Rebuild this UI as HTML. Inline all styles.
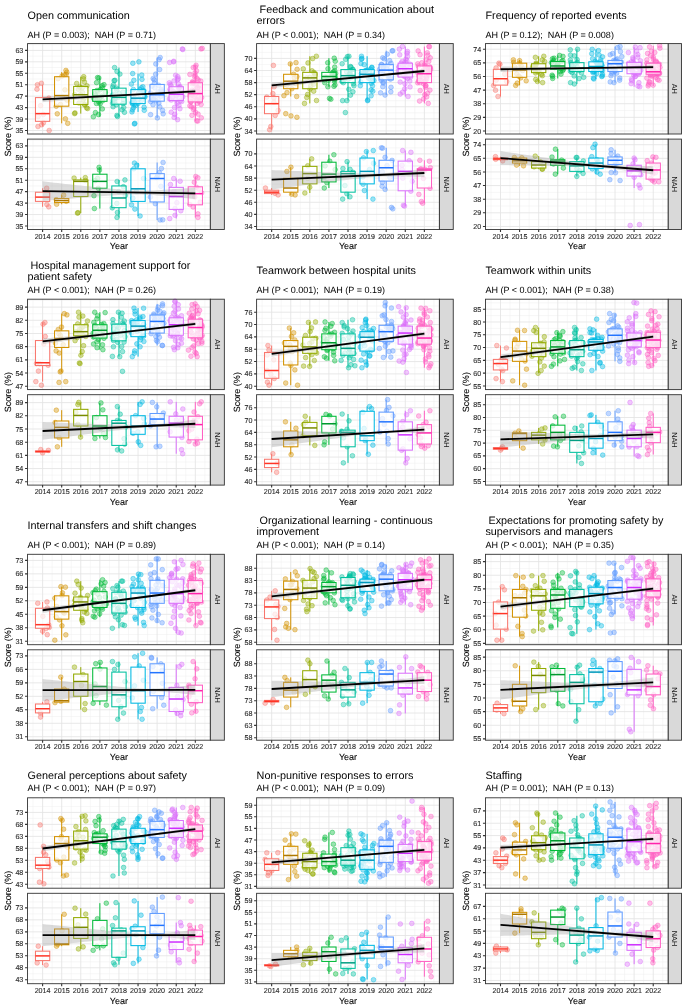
<!DOCTYPE html><html><head><meta charset="utf-8"><style>html,body{margin:0;padding:0;background:#fff;width:685px;height:1006px;overflow:hidden}svg{display:block;font-family:"Liberation Sans",sans-serif;filter:blur(0.3px)}</style></head><body><svg width="685" height="1006" viewBox="0 0 685 1006" font-family="Liberation Sans, sans-serif" text-rendering="geometricPrecision"><text x="27.55" y="18.6" font-size="10.82" fill="#000" xml:space="preserve">Open communication</text><text x="27.55" y="37.5" font-size="9.02" fill="#000" xml:space="preserve">AH (P = 0.003);  NAH (P = 0.71)</text><rect x="27.55" y="43.6" width="182.8" height="90.4" fill="#fff"/><path d="M27.55 44.68H210.35M27.55 56.12H210.35M27.55 67.56H210.35M27.55 79.01H210.35M27.55 90.45H210.35M27.55 101.89H210.35M27.55 113.34H210.35M27.55 124.78H210.35M33.05 43.6V134M52.15 43.6V134M71.23 43.6V134M90.33 43.6V134M109.42 43.6V134M128.5 43.6V134M147.59 43.6V134M166.68 43.6V134M185.77 43.6V134M204.86 43.6V134" stroke="#EEEEEE" stroke-width="0.5" fill="none"/><path d="M27.55 50.4H210.35M27.55 61.84H210.35M27.55 73.29H210.35M27.55 84.73H210.35M27.55 96.17H210.35M27.55 107.61H210.35M27.55 119.06H210.35M27.55 130.5H210.35M42.6 43.6V134M61.69 43.6V134M80.78 43.6V134M99.87 43.6V134M118.96 43.6V134M138.05 43.6V134M157.14 43.6V134M176.23 43.6V134M195.32 43.6V134" stroke="#E4E4E4" stroke-width="0.85" fill="none"/><g fill="#F8766D" fill-opacity="0.4" stroke="#F8766D" stroke-opacity="0.7" stroke-width="0.6"><circle cx="37.95" cy="126.5" r="2.35"/><circle cx="37.44" cy="84.73" r="2.35"/><circle cx="41.68" cy="124.77" r="2.35"/><circle cx="43.45" cy="122.76" r="2.35"/><circle cx="38.12" cy="116.6" r="2.35"/><circle cx="43.33" cy="114.51" r="2.35"/><circle cx="40.61" cy="105.67" r="2.35"/><circle cx="48.9" cy="98.12" r="2.35"/><circle cx="36.98" cy="89.21" r="2.35"/><circle cx="49.18" cy="130.5" r="2.35"/><circle cx="41.39" cy="83.3" r="2.35"/></g><g fill="#D39200" fill-opacity="0.4" stroke="#D39200" stroke-opacity="0.7" stroke-width="0.6"><circle cx="67.74" cy="123.35" r="2.35"/><circle cx="66.79" cy="72.14" r="2.35"/><circle cx="65.41" cy="118.85" r="2.35"/><circle cx="57.28" cy="113.81" r="2.35"/><circle cx="56.19" cy="106.2" r="2.35"/><circle cx="60.52" cy="104.49" r="2.35"/><circle cx="66.99" cy="100.06" r="2.35"/><circle cx="62.76" cy="97.43" r="2.35"/><circle cx="64.94" cy="89.84" r="2.35"/><circle cx="58.01" cy="78.66" r="2.35"/><circle cx="62.01" cy="76.09" r="2.35"/><circle cx="64.57" cy="74.88" r="2.35"/><circle cx="66.15" cy="74.39" r="2.35"/><circle cx="65.91" cy="70.42" r="2.35"/></g><g fill="#93AA00" fill-opacity="0.4" stroke="#93AA00" stroke-opacity="0.7" stroke-width="0.6"><circle cx="74.59" cy="113.62" r="2.35"/><circle cx="83.69" cy="76.72" r="2.35"/><circle cx="74.99" cy="112.92" r="2.35"/><circle cx="87.58" cy="108.55" r="2.35"/><circle cx="86.56" cy="107.78" r="2.35"/><circle cx="84.75" cy="105.03" r="2.35"/><circle cx="84.52" cy="104.35" r="2.35"/><circle cx="78.96" cy="102.99" r="2.35"/><circle cx="83.24" cy="99.95" r="2.35"/><circle cx="84.37" cy="97.94" r="2.35"/><circle cx="80.52" cy="94.83" r="2.35"/><circle cx="74.75" cy="94.66" r="2.35"/><circle cx="82.51" cy="92.59" r="2.35"/><circle cx="78.39" cy="89.24" r="2.35"/><circle cx="82.29" cy="87.68" r="2.35"/><circle cx="79.69" cy="87.09" r="2.35"/><circle cx="87" cy="85.81" r="2.35"/><circle cx="76.68" cy="83.48" r="2.35"/><circle cx="84.48" cy="82.03" r="2.35"/><circle cx="83.51" cy="78.83" r="2.35"/></g><g fill="#00BA38" fill-opacity="0.4" stroke="#00BA38" stroke-opacity="0.7" stroke-width="0.6"><circle cx="93.37" cy="116.77" r="2.35"/><circle cx="97.54" cy="77.58" r="2.35"/><circle cx="98.42" cy="114.58" r="2.35"/><circle cx="95.44" cy="112.63" r="2.35"/><circle cx="102.34" cy="108.93" r="2.35"/><circle cx="100.12" cy="103.99" r="2.35"/><circle cx="96.42" cy="103.42" r="2.35"/><circle cx="98.68" cy="101.82" r="2.35"/><circle cx="102.51" cy="100.84" r="2.35"/><circle cx="97.46" cy="99.72" r="2.35"/><circle cx="93.93" cy="98.84" r="2.35"/><circle cx="99.33" cy="98.41" r="2.35"/><circle cx="95.68" cy="97.51" r="2.35"/><circle cx="101.54" cy="96.17" r="2.35"/><circle cx="95.77" cy="95.39" r="2.35"/><circle cx="94.85" cy="93.76" r="2.35"/><circle cx="105.28" cy="92.4" r="2.35"/><circle cx="97.54" cy="92.06" r="2.35"/><circle cx="97.02" cy="90.44" r="2.35"/><circle cx="100.4" cy="89.54" r="2.35"/><circle cx="102.53" cy="87.93" r="2.35"/><circle cx="102.22" cy="85.72" r="2.35"/><circle cx="103.97" cy="84.68" r="2.35"/><circle cx="96.57" cy="82.64" r="2.35"/><circle cx="98.86" cy="77.96" r="2.35"/></g><g fill="#00C19F" fill-opacity="0.4" stroke="#00C19F" stroke-opacity="0.7" stroke-width="0.6"><circle cx="117.54" cy="116.48" r="2.35"/><circle cx="114.59" cy="67.56" r="2.35"/><circle cx="116.89" cy="115.42" r="2.35"/><circle cx="124.48" cy="112.29" r="2.35"/><circle cx="122.06" cy="109.73" r="2.35"/><circle cx="123.72" cy="107.52" r="2.35"/><circle cx="113.13" cy="106.72" r="2.35"/><circle cx="116.22" cy="104.83" r="2.35"/><circle cx="122.87" cy="103.68" r="2.35"/><circle cx="112.64" cy="103.32" r="2.35"/><circle cx="114.7" cy="101.44" r="2.35"/><circle cx="113.21" cy="100.41" r="2.35"/><circle cx="123.32" cy="99.62" r="2.35"/><circle cx="115.28" cy="98.47" r="2.35"/><circle cx="117.92" cy="97.57" r="2.35"/><circle cx="112.28" cy="95.5" r="2.35"/><circle cx="113.65" cy="94.42" r="2.35"/><circle cx="119.15" cy="93.27" r="2.35"/><circle cx="122.96" cy="92.15" r="2.35"/><circle cx="116.77" cy="90.22" r="2.35"/><circle cx="116.48" cy="88.07" r="2.35"/><circle cx="112.65" cy="86.99" r="2.35"/><circle cx="113.46" cy="84.78" r="2.35"/><circle cx="114.13" cy="80.67" r="2.35"/><circle cx="114.92" cy="80.33" r="2.35"/><circle cx="119.92" cy="74.07" r="2.35"/><circle cx="117.02" cy="71.45" r="2.35"/></g><g fill="#00B9E3" fill-opacity="0.4" stroke="#00B9E3" stroke-opacity="0.7" stroke-width="0.6"><circle cx="131.96" cy="111.91" r="2.35"/><circle cx="132.69" cy="73.57" r="2.35"/><circle cx="144.26" cy="110.29" r="2.35"/><circle cx="132.5" cy="109.8" r="2.35"/><circle cx="133.57" cy="107.52" r="2.35"/><circle cx="144.1" cy="107.21" r="2.35"/><circle cx="135.42" cy="105.52" r="2.35"/><circle cx="134.15" cy="104.55" r="2.35"/><circle cx="132.5" cy="103.8" r="2.35"/><circle cx="138.04" cy="103.49" r="2.35"/><circle cx="131.99" cy="102.65" r="2.35"/><circle cx="134.2" cy="101.71" r="2.35"/><circle cx="134.23" cy="101.43" r="2.35"/><circle cx="141.42" cy="100.4" r="2.35"/><circle cx="133.41" cy="99.61" r="2.35"/><circle cx="139.26" cy="98.71" r="2.35"/><circle cx="134.5" cy="98.43" r="2.35"/><circle cx="144.84" cy="97.09" r="2.35"/><circle cx="144.79" cy="96.37" r="2.35"/><circle cx="143.88" cy="94.43" r="2.35"/><circle cx="143.55" cy="93" r="2.35"/><circle cx="138.79" cy="92.43" r="2.35"/><circle cx="143.97" cy="90.7" r="2.35"/><circle cx="139.97" cy="89.7" r="2.35"/><circle cx="133.37" cy="89.48" r="2.35"/><circle cx="141.24" cy="87.74" r="2.35"/><circle cx="142.85" cy="86.74" r="2.35"/><circle cx="131.38" cy="84.07" r="2.35"/><circle cx="133.86" cy="80.28" r="2.35"/><circle cx="141.96" cy="79.36" r="2.35"/><circle cx="141.73" cy="74.99" r="2.35"/><circle cx="138.88" cy="61.84" r="2.35"/><circle cx="132.86" cy="63.27" r="2.35"/><circle cx="134.82" cy="123.35" r="2.35"/><circle cx="134.42" cy="123.92" r="2.35"/></g><g fill="#619CFF" fill-opacity="0.4" stroke="#619CFF" stroke-opacity="0.7" stroke-width="0.6"><circle cx="157.37" cy="117.91" r="2.35"/><circle cx="160.17" cy="57.55" r="2.35"/><circle cx="150.59" cy="114.64" r="2.35"/><circle cx="163.18" cy="113.85" r="2.35"/><circle cx="162.62" cy="110.42" r="2.35"/><circle cx="159.8" cy="106.94" r="2.35"/><circle cx="153.04" cy="104.74" r="2.35"/><circle cx="158.87" cy="103.06" r="2.35"/><circle cx="150.65" cy="101.58" r="2.35"/><circle cx="155.73" cy="100.63" r="2.35"/><circle cx="153.23" cy="99.7" r="2.35"/><circle cx="157.98" cy="99.53" r="2.35"/><circle cx="153.71" cy="98.71" r="2.35"/><circle cx="151.54" cy="97.04" r="2.35"/><circle cx="161.18" cy="96.15" r="2.35"/><circle cx="153.72" cy="95.75" r="2.35"/><circle cx="157.96" cy="94.83" r="2.35"/><circle cx="150.5" cy="93.06" r="2.35"/><circle cx="158.01" cy="92.01" r="2.35"/><circle cx="161.12" cy="91.03" r="2.35"/><circle cx="161.06" cy="89.42" r="2.35"/><circle cx="154.78" cy="87.92" r="2.35"/><circle cx="152.03" cy="86.12" r="2.35"/><circle cx="158.64" cy="85.26" r="2.35"/><circle cx="154.48" cy="83.11" r="2.35"/><circle cx="154.2" cy="79.89" r="2.35"/><circle cx="153.16" cy="78.55" r="2.35"/><circle cx="155.67" cy="74.16" r="2.35"/><circle cx="159.64" cy="69.56" r="2.35"/><circle cx="155.79" cy="63.95" r="2.35"/><circle cx="159.15" cy="59.59" r="2.35"/></g><g fill="#DB72FB" fill-opacity="0.4" stroke="#DB72FB" stroke-opacity="0.7" stroke-width="0.6"><circle cx="177.61" cy="119.63" r="2.35"/><circle cx="175.65" cy="75.29" r="2.35"/><circle cx="174.13" cy="117.41" r="2.35"/><circle cx="174.75" cy="114.29" r="2.35"/><circle cx="171.24" cy="112.22" r="2.35"/><circle cx="179.91" cy="108.68" r="2.35"/><circle cx="174.5" cy="107.51" r="2.35"/><circle cx="178.84" cy="105.34" r="2.35"/><circle cx="177.16" cy="103.31" r="2.35"/><circle cx="181.73" cy="101.45" r="2.35"/><circle cx="180.3" cy="100.74" r="2.35"/><circle cx="171.18" cy="100.01" r="2.35"/><circle cx="175.56" cy="99.84" r="2.35"/><circle cx="169.51" cy="98.98" r="2.35"/><circle cx="179.74" cy="98.11" r="2.35"/><circle cx="172.53" cy="97.41" r="2.35"/><circle cx="182.78" cy="96.67" r="2.35"/><circle cx="172.46" cy="96.37" r="2.35"/><circle cx="176.34" cy="95.66" r="2.35"/><circle cx="176.11" cy="94.91" r="2.35"/><circle cx="180.73" cy="94.24" r="2.35"/><circle cx="177.54" cy="93.69" r="2.35"/><circle cx="181.47" cy="92.65" r="2.35"/><circle cx="173.75" cy="91.64" r="2.35"/><circle cx="170.7" cy="90.76" r="2.35"/><circle cx="171.91" cy="90.37" r="2.35"/><circle cx="169.99" cy="89.25" r="2.35"/><circle cx="179.08" cy="88.34" r="2.35"/><circle cx="178.79" cy="88.01" r="2.35"/><circle cx="179.73" cy="87.32" r="2.35"/><circle cx="180.09" cy="86.62" r="2.35"/><circle cx="171.08" cy="85.64" r="2.35"/><circle cx="170.24" cy="84.44" r="2.35"/><circle cx="178.42" cy="83.91" r="2.35"/><circle cx="169.37" cy="82.77" r="2.35"/><circle cx="173.99" cy="80.94" r="2.35"/><circle cx="177.43" cy="79.89" r="2.35"/><circle cx="178.33" cy="78.73" r="2.35"/><circle cx="177.82" cy="76.66" r="2.35"/><circle cx="182.41" cy="48.97" r="2.35"/><circle cx="182.75" cy="49.54" r="2.35"/><circle cx="173.63" cy="61.84" r="2.35"/><circle cx="173.69" cy="61.27" r="2.35"/><circle cx="169.65" cy="62.42" r="2.35"/></g><g fill="#FF61C3" fill-opacity="0.4" stroke="#FF61C3" stroke-opacity="0.7" stroke-width="0.6"><circle cx="197.84" cy="121.06" r="2.35"/><circle cx="196.08" cy="65.28" r="2.35"/><circle cx="196.7" cy="120.78" r="2.35"/><circle cx="201.33" cy="117.85" r="2.35"/><circle cx="191.96" cy="115.32" r="2.35"/><circle cx="198.1" cy="114.12" r="2.35"/><circle cx="195.56" cy="112.45" r="2.35"/><circle cx="193.51" cy="109.61" r="2.35"/><circle cx="193.96" cy="107.99" r="2.35"/><circle cx="191.23" cy="106.74" r="2.35"/><circle cx="189.83" cy="105.84" r="2.35"/><circle cx="201.11" cy="104.5" r="2.35"/><circle cx="197.25" cy="103.34" r="2.35"/><circle cx="190.78" cy="102.12" r="2.35"/><circle cx="199.49" cy="101.61" r="2.35"/><circle cx="190.99" cy="101.53" r="2.35"/><circle cx="197.55" cy="100.28" r="2.35"/><circle cx="196.51" cy="99.63" r="2.35"/><circle cx="199.4" cy="99.04" r="2.35"/><circle cx="194.11" cy="98.75" r="2.35"/><circle cx="201.58" cy="97.6" r="2.35"/><circle cx="198.33" cy="97.04" r="2.35"/><circle cx="194.62" cy="96.82" r="2.35"/><circle cx="190.11" cy="96.23" r="2.35"/><circle cx="192" cy="95.34" r="2.35"/><circle cx="190.27" cy="94.54" r="2.35"/><circle cx="195.61" cy="94.24" r="2.35"/><circle cx="199.52" cy="92.77" r="2.35"/><circle cx="198.65" cy="92.14" r="2.35"/><circle cx="197.2" cy="91.41" r="2.35"/><circle cx="194.31" cy="90.56" r="2.35"/><circle cx="192.28" cy="90.03" r="2.35"/><circle cx="199.5" cy="88.6" r="2.35"/><circle cx="197.67" cy="87.73" r="2.35"/><circle cx="197.57" cy="87.49" r="2.35"/><circle cx="196.12" cy="85.94" r="2.35"/><circle cx="199.31" cy="85.46" r="2.35"/><circle cx="196.54" cy="84.09" r="2.35"/><circle cx="192.07" cy="83.73" r="2.35"/><circle cx="193.58" cy="82.98" r="2.35"/><circle cx="192.7" cy="82.5" r="2.35"/><circle cx="192.46" cy="81.75" r="2.35"/><circle cx="200.8" cy="81.1" r="2.35"/><circle cx="198.23" cy="79.96" r="2.35"/><circle cx="196.88" cy="78.35" r="2.35"/><circle cx="194.65" cy="76.85" r="2.35"/><circle cx="195.12" cy="75.32" r="2.35"/><circle cx="189.89" cy="74.4" r="2.35"/><circle cx="194.97" cy="72.9" r="2.35"/><circle cx="196.53" cy="70.9" r="2.35"/><circle cx="193.26" cy="67.53" r="2.35"/><circle cx="195.42" cy="67.05" r="2.35"/><circle cx="202.18" cy="48.4" r="2.35"/><circle cx="201" cy="48.97" r="2.35"/></g><path d="M42.6 84.73V97.6M42.6 121.35V126.5" stroke="#F8766D" stroke-width="1.0" fill="none"/><rect x="35.45" y="97.6" width="14.3" height="23.74" fill="#fff" fill-opacity="0.72" stroke="#F8766D" stroke-width="1.05"/><path d="M35.45 113.62H49.75" stroke="#FF3426" stroke-width="1.5"/><path d="M61.69 72.14V76.72M61.69 106.18V123.35" stroke="#D39200" stroke-width="1.0" fill="none"/><rect x="54.54" y="76.72" width="14.3" height="29.47" fill="#fff" fill-opacity="0.72" stroke="#D39200" stroke-width="1.05"/><path d="M54.54 95.6H68.84" stroke="#AD7800" stroke-width="1.5"/><path d="M80.78 76.72V86.45M80.78 104.47V113.62" stroke="#93AA00" stroke-width="1.0" fill="none"/><rect x="73.63" y="86.45" width="14.3" height="18.02" fill="#fff" fill-opacity="0.72" stroke="#93AA00" stroke-width="1.05"/><path d="M73.63 94.74H87.93" stroke="#798B00" stroke-width="1.5"/><path d="M99.87 77.58V89.59M99.87 101.32V116.77" stroke="#00BA38" stroke-width="1.0" fill="none"/><rect x="92.72" y="89.59" width="14.3" height="11.73" fill="#fff" fill-opacity="0.72" stroke="#00BA38" stroke-width="1.05"/><path d="M92.72 96.17H107.02" stroke="#00992E" stroke-width="1.5"/><path d="M118.96 67.56V88.16M118.96 104.18V116.48" stroke="#00C19F" stroke-width="1.0" fill="none"/><rect x="111.81" y="88.16" width="14.3" height="16.02" fill="#fff" fill-opacity="0.72" stroke="#00C19F" stroke-width="1.05"/><path d="M111.81 97.32H126.11" stroke="#009E82" stroke-width="1.5"/><path d="M138.05 73.57V89.59M138.05 103.61V111.91" stroke="#00B9E3" stroke-width="1.0" fill="none"/><rect x="130.9" y="89.59" width="14.3" height="14.02" fill="#fff" fill-opacity="0.72" stroke="#00B9E3" stroke-width="1.05"/><path d="M130.9 98.17H145.2" stroke="#0098BA" stroke-width="1.5"/><path d="M157.14 57.55V84.44M157.14 101.18V117.91" stroke="#619CFF" stroke-width="1.0" fill="none"/><rect x="149.99" y="84.44" width="14.3" height="16.74" fill="#fff" fill-opacity="0.72" stroke="#619CFF" stroke-width="1.05"/><path d="M149.99 94.74H164.29" stroke="#2274FF" stroke-width="1.5"/><path d="M176.23 75.29V86.73M176.23 100.46V119.63" stroke="#DB72FB" stroke-width="1.0" fill="none"/><rect x="169.08" y="86.73" width="14.3" height="13.73" fill="#fff" fill-opacity="0.72" stroke="#DB72FB" stroke-width="1.05"/><path d="M169.08 94.17H183.38" stroke="#CE2CFF" stroke-width="1.5"/><path d="M195.32 65.28V82.73M195.32 101.89V121.06" stroke="#FF61C3" stroke-width="1.0" fill="none"/><rect x="188.17" y="82.73" width="14.3" height="19.17" fill="#fff" fill-opacity="0.72" stroke="#FF61C3" stroke-width="1.05"/><path d="M188.17 93.6H202.47" stroke="#FF22AB" stroke-width="1.5"/><path d="M42.6 96.46L46.42 96.36L50.24 96.27L54.05 96.18L57.87 96.08L61.69 95.99L65.51 95.89L69.33 95.79L73.14 95.69L76.96 95.59L80.78 95.49L84.6 95.39L88.42 95.29L92.23 95.18L96.05 95.07L99.87 94.96L103.69 94.84L107.51 94.72L111.32 94.59L115.14 94.46L118.96 94.31L122.78 94.16L126.6 93.99L130.41 93.82L134.23 93.62L138.05 93.42L141.87 93.2L145.69 92.96L149.5 92.72L153.32 92.46L157.14 92.2L160.96 91.93L164.78 91.65L168.59 91.37L172.41 91.08L176.23 90.79L180.05 90.5L183.87 90.2L187.68 89.91L191.5 89.61L195.32 89.31L195.32 93.31L191.5 93.41L187.68 93.51L183.87 93.61L180.05 93.72L176.23 93.83L172.41 93.94L168.59 94.05L164.78 94.17L160.96 94.29L157.14 94.42L153.32 94.56L149.5 94.7L145.69 94.86L141.87 95.03L138.05 95.21L134.23 95.4L130.41 95.61L126.6 95.83L122.78 96.07L118.96 96.31L115.14 96.57L111.32 96.84L107.51 97.11L103.69 97.39L99.87 97.67L96.05 97.96L92.23 98.25L88.42 98.54L84.6 98.84L80.78 99.14L76.96 99.44L73.14 99.74L69.33 100.04L65.51 100.34L61.69 100.65L57.87 100.95L54.05 101.26L50.24 101.56L46.42 101.87L42.6 102.18Z" fill="#999999" fill-opacity="0.34"/><path d="M42.6 99.32L195.32 91.31" stroke="#000" stroke-width="1.85"/><rect x="27.55" y="43.6" width="182.8" height="90.4" fill="none" stroke="#333" stroke-width="0.9"/><rect x="210.35" y="43.6" width="14" height="90.4" fill="#D9D9D9" stroke="#333" stroke-width="0.9"/><text x="217.35" y="88.8" transform="rotate(90 217.35 88.8)" font-size="7.35" fill="#1A1A1A" text-anchor="middle" dy="0.36em">AH</text><text x="23.35" y="50.4" dy="0.36em" text-anchor="end" font-size="7.15" fill="#2E2E2E" stroke="#2E2E2E" stroke-width="0.12">63</text><text x="23.35" y="61.84" dy="0.36em" text-anchor="end" font-size="7.15" fill="#2E2E2E" stroke="#2E2E2E" stroke-width="0.12">59</text><text x="23.35" y="73.29" dy="0.36em" text-anchor="end" font-size="7.15" fill="#2E2E2E" stroke="#2E2E2E" stroke-width="0.12">55</text><text x="23.35" y="84.73" dy="0.36em" text-anchor="end" font-size="7.15" fill="#2E2E2E" stroke="#2E2E2E" stroke-width="0.12">51</text><text x="23.35" y="96.17" dy="0.36em" text-anchor="end" font-size="7.15" fill="#2E2E2E" stroke="#2E2E2E" stroke-width="0.12">47</text><text x="23.35" y="107.61" dy="0.36em" text-anchor="end" font-size="7.15" fill="#2E2E2E" stroke="#2E2E2E" stroke-width="0.12">43</text><text x="23.35" y="119.06" dy="0.36em" text-anchor="end" font-size="7.15" fill="#2E2E2E" stroke="#2E2E2E" stroke-width="0.12">39</text><text x="23.35" y="130.5" dy="0.36em" text-anchor="end" font-size="7.15" fill="#2E2E2E" stroke="#2E2E2E" stroke-width="0.12">35</text><path d="M25.05 50.4H27.55M25.05 61.84H27.55M25.05 73.29H27.55M25.05 84.73H27.55M25.05 96.17H27.55M25.05 107.61H27.55M25.05 119.06H27.55M25.05 130.5H27.55" stroke="#333" stroke-width="1.1"/><rect x="27.55" y="139.1" width="182.8" height="90.4" fill="#fff"/><path d="M27.55 140.18H210.35M27.55 151.62H210.35M27.55 163.06H210.35M27.55 174.51H210.35M27.55 185.95H210.35M27.55 197.39H210.35M27.55 208.84H210.35M27.55 220.28H210.35M33.05 139.1V229.5M52.15 139.1V229.5M71.23 139.1V229.5M90.33 139.1V229.5M109.42 139.1V229.5M128.5 139.1V229.5M147.59 139.1V229.5M166.68 139.1V229.5M185.77 139.1V229.5M204.86 139.1V229.5" stroke="#EEEEEE" stroke-width="0.5" fill="none"/><path d="M27.55 145.9H210.35M27.55 157.34H210.35M27.55 168.79H210.35M27.55 180.23H210.35M27.55 191.67H210.35M27.55 203.11H210.35M27.55 214.56H210.35M27.55 226H210.35M42.6 139.1V229.5M61.69 139.1V229.5M80.78 139.1V229.5M99.87 139.1V229.5M118.96 139.1V229.5M138.05 139.1V229.5M157.14 139.1V229.5M176.23 139.1V229.5M195.32 139.1V229.5" stroke="#E4E4E4" stroke-width="0.85" fill="none"/><g fill="#F8766D" fill-opacity="0.4" stroke="#F8766D" stroke-opacity="0.7" stroke-width="0.6"><circle cx="48.73" cy="206.83" r="2.35"/><circle cx="46.65" cy="188.24" r="2.35"/><circle cx="46.89" cy="204.53" r="2.35"/></g><g fill="#D39200" fill-opacity="0.4" stroke="#D39200" stroke-opacity="0.7" stroke-width="0.6"><circle cx="56.63" cy="204.26" r="2.35"/><circle cx="63.64" cy="195.1" r="2.35"/><circle cx="66.2" cy="201.32" r="2.35"/><circle cx="56.22" cy="199.7" r="2.35"/></g><g fill="#93AA00" fill-opacity="0.4" stroke="#93AA00" stroke-opacity="0.7" stroke-width="0.6"><circle cx="77.5" cy="213.13" r="2.35"/><circle cx="85.3" cy="177.65" r="2.35"/><circle cx="78.01" cy="212.65" r="2.35"/><circle cx="85.47" cy="180.52" r="2.35"/><circle cx="74.09" cy="178.05" r="2.35"/></g><g fill="#00BA38" fill-opacity="0.4" stroke="#00BA38" stroke-opacity="0.7" stroke-width="0.6"><circle cx="94.37" cy="208.55" r="2.35"/><circle cx="99.1" cy="167.36" r="2.35"/><circle cx="93.96" cy="195.71" r="2.35"/><circle cx="98.27" cy="188.3" r="2.35"/><circle cx="95.14" cy="180.6" r="2.35"/><circle cx="97.51" cy="178.37" r="2.35"/><circle cx="99.45" cy="170.05" r="2.35"/></g><g fill="#00C19F" fill-opacity="0.4" stroke="#00C19F" stroke-opacity="0.7" stroke-width="0.6"><circle cx="117" cy="217.42" r="2.35"/><circle cx="124.94" cy="179.94" r="2.35"/><circle cx="117.45" cy="212.48" r="2.35"/><circle cx="112.28" cy="207.86" r="2.35"/><circle cx="116.81" cy="203.39" r="2.35"/><circle cx="125.28" cy="195.54" r="2.35"/><circle cx="118.66" cy="191.71" r="2.35"/><circle cx="123.4" cy="186.68" r="2.35"/><circle cx="117.15" cy="181.49" r="2.35"/></g><g fill="#00B9E3" fill-opacity="0.4" stroke="#00B9E3" stroke-opacity="0.7" stroke-width="0.6"><circle cx="140.09" cy="215.99" r="2.35"/><circle cx="134.48" cy="163.06" r="2.35"/><circle cx="134.86" cy="209.08" r="2.35"/><circle cx="131.52" cy="204.89" r="2.35"/><circle cx="132.85" cy="198.14" r="2.35"/><circle cx="136.42" cy="191.66" r="2.35"/><circle cx="143.54" cy="178.48" r="2.35"/><circle cx="133.77" cy="168.74" r="2.35"/><circle cx="136.78" cy="165.09" r="2.35"/></g><g fill="#619CFF" fill-opacity="0.4" stroke="#619CFF" stroke-opacity="0.7" stroke-width="0.6"><circle cx="160.06" cy="219.99" r="2.35"/><circle cx="163.09" cy="162.49" r="2.35"/><circle cx="162.73" cy="219.82" r="2.35"/><circle cx="155.3" cy="203.65" r="2.35"/><circle cx="150.43" cy="197.03" r="2.35"/><circle cx="160.84" cy="186.36" r="2.35"/><circle cx="156.61" cy="177.56" r="2.35"/><circle cx="157.76" cy="175.42" r="2.35"/><circle cx="159.28" cy="172.62" r="2.35"/><circle cx="161.42" cy="168.56" r="2.35"/></g><g fill="#DB72FB" fill-opacity="0.4" stroke="#DB72FB" stroke-opacity="0.7" stroke-width="0.6"><circle cx="169.73" cy="218.56" r="2.35"/><circle cx="173.73" cy="178.51" r="2.35"/><circle cx="175.02" cy="215.25" r="2.35"/><circle cx="180.83" cy="210.78" r="2.35"/><circle cx="175.04" cy="208.56" r="2.35"/><circle cx="176.87" cy="202.7" r="2.35"/><circle cx="172.99" cy="195.78" r="2.35"/><circle cx="173.8" cy="191.25" r="2.35"/><circle cx="170.45" cy="184.52" r="2.35"/><circle cx="180.12" cy="181.23" r="2.35"/></g><g fill="#FF61C3" fill-opacity="0.4" stroke="#FF61C3" stroke-opacity="0.7" stroke-width="0.6"><circle cx="197.94" cy="217.42" r="2.35"/><circle cx="195.75" cy="176.51" r="2.35"/><circle cx="197.96" cy="213.91" r="2.35"/><circle cx="193.1" cy="206.98" r="2.35"/><circle cx="189.85" cy="204.51" r="2.35"/><circle cx="200.24" cy="202.2" r="2.35"/><circle cx="194.76" cy="196.94" r="2.35"/><circle cx="201.62" cy="192.79" r="2.35"/><circle cx="198.51" cy="188.78" r="2.35"/><circle cx="196.34" cy="187.23" r="2.35"/><circle cx="194.32" cy="182.19" r="2.35"/><circle cx="197.88" cy="177.74" r="2.35"/></g><path d="M42.6 188.24V192.24M42.6 201.4V206.83" stroke="#F8766D" stroke-width="1.0" fill="none"/><rect x="35.45" y="192.24" width="14.3" height="9.15" fill="#fff" fill-opacity="0.72" stroke="#F8766D" stroke-width="1.05"/><path d="M35.45 197.11H49.75" stroke="#FF3426" stroke-width="1.5"/><path d="M61.69 195.1V198.54M61.69 202.54V204.26" stroke="#D39200" stroke-width="1.0" fill="none"/><rect x="54.54" y="198.54" width="14.3" height="4" fill="#fff" fill-opacity="0.72" stroke="#D39200" stroke-width="1.05"/><path d="M54.54 200.54H68.84" stroke="#AD7800" stroke-width="1.5"/><path d="M80.78 177.65V179.94M80.78 196.53V213.13" stroke="#93AA00" stroke-width="1.0" fill="none"/><rect x="73.63" y="179.94" width="14.3" height="16.59" fill="#fff" fill-opacity="0.72" stroke="#93AA00" stroke-width="1.05"/><path d="M73.63 181.37H87.93" stroke="#798B00" stroke-width="1.5"/><path d="M99.87 167.36V174.22M99.87 188.24V208.55" stroke="#00BA38" stroke-width="1.0" fill="none"/><rect x="92.72" y="174.22" width="14.3" height="14.02" fill="#fff" fill-opacity="0.72" stroke="#00BA38" stroke-width="1.05"/><path d="M92.72 181.37H107.02" stroke="#00992E" stroke-width="1.5"/><path d="M118.96 179.94V185.95M118.96 207.69V217.42" stroke="#00C19F" stroke-width="1.0" fill="none"/><rect x="111.81" y="185.95" width="14.3" height="21.74" fill="#fff" fill-opacity="0.72" stroke="#00C19F" stroke-width="1.05"/><path d="M111.81 197.97H126.11" stroke="#009E82" stroke-width="1.5"/><path d="M138.05 163.06V168.79M138.05 201.4V215.99" stroke="#00B9E3" stroke-width="1.0" fill="none"/><rect x="130.9" y="168.79" width="14.3" height="32.61" fill="#fff" fill-opacity="0.72" stroke="#00B9E3" stroke-width="1.05"/><path d="M130.9 188.81H145.2" stroke="#0098BA" stroke-width="1.5"/><path d="M157.14 162.49V173.65M157.14 201.97V219.99" stroke="#619CFF" stroke-width="1.0" fill="none"/><rect x="149.99" y="173.65" width="14.3" height="28.32" fill="#fff" fill-opacity="0.72" stroke="#619CFF" stroke-width="1.05"/><path d="M149.99 178.51H164.29" stroke="#2274FF" stroke-width="1.5"/><path d="M176.23 178.51V187.38M176.23 209.41V218.56" stroke="#DB72FB" stroke-width="1.0" fill="none"/><rect x="169.08" y="187.38" width="14.3" height="22.03" fill="#fff" fill-opacity="0.72" stroke="#DB72FB" stroke-width="1.05"/><path d="M169.08 196.53H183.38" stroke="#CE2CFF" stroke-width="1.5"/><path d="M195.32 176.51V186.81M195.32 204.83V217.42" stroke="#FF61C3" stroke-width="1.0" fill="none"/><rect x="188.17" y="186.81" width="14.3" height="18.02" fill="#fff" fill-opacity="0.72" stroke="#FF61C3" stroke-width="1.05"/><path d="M188.17 193.67H202.47" stroke="#FF22AB" stroke-width="1.5"/><path d="M42.6 181.37L46.42 181.79L50.24 182.22L54.05 182.64L57.87 183.06L61.69 183.47L65.51 183.89L69.33 184.31L73.14 184.72L76.96 185.13L80.78 185.55L84.6 185.95L88.42 186.36L92.23 186.76L96.05 187.16L99.87 187.55L103.69 187.94L107.51 188.32L111.32 188.69L115.14 189.04L118.96 189.38L122.78 189.7L126.6 189.98L130.41 190.23L134.23 190.42L138.05 190.55L141.87 190.61L145.69 190.61L149.5 190.54L153.32 190.41L157.14 190.25L160.96 190.05L164.78 189.83L168.59 189.59L172.41 189.34L176.23 189.08L180.05 188.81L183.87 188.53L187.68 188.24L191.5 187.96L195.32 187.67L195.32 199.11L191.5 198.7L187.68 198.3L183.87 197.9L180.05 197.51L176.23 197.13L172.41 196.75L168.59 196.38L164.78 196.03L160.96 195.69L157.14 195.38L153.32 195.1L149.5 194.87L145.69 194.68L141.87 194.56L138.05 194.51L134.23 194.53L130.41 194.6L126.6 194.73L122.78 194.9L118.96 195.1L115.14 195.33L111.32 195.57L107.51 195.82L103.69 196.09L99.87 196.36L96.05 196.64L92.23 196.92L88.42 197.21L84.6 197.5L80.78 197.8L76.96 198.09L73.14 198.39L69.33 198.69L65.51 198.99L61.69 199.3L57.87 199.6L54.05 199.91L50.24 200.21L46.42 200.52L42.6 200.83Z" fill="#999999" fill-opacity="0.34"/><path d="M42.6 191.1L195.32 193.39" stroke="#000" stroke-width="1.85"/><rect x="27.55" y="139.1" width="182.8" height="90.4" fill="none" stroke="#333" stroke-width="0.9"/><rect x="210.35" y="139.1" width="14" height="90.4" fill="#D9D9D9" stroke="#333" stroke-width="0.9"/><text x="217.35" y="184.3" transform="rotate(90 217.35 184.3)" font-size="7.35" fill="#1A1A1A" text-anchor="middle" dy="0.36em">NAH</text><text x="23.35" y="145.9" dy="0.36em" text-anchor="end" font-size="7.15" fill="#2E2E2E" stroke="#2E2E2E" stroke-width="0.12">63</text><text x="23.35" y="157.34" dy="0.36em" text-anchor="end" font-size="7.15" fill="#2E2E2E" stroke="#2E2E2E" stroke-width="0.12">59</text><text x="23.35" y="168.79" dy="0.36em" text-anchor="end" font-size="7.15" fill="#2E2E2E" stroke="#2E2E2E" stroke-width="0.12">55</text><text x="23.35" y="180.23" dy="0.36em" text-anchor="end" font-size="7.15" fill="#2E2E2E" stroke="#2E2E2E" stroke-width="0.12">51</text><text x="23.35" y="191.67" dy="0.36em" text-anchor="end" font-size="7.15" fill="#2E2E2E" stroke="#2E2E2E" stroke-width="0.12">47</text><text x="23.35" y="203.11" dy="0.36em" text-anchor="end" font-size="7.15" fill="#2E2E2E" stroke="#2E2E2E" stroke-width="0.12">43</text><text x="23.35" y="214.56" dy="0.36em" text-anchor="end" font-size="7.15" fill="#2E2E2E" stroke="#2E2E2E" stroke-width="0.12">39</text><text x="23.35" y="226" dy="0.36em" text-anchor="end" font-size="7.15" fill="#2E2E2E" stroke="#2E2E2E" stroke-width="0.12">35</text><path d="M25.05 145.9H27.55M25.05 157.34H27.55M25.05 168.79H27.55M25.05 180.23H27.55M25.05 191.67H27.55M25.05 203.11H27.55M25.05 214.56H27.55M25.05 226H27.55" stroke="#333" stroke-width="1.1"/><text x="42.6" y="238.7" text-anchor="middle" font-size="7.15" fill="#2E2E2E" stroke="#2E2E2E" stroke-width="0.12">2014</text><text x="61.69" y="238.7" text-anchor="middle" font-size="7.15" fill="#2E2E2E" stroke="#2E2E2E" stroke-width="0.12">2015</text><text x="80.78" y="238.7" text-anchor="middle" font-size="7.15" fill="#2E2E2E" stroke="#2E2E2E" stroke-width="0.12">2016</text><text x="99.87" y="238.7" text-anchor="middle" font-size="7.15" fill="#2E2E2E" stroke="#2E2E2E" stroke-width="0.12">2017</text><text x="118.96" y="238.7" text-anchor="middle" font-size="7.15" fill="#2E2E2E" stroke="#2E2E2E" stroke-width="0.12">2018</text><text x="138.05" y="238.7" text-anchor="middle" font-size="7.15" fill="#2E2E2E" stroke="#2E2E2E" stroke-width="0.12">2019</text><text x="157.14" y="238.7" text-anchor="middle" font-size="7.15" fill="#2E2E2E" stroke="#2E2E2E" stroke-width="0.12">2020</text><text x="176.23" y="238.7" text-anchor="middle" font-size="7.15" fill="#2E2E2E" stroke="#2E2E2E" stroke-width="0.12">2021</text><text x="195.32" y="238.7" text-anchor="middle" font-size="7.15" fill="#2E2E2E" stroke="#2E2E2E" stroke-width="0.12">2022</text><path d="M42.6 229.5V232M61.69 229.5V232M80.78 229.5V232M99.87 229.5V232M118.96 229.5V232M138.05 229.5V232M157.14 229.5V232M176.23 229.5V232M195.32 229.5V232" stroke="#333" stroke-width="1.1"/><text x="118.95" y="249.4" text-anchor="middle" font-size="9.02" fill="#000" stroke="#000" stroke-width="0.1">Year</text><text x="11.25" y="136.55" transform="rotate(-90 11.25 136.55)" text-anchor="middle" font-size="9.02" fill="#000" stroke="#000" stroke-width="0.1">Score (%)</text><text x="256.6" y="12.9" font-size="10.82" fill="#000" xml:space="preserve"> Feedback and communication about</text><text x="256.6" y="24.35" font-size="10.82" fill="#000" xml:space="preserve">errors</text><text x="256.6" y="37.5" font-size="9.02" fill="#000" xml:space="preserve">AH (P &lt; 0.001);  NAH (P = 0.34)</text><rect x="256.6" y="43.6" width="182.8" height="90.4" fill="#fff"/><path d="M256.6 52.35H439.4M256.6 64.45H439.4M256.6 76.54H439.4M256.6 88.63H439.4M256.6 100.72H439.4M256.6 112.81H439.4M256.6 124.9H439.4M262.11 43.6V134M281.2 43.6V134M300.29 43.6V134M319.38 43.6V134M338.47 43.6V134M357.56 43.6V134M376.65 43.6V134M395.74 43.6V134M414.83 43.6V134M433.92 43.6V134" stroke="#EEEEEE" stroke-width="0.5" fill="none"/><path d="M256.6 58.4H439.4M256.6 70.49H439.4M256.6 82.58H439.4M256.6 94.67H439.4M256.6 106.77H439.4M256.6 118.86H439.4M256.6 130.95H439.4M271.65 43.6V134M290.74 43.6V134M309.83 43.6V134M328.92 43.6V134M348.01 43.6V134M367.1 43.6V134M386.19 43.6V134M405.28 43.6V134M424.37 43.6V134" stroke="#E4E4E4" stroke-width="0.85" fill="none"/><g fill="#F8766D" fill-opacity="0.4" stroke="#F8766D" stroke-opacity="0.7" stroke-width="0.6"><circle cx="269.63" cy="129.77" r="2.35"/><circle cx="274.16" cy="86.77" r="2.35"/><circle cx="270.79" cy="126.54" r="2.35"/><circle cx="275.22" cy="115.41" r="2.35"/><circle cx="278.08" cy="110.43" r="2.35"/><circle cx="273.94" cy="102.38" r="2.35"/><circle cx="273.93" cy="97.72" r="2.35"/><circle cx="266.75" cy="97.11" r="2.35"/><circle cx="272.82" cy="93.62" r="2.35"/><circle cx="273.4" cy="65.41" r="2.35"/></g><g fill="#D39200" fill-opacity="0.4" stroke="#D39200" stroke-opacity="0.7" stroke-width="0.6"><circle cx="296.67" cy="96.48" r="2.35"/><circle cx="296.03" cy="62.64" r="2.35"/><circle cx="283.9" cy="95.67" r="2.35"/><circle cx="287.01" cy="92.57" r="2.35"/><circle cx="291.88" cy="88.74" r="2.35"/><circle cx="287.05" cy="85.33" r="2.35"/><circle cx="295.57" cy="83.55" r="2.35"/><circle cx="293.99" cy="82.04" r="2.35"/><circle cx="294.26" cy="77.77" r="2.35"/><circle cx="296.84" cy="76.64" r="2.35"/><circle cx="293.59" cy="74.22" r="2.35"/><circle cx="297.11" cy="69.29" r="2.35"/><circle cx="290.28" cy="63.92" r="2.35"/><circle cx="285.73" cy="113.68" r="2.35"/><circle cx="290.97" cy="115.9" r="2.35"/><circle cx="296.91" cy="117.28" r="2.35"/></g><g fill="#93AA00" fill-opacity="0.4" stroke="#93AA00" stroke-opacity="0.7" stroke-width="0.6"><circle cx="304.49" cy="103.41" r="2.35"/><circle cx="316.35" cy="56.26" r="2.35"/><circle cx="316.52" cy="100.51" r="2.35"/><circle cx="306.74" cy="97.44" r="2.35"/><circle cx="307.64" cy="94.44" r="2.35"/><circle cx="313.69" cy="91.17" r="2.35"/><circle cx="309.92" cy="89.07" r="2.35"/><circle cx="310.74" cy="85.8" r="2.35"/><circle cx="313.46" cy="84.32" r="2.35"/><circle cx="313.29" cy="81.66" r="2.35"/><circle cx="306.61" cy="77.95" r="2.35"/><circle cx="309.65" cy="77.48" r="2.35"/><circle cx="314.1" cy="75.85" r="2.35"/><circle cx="315.09" cy="75" r="2.35"/><circle cx="314.86" cy="73.72" r="2.35"/><circle cx="313.95" cy="72.44" r="2.35"/><circle cx="312" cy="70.8" r="2.35"/><circle cx="303.32" cy="68.88" r="2.35"/><circle cx="307.98" cy="62.96" r="2.35"/><circle cx="312.7" cy="58.58" r="2.35"/></g><g fill="#00BA38" fill-opacity="0.4" stroke="#00BA38" stroke-opacity="0.7" stroke-width="0.6"><circle cx="327.83" cy="86.77" r="2.35"/><circle cx="334.23" cy="58.2" r="2.35"/><circle cx="333.98" cy="86.33" r="2.35"/><circle cx="335.03" cy="84.94" r="2.35"/><circle cx="324.71" cy="82.65" r="2.35"/><circle cx="334.48" cy="81.24" r="2.35"/><circle cx="328.49" cy="80.16" r="2.35"/><circle cx="324.31" cy="79.84" r="2.35"/><circle cx="334.37" cy="79.43" r="2.35"/><circle cx="335.11" cy="79.09" r="2.35"/><circle cx="335.42" cy="78.14" r="2.35"/><circle cx="326.97" cy="77.44" r="2.35"/><circle cx="325.14" cy="77.07" r="2.35"/><circle cx="334.76" cy="76.46" r="2.35"/><circle cx="331.84" cy="76.08" r="2.35"/><circle cx="334.77" cy="75.19" r="2.35"/><circle cx="332.07" cy="74.27" r="2.35"/><circle cx="335.58" cy="73.39" r="2.35"/><circle cx="332.08" cy="73.02" r="2.35"/><circle cx="333.32" cy="71.89" r="2.35"/><circle cx="334.73" cy="70.76" r="2.35"/><circle cx="327.95" cy="68.75" r="2.35"/><circle cx="334.69" cy="67.14" r="2.35"/><circle cx="327.73" cy="62.73" r="2.35"/><circle cx="335.26" cy="61.26" r="2.35"/><circle cx="329.5" cy="98.42" r="2.35"/><circle cx="330.86" cy="99.25" r="2.35"/></g><g fill="#00C19F" fill-opacity="0.4" stroke="#00C19F" stroke-opacity="0.7" stroke-width="0.6"><circle cx="342.65" cy="100.64" r="2.35"/><circle cx="348.93" cy="56.26" r="2.35"/><circle cx="346.92" cy="100.6" r="2.35"/><circle cx="350.42" cy="95.17" r="2.35"/><circle cx="352.94" cy="91.75" r="2.35"/><circle cx="348.8" cy="89.33" r="2.35"/><circle cx="353.95" cy="85.72" r="2.35"/><circle cx="353.46" cy="83.75" r="2.35"/><circle cx="343.38" cy="82.67" r="2.35"/><circle cx="341.92" cy="81.49" r="2.35"/><circle cx="343.86" cy="79.71" r="2.35"/><circle cx="348.12" cy="79.32" r="2.35"/><circle cx="350.69" cy="77.67" r="2.35"/><circle cx="352.88" cy="76.24" r="2.35"/><circle cx="351.19" cy="76.22" r="2.35"/><circle cx="350.13" cy="74.49" r="2.35"/><circle cx="349.4" cy="74.08" r="2.35"/><circle cx="350.13" cy="73.05" r="2.35"/><circle cx="346.64" cy="71.96" r="2.35"/><circle cx="350.25" cy="70.38" r="2.35"/><circle cx="352.63" cy="69.53" r="2.35"/><circle cx="352.91" cy="69.4" r="2.35"/><circle cx="351.01" cy="67.09" r="2.35"/><circle cx="350.42" cy="66.53" r="2.35"/><circle cx="342.13" cy="63.73" r="2.35"/><circle cx="345.65" cy="59.32" r="2.35"/><circle cx="347.4" cy="56.64" r="2.35"/><circle cx="345.36" cy="112.57" r="2.35"/></g><g fill="#00B9E3" fill-opacity="0.4" stroke="#00B9E3" stroke-opacity="0.7" stroke-width="0.6"><circle cx="367.56" cy="100.64" r="2.35"/><circle cx="361.48" cy="56.26" r="2.35"/><circle cx="367.75" cy="99.9" r="2.35"/><circle cx="371.12" cy="95.76" r="2.35"/><circle cx="372.8" cy="91.18" r="2.35"/><circle cx="371.08" cy="89.95" r="2.35"/><circle cx="372.51" cy="85.86" r="2.35"/><circle cx="360.33" cy="85.71" r="2.35"/><circle cx="371.3" cy="83.3" r="2.35"/><circle cx="360.9" cy="82.07" r="2.35"/><circle cx="372.19" cy="80.88" r="2.35"/><circle cx="373.92" cy="80.59" r="2.35"/><circle cx="370.09" cy="79.32" r="2.35"/><circle cx="368.56" cy="78.22" r="2.35"/><circle cx="370.31" cy="76.51" r="2.35"/><circle cx="361.42" cy="75.9" r="2.35"/><circle cx="372.1" cy="74.41" r="2.35"/><circle cx="361.43" cy="73.78" r="2.35"/><circle cx="363.51" cy="73.24" r="2.35"/><circle cx="363.94" cy="72.42" r="2.35"/><circle cx="369.68" cy="71.73" r="2.35"/><circle cx="365.64" cy="70.98" r="2.35"/><circle cx="365.53" cy="70.49" r="2.35"/><circle cx="367.13" cy="70.01" r="2.35"/><circle cx="370.58" cy="69.27" r="2.35"/><circle cx="371.77" cy="67.72" r="2.35"/><circle cx="371.84" cy="67.26" r="2.35"/><circle cx="364.12" cy="64.58" r="2.35"/><circle cx="360.95" cy="63.55" r="2.35"/><circle cx="361.52" cy="59.26" r="2.35"/><circle cx="361.81" cy="58.41" r="2.35"/></g><g fill="#619CFF" fill-opacity="0.4" stroke="#619CFF" stroke-opacity="0.7" stroke-width="0.6"><circle cx="385.06" cy="95.09" r="2.35"/><circle cx="392.8" cy="50.71" r="2.35"/><circle cx="380.57" cy="92.8" r="2.35"/><circle cx="390.83" cy="91.8" r="2.35"/><circle cx="391.01" cy="87.28" r="2.35"/><circle cx="382.78" cy="86.68" r="2.35"/><circle cx="383.12" cy="83.04" r="2.35"/><circle cx="383.06" cy="82.05" r="2.35"/><circle cx="381.2" cy="80.2" r="2.35"/><circle cx="390.47" cy="79.15" r="2.35"/><circle cx="388.92" cy="77.95" r="2.35"/><circle cx="390.15" cy="77.39" r="2.35"/><circle cx="388.14" cy="76.12" r="2.35"/><circle cx="382.91" cy="74.3" r="2.35"/><circle cx="380.52" cy="72.26" r="2.35"/><circle cx="382.87" cy="71.51" r="2.35"/><circle cx="390.15" cy="70.44" r="2.35"/><circle cx="379.59" cy="69.38" r="2.35"/><circle cx="386.65" cy="68.35" r="2.35"/><circle cx="383.74" cy="68.05" r="2.35"/><circle cx="383.28" cy="67.35" r="2.35"/><circle cx="383.92" cy="65.98" r="2.35"/><circle cx="387.45" cy="65.59" r="2.35"/><circle cx="381.64" cy="64.81" r="2.35"/><circle cx="381.5" cy="64.28" r="2.35"/><circle cx="390.99" cy="63.28" r="2.35"/><circle cx="389.69" cy="60.68" r="2.35"/><circle cx="384.26" cy="58.78" r="2.35"/><circle cx="382.74" cy="57.79" r="2.35"/><circle cx="387.35" cy="54.2" r="2.35"/><circle cx="392.13" cy="50.94" r="2.35"/></g><g fill="#DB72FB" fill-opacity="0.4" stroke="#DB72FB" stroke-opacity="0.7" stroke-width="0.6"><circle cx="408.06" cy="96.48" r="2.35"/><circle cx="402.47" cy="46.55" r="2.35"/><circle cx="400.22" cy="94.05" r="2.35"/><circle cx="402.63" cy="92.12" r="2.35"/><circle cx="404.76" cy="88.81" r="2.35"/><circle cx="410.05" cy="86.93" r="2.35"/><circle cx="404.92" cy="83.74" r="2.35"/><circle cx="400.18" cy="82.04" r="2.35"/><circle cx="409.79" cy="81.05" r="2.35"/><circle cx="407.68" cy="78.43" r="2.35"/><circle cx="405.91" cy="77.22" r="2.35"/><circle cx="410.76" cy="76.85" r="2.35"/><circle cx="403.98" cy="76.24" r="2.35"/><circle cx="403.73" cy="75.21" r="2.35"/><circle cx="399.16" cy="74.41" r="2.35"/><circle cx="407.97" cy="72.93" r="2.35"/><circle cx="406.95" cy="72.13" r="2.35"/><circle cx="411.43" cy="71.62" r="2.35"/><circle cx="398.52" cy="70.72" r="2.35"/><circle cx="404.08" cy="69.98" r="2.35"/><circle cx="404.42" cy="68.79" r="2.35"/><circle cx="404.12" cy="67.85" r="2.35"/><circle cx="399" cy="67.39" r="2.35"/><circle cx="409.6" cy="66.68" r="2.35"/><circle cx="399" cy="66.6" r="2.35"/><circle cx="407.21" cy="65.49" r="2.35"/><circle cx="402.7" cy="64.89" r="2.35"/><circle cx="404.24" cy="64.35" r="2.35"/><circle cx="409.92" cy="64.16" r="2.35"/><circle cx="401.21" cy="63.17" r="2.35"/><circle cx="405.44" cy="62.39" r="2.35"/><circle cx="402.07" cy="61.53" r="2.35"/><circle cx="406.79" cy="60.47" r="2.35"/><circle cx="405.89" cy="59.16" r="2.35"/><circle cx="407.58" cy="56.32" r="2.35"/><circle cx="399.72" cy="54.82" r="2.35"/><circle cx="407.1" cy="53.22" r="2.35"/><circle cx="407.51" cy="51.45" r="2.35"/><circle cx="399.34" cy="49.13" r="2.35"/></g><g fill="#FF61C3" fill-opacity="0.4" stroke="#FF61C3" stroke-opacity="0.7" stroke-width="0.6"><circle cx="428.26" cy="103.41" r="2.35"/><circle cx="428.91" cy="46.55" r="2.35"/><circle cx="419.55" cy="101.04" r="2.35"/><circle cx="423.56" cy="98.97" r="2.35"/><circle cx="426.73" cy="96.85" r="2.35"/><circle cx="424.8" cy="94.72" r="2.35"/><circle cx="427.56" cy="93.26" r="2.35"/><circle cx="420.17" cy="90.56" r="2.35"/><circle cx="429.9" cy="90.13" r="2.35"/><circle cx="425.63" cy="87.49" r="2.35"/><circle cx="425.91" cy="85.72" r="2.35"/><circle cx="425.55" cy="85.61" r="2.35"/><circle cx="423.59" cy="83.79" r="2.35"/><circle cx="417.67" cy="82.79" r="2.35"/><circle cx="419.75" cy="82.71" r="2.35"/><circle cx="424.11" cy="81.86" r="2.35"/><circle cx="418.62" cy="80.91" r="2.35"/><circle cx="425.68" cy="80.65" r="2.35"/><circle cx="420.11" cy="79.97" r="2.35"/><circle cx="426.91" cy="78.9" r="2.35"/><circle cx="423.06" cy="78.14" r="2.35"/><circle cx="426.54" cy="77.32" r="2.35"/><circle cx="421.1" cy="76.82" r="2.35"/><circle cx="419.21" cy="76.53" r="2.35"/><circle cx="426.63" cy="75.28" r="2.35"/><circle cx="428.84" cy="74.95" r="2.35"/><circle cx="420.4" cy="74.04" r="2.35"/><circle cx="418" cy="73.28" r="2.35"/><circle cx="429.44" cy="72.5" r="2.35"/><circle cx="427.85" cy="72.15" r="2.35"/><circle cx="428.04" cy="71.78" r="2.35"/><circle cx="428.37" cy="70.93" r="2.35"/><circle cx="423.23" cy="70.28" r="2.35"/><circle cx="430.57" cy="69.54" r="2.35"/><circle cx="428.6" cy="69.26" r="2.35"/><circle cx="427.89" cy="68.42" r="2.35"/><circle cx="430.43" cy="68.11" r="2.35"/><circle cx="429.98" cy="66.91" r="2.35"/><circle cx="425.26" cy="66.88" r="2.35"/><circle cx="418.27" cy="65.96" r="2.35"/><circle cx="425.61" cy="65.72" r="2.35"/><circle cx="424.31" cy="64.93" r="2.35"/><circle cx="417.73" cy="63.79" r="2.35"/><circle cx="421.82" cy="62.77" r="2.35"/><circle cx="428.77" cy="61.4" r="2.35"/><circle cx="426.09" cy="59.81" r="2.35"/><circle cx="430.28" cy="57.83" r="2.35"/><circle cx="427.89" cy="55.16" r="2.35"/><circle cx="420.05" cy="54.67" r="2.35"/><circle cx="427.3" cy="52.75" r="2.35"/><circle cx="418.14" cy="50.92" r="2.35"/><circle cx="429.45" cy="46.74" r="2.35"/></g><path d="M271.65 86.77V96.48M271.65 113.68V129.77" stroke="#F8766D" stroke-width="1.0" fill="none"/><rect x="264.5" y="96.48" width="14.3" height="17.2" fill="#fff" fill-opacity="0.72" stroke="#F8766D" stroke-width="1.05"/><path d="M264.5 103.69H278.8" stroke="#FF3426" stroke-width="1.5"/><path d="M290.74 62.64V74.29M290.74 88.71V96.48" stroke="#D39200" stroke-width="1.0" fill="none"/><rect x="283.59" y="74.29" width="14.3" height="14.42" fill="#fff" fill-opacity="0.72" stroke="#D39200" stroke-width="1.05"/><path d="M283.59 81.22H297.89" stroke="#AD7800" stroke-width="1.5"/><path d="M309.83 56.26V72.35M309.83 88.71V103.41" stroke="#93AA00" stroke-width="1.0" fill="none"/><rect x="302.68" y="72.35" width="14.3" height="16.37" fill="#fff" fill-opacity="0.72" stroke="#93AA00" stroke-width="1.05"/><path d="M302.68 77.89H316.98" stroke="#798B00" stroke-width="1.5"/><path d="M328.92 58.2V72.35M328.92 79.83V86.77" stroke="#00BA38" stroke-width="1.0" fill="none"/><rect x="321.77" y="72.35" width="14.3" height="7.49" fill="#fff" fill-opacity="0.72" stroke="#00BA38" stroke-width="1.05"/><path d="M321.77 76.51H336.07" stroke="#00992E" stroke-width="1.5"/><path d="M348.01 56.26V69.57M348.01 82.61V100.64" stroke="#00C19F" stroke-width="1.0" fill="none"/><rect x="340.86" y="69.57" width="14.3" height="13.04" fill="#fff" fill-opacity="0.72" stroke="#00C19F" stroke-width="1.05"/><path d="M340.86 75.67H355.16" stroke="#009E82" stroke-width="1.5"/><path d="M367.1 56.26V69.57M367.1 82.61V100.64" stroke="#00B9E3" stroke-width="1.0" fill="none"/><rect x="359.95" y="69.57" width="14.3" height="13.04" fill="#fff" fill-opacity="0.72" stroke="#00B9E3" stroke-width="1.05"/><path d="M359.95 74.29H374.25" stroke="#0098BA" stroke-width="1.5"/><path d="M386.19 50.71V64.58M386.19 79.83V95.09" stroke="#619CFF" stroke-width="1.0" fill="none"/><rect x="379.04" y="64.58" width="14.3" height="15.26" fill="#fff" fill-opacity="0.72" stroke="#619CFF" stroke-width="1.05"/><path d="M379.04 70.13H393.34" stroke="#2274FF" stroke-width="1.5"/><path d="M405.28 46.55V63.19M405.28 77.06V96.48" stroke="#DB72FB" stroke-width="1.0" fill="none"/><rect x="398.13" y="63.19" width="14.3" height="13.87" fill="#fff" fill-opacity="0.72" stroke="#DB72FB" stroke-width="1.05"/><path d="M398.13 68.74H412.43" stroke="#CE2CFF" stroke-width="1.5"/><path d="M424.37 46.55V65.97M424.37 82.61V103.41" stroke="#FF61C3" stroke-width="1.0" fill="none"/><rect x="417.22" y="65.97" width="14.3" height="16.64" fill="#fff" fill-opacity="0.72" stroke="#FF61C3" stroke-width="1.05"/><path d="M417.22 73.73H431.52" stroke="#FF22AB" stroke-width="1.5"/><path d="M271.65 82.61L275.47 82.35L279.29 82.09L283.1 81.84L286.92 81.58L290.74 81.32L294.56 81.06L298.38 80.8L302.19 80.54L306.01 80.27L309.83 80.01L313.65 79.74L317.47 79.48L321.28 79.21L325.1 78.93L328.92 78.66L332.74 78.38L336.56 78.09L340.37 77.8L344.19 77.51L348.01 77.2L351.83 76.88L355.65 76.56L359.46 76.22L363.28 75.87L367.1 75.5L370.92 75.12L374.74 74.73L378.55 74.32L382.37 73.91L386.19 73.49L390.01 73.06L393.83 72.62L397.64 72.18L401.46 71.74L405.28 71.29L409.1 70.84L412.92 70.39L416.73 69.93L420.55 69.47L424.37 69.02L424.37 72.9L420.55 73.16L416.73 73.43L412.92 73.69L409.1 73.96L405.28 74.23L401.46 74.51L397.64 74.78L393.83 75.06L390.01 75.35L386.19 75.64L382.37 75.94L378.55 76.25L374.74 76.56L370.92 76.89L367.1 77.23L363.28 77.59L359.46 77.96L355.65 78.34L351.83 78.74L348.01 79.14L344.19 79.56L340.37 79.98L336.56 80.41L332.74 80.85L328.92 81.29L325.1 81.74L321.28 82.18L317.47 82.63L313.65 83.09L309.83 83.54L306.01 84L302.19 84.46L298.38 84.92L294.56 85.38L290.74 85.84L286.92 86.3L283.1 86.76L279.29 87.23L275.47 87.69L271.65 88.16Z" fill="#999999" fill-opacity="0.34"/><path d="M271.65 85.38L424.37 70.96" stroke="#000" stroke-width="1.85"/><rect x="256.6" y="43.6" width="182.8" height="90.4" fill="none" stroke="#333" stroke-width="0.9"/><rect x="439.4" y="43.6" width="13.85" height="90.4" fill="#D9D9D9" stroke="#333" stroke-width="0.9"/><text x="446.33" y="88.8" transform="rotate(90 446.33 88.8)" font-size="7.35" fill="#1A1A1A" text-anchor="middle" dy="0.36em">AH</text><text x="252.4" y="58.4" dy="0.36em" text-anchor="end" font-size="7.15" fill="#2E2E2E" stroke="#2E2E2E" stroke-width="0.12">70</text><text x="252.4" y="70.49" dy="0.36em" text-anchor="end" font-size="7.15" fill="#2E2E2E" stroke="#2E2E2E" stroke-width="0.12">64</text><text x="252.4" y="82.58" dy="0.36em" text-anchor="end" font-size="7.15" fill="#2E2E2E" stroke="#2E2E2E" stroke-width="0.12">58</text><text x="252.4" y="94.67" dy="0.36em" text-anchor="end" font-size="7.15" fill="#2E2E2E" stroke="#2E2E2E" stroke-width="0.12">52</text><text x="252.4" y="106.77" dy="0.36em" text-anchor="end" font-size="7.15" fill="#2E2E2E" stroke="#2E2E2E" stroke-width="0.12">46</text><text x="252.4" y="118.86" dy="0.36em" text-anchor="end" font-size="7.15" fill="#2E2E2E" stroke="#2E2E2E" stroke-width="0.12">40</text><text x="252.4" y="130.95" dy="0.36em" text-anchor="end" font-size="7.15" fill="#2E2E2E" stroke="#2E2E2E" stroke-width="0.12">34</text><path d="M254.1 58.4H256.6M254.1 70.49H256.6M254.1 82.58H256.6M254.1 94.67H256.6M254.1 106.77H256.6M254.1 118.86H256.6M254.1 130.95H256.6" stroke="#333" stroke-width="1.1"/><rect x="256.6" y="139.1" width="182.8" height="90.4" fill="#fff"/><path d="M256.6 147.85H439.4M256.6 159.95H439.4M256.6 172.04H439.4M256.6 184.13H439.4M256.6 196.22H439.4M256.6 208.31H439.4M256.6 220.4H439.4M262.11 139.1V229.5M281.2 139.1V229.5M300.29 139.1V229.5M319.38 139.1V229.5M338.47 139.1V229.5M357.56 139.1V229.5M376.65 139.1V229.5M395.74 139.1V229.5M414.83 139.1V229.5M433.92 139.1V229.5" stroke="#EEEEEE" stroke-width="0.5" fill="none"/><path d="M256.6 153.9H439.4M256.6 165.99H439.4M256.6 178.08H439.4M256.6 190.18H439.4M256.6 202.27H439.4M256.6 214.36H439.4M256.6 226.45H439.4M271.65 139.1V229.5M290.74 139.1V229.5M309.83 139.1V229.5M328.92 139.1V229.5M348.01 139.1V229.5M367.1 139.1V229.5M386.19 139.1V229.5M405.28 139.1V229.5M424.37 139.1V229.5" stroke="#E4E4E4" stroke-width="0.85" fill="none"/><g fill="#F8766D" fill-opacity="0.4" stroke="#F8766D" stroke-opacity="0.7" stroke-width="0.6"><circle cx="278.12" cy="194.95" r="2.35"/><circle cx="265.43" cy="188.02" r="2.35"/><circle cx="274.98" cy="193.32" r="2.35"/></g><g fill="#D39200" fill-opacity="0.4" stroke="#D39200" stroke-opacity="0.7" stroke-width="0.6"><circle cx="295.1" cy="194.95" r="2.35"/><circle cx="290.91" cy="167.21" r="2.35"/><circle cx="291.61" cy="194.15" r="2.35"/><circle cx="286.89" cy="171.44" r="2.35"/></g><g fill="#93AA00" fill-opacity="0.4" stroke="#93AA00" stroke-opacity="0.7" stroke-width="0.6"><circle cx="304.85" cy="193.01" r="2.35"/><circle cx="311.67" cy="158.89" r="2.35"/><circle cx="309.73" cy="187.23" r="2.35"/><circle cx="307.84" cy="178.41" r="2.35"/><circle cx="307.72" cy="165.75" r="2.35"/></g><g fill="#00BA38" fill-opacity="0.4" stroke="#00BA38" stroke-opacity="0.7" stroke-width="0.6"><circle cx="324.28" cy="188.02" r="2.35"/><circle cx="333.87" cy="154.73" r="2.35"/><circle cx="326.87" cy="182.63" r="2.35"/><circle cx="324.07" cy="177.58" r="2.35"/><circle cx="335.18" cy="169.58" r="2.35"/><circle cx="325.11" cy="165.92" r="2.35"/><circle cx="329.75" cy="161.2" r="2.35"/></g><g fill="#00C19F" fill-opacity="0.4" stroke="#00C19F" stroke-opacity="0.7" stroke-width="0.6"><circle cx="342.62" cy="199.11" r="2.35"/><circle cx="347.08" cy="161.67" r="2.35"/><circle cx="349.96" cy="196.81" r="2.35"/><circle cx="346.79" cy="193.61" r="2.35"/><circle cx="344.93" cy="185.57" r="2.35"/><circle cx="352.33" cy="173.23" r="2.35"/><circle cx="352.86" cy="172.27" r="2.35"/><circle cx="350.06" cy="169.39" r="2.35"/><circle cx="342.96" cy="168.56" r="2.35"/></g><g fill="#00B9E3" fill-opacity="0.4" stroke="#00B9E3" stroke-opacity="0.7" stroke-width="0.6"><circle cx="372.95" cy="199.11" r="2.35"/><circle cx="373.3" cy="150.57" r="2.35"/><circle cx="364.4" cy="190.54" r="2.35"/><circle cx="363.13" cy="184.21" r="2.35"/><circle cx="362.87" cy="176.83" r="2.35"/><circle cx="369.59" cy="169.58" r="2.35"/><circle cx="373.48" cy="163.28" r="2.35"/><circle cx="363.51" cy="157.9" r="2.35"/><circle cx="366.4" cy="151.59" r="2.35"/></g><g fill="#619CFF" fill-opacity="0.4" stroke="#619CFF" stroke-opacity="0.7" stroke-width="0.6"><circle cx="385.11" cy="189.4" r="2.35"/><circle cx="381.37" cy="147.8" r="2.35"/><circle cx="382.1" cy="186.25" r="2.35"/><circle cx="382.5" cy="182.39" r="2.35"/><circle cx="389.9" cy="177.43" r="2.35"/><circle cx="382.38" cy="171.96" r="2.35"/><circle cx="387.03" cy="165.57" r="2.35"/><circle cx="392.06" cy="160.36" r="2.35"/><circle cx="385.11" cy="157.33" r="2.35"/><circle cx="382.58" cy="148.14" r="2.35"/><circle cx="391.52" cy="207.44" r="2.35"/><circle cx="392.77" cy="208.82" r="2.35"/></g><g fill="#DB72FB" fill-opacity="0.4" stroke="#DB72FB" stroke-opacity="0.7" stroke-width="0.6"><circle cx="404.48" cy="206.05" r="2.35"/><circle cx="402.66" cy="150.57" r="2.35"/><circle cx="403.42" cy="205.28" r="2.35"/><circle cx="410.88" cy="191.19" r="2.35"/><circle cx="412.11" cy="181.33" r="2.35"/><circle cx="402.8" cy="178.21" r="2.35"/><circle cx="402.08" cy="169.54" r="2.35"/><circle cx="402.11" cy="165.26" r="2.35"/><circle cx="409.18" cy="160.73" r="2.35"/><circle cx="410.9" cy="152.34" r="2.35"/></g><g fill="#FF61C3" fill-opacity="0.4" stroke="#FF61C3" stroke-opacity="0.7" stroke-width="0.6"><circle cx="422.65" cy="203.27" r="2.35"/><circle cx="419.84" cy="160.28" r="2.35"/><circle cx="421.37" cy="201.54" r="2.35"/><circle cx="418.87" cy="194.38" r="2.35"/><circle cx="430.09" cy="188.28" r="2.35"/><circle cx="423.41" cy="178.42" r="2.35"/><circle cx="424.44" cy="171.09" r="2.35"/><circle cx="420.25" cy="169.46" r="2.35"/><circle cx="424.68" cy="169.2" r="2.35"/><circle cx="420.98" cy="168.85" r="2.35"/><circle cx="430.4" cy="167.75" r="2.35"/><circle cx="429.39" cy="161.23" r="2.35"/></g><path d="M271.65 188.02V190.24M271.65 193.57V194.95" stroke="#F8766D" stroke-width="1.0" fill="none"/><rect x="264.5" y="190.24" width="14.3" height="3.33" fill="#fff" fill-opacity="0.72" stroke="#F8766D" stroke-width="1.05"/><path d="M264.5 192.18H278.8" stroke="#FF3426" stroke-width="1.5"/><path d="M290.74 167.21V178.31M290.74 192.18V194.95" stroke="#D39200" stroke-width="1.0" fill="none"/><rect x="283.59" y="178.31" width="14.3" height="13.87" fill="#fff" fill-opacity="0.72" stroke="#D39200" stroke-width="1.05"/><path d="M283.59 188.02H297.89" stroke="#AD7800" stroke-width="1.5"/><path d="M309.83 158.89V166.38M309.83 183.86V193.01" stroke="#93AA00" stroke-width="1.0" fill="none"/><rect x="302.68" y="166.38" width="14.3" height="17.48" fill="#fff" fill-opacity="0.72" stroke="#93AA00" stroke-width="1.05"/><path d="M302.68 173.59H316.98" stroke="#798B00" stroke-width="1.5"/><path d="M328.92 154.73V162.22M328.92 181.92V188.02" stroke="#00BA38" stroke-width="1.0" fill="none"/><rect x="321.77" y="162.22" width="14.3" height="19.69" fill="#fff" fill-opacity="0.72" stroke="#00BA38" stroke-width="1.05"/><path d="M321.77 174.15H336.07" stroke="#00992E" stroke-width="1.5"/><path d="M348.01 161.67V171.37M348.01 192.18V199.11" stroke="#00C19F" stroke-width="1.0" fill="none"/><rect x="340.86" y="171.37" width="14.3" height="20.8" fill="#fff" fill-opacity="0.72" stroke="#00C19F" stroke-width="1.05"/><path d="M340.86 173.59H355.16" stroke="#009E82" stroke-width="1.5"/><path d="M367.1 150.57V158.06M367.1 183.86V199.11" stroke="#00B9E3" stroke-width="1.0" fill="none"/><rect x="359.95" y="158.06" width="14.3" height="25.8" fill="#fff" fill-opacity="0.72" stroke="#00B9E3" stroke-width="1.05"/><path d="M359.95 171.37H374.25" stroke="#0098BA" stroke-width="1.5"/><path d="M386.19 147.8V160.28M386.19 181.08V189.4" stroke="#619CFF" stroke-width="1.0" fill="none"/><rect x="379.04" y="160.28" width="14.3" height="20.8" fill="#fff" fill-opacity="0.72" stroke="#619CFF" stroke-width="1.05"/><path d="M379.04 167.77H393.34" stroke="#2274FF" stroke-width="1.5"/><path d="M405.28 150.57V161.11M405.28 190.79V206.05" stroke="#DB72FB" stroke-width="1.0" fill="none"/><rect x="398.13" y="161.11" width="14.3" height="29.68" fill="#fff" fill-opacity="0.72" stroke="#DB72FB" stroke-width="1.05"/><path d="M398.13 171.37H412.43" stroke="#CE2CFF" stroke-width="1.5"/><path d="M424.37 160.28V168.6M424.37 188.02V203.27" stroke="#FF61C3" stroke-width="1.0" fill="none"/><rect x="417.22" y="168.6" width="14.3" height="19.42" fill="#fff" fill-opacity="0.72" stroke="#FF61C3" stroke-width="1.05"/><path d="M417.22 169.99H431.52" stroke="#FF22AB" stroke-width="1.5"/><path d="M271.65 169.99L275.47 170.15L279.29 170.31L283.1 170.47L286.92 170.64L290.74 170.8L294.56 170.96L298.38 171.12L302.19 171.28L306.01 171.43L309.83 171.59L313.65 171.75L317.47 171.9L321.28 172.05L325.1 172.2L328.92 172.35L332.74 172.5L336.56 172.64L340.37 172.78L344.19 172.91L348.01 173.04L351.83 173.16L355.65 173.26L359.46 173.36L363.28 173.43L367.1 173.47L370.92 173.48L374.74 173.44L378.55 173.35L382.37 173.19L386.19 172.97L390.01 172.68L393.83 172.35L397.64 171.98L401.46 171.58L405.28 171.16L409.1 170.72L412.92 170.27L416.73 169.81L420.55 169.35L424.37 168.88L424.37 177.2L420.55 177.06L416.73 176.93L412.92 176.81L409.1 176.69L405.28 176.59L401.46 176.5L397.64 176.43L393.83 176.39L390.01 176.39L386.19 176.44L382.37 176.55L378.55 176.72L374.74 176.96L370.92 177.26L367.1 177.6L363.28 177.98L359.46 178.38L355.65 178.81L351.83 179.25L348.01 179.7L344.19 180.16L340.37 180.62L336.56 181.09L332.74 181.57L328.92 182.05L325.1 182.53L321.28 183.01L317.47 183.5L313.65 183.98L309.83 184.47L306.01 184.96L302.19 185.45L298.38 185.95L294.56 186.44L290.74 186.93L286.92 187.43L283.1 187.92L279.29 188.41L275.47 188.91L271.65 189.4Z" fill="#999999" fill-opacity="0.34"/><path d="M271.65 179.7L424.37 173.04" stroke="#000" stroke-width="1.85"/><rect x="256.6" y="139.1" width="182.8" height="90.4" fill="none" stroke="#333" stroke-width="0.9"/><rect x="439.4" y="139.1" width="13.85" height="90.4" fill="#D9D9D9" stroke="#333" stroke-width="0.9"/><text x="446.33" y="184.3" transform="rotate(90 446.33 184.3)" font-size="7.35" fill="#1A1A1A" text-anchor="middle" dy="0.36em">NAH</text><text x="252.4" y="153.9" dy="0.36em" text-anchor="end" font-size="7.15" fill="#2E2E2E" stroke="#2E2E2E" stroke-width="0.12">70</text><text x="252.4" y="165.99" dy="0.36em" text-anchor="end" font-size="7.15" fill="#2E2E2E" stroke="#2E2E2E" stroke-width="0.12">64</text><text x="252.4" y="178.08" dy="0.36em" text-anchor="end" font-size="7.15" fill="#2E2E2E" stroke="#2E2E2E" stroke-width="0.12">58</text><text x="252.4" y="190.18" dy="0.36em" text-anchor="end" font-size="7.15" fill="#2E2E2E" stroke="#2E2E2E" stroke-width="0.12">52</text><text x="252.4" y="202.27" dy="0.36em" text-anchor="end" font-size="7.15" fill="#2E2E2E" stroke="#2E2E2E" stroke-width="0.12">46</text><text x="252.4" y="214.36" dy="0.36em" text-anchor="end" font-size="7.15" fill="#2E2E2E" stroke="#2E2E2E" stroke-width="0.12">40</text><text x="252.4" y="226.45" dy="0.36em" text-anchor="end" font-size="7.15" fill="#2E2E2E" stroke="#2E2E2E" stroke-width="0.12">34</text><path d="M254.1 153.9H256.6M254.1 165.99H256.6M254.1 178.08H256.6M254.1 190.18H256.6M254.1 202.27H256.6M254.1 214.36H256.6M254.1 226.45H256.6" stroke="#333" stroke-width="1.1"/><text x="271.65" y="238.7" text-anchor="middle" font-size="7.15" fill="#2E2E2E" stroke="#2E2E2E" stroke-width="0.12">2014</text><text x="290.74" y="238.7" text-anchor="middle" font-size="7.15" fill="#2E2E2E" stroke="#2E2E2E" stroke-width="0.12">2015</text><text x="309.83" y="238.7" text-anchor="middle" font-size="7.15" fill="#2E2E2E" stroke="#2E2E2E" stroke-width="0.12">2016</text><text x="328.92" y="238.7" text-anchor="middle" font-size="7.15" fill="#2E2E2E" stroke="#2E2E2E" stroke-width="0.12">2017</text><text x="348.01" y="238.7" text-anchor="middle" font-size="7.15" fill="#2E2E2E" stroke="#2E2E2E" stroke-width="0.12">2018</text><text x="367.1" y="238.7" text-anchor="middle" font-size="7.15" fill="#2E2E2E" stroke="#2E2E2E" stroke-width="0.12">2019</text><text x="386.19" y="238.7" text-anchor="middle" font-size="7.15" fill="#2E2E2E" stroke="#2E2E2E" stroke-width="0.12">2020</text><text x="405.28" y="238.7" text-anchor="middle" font-size="7.15" fill="#2E2E2E" stroke="#2E2E2E" stroke-width="0.12">2021</text><text x="424.37" y="238.7" text-anchor="middle" font-size="7.15" fill="#2E2E2E" stroke="#2E2E2E" stroke-width="0.12">2022</text><path d="M271.65 229.5V232M290.74 229.5V232M309.83 229.5V232M328.92 229.5V232M348.01 229.5V232M367.1 229.5V232M386.19 229.5V232M405.28 229.5V232M424.37 229.5V232" stroke="#333" stroke-width="1.1"/><text x="348" y="249.4" text-anchor="middle" font-size="9.02" fill="#000" stroke="#000" stroke-width="0.1">Year</text><text x="240.3" y="136.55" transform="rotate(-90 240.3 136.55)" text-anchor="middle" font-size="9.02" fill="#000" stroke="#000" stroke-width="0.1">Score (%)</text><text x="485.45" y="18.6" font-size="10.82" fill="#000" xml:space="preserve">Frequency of reported events</text><text x="485.45" y="37.5" font-size="9.02" fill="#000" xml:space="preserve">AH (P = 0.12);  NAH (P = 0.008)</text><rect x="485.45" y="43.6" width="182.8" height="90.4" fill="#fff"/><path d="M485.45 56.01H668.25M485.45 69.64H668.25M485.45 83.26H668.25M485.45 96.89H668.25M485.45 110.51H668.25M485.45 124.14H668.25M490.96 43.6V134M510.05 43.6V134M529.13 43.6V134M548.22 43.6V134M567.31 43.6V134M586.4 43.6V134M605.5 43.6V134M624.58 43.6V134M643.67 43.6V134M662.76 43.6V134" stroke="#EEEEEE" stroke-width="0.5" fill="none"/><path d="M485.45 49.2H668.25M485.45 62.83H668.25M485.45 76.45H668.25M485.45 90.08H668.25M485.45 103.7H668.25M485.45 117.33H668.25M485.45 130.95H668.25M500.5 43.6V134M519.59 43.6V134M538.68 43.6V134M557.77 43.6V134M576.86 43.6V134M595.95 43.6V134M615.04 43.6V134M634.13 43.6V134M653.22 43.6V134" stroke="#E4E4E4" stroke-width="0.85" fill="none"/><g fill="#F8766D" fill-opacity="0.4" stroke="#F8766D" stroke-opacity="0.7" stroke-width="0.6"><circle cx="497.97" cy="96.48" r="2.35"/><circle cx="498.91" cy="63.19" r="2.35"/><circle cx="495.54" cy="90.25" r="2.35"/><circle cx="493.64" cy="85.5" r="2.35"/><circle cx="506.69" cy="81.53" r="2.35"/><circle cx="496.16" cy="80.24" r="2.35"/><circle cx="504.64" cy="74.08" r="2.35"/><circle cx="496.08" cy="67.97" r="2.35"/><circle cx="499.88" cy="64.25" r="2.35"/></g><g fill="#D39200" fill-opacity="0.4" stroke="#D39200" stroke-opacity="0.7" stroke-width="0.6"><circle cx="515.66" cy="85.38" r="2.35"/><circle cx="513.37" cy="59.86" r="2.35"/><circle cx="517.26" cy="83.12" r="2.35"/><circle cx="526.18" cy="80.79" r="2.35"/><circle cx="520.69" cy="77.9" r="2.35"/><circle cx="518.93" cy="76.32" r="2.35"/><circle cx="516.76" cy="74.05" r="2.35"/><circle cx="522.57" cy="70.47" r="2.35"/><circle cx="514.75" cy="66.75" r="2.35"/><circle cx="521.15" cy="65.79" r="2.35"/><circle cx="519.58" cy="63.13" r="2.35"/><circle cx="513.66" cy="62.3" r="2.35"/><circle cx="519.6" cy="60.7" r="2.35"/></g><g fill="#93AA00" fill-opacity="0.4" stroke="#93AA00" stroke-opacity="0.7" stroke-width="0.6"><circle cx="542.63" cy="82.61" r="2.35"/><circle cx="543.79" cy="56.26" r="2.35"/><circle cx="537.48" cy="81.5" r="2.35"/><circle cx="535.7" cy="79.44" r="2.35"/><circle cx="542.36" cy="75.69" r="2.35"/><circle cx="541.48" cy="74.17" r="2.35"/><circle cx="535.58" cy="72.88" r="2.35"/><circle cx="537.9" cy="71.6" r="2.35"/><circle cx="535.21" cy="70.85" r="2.35"/><circle cx="539" cy="70.13" r="2.35"/><circle cx="534.67" cy="68.99" r="2.35"/><circle cx="532.78" cy="67.77" r="2.35"/><circle cx="535.45" cy="67.22" r="2.35"/><circle cx="533" cy="65.94" r="2.35"/><circle cx="535.93" cy="64.42" r="2.35"/><circle cx="536.32" cy="64.01" r="2.35"/><circle cx="536.08" cy="63.02" r="2.35"/><circle cx="544.59" cy="61.55" r="2.35"/><circle cx="542.31" cy="59.95" r="2.35"/><circle cx="535.4" cy="57.33" r="2.35"/></g><g fill="#00BA38" fill-opacity="0.4" stroke="#00BA38" stroke-opacity="0.7" stroke-width="0.6"><circle cx="552.65" cy="78.45" r="2.35"/><circle cx="559.59" cy="55.42" r="2.35"/><circle cx="552.6" cy="76.37" r="2.35"/><circle cx="552.11" cy="75.15" r="2.35"/><circle cx="561.01" cy="74.09" r="2.35"/><circle cx="560.22" cy="71.58" r="2.35"/><circle cx="562.53" cy="70.72" r="2.35"/><circle cx="563.39" cy="69.51" r="2.35"/><circle cx="560.7" cy="68.59" r="2.35"/><circle cx="562.29" cy="68.26" r="2.35"/><circle cx="554.86" cy="67.42" r="2.35"/><circle cx="557.19" cy="67.16" r="2.35"/><circle cx="558.39" cy="66.64" r="2.35"/><circle cx="556.36" cy="66.12" r="2.35"/><circle cx="557.25" cy="65.39" r="2.35"/><circle cx="557.52" cy="64.21" r="2.35"/><circle cx="558.01" cy="63.58" r="2.35"/><circle cx="551.43" cy="62.6" r="2.35"/><circle cx="552.94" cy="62.12" r="2.35"/><circle cx="561.51" cy="61.31" r="2.35"/><circle cx="562.79" cy="60.59" r="2.35"/><circle cx="553.75" cy="60.44" r="2.35"/><circle cx="552.44" cy="58.73" r="2.35"/><circle cx="554.11" cy="58.22" r="2.35"/><circle cx="562.98" cy="56.42" r="2.35"/></g><g fill="#00C19F" fill-opacity="0.4" stroke="#00C19F" stroke-opacity="0.7" stroke-width="0.6"><circle cx="574.32" cy="84" r="2.35"/><circle cx="577.57" cy="49.32" r="2.35"/><circle cx="570.59" cy="82.69" r="2.35"/><circle cx="579.15" cy="78.56" r="2.35"/><circle cx="583.7" cy="77.32" r="2.35"/><circle cx="574.14" cy="75.95" r="2.35"/><circle cx="581.51" cy="72.96" r="2.35"/><circle cx="572.07" cy="72.47" r="2.35"/><circle cx="570.49" cy="71.28" r="2.35"/><circle cx="579.16" cy="70.58" r="2.35"/><circle cx="573.71" cy="70.18" r="2.35"/><circle cx="579.81" cy="69.62" r="2.35"/><circle cx="570.88" cy="69.29" r="2.35"/><circle cx="571.82" cy="68.95" r="2.35"/><circle cx="574.33" cy="68.33" r="2.35"/><circle cx="577.12" cy="66.98" r="2.35"/><circle cx="573.29" cy="66.15" r="2.35"/><circle cx="571.73" cy="65.46" r="2.35"/><circle cx="571.52" cy="64.9" r="2.35"/><circle cx="575.03" cy="63.77" r="2.35"/><circle cx="570.84" cy="62.62" r="2.35"/><circle cx="577.43" cy="62.45" r="2.35"/><circle cx="570.39" cy="59.94" r="2.35"/><circle cx="577.14" cy="59.61" r="2.35"/><circle cx="574.34" cy="55.89" r="2.35"/><circle cx="570.53" cy="55.12" r="2.35"/><circle cx="570.29" cy="49.78" r="2.35"/></g><g fill="#00B9E3" fill-opacity="0.4" stroke="#00B9E3" stroke-opacity="0.7" stroke-width="0.6"><circle cx="593.81" cy="79" r="2.35"/><circle cx="592.22" cy="49.32" r="2.35"/><circle cx="593.42" cy="78.12" r="2.35"/><circle cx="601.72" cy="76.51" r="2.35"/><circle cx="602.31" cy="75.89" r="2.35"/><circle cx="602.38" cy="74.22" r="2.35"/><circle cx="596.56" cy="73.67" r="2.35"/><circle cx="592.86" cy="72.43" r="2.35"/><circle cx="594.1" cy="71.62" r="2.35"/><circle cx="593.16" cy="71.52" r="2.35"/><circle cx="602.3" cy="70.68" r="2.35"/><circle cx="600.95" cy="69.69" r="2.35"/><circle cx="599.9" cy="69.43" r="2.35"/><circle cx="596.23" cy="68.39" r="2.35"/><circle cx="595.75" cy="68.19" r="2.35"/><circle cx="599.19" cy="67.36" r="2.35"/><circle cx="601.31" cy="66.34" r="2.35"/><circle cx="598.93" cy="65.63" r="2.35"/><circle cx="602.1" cy="65.36" r="2.35"/><circle cx="597.37" cy="64.63" r="2.35"/><circle cx="600.61" cy="64.03" r="2.35"/><circle cx="597.42" cy="63.47" r="2.35"/><circle cx="596.63" cy="62.73" r="2.35"/><circle cx="600.37" cy="61.79" r="2.35"/><circle cx="595.22" cy="61.33" r="2.35"/><circle cx="600.68" cy="59.87" r="2.35"/><circle cx="592.62" cy="58.78" r="2.35"/><circle cx="602.48" cy="56.83" r="2.35"/><circle cx="599.13" cy="55.07" r="2.35"/><circle cx="591.76" cy="53.64" r="2.35"/><circle cx="598.48" cy="50.61" r="2.35"/></g><g fill="#619CFF" fill-opacity="0.4" stroke="#619CFF" stroke-opacity="0.7" stroke-width="0.6"><circle cx="614" cy="82.61" r="2.35"/><circle cx="620.09" cy="46.55" r="2.35"/><circle cx="610.23" cy="81.95" r="2.35"/><circle cx="619.59" cy="80.19" r="2.35"/><circle cx="619.77" cy="78.09" r="2.35"/><circle cx="610.99" cy="75.75" r="2.35"/><circle cx="611.68" cy="73.5" r="2.35"/><circle cx="616.61" cy="73.14" r="2.35"/><circle cx="612.08" cy="71.85" r="2.35"/><circle cx="614.86" cy="71.31" r="2.35"/><circle cx="615.49" cy="70.53" r="2.35"/><circle cx="613.57" cy="68.89" r="2.35"/><circle cx="609.87" cy="68.24" r="2.35"/><circle cx="612.07" cy="67.45" r="2.35"/><circle cx="619.32" cy="65.51" r="2.35"/><circle cx="619.15" cy="64.54" r="2.35"/><circle cx="609.56" cy="64.23" r="2.35"/><circle cx="617.7" cy="63.31" r="2.35"/><circle cx="620.26" cy="62.91" r="2.35"/><circle cx="616.56" cy="62.3" r="2.35"/><circle cx="621.37" cy="62" r="2.35"/><circle cx="616.27" cy="61.36" r="2.35"/><circle cx="614.61" cy="61.2" r="2.35"/><circle cx="613.68" cy="60.37" r="2.35"/><circle cx="616.19" cy="59.81" r="2.35"/><circle cx="617.25" cy="58.91" r="2.35"/><circle cx="621.81" cy="56.6" r="2.35"/><circle cx="610.22" cy="54.75" r="2.35"/><circle cx="612.64" cy="53.49" r="2.35"/><circle cx="620.45" cy="51.65" r="2.35"/><circle cx="617.6" cy="47.57" r="2.35"/></g><g fill="#DB72FB" fill-opacity="0.4" stroke="#DB72FB" stroke-opacity="0.7" stroke-width="0.6"><circle cx="639.76" cy="86.77" r="2.35"/><circle cx="635.38" cy="47.1" r="2.35"/><circle cx="638" cy="86.12" r="2.35"/><circle cx="631.12" cy="83.61" r="2.35"/><circle cx="638.87" cy="82.66" r="2.35"/><circle cx="631.81" cy="80.71" r="2.35"/><circle cx="631.44" cy="79.25" r="2.35"/><circle cx="635.01" cy="76.64" r="2.35"/><circle cx="635.66" cy="76.28" r="2.35"/><circle cx="633.66" cy="74.92" r="2.35"/><circle cx="638.69" cy="74.14" r="2.35"/><circle cx="637.63" cy="73.42" r="2.35"/><circle cx="634.48" cy="73.16" r="2.35"/><circle cx="639.4" cy="72.52" r="2.35"/><circle cx="632.77" cy="71.72" r="2.35"/><circle cx="632.61" cy="70.75" r="2.35"/><circle cx="640.73" cy="70.21" r="2.35"/><circle cx="631.58" cy="69.71" r="2.35"/><circle cx="629.09" cy="68.88" r="2.35"/><circle cx="639.01" cy="68.2" r="2.35"/><circle cx="636.73" cy="67.23" r="2.35"/><circle cx="631.67" cy="66.7" r="2.35"/><circle cx="638.35" cy="66.53" r="2.35"/><circle cx="636.58" cy="65.55" r="2.35"/><circle cx="633.48" cy="65.41" r="2.35"/><circle cx="634.54" cy="64.71" r="2.35"/><circle cx="640.31" cy="64.15" r="2.35"/><circle cx="634.68" cy="63.83" r="2.35"/><circle cx="628.69" cy="63.25" r="2.35"/><circle cx="633.29" cy="62.36" r="2.35"/><circle cx="631.43" cy="61.87" r="2.35"/><circle cx="640.44" cy="60.78" r="2.35"/><circle cx="633.27" cy="59.23" r="2.35"/><circle cx="632.76" cy="57.79" r="2.35"/><circle cx="637.78" cy="57.09" r="2.35"/><circle cx="637.78" cy="54.57" r="2.35"/><circle cx="628.35" cy="52.51" r="2.35"/><circle cx="636.6" cy="51.27" r="2.35"/><circle cx="640.09" cy="47.69" r="2.35"/></g><g fill="#FF61C3" fill-opacity="0.4" stroke="#FF61C3" stroke-opacity="0.7" stroke-width="0.6"><circle cx="648.15" cy="85.94" r="2.35"/><circle cx="659.57" cy="45.72" r="2.35"/><circle cx="653.15" cy="85.14" r="2.35"/><circle cx="648.66" cy="84.2" r="2.35"/><circle cx="649.12" cy="82.09" r="2.35"/><circle cx="649.84" cy="81.93" r="2.35"/><circle cx="659.09" cy="80.26" r="2.35"/><circle cx="657.52" cy="79.49" r="2.35"/><circle cx="646.83" cy="78.11" r="2.35"/><circle cx="655.98" cy="77.32" r="2.35"/><circle cx="650.86" cy="76.1" r="2.35"/><circle cx="652.36" cy="75.96" r="2.35"/><circle cx="656.56" cy="75.05" r="2.35"/><circle cx="650.37" cy="74.64" r="2.35"/><circle cx="650.36" cy="74.35" r="2.35"/><circle cx="659.14" cy="74.02" r="2.35"/><circle cx="657.18" cy="73.86" r="2.35"/><circle cx="657.77" cy="73.72" r="2.35"/><circle cx="656.56" cy="73.48" r="2.35"/><circle cx="659.54" cy="73.3" r="2.35"/><circle cx="656.72" cy="73.18" r="2.35"/><circle cx="656.6" cy="72.92" r="2.35"/><circle cx="650.35" cy="72.78" r="2.35"/><circle cx="656.03" cy="72.57" r="2.35"/><circle cx="659.23" cy="72.22" r="2.35"/><circle cx="654.19" cy="72.03" r="2.35"/><circle cx="656.22" cy="71.93" r="2.35"/><circle cx="648.76" cy="71.78" r="2.35"/><circle cx="652.74" cy="70.5" r="2.35"/><circle cx="653.62" cy="70.37" r="2.35"/><circle cx="656.38" cy="69.56" r="2.35"/><circle cx="653.48" cy="68.46" r="2.35"/><circle cx="649.6" cy="67.96" r="2.35"/><circle cx="659.9" cy="67.36" r="2.35"/><circle cx="652.99" cy="66.44" r="2.35"/><circle cx="647.97" cy="65.66" r="2.35"/><circle cx="657.91" cy="65.2" r="2.35"/><circle cx="651.37" cy="64.28" r="2.35"/><circle cx="659.42" cy="64.18" r="2.35"/><circle cx="646.77" cy="63.19" r="2.35"/><circle cx="656.82" cy="62.68" r="2.35"/><circle cx="655.69" cy="61.77" r="2.35"/><circle cx="656.18" cy="61.16" r="2.35"/><circle cx="646.85" cy="59.87" r="2.35"/><circle cx="653.28" cy="59.05" r="2.35"/><circle cx="653.28" cy="57.04" r="2.35"/><circle cx="650.46" cy="55.74" r="2.35"/><circle cx="647.57" cy="53.41" r="2.35"/><circle cx="654.78" cy="52.46" r="2.35"/><circle cx="651.38" cy="51.26" r="2.35"/><circle cx="659.89" cy="48.18" r="2.35"/><circle cx="649.57" cy="46.85" r="2.35"/></g><path d="M500.5 63.19V69.29M500.5 85.11V96.48" stroke="#F8766D" stroke-width="1.0" fill="none"/><rect x="493.35" y="69.29" width="14.3" height="15.81" fill="#fff" fill-opacity="0.72" stroke="#F8766D" stroke-width="1.05"/><path d="M493.35 78.73H507.65" stroke="#FF3426" stroke-width="1.5"/><path d="M519.59 59.86V63.19M519.59 77.34V85.38" stroke="#D39200" stroke-width="1.0" fill="none"/><rect x="512.44" y="63.19" width="14.3" height="14.15" fill="#fff" fill-opacity="0.72" stroke="#D39200" stroke-width="1.05"/><path d="M512.44 70.13H526.74" stroke="#AD7800" stroke-width="1.5"/><path d="M538.68 56.26V63.75M538.68 72.62V82.61" stroke="#93AA00" stroke-width="1.0" fill="none"/><rect x="531.53" y="63.75" width="14.3" height="8.88" fill="#fff" fill-opacity="0.72" stroke="#93AA00" stroke-width="1.05"/><path d="M531.53 68.74H545.83" stroke="#798B00" stroke-width="1.5"/><path d="M557.77 55.42V61.53M557.77 69.29V78.45" stroke="#00BA38" stroke-width="1.0" fill="none"/><rect x="550.62" y="61.53" width="14.3" height="7.77" fill="#fff" fill-opacity="0.72" stroke="#00BA38" stroke-width="1.05"/><path d="M550.62 65.97H564.92" stroke="#00992E" stroke-width="1.5"/><path d="M576.86 49.32V62.64M576.86 71.51V84" stroke="#00C19F" stroke-width="1.0" fill="none"/><rect x="569.71" y="62.64" width="14.3" height="8.88" fill="#fff" fill-opacity="0.72" stroke="#00C19F" stroke-width="1.05"/><path d="M569.71 68.18H584.01" stroke="#009E82" stroke-width="1.5"/><path d="M595.95 49.32V61.8M595.95 71.51V79" stroke="#00B9E3" stroke-width="1.0" fill="none"/><rect x="588.8" y="61.8" width="14.3" height="9.71" fill="#fff" fill-opacity="0.72" stroke="#00B9E3" stroke-width="1.05"/><path d="M588.8 66.52H603.1" stroke="#0098BA" stroke-width="1.5"/><path d="M615.04 46.55V60.42M615.04 71.51V82.61" stroke="#619CFF" stroke-width="1.0" fill="none"/><rect x="607.89" y="60.42" width="14.3" height="11.1" fill="#fff" fill-opacity="0.72" stroke="#619CFF" stroke-width="1.05"/><path d="M607.89 63.75H622.19" stroke="#2274FF" stroke-width="1.5"/><path d="M634.13 47.1V62.36M634.13 73.73V86.77" stroke="#DB72FB" stroke-width="1.0" fill="none"/><rect x="626.98" y="62.36" width="14.3" height="11.37" fill="#fff" fill-opacity="0.72" stroke="#DB72FB" stroke-width="1.05"/><path d="M626.98 67.35H641.28" stroke="#CE2CFF" stroke-width="1.5"/><path d="M653.22 45.72V63.19M653.22 74.29V85.94" stroke="#FF61C3" stroke-width="1.0" fill="none"/><rect x="646.07" y="63.19" width="14.3" height="11.1" fill="#fff" fill-opacity="0.72" stroke="#FF61C3" stroke-width="1.05"/><path d="M646.07 71.79H660.37" stroke="#FF22AB" stroke-width="1.5"/><path d="M500.5 66.52L504.32 66.57L508.14 66.62L511.95 66.66L515.77 66.71L519.59 66.76L523.41 66.8L527.23 66.85L531.04 66.89L534.86 66.93L538.68 66.97L542.5 67.01L546.32 67.05L550.13 67.08L553.95 67.12L557.77 67.15L561.59 67.17L565.41 67.19L569.22 67.21L573.04 67.21L576.86 67.21L580.68 67.2L584.5 67.18L588.31 67.15L592.13 67.1L595.95 67.04L599.77 66.97L603.59 66.88L607.4 66.78L611.22 66.67L615.04 66.55L618.86 66.43L622.68 66.3L626.49 66.16L630.31 66.02L634.13 65.88L637.95 65.74L641.77 65.59L645.58 65.44L649.4 65.29L653.22 65.13L653.22 69.02L649.4 68.97L645.58 68.93L641.77 68.9L637.95 68.86L634.13 68.82L630.31 68.79L626.49 68.76L622.68 68.74L618.86 68.72L615.04 68.71L611.22 68.7L607.4 68.7L603.59 68.71L599.77 68.74L595.95 68.77L592.13 68.82L588.31 68.89L584.5 68.96L580.68 69.05L576.86 69.16L573.04 69.27L569.22 69.38L565.41 69.51L561.59 69.64L557.77 69.78L553.95 69.92L550.13 70.06L546.32 70.21L542.5 70.36L538.68 70.51L534.86 70.66L531.04 70.81L527.23 70.97L523.41 71.12L519.59 71.28L515.77 71.43L511.95 71.59L508.14 71.75L504.32 71.91L500.5 72.07Z" fill="#999999" fill-opacity="0.34"/><path d="M500.5 69.29L653.22 67.07" stroke="#000" stroke-width="1.85"/><rect x="485.45" y="43.6" width="182.8" height="90.4" fill="none" stroke="#333" stroke-width="0.9"/><rect x="668.25" y="43.6" width="13.3" height="90.4" fill="#D9D9D9" stroke="#333" stroke-width="0.9"/><text x="674.9" y="88.8" transform="rotate(90 674.9 88.8)" font-size="7.35" fill="#1A1A1A" text-anchor="middle" dy="0.36em">AH</text><text x="481.25" y="49.2" dy="0.36em" text-anchor="end" font-size="7.15" fill="#2E2E2E" stroke="#2E2E2E" stroke-width="0.12">74</text><text x="481.25" y="62.83" dy="0.36em" text-anchor="end" font-size="7.15" fill="#2E2E2E" stroke="#2E2E2E" stroke-width="0.12">65</text><text x="481.25" y="76.45" dy="0.36em" text-anchor="end" font-size="7.15" fill="#2E2E2E" stroke="#2E2E2E" stroke-width="0.12">56</text><text x="481.25" y="90.08" dy="0.36em" text-anchor="end" font-size="7.15" fill="#2E2E2E" stroke="#2E2E2E" stroke-width="0.12">47</text><text x="481.25" y="103.7" dy="0.36em" text-anchor="end" font-size="7.15" fill="#2E2E2E" stroke="#2E2E2E" stroke-width="0.12">38</text><text x="481.25" y="117.33" dy="0.36em" text-anchor="end" font-size="7.15" fill="#2E2E2E" stroke="#2E2E2E" stroke-width="0.12">29</text><text x="481.25" y="130.95" dy="0.36em" text-anchor="end" font-size="7.15" fill="#2E2E2E" stroke="#2E2E2E" stroke-width="0.12">20</text><path d="M482.95 49.2H485.45M482.95 62.83H485.45M482.95 76.45H485.45M482.95 90.08H485.45M482.95 103.7H485.45M482.95 117.33H485.45M482.95 130.95H485.45" stroke="#333" stroke-width="1.1"/><rect x="485.45" y="139.1" width="182.8" height="90.4" fill="#fff"/><path d="M485.45 151.51H668.25M485.45 165.14H668.25M485.45 178.76H668.25M485.45 192.39H668.25M485.45 206.01H668.25M485.45 219.64H668.25M490.96 139.1V229.5M510.05 139.1V229.5M529.13 139.1V229.5M548.22 139.1V229.5M567.31 139.1V229.5M586.4 139.1V229.5M605.5 139.1V229.5M624.58 139.1V229.5M643.67 139.1V229.5M662.76 139.1V229.5" stroke="#EEEEEE" stroke-width="0.5" fill="none"/><path d="M485.45 144.7H668.25M485.45 158.32H668.25M485.45 171.95H668.25M485.45 185.57H668.25M485.45 199.2H668.25M485.45 212.82H668.25M485.45 226.45H668.25M500.5 139.1V229.5M519.59 139.1V229.5M538.68 139.1V229.5M557.77 139.1V229.5M576.86 139.1V229.5M595.95 139.1V229.5M615.04 139.1V229.5M634.13 139.1V229.5M653.22 139.1V229.5" stroke="#E4E4E4" stroke-width="0.85" fill="none"/><g fill="#F8766D" fill-opacity="0.4" stroke="#F8766D" stroke-opacity="0.7" stroke-width="0.6"><circle cx="502.68" cy="160.83" r="2.35"/><circle cx="495.47" cy="156.67" r="2.35"/><circle cx="495.69" cy="159.26" r="2.35"/></g><g fill="#D39200" fill-opacity="0.4" stroke="#D39200" stroke-opacity="0.7" stroke-width="0.6"><circle cx="523.52" cy="165.83" r="2.35"/><circle cx="514.35" cy="157.5" r="2.35"/><circle cx="516.58" cy="165.12" r="2.35"/><circle cx="521.83" cy="157.74" r="2.35"/></g><g fill="#93AA00" fill-opacity="0.4" stroke="#93AA00" stroke-opacity="0.7" stroke-width="0.6"><circle cx="542.48" cy="169.16" r="2.35"/><circle cx="535.22" cy="156.12" r="2.35"/><circle cx="542.08" cy="169.03" r="2.35"/><circle cx="534.05" cy="166.78" r="2.35"/><circle cx="540.52" cy="161.94" r="2.35"/></g><g fill="#00BA38" fill-opacity="0.4" stroke="#00BA38" stroke-opacity="0.7" stroke-width="0.6"><circle cx="555.34" cy="174.15" r="2.35"/><circle cx="555.46" cy="149.18" r="2.35"/><circle cx="563.4" cy="168.05" r="2.35"/><circle cx="553.46" cy="163.98" r="2.35"/><circle cx="556.33" cy="162.2" r="2.35"/><circle cx="561.64" cy="160.04" r="2.35"/><circle cx="551.99" cy="157.04" r="2.35"/></g><g fill="#00C19F" fill-opacity="0.4" stroke="#00C19F" stroke-opacity="0.7" stroke-width="0.6"><circle cx="576.79" cy="176.37" r="2.35"/><circle cx="576.22" cy="157.5" r="2.35"/><circle cx="583.08" cy="173.44" r="2.35"/><circle cx="579.55" cy="170.88" r="2.35"/><circle cx="576.92" cy="168.62" r="2.35"/><circle cx="575.43" cy="164.82" r="2.35"/><circle cx="579.84" cy="163.56" r="2.35"/><circle cx="583.35" cy="160.97" r="2.35"/><circle cx="576.91" cy="157.52" r="2.35"/></g><g fill="#00B9E3" fill-opacity="0.4" stroke="#00B9E3" stroke-opacity="0.7" stroke-width="0.6"><circle cx="600.19" cy="174.15" r="2.35"/><circle cx="595.04" cy="144.19" r="2.35"/><circle cx="596.94" cy="172.1" r="2.35"/><circle cx="592.39" cy="168.89" r="2.35"/><circle cx="596.73" cy="167.68" r="2.35"/><circle cx="598.02" cy="162.13" r="2.35"/><circle cx="596.81" cy="159.56" r="2.35"/><circle cx="591.76" cy="156.67" r="2.35"/><circle cx="592.9" cy="147.63" r="2.35"/></g><g fill="#619CFF" fill-opacity="0.4" stroke="#619CFF" stroke-opacity="0.7" stroke-width="0.6"><circle cx="615.49" cy="172.76" r="2.35"/><circle cx="611.15" cy="149.74" r="2.35"/><circle cx="611.2" cy="172.51" r="2.35"/><circle cx="614.06" cy="165.74" r="2.35"/><circle cx="616.92" cy="163.24" r="2.35"/><circle cx="615.24" cy="161.62" r="2.35"/><circle cx="611.3" cy="159.16" r="2.35"/><circle cx="616.01" cy="157.98" r="2.35"/><circle cx="617.82" cy="156.13" r="2.35"/><circle cx="611.09" cy="153.59" r="2.35"/><circle cx="609.83" cy="179.7" r="2.35"/><circle cx="620.09" cy="180.53" r="2.35"/></g><g fill="#DB72FB" fill-opacity="0.4" stroke="#DB72FB" stroke-opacity="0.7" stroke-width="0.6"><circle cx="640.13" cy="188.02" r="2.35"/><circle cx="634.1" cy="158.06" r="2.35"/><circle cx="638.95" cy="185.09" r="2.35"/><circle cx="634.17" cy="177.32" r="2.35"/><circle cx="640.83" cy="174.8" r="2.35"/><circle cx="629.55" cy="172.11" r="2.35"/><circle cx="631.38" cy="169.95" r="2.35"/><circle cx="637.84" cy="167.63" r="2.35"/><circle cx="633.06" cy="163.78" r="2.35"/><circle cx="635" cy="159.72" r="2.35"/><circle cx="639.44" cy="224.63" r="2.35"/><circle cx="630.19" cy="225.47" r="2.35"/></g><g fill="#FF61C3" fill-opacity="0.4" stroke="#FF61C3" stroke-opacity="0.7" stroke-width="0.6"><circle cx="654.38" cy="181.92" r="2.35"/><circle cx="652.85" cy="156.95" r="2.35"/><circle cx="658.82" cy="181.81" r="2.35"/><circle cx="652.44" cy="180.41" r="2.35"/><circle cx="650.52" cy="178.71" r="2.35"/><circle cx="652.92" cy="173.85" r="2.35"/><circle cx="655.44" cy="172.77" r="2.35"/><circle cx="649.57" cy="168.59" r="2.35"/><circle cx="656.59" cy="166.03" r="2.35"/><circle cx="651.48" cy="163.07" r="2.35"/><circle cx="647.17" cy="160.7" r="2.35"/><circle cx="655.94" cy="157.36" r="2.35"/></g><path d="M500.5 156.67V158.06M500.5 159.72V160.83" stroke="#F8766D" stroke-width="1.0" fill="none"/><rect x="493.35" y="158.06" width="14.3" height="1.66" fill="#fff" fill-opacity="0.72" stroke="#F8766D" stroke-width="1.05"/><path d="M493.35 158.89H507.65" stroke="#FF3426" stroke-width="1.5"/><path d="M519.59 157.5V158.06M519.59 163.05V165.83" stroke="#D39200" stroke-width="1.0" fill="none"/><rect x="512.44" y="158.06" width="14.3" height="4.99" fill="#fff" fill-opacity="0.72" stroke="#D39200" stroke-width="1.05"/><path d="M512.44 160.83H526.74" stroke="#AD7800" stroke-width="1.5"/><path d="M538.68 156.12V161.67M538.68 168.05V169.16" stroke="#93AA00" stroke-width="1.0" fill="none"/><rect x="531.53" y="161.67" width="14.3" height="6.38" fill="#fff" fill-opacity="0.72" stroke="#93AA00" stroke-width="1.05"/><path d="M531.53 164.99H545.83" stroke="#798B00" stroke-width="1.5"/><path d="M557.77 149.18V159.72M557.77 165.27V174.15" stroke="#00BA38" stroke-width="1.0" fill="none"/><rect x="550.62" y="159.72" width="14.3" height="5.55" fill="#fff" fill-opacity="0.72" stroke="#00BA38" stroke-width="1.05"/><path d="M550.62 161.11H564.92" stroke="#00992E" stroke-width="1.5"/><path d="M576.86 157.5V161.67M576.86 171.37V176.37" stroke="#00C19F" stroke-width="1.0" fill="none"/><rect x="569.71" y="161.67" width="14.3" height="9.71" fill="#fff" fill-opacity="0.72" stroke="#00C19F" stroke-width="1.05"/><path d="M569.71 165.83H584.01" stroke="#009E82" stroke-width="1.5"/><path d="M595.95 144.19V158.06M595.95 168.6V174.15" stroke="#00B9E3" stroke-width="1.0" fill="none"/><rect x="588.8" y="158.06" width="14.3" height="10.54" fill="#fff" fill-opacity="0.72" stroke="#00B9E3" stroke-width="1.05"/><path d="M588.8 163.05H603.1" stroke="#0098BA" stroke-width="1.5"/><path d="M615.04 149.74V156.95M615.04 164.44V172.76" stroke="#619CFF" stroke-width="1.0" fill="none"/><rect x="607.89" y="156.95" width="14.3" height="7.49" fill="#fff" fill-opacity="0.72" stroke="#619CFF" stroke-width="1.05"/><path d="M607.89 160.28H622.19" stroke="#2274FF" stroke-width="1.5"/><path d="M634.13 158.06V165.27M634.13 176.09V188.02" stroke="#DB72FB" stroke-width="1.0" fill="none"/><rect x="626.98" y="165.27" width="14.3" height="10.82" fill="#fff" fill-opacity="0.72" stroke="#DB72FB" stroke-width="1.05"/><path d="M626.98 170.82H641.28" stroke="#CE2CFF" stroke-width="1.5"/><path d="M653.22 156.95V163.05M653.22 179.14V181.92" stroke="#FF61C3" stroke-width="1.0" fill="none"/><rect x="646.07" y="163.05" width="14.3" height="16.09" fill="#fff" fill-opacity="0.72" stroke="#FF61C3" stroke-width="1.05"/><path d="M646.07 169.99H660.37" stroke="#FF22AB" stroke-width="1.5"/><path d="M500.5 151.12L504.32 151.69L508.14 152.25L511.95 152.8L515.77 153.36L519.59 153.92L523.41 154.48L527.23 155.03L531.04 155.59L534.86 156.14L538.68 156.69L542.5 157.24L546.32 157.78L550.13 158.32L553.95 158.86L557.77 159.4L561.59 159.92L565.41 160.44L569.22 160.96L573.04 161.46L576.86 161.94L580.68 162.41L584.5 162.86L588.31 163.28L592.13 163.66L595.95 164.01L599.77 164.32L603.59 164.58L607.4 164.81L611.22 165L615.04 165.17L618.86 165.31L622.68 165.44L626.49 165.55L630.31 165.65L634.13 165.74L637.95 165.82L641.77 165.9L645.58 165.97L649.4 166.04L653.22 166.1L653.22 174.43L649.4 173.88L645.58 173.34L641.77 172.8L637.95 172.27L634.13 171.74L630.31 171.22L626.49 170.71L622.68 170.21L618.86 169.72L615.04 169.26L611.22 168.81L607.4 168.4L603.59 168.01L599.77 167.67L595.95 167.37L592.13 167.1L588.31 166.88L584.5 166.69L580.68 166.52L576.86 166.38L573.04 166.26L569.22 166.15L565.41 166.05L561.59 165.96L557.77 165.88L553.95 165.8L550.13 165.73L546.32 165.66L542.5 165.6L538.68 165.53L534.86 165.47L531.04 165.42L527.23 165.36L523.41 165.3L519.59 165.25L515.77 165.2L511.95 165.15L508.14 165.09L504.32 165.04L500.5 164.99Z" fill="#999999" fill-opacity="0.34"/><path d="M500.5 158.06L653.22 170.26" stroke="#000" stroke-width="1.85"/><rect x="485.45" y="139.1" width="182.8" height="90.4" fill="none" stroke="#333" stroke-width="0.9"/><rect x="668.25" y="139.1" width="13.3" height="90.4" fill="#D9D9D9" stroke="#333" stroke-width="0.9"/><text x="674.9" y="184.3" transform="rotate(90 674.9 184.3)" font-size="7.35" fill="#1A1A1A" text-anchor="middle" dy="0.36em">NAH</text><text x="481.25" y="144.7" dy="0.36em" text-anchor="end" font-size="7.15" fill="#2E2E2E" stroke="#2E2E2E" stroke-width="0.12">74</text><text x="481.25" y="158.32" dy="0.36em" text-anchor="end" font-size="7.15" fill="#2E2E2E" stroke="#2E2E2E" stroke-width="0.12">65</text><text x="481.25" y="171.95" dy="0.36em" text-anchor="end" font-size="7.15" fill="#2E2E2E" stroke="#2E2E2E" stroke-width="0.12">56</text><text x="481.25" y="185.57" dy="0.36em" text-anchor="end" font-size="7.15" fill="#2E2E2E" stroke="#2E2E2E" stroke-width="0.12">47</text><text x="481.25" y="199.2" dy="0.36em" text-anchor="end" font-size="7.15" fill="#2E2E2E" stroke="#2E2E2E" stroke-width="0.12">38</text><text x="481.25" y="212.82" dy="0.36em" text-anchor="end" font-size="7.15" fill="#2E2E2E" stroke="#2E2E2E" stroke-width="0.12">29</text><text x="481.25" y="226.45" dy="0.36em" text-anchor="end" font-size="7.15" fill="#2E2E2E" stroke="#2E2E2E" stroke-width="0.12">20</text><path d="M482.95 144.7H485.45M482.95 158.32H485.45M482.95 171.95H485.45M482.95 185.57H485.45M482.95 199.2H485.45M482.95 212.82H485.45M482.95 226.45H485.45" stroke="#333" stroke-width="1.1"/><text x="500.5" y="238.7" text-anchor="middle" font-size="7.15" fill="#2E2E2E" stroke="#2E2E2E" stroke-width="0.12">2014</text><text x="519.59" y="238.7" text-anchor="middle" font-size="7.15" fill="#2E2E2E" stroke="#2E2E2E" stroke-width="0.12">2015</text><text x="538.68" y="238.7" text-anchor="middle" font-size="7.15" fill="#2E2E2E" stroke="#2E2E2E" stroke-width="0.12">2016</text><text x="557.77" y="238.7" text-anchor="middle" font-size="7.15" fill="#2E2E2E" stroke="#2E2E2E" stroke-width="0.12">2017</text><text x="576.86" y="238.7" text-anchor="middle" font-size="7.15" fill="#2E2E2E" stroke="#2E2E2E" stroke-width="0.12">2018</text><text x="595.95" y="238.7" text-anchor="middle" font-size="7.15" fill="#2E2E2E" stroke="#2E2E2E" stroke-width="0.12">2019</text><text x="615.04" y="238.7" text-anchor="middle" font-size="7.15" fill="#2E2E2E" stroke="#2E2E2E" stroke-width="0.12">2020</text><text x="634.13" y="238.7" text-anchor="middle" font-size="7.15" fill="#2E2E2E" stroke="#2E2E2E" stroke-width="0.12">2021</text><text x="653.22" y="238.7" text-anchor="middle" font-size="7.15" fill="#2E2E2E" stroke="#2E2E2E" stroke-width="0.12">2022</text><path d="M500.5 229.5V232M519.59 229.5V232M538.68 229.5V232M557.77 229.5V232M576.86 229.5V232M595.95 229.5V232M615.04 229.5V232M634.13 229.5V232M653.22 229.5V232" stroke="#333" stroke-width="1.1"/><text x="576.85" y="249.4" text-anchor="middle" font-size="9.02" fill="#000" stroke="#000" stroke-width="0.1">Year</text><text x="469.15" y="136.55" transform="rotate(-90 469.15 136.55)" text-anchor="middle" font-size="9.02" fill="#000" stroke="#000" stroke-width="0.1">Score (%)</text><text x="27.55" y="268.5" font-size="10.82" fill="#000" xml:space="preserve"> Hospital management support for</text><text x="27.55" y="279.95" font-size="10.82" fill="#000" xml:space="preserve">patient safety</text><text x="27.55" y="293.1" font-size="9.02" fill="#000" xml:space="preserve">AH (P &lt; 0.001);  NAH (P = 0.26)</text><rect x="27.55" y="299.2" width="182.8" height="90.4" fill="#fff"/><path d="M27.55 300.5H210.35M27.55 313.7H210.35M27.55 326.89H210.35M27.55 340.08H210.35M27.55 353.27H210.35M27.55 366.46H210.35M27.55 379.65H210.35M33.05 299.2V389.6M52.15 299.2V389.6M71.23 299.2V389.6M90.33 299.2V389.6M109.42 299.2V389.6M128.5 299.2V389.6M147.59 299.2V389.6M166.68 299.2V389.6M185.77 299.2V389.6M204.86 299.2V389.6" stroke="#EEEEEE" stroke-width="0.5" fill="none"/><path d="M27.55 307.1H210.35M27.55 320.29H210.35M27.55 333.48H210.35M27.55 346.67H210.35M27.55 359.87H210.35M27.55 373.06H210.35M27.55 386.25H210.35M42.6 299.2V389.6M61.69 299.2V389.6M80.78 299.2V389.6M99.87 299.2V389.6M118.96 299.2V389.6M138.05 299.2V389.6M157.14 299.2V389.6M176.23 299.2V389.6M195.32 299.2V389.6" stroke="#E4E4E4" stroke-width="0.85" fill="none"/><g fill="#F8766D" fill-opacity="0.4" stroke="#F8766D" stroke-opacity="0.7" stroke-width="0.6"><circle cx="35.84" cy="381.6" r="2.35"/><circle cx="44.95" cy="322.52" r="2.35"/><circle cx="38.44" cy="371.11" r="2.35"/><circle cx="48.11" cy="365.26" r="2.35"/><circle cx="39.51" cy="363.56" r="2.35"/><circle cx="36.51" cy="363.46" r="2.35"/><circle cx="43.8" cy="344.05" r="2.35"/><circle cx="45.25" cy="336.46" r="2.35"/><circle cx="43.06" cy="324.18" r="2.35"/><circle cx="41.39" cy="385.21" r="2.35"/></g><g fill="#D39200" fill-opacity="0.4" stroke="#D39200" stroke-opacity="0.7" stroke-width="0.6"><circle cx="60.22" cy="371.9" r="2.35"/><circle cx="64.26" cy="313.64" r="2.35"/><circle cx="61.02" cy="371" r="2.35"/><circle cx="59.21" cy="353.05" r="2.35"/><circle cx="56.09" cy="350.9" r="2.35"/><circle cx="63.22" cy="344.81" r="2.35"/><circle cx="55.53" cy="343.14" r="2.35"/><circle cx="61.26" cy="338.75" r="2.35"/><circle cx="60.4" cy="335.55" r="2.35"/><circle cx="58.83" cy="333.68" r="2.35"/><circle cx="58.27" cy="329.49" r="2.35"/><circle cx="61.51" cy="327.04" r="2.35"/><circle cx="66.93" cy="314.88" r="2.35"/><circle cx="65.73" cy="381.6" r="2.35"/><circle cx="59.04" cy="382.44" r="2.35"/></g><g fill="#93AA00" fill-opacity="0.4" stroke="#93AA00" stroke-opacity="0.7" stroke-width="0.6"><circle cx="80.88" cy="355.25" r="2.35"/><circle cx="78.51" cy="312.26" r="2.35"/><circle cx="82.25" cy="351.53" r="2.35"/><circle cx="83.55" cy="345.72" r="2.35"/><circle cx="75.06" cy="340.66" r="2.35"/><circle cx="77.31" cy="337.5" r="2.35"/><circle cx="85.85" cy="336.42" r="2.35"/><circle cx="83.03" cy="335.24" r="2.35"/><circle cx="76.2" cy="333.72" r="2.35"/><circle cx="81.3" cy="333.28" r="2.35"/><circle cx="78.91" cy="332.07" r="2.35"/><circle cx="76.03" cy="331.59" r="2.35"/><circle cx="79.49" cy="329.24" r="2.35"/><circle cx="81.2" cy="328.15" r="2.35"/><circle cx="82.94" cy="326.99" r="2.35"/><circle cx="86.04" cy="325.49" r="2.35"/><circle cx="77.67" cy="323.91" r="2.35"/><circle cx="87.49" cy="321" r="2.35"/><circle cx="78.96" cy="317.07" r="2.35"/><circle cx="82.81" cy="316.06" r="2.35"/><circle cx="79.34" cy="363.02" r="2.35"/><circle cx="80.08" cy="363.57" r="2.35"/></g><g fill="#00BA38" fill-opacity="0.4" stroke="#00BA38" stroke-opacity="0.7" stroke-width="0.6"><circle cx="102.92" cy="349.7" r="2.35"/><circle cx="94.72" cy="312.26" r="2.35"/><circle cx="97.03" cy="347.68" r="2.35"/><circle cx="102.49" cy="344.83" r="2.35"/><circle cx="93.55" cy="344.02" r="2.35"/><circle cx="96.89" cy="341.86" r="2.35"/><circle cx="98.31" cy="339.46" r="2.35"/><circle cx="103.94" cy="338.29" r="2.35"/><circle cx="93.37" cy="337.11" r="2.35"/><circle cx="96.76" cy="335.09" r="2.35"/><circle cx="101.75" cy="334.61" r="2.35"/><circle cx="93.06" cy="333.36" r="2.35"/><circle cx="97.24" cy="331.73" r="2.35"/><circle cx="103.11" cy="330.51" r="2.35"/><circle cx="99.39" cy="329.41" r="2.35"/><circle cx="103.2" cy="328.33" r="2.35"/><circle cx="96.37" cy="327.77" r="2.35"/><circle cx="102.8" cy="326.18" r="2.35"/><circle cx="95.15" cy="325.33" r="2.35"/><circle cx="101.65" cy="324.42" r="2.35"/><circle cx="103.85" cy="323.56" r="2.35"/><circle cx="93.86" cy="322.32" r="2.35"/><circle cx="96.86" cy="318.83" r="2.35"/><circle cx="97.55" cy="315.74" r="2.35"/><circle cx="105.15" cy="312.61" r="2.35"/></g><g fill="#00C19F" fill-opacity="0.4" stroke="#00C19F" stroke-opacity="0.7" stroke-width="0.6"><circle cx="119.75" cy="356.64" r="2.35"/><circle cx="118.44" cy="312.26" r="2.35"/><circle cx="112.44" cy="356.38" r="2.35"/><circle cx="122.51" cy="351.6" r="2.35"/><circle cx="113.44" cy="346.77" r="2.35"/><circle cx="121.69" cy="346.51" r="2.35"/><circle cx="117.68" cy="342.32" r="2.35"/><circle cx="124.08" cy="342.12" r="2.35"/><circle cx="113.43" cy="340.44" r="2.35"/><circle cx="116.92" cy="339.23" r="2.35"/><circle cx="112.66" cy="337.59" r="2.35"/><circle cx="124.97" cy="336.79" r="2.35"/><circle cx="120.55" cy="335.21" r="2.35"/><circle cx="116.74" cy="333.35" r="2.35"/><circle cx="114.3" cy="332.96" r="2.35"/><circle cx="124.33" cy="330.65" r="2.35"/><circle cx="116.97" cy="330.38" r="2.35"/><circle cx="113.82" cy="328.95" r="2.35"/><circle cx="118.53" cy="327.55" r="2.35"/><circle cx="117.08" cy="325.8" r="2.35"/><circle cx="123.34" cy="324.77" r="2.35"/><circle cx="112.92" cy="323.72" r="2.35"/><circle cx="122.62" cy="323.04" r="2.35"/><circle cx="124.31" cy="321.07" r="2.35"/><circle cx="112.92" cy="319.7" r="2.35"/><circle cx="121.43" cy="317.21" r="2.35"/><circle cx="122.07" cy="313.22" r="2.35"/><circle cx="122.5" cy="371.34" r="2.35"/></g><g fill="#00B9E3" fill-opacity="0.4" stroke="#00B9E3" stroke-opacity="0.7" stroke-width="0.6"><circle cx="132.32" cy="356.64" r="2.35"/><circle cx="133.99" cy="308.1" r="2.35"/><circle cx="134.46" cy="353.16" r="2.35"/><circle cx="134.67" cy="350.89" r="2.35"/><circle cx="140.08" cy="346.77" r="2.35"/><circle cx="136.82" cy="343.84" r="2.35"/><circle cx="143.87" cy="341.48" r="2.35"/><circle cx="140.46" cy="339.82" r="2.35"/><circle cx="140.74" cy="337.28" r="2.35"/><circle cx="143.63" cy="336.26" r="2.35"/><circle cx="143.01" cy="335.07" r="2.35"/><circle cx="131.57" cy="333.06" r="2.35"/><circle cx="137" cy="331.38" r="2.35"/><circle cx="140.11" cy="330.47" r="2.35"/><circle cx="141.12" cy="329.21" r="2.35"/><circle cx="143.6" cy="327.57" r="2.35"/><circle cx="133.99" cy="325.94" r="2.35"/><circle cx="137.99" cy="325.51" r="2.35"/><circle cx="143.54" cy="324.35" r="2.35"/><circle cx="133.73" cy="323.71" r="2.35"/><circle cx="131.77" cy="322.91" r="2.35"/><circle cx="137.01" cy="322.23" r="2.35"/><circle cx="133.58" cy="321.87" r="2.35"/><circle cx="131.64" cy="320.66" r="2.35"/><circle cx="136.59" cy="319.82" r="2.35"/><circle cx="139.91" cy="318.88" r="2.35"/><circle cx="140.03" cy="317.1" r="2.35"/><circle cx="142.95" cy="316.58" r="2.35"/><circle cx="135.05" cy="314.05" r="2.35"/><circle cx="134.98" cy="311.26" r="2.35"/><circle cx="143.59" cy="308.23" r="2.35"/></g><g fill="#619CFF" fill-opacity="0.4" stroke="#619CFF" stroke-opacity="0.7" stroke-width="0.6"><circle cx="162.44" cy="345.54" r="2.35"/><circle cx="162.52" cy="303.93" r="2.35"/><circle cx="162.24" cy="345.4" r="2.35"/><circle cx="157.59" cy="341.66" r="2.35"/><circle cx="156.43" cy="340.45" r="2.35"/><circle cx="159.43" cy="337.23" r="2.35"/><circle cx="155.84" cy="336.61" r="2.35"/><circle cx="158.02" cy="334.14" r="2.35"/><circle cx="151.13" cy="333.66" r="2.35"/><circle cx="157.82" cy="331.97" r="2.35"/><circle cx="157.97" cy="330.84" r="2.35"/><circle cx="153.25" cy="329.01" r="2.35"/><circle cx="152.74" cy="328.32" r="2.35"/><circle cx="156.28" cy="325.96" r="2.35"/><circle cx="162.64" cy="324.37" r="2.35"/><circle cx="163.92" cy="323.18" r="2.35"/><circle cx="160.01" cy="321.36" r="2.35"/><circle cx="154.78" cy="320.5" r="2.35"/><circle cx="154.79" cy="319.35" r="2.35"/><circle cx="162.99" cy="318.33" r="2.35"/><circle cx="153.93" cy="317.61" r="2.35"/><circle cx="158.49" cy="317.01" r="2.35"/><circle cx="160.19" cy="316.48" r="2.35"/><circle cx="154.14" cy="315.13" r="2.35"/><circle cx="163.01" cy="314.26" r="2.35"/><circle cx="153.71" cy="314.02" r="2.35"/><circle cx="163.9" cy="312.94" r="2.35"/><circle cx="159.97" cy="311.4" r="2.35"/><circle cx="157.52" cy="309.89" r="2.35"/><circle cx="158.2" cy="307.17" r="2.35"/><circle cx="162.53" cy="305.72" r="2.35"/></g><g fill="#DB72FB" fill-opacity="0.4" stroke="#DB72FB" stroke-opacity="0.7" stroke-width="0.6"><circle cx="174.39" cy="349.7" r="2.35"/><circle cx="174.94" cy="301.16" r="2.35"/><circle cx="177.84" cy="347.75" r="2.35"/><circle cx="173.59" cy="347.33" r="2.35"/><circle cx="178.35" cy="344.64" r="2.35"/><circle cx="181.49" cy="343.27" r="2.35"/><circle cx="175.51" cy="340.72" r="2.35"/><circle cx="181.59" cy="338.7" r="2.35"/><circle cx="179.85" cy="337.76" r="2.35"/><circle cx="172.94" cy="336.4" r="2.35"/><circle cx="170.29" cy="335.86" r="2.35"/><circle cx="173.7" cy="335.28" r="2.35"/><circle cx="177.55" cy="334.05" r="2.35"/><circle cx="177.35" cy="333" r="2.35"/><circle cx="171.59" cy="331.33" r="2.35"/><circle cx="178.78" cy="330.12" r="2.35"/><circle cx="173.74" cy="329.52" r="2.35"/><circle cx="174.63" cy="327.77" r="2.35"/><circle cx="170.91" cy="327.19" r="2.35"/><circle cx="179.12" cy="325.5" r="2.35"/><circle cx="172.78" cy="324.59" r="2.35"/><circle cx="172.15" cy="323.99" r="2.35"/><circle cx="181.67" cy="323.04" r="2.35"/><circle cx="173.94" cy="322.27" r="2.35"/><circle cx="180.46" cy="321.95" r="2.35"/><circle cx="170.16" cy="320.69" r="2.35"/><circle cx="176.29" cy="320.36" r="2.35"/><circle cx="178.23" cy="319.82" r="2.35"/><circle cx="179.04" cy="318.37" r="2.35"/><circle cx="175.74" cy="317.73" r="2.35"/><circle cx="171.73" cy="317.29" r="2.35"/><circle cx="176.83" cy="316.93" r="2.35"/><circle cx="181.5" cy="315.79" r="2.35"/><circle cx="173.41" cy="313.02" r="2.35"/><circle cx="174.95" cy="311.31" r="2.35"/><circle cx="178.48" cy="308.91" r="2.35"/><circle cx="174.19" cy="306.35" r="2.35"/><circle cx="178.28" cy="304.72" r="2.35"/><circle cx="175.1" cy="301.66" r="2.35"/></g><g fill="#FF61C3" fill-opacity="0.4" stroke="#FF61C3" stroke-opacity="0.7" stroke-width="0.6"><circle cx="197.16" cy="356.64" r="2.35"/><circle cx="195.13" cy="303.93" r="2.35"/><circle cx="190.95" cy="356.27" r="2.35"/><circle cx="196.24" cy="353.39" r="2.35"/><circle cx="194.96" cy="352.17" r="2.35"/><circle cx="188.46" cy="350.12" r="2.35"/><circle cx="192.06" cy="347.56" r="2.35"/><circle cx="193.73" cy="345.95" r="2.35"/><circle cx="198.51" cy="343.58" r="2.35"/><circle cx="201.82" cy="343.2" r="2.35"/><circle cx="201.89" cy="341.39" r="2.35"/><circle cx="196.25" cy="339.88" r="2.35"/><circle cx="193.3" cy="338.92" r="2.35"/><circle cx="200.23" cy="338.13" r="2.35"/><circle cx="199.44" cy="337.71" r="2.35"/><circle cx="201.65" cy="336.57" r="2.35"/><circle cx="191.95" cy="336.36" r="2.35"/><circle cx="202.16" cy="335.31" r="2.35"/><circle cx="196.59" cy="334.84" r="2.35"/><circle cx="197.31" cy="333.45" r="2.35"/><circle cx="191.67" cy="332.81" r="2.35"/><circle cx="201.12" cy="331.65" r="2.35"/><circle cx="190.44" cy="331.52" r="2.35"/><circle cx="197.93" cy="330.36" r="2.35"/><circle cx="201.18" cy="329.76" r="2.35"/><circle cx="199.48" cy="328.81" r="2.35"/><circle cx="191.38" cy="327.57" r="2.35"/><circle cx="201.92" cy="327.36" r="2.35"/><circle cx="200.01" cy="326.76" r="2.35"/><circle cx="202.13" cy="325.91" r="2.35"/><circle cx="199.45" cy="325.34" r="2.35"/><circle cx="201.49" cy="324.34" r="2.35"/><circle cx="191.45" cy="323.71" r="2.35"/><circle cx="191.37" cy="323.34" r="2.35"/><circle cx="191.73" cy="322.29" r="2.35"/><circle cx="194.98" cy="322.03" r="2.35"/><circle cx="190.92" cy="321.48" r="2.35"/><circle cx="200.87" cy="320.74" r="2.35"/><circle cx="199.91" cy="319.81" r="2.35"/><circle cx="193.15" cy="319.14" r="2.35"/><circle cx="191.97" cy="318.73" r="2.35"/><circle cx="190.31" cy="318.45" r="2.35"/><circle cx="191.29" cy="317.49" r="2.35"/><circle cx="192.2" cy="316.09" r="2.35"/><circle cx="192.76" cy="315.18" r="2.35"/><circle cx="198.12" cy="313.77" r="2.35"/><circle cx="189.27" cy="313.27" r="2.35"/><circle cx="196.13" cy="310.93" r="2.35"/><circle cx="199.57" cy="310.38" r="2.35"/><circle cx="191.76" cy="309.03" r="2.35"/><circle cx="197.14" cy="306.63" r="2.35"/><circle cx="192.07" cy="304.58" r="2.35"/></g><path d="M42.6 322.52V340.55M42.6 365.52V381.6" stroke="#F8766D" stroke-width="1.0" fill="none"/><rect x="35.45" y="340.55" width="14.3" height="24.97" fill="#fff" fill-opacity="0.72" stroke="#F8766D" stroke-width="1.05"/><path d="M35.45 362.74H49.75" stroke="#FF3426" stroke-width="1.5"/><path d="M61.69 313.64V330.84M61.69 347.49V371.9" stroke="#D39200" stroke-width="1.0" fill="none"/><rect x="54.54" y="330.84" width="14.3" height="16.64" fill="#fff" fill-opacity="0.72" stroke="#D39200" stroke-width="1.05"/><path d="M54.54 338.61H68.84" stroke="#AD7800" stroke-width="1.5"/><path d="M80.78 312.26V324.74M80.78 335.83V355.25" stroke="#93AA00" stroke-width="1.0" fill="none"/><rect x="73.63" y="324.74" width="14.3" height="11.1" fill="#fff" fill-opacity="0.72" stroke="#93AA00" stroke-width="1.05"/><path d="M73.63 331.67H87.93" stroke="#798B00" stroke-width="1.5"/><path d="M99.87 312.26V324.74M99.87 338.05V349.7" stroke="#00BA38" stroke-width="1.0" fill="none"/><rect x="92.72" y="324.74" width="14.3" height="13.31" fill="#fff" fill-opacity="0.72" stroke="#00BA38" stroke-width="1.05"/><path d="M92.72 330.29H107.02" stroke="#00992E" stroke-width="1.5"/><path d="M118.96 312.26V324.18M118.96 340.83V356.64" stroke="#00C19F" stroke-width="1.0" fill="none"/><rect x="111.81" y="324.18" width="14.3" height="16.64" fill="#fff" fill-opacity="0.72" stroke="#00C19F" stroke-width="1.05"/><path d="M111.81 332.51H126.11" stroke="#009E82" stroke-width="1.5"/><path d="M138.05 308.1V320.58M138.05 336.67V356.64" stroke="#00B9E3" stroke-width="1.0" fill="none"/><rect x="130.9" y="320.58" width="14.3" height="16.09" fill="#fff" fill-opacity="0.72" stroke="#00B9E3" stroke-width="1.05"/><path d="M130.9 326.13H145.2" stroke="#0098BA" stroke-width="1.5"/><path d="M157.14 303.93V315.03M157.14 333.06V345.54" stroke="#619CFF" stroke-width="1.0" fill="none"/><rect x="149.99" y="315.03" width="14.3" height="18.03" fill="#fff" fill-opacity="0.72" stroke="#619CFF" stroke-width="1.05"/><path d="M149.99 321.41H164.29" stroke="#2274FF" stroke-width="1.5"/><path d="M176.23 301.16V317.8M176.23 335.28V349.7" stroke="#DB72FB" stroke-width="1.0" fill="none"/><rect x="169.08" y="317.8" width="14.3" height="17.48" fill="#fff" fill-opacity="0.72" stroke="#DB72FB" stroke-width="1.05"/><path d="M169.08 324.74H183.38" stroke="#CE2CFF" stroke-width="1.5"/><path d="M195.32 303.93V319.19M195.32 337.78V356.64" stroke="#FF61C3" stroke-width="1.0" fill="none"/><rect x="188.17" y="319.19" width="14.3" height="18.59" fill="#fff" fill-opacity="0.72" stroke="#FF61C3" stroke-width="1.05"/><path d="M188.17 327.51H202.47" stroke="#FF22AB" stroke-width="1.5"/><path d="M42.6 338.61L46.42 338.28L50.24 337.94L54.05 337.61L57.87 337.27L61.69 336.94L65.51 336.6L69.33 336.27L73.14 335.93L76.96 335.59L80.78 335.25L84.6 334.9L88.42 334.56L92.23 334.21L96.05 333.87L99.87 333.51L103.69 333.16L107.51 332.8L111.32 332.43L115.14 332.06L118.96 331.67L122.78 331.28L126.6 330.88L130.41 330.46L134.23 330.04L138.05 329.59L141.87 329.14L145.69 328.67L149.5 328.19L153.32 327.7L157.14 327.2L160.96 326.69L164.78 326.18L168.59 325.66L172.41 325.14L176.23 324.62L180.05 324.09L183.87 323.56L187.68 323.03L191.5 322.5L195.32 321.97L195.32 325.85L191.5 326.19L187.68 326.53L183.87 326.87L180.05 327.22L176.23 327.56L172.41 327.91L168.59 328.27L164.78 328.62L160.96 328.98L157.14 329.35L153.32 329.73L149.5 330.11L145.69 330.5L141.87 330.91L138.05 331.33L134.23 331.76L130.41 332.2L126.6 332.66L122.78 333.13L118.96 333.62L115.14 334.11L111.32 334.61L107.51 335.12L103.69 335.63L99.87 336.15L96.05 336.67L92.23 337.19L88.42 337.72L84.6 338.25L80.78 338.78L76.96 339.31L73.14 339.85L69.33 340.38L65.51 340.92L61.69 341.46L57.87 342L54.05 342.54L50.24 343.08L46.42 343.62L42.6 344.16Z" fill="#999999" fill-opacity="0.34"/><path d="M42.6 341.38L195.32 323.91" stroke="#000" stroke-width="1.85"/><rect x="27.55" y="299.2" width="182.8" height="90.4" fill="none" stroke="#333" stroke-width="0.9"/><rect x="210.35" y="299.2" width="14" height="90.4" fill="#D9D9D9" stroke="#333" stroke-width="0.9"/><text x="217.35" y="344.4" transform="rotate(90 217.35 344.4)" font-size="7.35" fill="#1A1A1A" text-anchor="middle" dy="0.36em">AH</text><text x="23.35" y="307.1" dy="0.36em" text-anchor="end" font-size="7.15" fill="#2E2E2E" stroke="#2E2E2E" stroke-width="0.12">89</text><text x="23.35" y="320.29" dy="0.36em" text-anchor="end" font-size="7.15" fill="#2E2E2E" stroke="#2E2E2E" stroke-width="0.12">82</text><text x="23.35" y="333.48" dy="0.36em" text-anchor="end" font-size="7.15" fill="#2E2E2E" stroke="#2E2E2E" stroke-width="0.12">75</text><text x="23.35" y="346.67" dy="0.36em" text-anchor="end" font-size="7.15" fill="#2E2E2E" stroke="#2E2E2E" stroke-width="0.12">68</text><text x="23.35" y="359.87" dy="0.36em" text-anchor="end" font-size="7.15" fill="#2E2E2E" stroke="#2E2E2E" stroke-width="0.12">61</text><text x="23.35" y="373.06" dy="0.36em" text-anchor="end" font-size="7.15" fill="#2E2E2E" stroke="#2E2E2E" stroke-width="0.12">54</text><text x="23.35" y="386.25" dy="0.36em" text-anchor="end" font-size="7.15" fill="#2E2E2E" stroke="#2E2E2E" stroke-width="0.12">47</text><path d="M25.05 307.1H27.55M25.05 320.29H27.55M25.05 333.48H27.55M25.05 346.67H27.55M25.05 359.87H27.55M25.05 373.06H27.55M25.05 386.25H27.55" stroke="#333" stroke-width="1.1"/><rect x="27.55" y="394.7" width="182.8" height="90.4" fill="#fff"/><path d="M27.55 396H210.35M27.55 409.2H210.35M27.55 422.39H210.35M27.55 435.58H210.35M27.55 448.77H210.35M27.55 461.96H210.35M27.55 475.15H210.35M33.05 394.7V485.1M52.15 394.7V485.1M71.23 394.7V485.1M90.33 394.7V485.1M109.42 394.7V485.1M128.5 394.7V485.1M147.59 394.7V485.1M166.68 394.7V485.1M185.77 394.7V485.1M204.86 394.7V485.1" stroke="#EEEEEE" stroke-width="0.5" fill="none"/><path d="M27.55 402.6H210.35M27.55 415.79H210.35M27.55 428.98H210.35M27.55 442.18H210.35M27.55 455.37H210.35M27.55 468.56H210.35M27.55 481.75H210.35M42.6 394.7V485.1M61.69 394.7V485.1M80.78 394.7V485.1M99.87 394.7V485.1M118.96 394.7V485.1M138.05 394.7V485.1M157.14 394.7V485.1M176.23 394.7V485.1M195.32 394.7V485.1" stroke="#E4E4E4" stroke-width="0.85" fill="none"/><g fill="#F8766D" fill-opacity="0.4" stroke="#F8766D" stroke-opacity="0.7" stroke-width="0.6"><circle cx="42.61" cy="452.89" r="2.35"/><circle cx="40.77" cy="449.57" r="2.35"/><circle cx="48.41" cy="450.34" r="2.35"/></g><g fill="#D39200" fill-opacity="0.4" stroke="#D39200" stroke-opacity="0.7" stroke-width="0.6"><circle cx="57.39" cy="446.79" r="2.35"/><circle cx="56.32" cy="410.18" r="2.35"/><circle cx="59.12" cy="437.63" r="2.35"/><circle cx="55.15" cy="422.49" r="2.35"/></g><g fill="#93AA00" fill-opacity="0.4" stroke="#93AA00" stroke-opacity="0.7" stroke-width="0.6"><circle cx="80.54" cy="437.08" r="2.35"/><circle cx="78.76" cy="402.41" r="2.35"/><circle cx="77.86" cy="424.35" r="2.35"/><circle cx="75.79" cy="412.21" r="2.35"/><circle cx="77.86" cy="404.5" r="2.35"/></g><g fill="#00BA38" fill-opacity="0.4" stroke="#00BA38" stroke-opacity="0.7" stroke-width="0.6"><circle cx="94.93" cy="438.47" r="2.35"/><circle cx="100.95" cy="402.96" r="2.35"/><circle cx="105.45" cy="437.51" r="2.35"/><circle cx="103.37" cy="433.73" r="2.35"/><circle cx="100.44" cy="428.39" r="2.35"/><circle cx="96.39" cy="417.58" r="2.35"/><circle cx="102.84" cy="409.82" r="2.35"/></g><g fill="#00C19F" fill-opacity="0.4" stroke="#00C19F" stroke-opacity="0.7" stroke-width="0.6"><circle cx="121.67" cy="450.95" r="2.35"/><circle cx="117.35" cy="406.57" r="2.35"/><circle cx="117.51" cy="449.86" r="2.35"/><circle cx="124.66" cy="444.16" r="2.35"/><circle cx="124.01" cy="438.72" r="2.35"/><circle cx="125.72" cy="427.1" r="2.35"/><circle cx="119.77" cy="421.19" r="2.35"/><circle cx="117.28" cy="420.5" r="2.35"/><circle cx="120.19" cy="414.18" r="2.35"/></g><g fill="#00B9E3" fill-opacity="0.4" stroke="#00B9E3" stroke-opacity="0.7" stroke-width="0.6"><circle cx="140.7" cy="445.4" r="2.35"/><circle cx="142.13" cy="401.85" r="2.35"/><circle cx="138.28" cy="441.75" r="2.35"/><circle cx="133.14" cy="433.28" r="2.35"/><circle cx="137.81" cy="431.87" r="2.35"/><circle cx="144.3" cy="424.07" r="2.35"/><circle cx="143.65" cy="418.44" r="2.35"/><circle cx="135.57" cy="415.69" r="2.35"/><circle cx="140.09" cy="404.38" r="2.35"/></g><g fill="#619CFF" fill-opacity="0.4" stroke="#619CFF" stroke-opacity="0.7" stroke-width="0.6"><circle cx="156.1" cy="446.79" r="2.35"/><circle cx="152.39" cy="402.41" r="2.35"/><circle cx="159.82" cy="446.31" r="2.35"/><circle cx="150.41" cy="425.76" r="2.35"/><circle cx="152.72" cy="422.98" r="2.35"/><circle cx="154.17" cy="420.75" r="2.35"/><circle cx="152.69" cy="418.3" r="2.35"/><circle cx="161.44" cy="416.05" r="2.35"/><circle cx="163.35" cy="413.05" r="2.35"/><circle cx="156.73" cy="406.81" r="2.35"/></g><g fill="#DB72FB" fill-opacity="0.4" stroke="#DB72FB" stroke-opacity="0.7" stroke-width="0.6"><circle cx="182.65" cy="453.73" r="2.35"/><circle cx="170.25" cy="401.85" r="2.35"/><circle cx="181.52" cy="449.72" r="2.35"/><circle cx="181.95" cy="437.45" r="2.35"/><circle cx="170.15" cy="431.83" r="2.35"/><circle cx="181.52" cy="425.64" r="2.35"/><circle cx="176.31" cy="420.01" r="2.35"/><circle cx="181.72" cy="419.49" r="2.35"/><circle cx="175.79" cy="413.96" r="2.35"/><circle cx="182.82" cy="409" r="2.35"/></g><g fill="#FF61C3" fill-opacity="0.4" stroke="#FF61C3" stroke-opacity="0.7" stroke-width="0.6"><circle cx="195.25" cy="444.02" r="2.35"/><circle cx="201.24" cy="401.85" r="2.35"/><circle cx="197.44" cy="443.26" r="2.35"/><circle cx="188.93" cy="441.43" r="2.35"/><circle cx="196.9" cy="439.05" r="2.35"/><circle cx="188.93" cy="430.85" r="2.35"/><circle cx="191.76" cy="429.14" r="2.35"/><circle cx="195.8" cy="422.32" r="2.35"/><circle cx="194.07" cy="420.39" r="2.35"/><circle cx="197.88" cy="416.7" r="2.35"/><circle cx="194.05" cy="411.99" r="2.35"/><circle cx="199.58" cy="403.8" r="2.35"/></g><path d="M42.6 449.57V450.95M42.6 452.06V452.89" stroke="#F8766D" stroke-width="1.0" fill="none"/><rect x="35.45" y="450.95" width="14.3" height="1.11" fill="#fff" fill-opacity="0.72" stroke="#F8766D" stroke-width="1.05"/><path d="M35.45 451.51H49.75" stroke="#FF3426" stroke-width="1.5"/><path d="M61.69 410.18V420.99M61.69 437.92V446.79" stroke="#D39200" stroke-width="1.0" fill="none"/><rect x="54.54" y="420.99" width="14.3" height="16.92" fill="#fff" fill-opacity="0.72" stroke="#D39200" stroke-width="1.05"/><path d="M54.54 427.37H68.84" stroke="#AD7800" stroke-width="1.5"/><path d="M80.78 402.41V409.34M80.78 425.99V437.08" stroke="#93AA00" stroke-width="1.0" fill="none"/><rect x="73.63" y="409.34" width="14.3" height="16.64" fill="#fff" fill-opacity="0.72" stroke="#93AA00" stroke-width="1.05"/><path d="M73.63 415.45H87.93" stroke="#798B00" stroke-width="1.5"/><path d="M99.87 402.96V415.72M99.87 435.7V438.47" stroke="#00BA38" stroke-width="1.0" fill="none"/><rect x="92.72" y="415.72" width="14.3" height="19.97" fill="#fff" fill-opacity="0.72" stroke="#00BA38" stroke-width="1.05"/><path d="M92.72 425.99H107.02" stroke="#00992E" stroke-width="1.5"/><path d="M118.96 406.57V420.44M118.96 445.4V450.95" stroke="#00C19F" stroke-width="1.0" fill="none"/><rect x="111.81" y="420.44" width="14.3" height="24.97" fill="#fff" fill-opacity="0.72" stroke="#00C19F" stroke-width="1.05"/><path d="M111.81 423.21H126.11" stroke="#009E82" stroke-width="1.5"/><path d="M138.05 401.85V415.72M138.05 434.31V445.4" stroke="#00B9E3" stroke-width="1.0" fill="none"/><rect x="130.9" y="415.72" width="14.3" height="18.59" fill="#fff" fill-opacity="0.72" stroke="#00B9E3" stroke-width="1.05"/><path d="M130.9 425.99H145.2" stroke="#0098BA" stroke-width="1.5"/><path d="M157.14 402.41V413.5M157.14 424.6V446.79" stroke="#619CFF" stroke-width="1.0" fill="none"/><rect x="149.99" y="413.5" width="14.3" height="11.1" fill="#fff" fill-opacity="0.72" stroke="#619CFF" stroke-width="1.05"/><path d="M149.99 419.05H164.29" stroke="#2274FF" stroke-width="1.5"/><path d="M176.23 401.85V416.28M176.23 437.08V453.73" stroke="#DB72FB" stroke-width="1.0" fill="none"/><rect x="169.08" y="416.28" width="14.3" height="20.8" fill="#fff" fill-opacity="0.72" stroke="#DB72FB" stroke-width="1.05"/><path d="M169.08 423.21H183.38" stroke="#CE2CFF" stroke-width="1.5"/><path d="M195.32 401.85V416.28M195.32 439.86V444.02" stroke="#FF61C3" stroke-width="1.0" fill="none"/><rect x="188.17" y="416.28" width="14.3" height="23.58" fill="#fff" fill-opacity="0.72" stroke="#FF61C3" stroke-width="1.05"/><path d="M188.17 424.6H202.47" stroke="#FF22AB" stroke-width="1.5"/><path d="M42.6 422.1L46.42 422.24L50.24 422.37L54.05 422.5L57.87 422.64L61.69 422.77L65.51 422.9L69.33 423.03L73.14 423.16L76.96 423.29L80.78 423.42L84.6 423.55L88.42 423.67L92.23 423.8L96.05 423.92L99.87 424.04L103.69 424.16L107.51 424.28L111.32 424.39L115.14 424.5L118.96 424.6L122.78 424.69L126.6 424.77L130.41 424.84L134.23 424.88L138.05 424.88L141.87 424.84L145.69 424.74L149.5 424.57L153.32 424.33L157.14 424.02L160.96 423.66L164.78 423.27L168.59 422.85L172.41 422.41L176.23 421.96L180.05 421.5L183.87 421.03L187.68 420.56L191.5 420.09L195.32 419.61L195.32 427.93L191.5 427.81L187.68 427.7L183.87 427.58L180.05 427.48L176.23 427.38L172.41 427.29L168.59 427.21L164.78 427.15L160.96 427.12L157.14 427.13L153.32 427.18L149.5 427.29L145.69 427.48L141.87 427.74L138.05 428.06L134.23 428.43L130.41 428.83L126.6 429.26L122.78 429.7L118.96 430.15L115.14 430.61L111.32 431.08L107.51 431.55L103.69 432.03L99.87 432.51L96.05 432.99L92.23 433.47L88.42 433.96L84.6 434.45L80.78 434.94L76.96 435.42L73.14 435.92L69.33 436.41L65.51 436.9L61.69 437.39L57.87 437.88L54.05 438.38L50.24 438.87L46.42 439.36L42.6 439.86Z" fill="#999999" fill-opacity="0.34"/><path d="M42.6 430.98L195.32 423.77" stroke="#000" stroke-width="1.85"/><rect x="27.55" y="394.7" width="182.8" height="90.4" fill="none" stroke="#333" stroke-width="0.9"/><rect x="210.35" y="394.7" width="14" height="90.4" fill="#D9D9D9" stroke="#333" stroke-width="0.9"/><text x="217.35" y="439.9" transform="rotate(90 217.35 439.9)" font-size="7.35" fill="#1A1A1A" text-anchor="middle" dy="0.36em">NAH</text><text x="23.35" y="402.6" dy="0.36em" text-anchor="end" font-size="7.15" fill="#2E2E2E" stroke="#2E2E2E" stroke-width="0.12">89</text><text x="23.35" y="415.79" dy="0.36em" text-anchor="end" font-size="7.15" fill="#2E2E2E" stroke="#2E2E2E" stroke-width="0.12">82</text><text x="23.35" y="428.98" dy="0.36em" text-anchor="end" font-size="7.15" fill="#2E2E2E" stroke="#2E2E2E" stroke-width="0.12">75</text><text x="23.35" y="442.18" dy="0.36em" text-anchor="end" font-size="7.15" fill="#2E2E2E" stroke="#2E2E2E" stroke-width="0.12">68</text><text x="23.35" y="455.37" dy="0.36em" text-anchor="end" font-size="7.15" fill="#2E2E2E" stroke="#2E2E2E" stroke-width="0.12">61</text><text x="23.35" y="468.56" dy="0.36em" text-anchor="end" font-size="7.15" fill="#2E2E2E" stroke="#2E2E2E" stroke-width="0.12">54</text><text x="23.35" y="481.75" dy="0.36em" text-anchor="end" font-size="7.15" fill="#2E2E2E" stroke="#2E2E2E" stroke-width="0.12">47</text><path d="M25.05 402.6H27.55M25.05 415.79H27.55M25.05 428.98H27.55M25.05 442.18H27.55M25.05 455.37H27.55M25.05 468.56H27.55M25.05 481.75H27.55" stroke="#333" stroke-width="1.1"/><text x="42.6" y="494.3" text-anchor="middle" font-size="7.15" fill="#2E2E2E" stroke="#2E2E2E" stroke-width="0.12">2014</text><text x="61.69" y="494.3" text-anchor="middle" font-size="7.15" fill="#2E2E2E" stroke="#2E2E2E" stroke-width="0.12">2015</text><text x="80.78" y="494.3" text-anchor="middle" font-size="7.15" fill="#2E2E2E" stroke="#2E2E2E" stroke-width="0.12">2016</text><text x="99.87" y="494.3" text-anchor="middle" font-size="7.15" fill="#2E2E2E" stroke="#2E2E2E" stroke-width="0.12">2017</text><text x="118.96" y="494.3" text-anchor="middle" font-size="7.15" fill="#2E2E2E" stroke="#2E2E2E" stroke-width="0.12">2018</text><text x="138.05" y="494.3" text-anchor="middle" font-size="7.15" fill="#2E2E2E" stroke="#2E2E2E" stroke-width="0.12">2019</text><text x="157.14" y="494.3" text-anchor="middle" font-size="7.15" fill="#2E2E2E" stroke="#2E2E2E" stroke-width="0.12">2020</text><text x="176.23" y="494.3" text-anchor="middle" font-size="7.15" fill="#2E2E2E" stroke="#2E2E2E" stroke-width="0.12">2021</text><text x="195.32" y="494.3" text-anchor="middle" font-size="7.15" fill="#2E2E2E" stroke="#2E2E2E" stroke-width="0.12">2022</text><path d="M42.6 485.1V487.6M61.69 485.1V487.6M80.78 485.1V487.6M99.87 485.1V487.6M118.96 485.1V487.6M138.05 485.1V487.6M157.14 485.1V487.6M176.23 485.1V487.6M195.32 485.1V487.6" stroke="#333" stroke-width="1.1"/><text x="118.95" y="505" text-anchor="middle" font-size="9.02" fill="#000" stroke="#000" stroke-width="0.1">Year</text><text x="11.25" y="392.15" transform="rotate(-90 11.25 392.15)" text-anchor="middle" font-size="9.02" fill="#000" stroke="#000" stroke-width="0.1">Score (%)</text><text x="256.6" y="274.2" font-size="10.82" fill="#000" xml:space="preserve">Teamwork between hospital units</text><text x="256.6" y="293.1" font-size="9.02" fill="#000" xml:space="preserve">AH (P &lt; 0.001);  NAH (P = 0.19)</text><rect x="256.6" y="299.2" width="182.8" height="90.4" fill="#fff"/><path d="M256.6 306.03H439.4M256.6 318.37H439.4M256.6 330.71H439.4M256.6 343.05H439.4M256.6 355.4H439.4M256.6 367.74H439.4M256.6 380.08H439.4M262.11 299.2V389.6M281.2 299.2V389.6M300.29 299.2V389.6M319.38 299.2V389.6M338.47 299.2V389.6M357.56 299.2V389.6M376.65 299.2V389.6M395.74 299.2V389.6M414.83 299.2V389.6M433.92 299.2V389.6" stroke="#EEEEEE" stroke-width="0.5" fill="none"/><path d="M256.6 312.2H439.4M256.6 324.54H439.4M256.6 336.88H439.4M256.6 349.22H439.4M256.6 361.57H439.4M256.6 373.91H439.4M256.6 386.25H439.4M271.65 299.2V389.6M290.74 299.2V389.6M309.83 299.2V389.6M328.92 299.2V389.6M348.01 299.2V389.6M367.1 299.2V389.6M386.19 299.2V389.6M405.28 299.2V389.6M424.37 299.2V389.6" stroke="#E4E4E4" stroke-width="0.85" fill="none"/><g fill="#F8766D" fill-opacity="0.4" stroke="#F8766D" stroke-opacity="0.7" stroke-width="0.6"><circle cx="269.07" cy="385.21" r="2.35"/><circle cx="267.92" cy="345.54" r="2.35"/><circle cx="267.42" cy="382.2" r="2.35"/><circle cx="274.29" cy="378.46" r="2.35"/><circle cx="270.86" cy="374.44" r="2.35"/><circle cx="267" cy="370.49" r="2.35"/><circle cx="273.78" cy="359.87" r="2.35"/><circle cx="267.2" cy="354.99" r="2.35"/><circle cx="268.9" cy="349.92" r="2.35"/></g><g fill="#D39200" fill-opacity="0.4" stroke="#D39200" stroke-opacity="0.7" stroke-width="0.6"><circle cx="297.55" cy="385.21" r="2.35"/><circle cx="289.35" cy="328.07" r="2.35"/><circle cx="285.7" cy="383.04" r="2.35"/><circle cx="294.87" cy="369.89" r="2.35"/><circle cx="290.91" cy="365.5" r="2.35"/><circle cx="290.26" cy="363.18" r="2.35"/><circle cx="292.19" cy="351.74" r="2.35"/><circle cx="290.38" cy="348.54" r="2.35"/><circle cx="289.82" cy="344.76" r="2.35"/><circle cx="284.47" cy="342.98" r="2.35"/><circle cx="294.83" cy="339.99" r="2.35"/><circle cx="291.43" cy="336.46" r="2.35"/><circle cx="293.68" cy="332.8" r="2.35"/></g><g fill="#93AA00" fill-opacity="0.4" stroke="#93AA00" stroke-opacity="0.7" stroke-width="0.6"><circle cx="309.63" cy="366.35" r="2.35"/><circle cx="315.52" cy="321.97" r="2.35"/><circle cx="303.59" cy="366.09" r="2.35"/><circle cx="314.31" cy="360.5" r="2.35"/><circle cx="305.6" cy="357.64" r="2.35"/><circle cx="311.85" cy="354.62" r="2.35"/><circle cx="316.59" cy="353.03" r="2.35"/><circle cx="309.81" cy="352.24" r="2.35"/><circle cx="314.58" cy="350.14" r="2.35"/><circle cx="312.33" cy="348.78" r="2.35"/><circle cx="314.58" cy="348.25" r="2.35"/><circle cx="303.01" cy="345.08" r="2.35"/><circle cx="309.64" cy="343.42" r="2.35"/><circle cx="311.9" cy="342.04" r="2.35"/><circle cx="312.93" cy="338.53" r="2.35"/><circle cx="315.86" cy="338.21" r="2.35"/><circle cx="305.45" cy="335.44" r="2.35"/><circle cx="310.16" cy="331.45" r="2.35"/><circle cx="311.51" cy="327.97" r="2.35"/><circle cx="308.44" cy="322.41" r="2.35"/></g><g fill="#00BA38" fill-opacity="0.4" stroke="#00BA38" stroke-opacity="0.7" stroke-width="0.6"><circle cx="334.72" cy="360.8" r="2.35"/><circle cx="325.06" cy="321.97" r="2.35"/><circle cx="326.41" cy="358.25" r="2.35"/><circle cx="324.37" cy="356.74" r="2.35"/><circle cx="333.66" cy="355.38" r="2.35"/><circle cx="333.53" cy="352.17" r="2.35"/><circle cx="326.95" cy="350.52" r="2.35"/><circle cx="327.55" cy="349.71" r="2.35"/><circle cx="332.88" cy="348.81" r="2.35"/><circle cx="330.84" cy="347.63" r="2.35"/><circle cx="327.97" cy="345.96" r="2.35"/><circle cx="335.12" cy="344.94" r="2.35"/><circle cx="329.34" cy="343.73" r="2.35"/><circle cx="323.34" cy="342.28" r="2.35"/><circle cx="327.1" cy="341.84" r="2.35"/><circle cx="326.9" cy="339.37" r="2.35"/><circle cx="324.13" cy="337.59" r="2.35"/><circle cx="330.65" cy="336.23" r="2.35"/><circle cx="329.65" cy="334.37" r="2.35"/><circle cx="331.72" cy="333.85" r="2.35"/><circle cx="334.52" cy="332.29" r="2.35"/><circle cx="324.96" cy="330.44" r="2.35"/><circle cx="325.86" cy="328.24" r="2.35"/><circle cx="330.82" cy="326.28" r="2.35"/><circle cx="332.19" cy="323.54" r="2.35"/></g><g fill="#00C19F" fill-opacity="0.4" stroke="#00C19F" stroke-opacity="0.7" stroke-width="0.6"><circle cx="348.54" cy="367.74" r="2.35"/><circle cx="352.52" cy="319.75" r="2.35"/><circle cx="354.88" cy="365.73" r="2.35"/><circle cx="351" cy="364.71" r="2.35"/><circle cx="341.15" cy="360.4" r="2.35"/><circle cx="353.6" cy="359.42" r="2.35"/><circle cx="349.27" cy="357.82" r="2.35"/><circle cx="342.89" cy="355.37" r="2.35"/><circle cx="350.78" cy="355.29" r="2.35"/><circle cx="354.03" cy="353.37" r="2.35"/><circle cx="344.9" cy="353.07" r="2.35"/><circle cx="349.03" cy="351.97" r="2.35"/><circle cx="349.78" cy="350.08" r="2.35"/><circle cx="349.45" cy="349.17" r="2.35"/><circle cx="345.77" cy="347.26" r="2.35"/><circle cx="348.69" cy="347.07" r="2.35"/><circle cx="353.8" cy="343.28" r="2.35"/><circle cx="348.72" cy="341.55" r="2.35"/><circle cx="343.45" cy="339.6" r="2.35"/><circle cx="348.99" cy="336.95" r="2.35"/><circle cx="351.38" cy="333.88" r="2.35"/><circle cx="342.2" cy="333.34" r="2.35"/><circle cx="352.99" cy="330.98" r="2.35"/><circle cx="347.67" cy="328.74" r="2.35"/><circle cx="344.09" cy="327.04" r="2.35"/><circle cx="344.2" cy="325.62" r="2.35"/><circle cx="342.24" cy="322.59" r="2.35"/></g><g fill="#00B9E3" fill-opacity="0.4" stroke="#00B9E3" stroke-opacity="0.7" stroke-width="0.6"><circle cx="361.9" cy="367.74" r="2.35"/><circle cx="365.87" cy="319.19" r="2.35"/><circle cx="366.46" cy="364.9" r="2.35"/><circle cx="365.81" cy="361.88" r="2.35"/><circle cx="361.17" cy="360.16" r="2.35"/><circle cx="369.66" cy="356.12" r="2.35"/><circle cx="369.82" cy="355.58" r="2.35"/><circle cx="363.62" cy="353.96" r="2.35"/><circle cx="367.6" cy="351.32" r="2.35"/><circle cx="371.6" cy="350.11" r="2.35"/><circle cx="370.42" cy="349.31" r="2.35"/><circle cx="360.36" cy="347.13" r="2.35"/><circle cx="364.6" cy="345.68" r="2.35"/><circle cx="363.27" cy="342.85" r="2.35"/><circle cx="372.17" cy="340.99" r="2.35"/><circle cx="369.84" cy="338.88" r="2.35"/><circle cx="370.53" cy="336.96" r="2.35"/><circle cx="360.41" cy="336.19" r="2.35"/><circle cx="370.47" cy="335.81" r="2.35"/><circle cx="362.18" cy="334.99" r="2.35"/><circle cx="362.76" cy="334.43" r="2.35"/><circle cx="366.61" cy="333.33" r="2.35"/><circle cx="368.58" cy="332.72" r="2.35"/><circle cx="363.72" cy="331.72" r="2.35"/><circle cx="372.08" cy="331.41" r="2.35"/><circle cx="370.27" cy="330.37" r="2.35"/><circle cx="373.5" cy="328.52" r="2.35"/><circle cx="362.21" cy="327.66" r="2.35"/><circle cx="366.7" cy="325.6" r="2.35"/><circle cx="365.27" cy="322.72" r="2.35"/><circle cx="365.68" cy="320.05" r="2.35"/></g><g fill="#619CFF" fill-opacity="0.4" stroke="#619CFF" stroke-opacity="0.7" stroke-width="0.6"><circle cx="383.37" cy="357.47" r="2.35"/><circle cx="385.31" cy="302.55" r="2.35"/><circle cx="390.78" cy="357.14" r="2.35"/><circle cx="389.05" cy="351.57" r="2.35"/><circle cx="392.9" cy="350.95" r="2.35"/><circle cx="379.4" cy="348.47" r="2.35"/><circle cx="385.32" cy="346.17" r="2.35"/><circle cx="387.82" cy="342.83" r="2.35"/><circle cx="385.47" cy="341.58" r="2.35"/><circle cx="384.67" cy="341.28" r="2.35"/><circle cx="391.65" cy="340.12" r="2.35"/><circle cx="386.31" cy="338.66" r="2.35"/><circle cx="381.41" cy="337.12" r="2.35"/><circle cx="384.65" cy="335.54" r="2.35"/><circle cx="384.77" cy="334.67" r="2.35"/><circle cx="383.25" cy="332.69" r="2.35"/><circle cx="380.69" cy="331.47" r="2.35"/><circle cx="390.83" cy="330.42" r="2.35"/><circle cx="388.92" cy="329.53" r="2.35"/><circle cx="392.69" cy="328.82" r="2.35"/><circle cx="388.79" cy="327.77" r="2.35"/><circle cx="386.17" cy="327.03" r="2.35"/><circle cx="391.98" cy="326.49" r="2.35"/><circle cx="387.76" cy="325.93" r="2.35"/><circle cx="391.49" cy="324.92" r="2.35"/><circle cx="391.53" cy="321.51" r="2.35"/><circle cx="385.97" cy="319.51" r="2.35"/><circle cx="382.23" cy="315.73" r="2.35"/><circle cx="384.05" cy="314.88" r="2.35"/><circle cx="391.45" cy="308.02" r="2.35"/><circle cx="385.07" cy="305.85" r="2.35"/></g><g fill="#DB72FB" fill-opacity="0.4" stroke="#DB72FB" stroke-opacity="0.7" stroke-width="0.6"><circle cx="402.83" cy="362.19" r="2.35"/><circle cx="398.64" cy="306.71" r="2.35"/><circle cx="399.13" cy="361.05" r="2.35"/><circle cx="404.07" cy="358.74" r="2.35"/><circle cx="404.34" cy="354.73" r="2.35"/><circle cx="406.06" cy="354.17" r="2.35"/><circle cx="402.75" cy="350.04" r="2.35"/><circle cx="409.41" cy="349.46" r="2.35"/><circle cx="411.18" cy="347.55" r="2.35"/><circle cx="410.75" cy="345.94" r="2.35"/><circle cx="411.35" cy="344.64" r="2.35"/><circle cx="403.6" cy="343.76" r="2.35"/><circle cx="404.56" cy="342.36" r="2.35"/><circle cx="410.44" cy="341.48" r="2.35"/><circle cx="400.71" cy="340.05" r="2.35"/><circle cx="410.77" cy="339.61" r="2.35"/><circle cx="409.62" cy="337.72" r="2.35"/><circle cx="402.63" cy="336.56" r="2.35"/><circle cx="398.45" cy="335.97" r="2.35"/><circle cx="405.67" cy="333.7" r="2.35"/><circle cx="401.11" cy="332.99" r="2.35"/><circle cx="400.98" cy="332.33" r="2.35"/><circle cx="403.68" cy="331.78" r="2.35"/><circle cx="403.99" cy="330.8" r="2.35"/><circle cx="408.64" cy="329.8" r="2.35"/><circle cx="407.97" cy="329.16" r="2.35"/><circle cx="409.47" cy="328.87" r="2.35"/><circle cx="409.1" cy="327.95" r="2.35"/><circle cx="403.91" cy="326.75" r="2.35"/><circle cx="403.2" cy="326.61" r="2.35"/><circle cx="403.63" cy="325.56" r="2.35"/><circle cx="405.61" cy="324" r="2.35"/><circle cx="405.05" cy="322.66" r="2.35"/><circle cx="406.22" cy="320.84" r="2.35"/><circle cx="411" cy="320" r="2.35"/><circle cx="403.32" cy="317.14" r="2.35"/><circle cx="406.12" cy="314.72" r="2.35"/><circle cx="401.04" cy="311.92" r="2.35"/><circle cx="406.24" cy="307.76" r="2.35"/><circle cx="406.41" cy="372.45" r="2.35"/></g><g fill="#FF61C3" fill-opacity="0.4" stroke="#FF61C3" stroke-opacity="0.7" stroke-width="0.6"><circle cx="429" cy="367.74" r="2.35"/><circle cx="421" cy="308.1" r="2.35"/><circle cx="429.97" cy="365.85" r="2.35"/><circle cx="430.86" cy="363.75" r="2.35"/><circle cx="425.62" cy="361.95" r="2.35"/><circle cx="425.45" cy="358.92" r="2.35"/><circle cx="428.95" cy="356.74" r="2.35"/><circle cx="428.57" cy="354.71" r="2.35"/><circle cx="429.85" cy="351.18" r="2.35"/><circle cx="423.93" cy="349.76" r="2.35"/><circle cx="429.46" cy="347.74" r="2.35"/><circle cx="423.55" cy="346.34" r="2.35"/><circle cx="423.61" cy="345.93" r="2.35"/><circle cx="424.29" cy="344.85" r="2.35"/><circle cx="425.71" cy="344.16" r="2.35"/><circle cx="417.88" cy="343.71" r="2.35"/><circle cx="420.65" cy="343.22" r="2.35"/><circle cx="429.15" cy="342.9" r="2.35"/><circle cx="417.96" cy="342" r="2.35"/><circle cx="429.7" cy="341.54" r="2.35"/><circle cx="430.23" cy="341.19" r="2.35"/><circle cx="423.92" cy="340.8" r="2.35"/><circle cx="429.7" cy="340.2" r="2.35"/><circle cx="429.92" cy="339.74" r="2.35"/><circle cx="422.77" cy="339.33" r="2.35"/><circle cx="428.16" cy="338.67" r="2.35"/><circle cx="420.35" cy="338.42" r="2.35"/><circle cx="422.94" cy="337.71" r="2.35"/><circle cx="419.88" cy="336.31" r="2.35"/><circle cx="421.72" cy="335.46" r="2.35"/><circle cx="430.92" cy="335" r="2.35"/><circle cx="426.26" cy="333.92" r="2.35"/><circle cx="421.98" cy="332.79" r="2.35"/><circle cx="418.81" cy="332.18" r="2.35"/><circle cx="429.24" cy="330.67" r="2.35"/><circle cx="430.32" cy="329.83" r="2.35"/><circle cx="431.08" cy="329.12" r="2.35"/><circle cx="418.18" cy="328.2" r="2.35"/><circle cx="428.39" cy="327.38" r="2.35"/><circle cx="421.69" cy="326.42" r="2.35"/><circle cx="420.19" cy="325.67" r="2.35"/><circle cx="424.26" cy="324.93" r="2.35"/><circle cx="421.71" cy="323.63" r="2.35"/><circle cx="430.28" cy="322.49" r="2.35"/><circle cx="419.58" cy="321.25" r="2.35"/><circle cx="422.51" cy="320.01" r="2.35"/><circle cx="419.79" cy="318.99" r="2.35"/><circle cx="427.36" cy="317" r="2.35"/><circle cx="424.27" cy="314.38" r="2.35"/><circle cx="424.19" cy="312.67" r="2.35"/><circle cx="429.86" cy="310.74" r="2.35"/><circle cx="425.61" cy="308.35" r="2.35"/></g><path d="M271.65 345.54V352.48M271.65 378.28V385.21" stroke="#F8766D" stroke-width="1.0" fill="none"/><rect x="264.5" y="352.48" width="14.3" height="25.8" fill="#fff" fill-opacity="0.72" stroke="#F8766D" stroke-width="1.05"/><path d="M264.5 370.51H278.8" stroke="#FF3426" stroke-width="1.5"/><path d="M290.74 328.07V340.55M290.74 364.96V385.21" stroke="#D39200" stroke-width="1.0" fill="none"/><rect x="283.59" y="340.55" width="14.3" height="24.41" fill="#fff" fill-opacity="0.72" stroke="#D39200" stroke-width="1.05"/><path d="M283.59 346.38H297.89" stroke="#AD7800" stroke-width="1.5"/><path d="M309.83 321.97V337.22M309.83 353.31V366.35" stroke="#93AA00" stroke-width="1.0" fill="none"/><rect x="302.68" y="337.22" width="14.3" height="16.09" fill="#fff" fill-opacity="0.72" stroke="#93AA00" stroke-width="1.05"/><path d="M302.68 346.93H316.98" stroke="#798B00" stroke-width="1.5"/><path d="M328.92 321.97V333.89M328.92 349.7V360.8" stroke="#00BA38" stroke-width="1.0" fill="none"/><rect x="321.77" y="333.89" width="14.3" height="15.81" fill="#fff" fill-opacity="0.72" stroke="#00BA38" stroke-width="1.05"/><path d="M321.77 342.77H336.07" stroke="#00992E" stroke-width="1.5"/><path d="M348.01 319.75V333.89M348.01 355.25V367.74" stroke="#00C19F" stroke-width="1.0" fill="none"/><rect x="340.86" y="333.89" width="14.3" height="21.36" fill="#fff" fill-opacity="0.72" stroke="#00C19F" stroke-width="1.05"/><path d="M340.86 348.32H355.16" stroke="#009E82" stroke-width="1.5"/><path d="M367.1 319.19V331.67M367.1 351.09V367.74" stroke="#00B9E3" stroke-width="1.0" fill="none"/><rect x="359.95" y="331.67" width="14.3" height="19.42" fill="#fff" fill-opacity="0.72" stroke="#00B9E3" stroke-width="1.05"/><path d="M359.95 337.22H374.25" stroke="#0098BA" stroke-width="1.5"/><path d="M386.19 302.55V325.29M386.19 341.38V357.47" stroke="#619CFF" stroke-width="1.0" fill="none"/><rect x="379.04" y="325.29" width="14.3" height="16.09" fill="#fff" fill-opacity="0.72" stroke="#619CFF" stroke-width="1.05"/><path d="M379.04 331.67H393.34" stroke="#2274FF" stroke-width="1.5"/><path d="M405.28 306.71V326.13M405.28 344.16V362.19" stroke="#DB72FB" stroke-width="1.0" fill="none"/><rect x="398.13" y="326.13" width="14.3" height="18.03" fill="#fff" fill-opacity="0.72" stroke="#DB72FB" stroke-width="1.05"/><path d="M398.13 333.06H412.43" stroke="#CE2CFF" stroke-width="1.5"/><path d="M424.37 308.1V326.13M424.37 344.16V367.74" stroke="#FF61C3" stroke-width="1.0" fill="none"/><rect x="417.22" y="326.13" width="14.3" height="18.03" fill="#fff" fill-opacity="0.72" stroke="#FF61C3" stroke-width="1.05"/><path d="M417.22 338.05H431.52" stroke="#FF22AB" stroke-width="1.5"/><path d="M271.65 351.09L275.47 350.69L279.29 350.29L283.1 349.88L286.92 349.48L290.74 349.07L294.56 348.67L298.38 348.26L302.19 347.85L306.01 347.45L309.83 347.04L313.65 346.62L317.47 346.21L321.28 345.8L325.1 345.38L328.92 344.96L332.74 344.53L336.56 344.1L340.37 343.66L344.19 343.22L348.01 342.77L351.83 342.31L355.65 341.84L359.46 341.35L363.28 340.85L367.1 340.34L370.92 339.82L374.74 339.28L378.55 338.73L382.37 338.17L386.19 337.6L390.01 337.03L393.83 336.45L397.64 335.86L401.46 335.27L405.28 334.68L409.1 334.08L412.92 333.48L416.73 332.88L420.55 332.28L424.37 331.67L424.37 335.56L420.55 335.97L416.73 336.38L412.92 336.79L409.1 337.2L405.28 337.62L401.46 338.04L397.64 338.46L393.83 338.89L390.01 339.32L386.19 339.75L382.37 340.2L378.55 340.65L374.74 341.11L370.92 341.59L367.1 342.08L363.28 342.58L359.46 343.09L355.65 343.62L351.83 344.16L348.01 344.71L344.19 345.27L340.37 345.84L336.56 346.42L332.74 347L328.92 347.59L325.1 348.18L321.28 348.77L317.47 349.37L313.65 349.97L309.83 350.57L306.01 351.17L302.19 351.78L298.38 352.38L294.56 352.99L290.74 353.59L286.92 354.2L283.1 354.81L279.29 355.42L275.47 356.03L271.65 356.64Z" fill="#999999" fill-opacity="0.34"/><path d="M271.65 353.87L424.37 333.62" stroke="#000" stroke-width="1.85"/><rect x="256.6" y="299.2" width="182.8" height="90.4" fill="none" stroke="#333" stroke-width="0.9"/><rect x="439.4" y="299.2" width="13.85" height="90.4" fill="#D9D9D9" stroke="#333" stroke-width="0.9"/><text x="446.33" y="344.4" transform="rotate(90 446.33 344.4)" font-size="7.35" fill="#1A1A1A" text-anchor="middle" dy="0.36em">AH</text><text x="252.4" y="312.2" dy="0.36em" text-anchor="end" font-size="7.15" fill="#2E2E2E" stroke="#2E2E2E" stroke-width="0.12">76</text><text x="252.4" y="324.54" dy="0.36em" text-anchor="end" font-size="7.15" fill="#2E2E2E" stroke="#2E2E2E" stroke-width="0.12">70</text><text x="252.4" y="336.88" dy="0.36em" text-anchor="end" font-size="7.15" fill="#2E2E2E" stroke="#2E2E2E" stroke-width="0.12">64</text><text x="252.4" y="349.22" dy="0.36em" text-anchor="end" font-size="7.15" fill="#2E2E2E" stroke="#2E2E2E" stroke-width="0.12">58</text><text x="252.4" y="361.57" dy="0.36em" text-anchor="end" font-size="7.15" fill="#2E2E2E" stroke="#2E2E2E" stroke-width="0.12">52</text><text x="252.4" y="373.91" dy="0.36em" text-anchor="end" font-size="7.15" fill="#2E2E2E" stroke="#2E2E2E" stroke-width="0.12">46</text><text x="252.4" y="386.25" dy="0.36em" text-anchor="end" font-size="7.15" fill="#2E2E2E" stroke="#2E2E2E" stroke-width="0.12">40</text><path d="M254.1 312.2H256.6M254.1 324.54H256.6M254.1 336.88H256.6M254.1 349.22H256.6M254.1 361.57H256.6M254.1 373.91H256.6M254.1 386.25H256.6" stroke="#333" stroke-width="1.1"/><rect x="256.6" y="394.7" width="182.8" height="90.4" fill="#fff"/><path d="M256.6 401.53H439.4M256.6 413.87H439.4M256.6 426.21H439.4M256.6 438.55H439.4M256.6 450.9H439.4M256.6 463.24H439.4M256.6 475.58H439.4M262.11 394.7V485.1M281.2 394.7V485.1M300.29 394.7V485.1M319.38 394.7V485.1M338.47 394.7V485.1M357.56 394.7V485.1M376.65 394.7V485.1M395.74 394.7V485.1M414.83 394.7V485.1M433.92 394.7V485.1" stroke="#EEEEEE" stroke-width="0.5" fill="none"/><path d="M256.6 407.7H439.4M256.6 420.04H439.4M256.6 432.38H439.4M256.6 444.73H439.4M256.6 457.07H439.4M256.6 469.41H439.4M256.6 481.75H439.4M271.65 394.7V485.1M290.74 394.7V485.1M309.83 394.7V485.1M328.92 394.7V485.1M348.01 394.7V485.1M367.1 394.7V485.1M386.19 394.7V485.1M405.28 394.7V485.1M424.37 394.7V485.1" stroke="#E4E4E4" stroke-width="0.85" fill="none"/><g fill="#F8766D" fill-opacity="0.4" stroke="#F8766D" stroke-opacity="0.7" stroke-width="0.6"><circle cx="276.62" cy="472.31" r="2.35"/><circle cx="272.86" cy="453.73" r="2.35"/><circle cx="277.14" cy="463.24" r="2.35"/></g><g fill="#D39200" fill-opacity="0.4" stroke="#D39200" stroke-opacity="0.7" stroke-width="0.6"><circle cx="291.13" cy="454.56" r="2.35"/><circle cx="285.43" cy="421.83" r="2.35"/><circle cx="291.9" cy="444.78" r="2.35"/><circle cx="295.93" cy="428.22" r="2.35"/></g><g fill="#93AA00" fill-opacity="0.4" stroke="#93AA00" stroke-opacity="0.7" stroke-width="0.6"><circle cx="314.79" cy="445.4" r="2.35"/><circle cx="305.24" cy="416.28" r="2.35"/><circle cx="303.14" cy="435.66" r="2.35"/><circle cx="303.48" cy="424.55" r="2.35"/><circle cx="305.8" cy="422.38" r="2.35"/></g><g fill="#00BA38" fill-opacity="0.4" stroke="#00BA38" stroke-opacity="0.7" stroke-width="0.6"><circle cx="324.11" cy="444.85" r="2.35"/><circle cx="326" cy="414.34" r="2.35"/><circle cx="324.69" cy="441.78" r="2.35"/><circle cx="332.61" cy="429.01" r="2.35"/><circle cx="334.95" cy="423.71" r="2.35"/><circle cx="329.55" cy="416.22" r="2.35"/><circle cx="329.64" cy="415.61" r="2.35"/></g><g fill="#00C19F" fill-opacity="0.4" stroke="#00C19F" stroke-opacity="0.7" stroke-width="0.6"><circle cx="343.38" cy="462.88" r="2.35"/><circle cx="342.16" cy="414.06" r="2.35"/><circle cx="352.44" cy="455.77" r="2.35"/><circle cx="347.2" cy="446.88" r="2.35"/><circle cx="343.51" cy="437.88" r="2.35"/><circle cx="341.69" cy="431.96" r="2.35"/><circle cx="341.47" cy="431.17" r="2.35"/><circle cx="347.05" cy="429.27" r="2.35"/><circle cx="348.99" cy="420.84" r="2.35"/></g><g fill="#00B9E3" fill-opacity="0.4" stroke="#00B9E3" stroke-opacity="0.7" stroke-width="0.6"><circle cx="368.34" cy="454.28" r="2.35"/><circle cx="369.55" cy="406.57" r="2.35"/><circle cx="372.87" cy="445.15" r="2.35"/><circle cx="365.17" cy="440.66" r="2.35"/><circle cx="365.64" cy="438.83" r="2.35"/><circle cx="362.16" cy="434.5" r="2.35"/><circle cx="364.08" cy="428.44" r="2.35"/><circle cx="362.84" cy="412.52" r="2.35"/><circle cx="371.55" cy="408.64" r="2.35"/></g><g fill="#619CFF" fill-opacity="0.4" stroke="#619CFF" stroke-opacity="0.7" stroke-width="0.6"><circle cx="388.21" cy="444.02" r="2.35"/><circle cx="387.59" cy="399.64" r="2.35"/><circle cx="388.18" cy="438.67" r="2.35"/><circle cx="379.88" cy="431.97" r="2.35"/><circle cx="386.82" cy="431.22" r="2.35"/><circle cx="384.31" cy="424.37" r="2.35"/><circle cx="382.49" cy="418.66" r="2.35"/><circle cx="392.89" cy="415.9" r="2.35"/><circle cx="386.51" cy="410.4" r="2.35"/><circle cx="389.04" cy="407.43" r="2.35"/></g><g fill="#DB72FB" fill-opacity="0.4" stroke="#DB72FB" stroke-opacity="0.7" stroke-width="0.6"><circle cx="405.79" cy="462.88" r="2.35"/><circle cx="410.4" cy="410.73" r="2.35"/><circle cx="407.24" cy="458.46" r="2.35"/><circle cx="401.64" cy="450.28" r="2.35"/><circle cx="402.93" cy="448.86" r="2.35"/><circle cx="409.86" cy="438.79" r="2.35"/><circle cx="400.65" cy="430.29" r="2.35"/><circle cx="402.7" cy="427.22" r="2.35"/><circle cx="402.82" cy="421.61" r="2.35"/><circle cx="406.67" cy="414.7" r="2.35"/></g><g fill="#FF61C3" fill-opacity="0.4" stroke="#FF61C3" stroke-opacity="0.7" stroke-width="0.6"><circle cx="424.75" cy="448.18" r="2.35"/><circle cx="429.93" cy="410.73" r="2.35"/><circle cx="421.34" cy="446.53" r="2.35"/><circle cx="428.31" cy="445.66" r="2.35"/><circle cx="421.04" cy="444.04" r="2.35"/><circle cx="420.77" cy="437.98" r="2.35"/><circle cx="418.24" cy="434.44" r="2.35"/><circle cx="422.9" cy="430.06" r="2.35"/><circle cx="428.62" cy="426.76" r="2.35"/><circle cx="423.22" cy="424.59" r="2.35"/><circle cx="426.04" cy="422.21" r="2.35"/><circle cx="418.7" cy="416.01" r="2.35"/></g><path d="M271.65 453.73V459.27M271.65 467.6V472.31" stroke="#F8766D" stroke-width="1.0" fill="none"/><rect x="264.5" y="459.27" width="14.3" height="8.32" fill="#fff" fill-opacity="0.72" stroke="#F8766D" stroke-width="1.05"/><path d="M264.5 463.44H278.8" stroke="#FF3426" stroke-width="1.5"/><path d="M290.74 421.83V430.98M290.74 446.79V454.56" stroke="#D39200" stroke-width="1.0" fill="none"/><rect x="283.59" y="430.98" width="14.3" height="15.81" fill="#fff" fill-opacity="0.72" stroke="#D39200" stroke-width="1.05"/><path d="M283.59 439.86H297.89" stroke="#AD7800" stroke-width="1.5"/><path d="M309.83 416.28V422.38M309.83 435.7V445.4" stroke="#93AA00" stroke-width="1.0" fill="none"/><rect x="302.68" y="422.38" width="14.3" height="13.31" fill="#fff" fill-opacity="0.72" stroke="#93AA00" stroke-width="1.05"/><path d="M302.68 427.93H316.98" stroke="#798B00" stroke-width="1.5"/><path d="M328.92 414.34V416.28M328.92 432.92V444.85" stroke="#00BA38" stroke-width="1.0" fill="none"/><rect x="321.77" y="416.28" width="14.3" height="16.64" fill="#fff" fill-opacity="0.72" stroke="#00BA38" stroke-width="1.05"/><path d="M321.77 423.77H336.07" stroke="#00992E" stroke-width="1.5"/><path d="M348.01 414.06V430.15M348.01 446.79V462.88" stroke="#00C19F" stroke-width="1.0" fill="none"/><rect x="340.86" y="430.15" width="14.3" height="16.64" fill="#fff" fill-opacity="0.72" stroke="#00C19F" stroke-width="1.05"/><path d="M340.86 432.37H355.16" stroke="#009E82" stroke-width="1.5"/><path d="M367.1 406.57V411.29M367.1 440.69V454.28" stroke="#00B9E3" stroke-width="1.0" fill="none"/><rect x="359.95" y="411.29" width="14.3" height="29.4" fill="#fff" fill-opacity="0.72" stroke="#00B9E3" stroke-width="1.05"/><path d="M359.95 435.7H374.25" stroke="#0098BA" stroke-width="1.5"/><path d="M386.19 399.64V412.12M386.19 431.54V444.02" stroke="#619CFF" stroke-width="1.0" fill="none"/><rect x="379.04" y="412.12" width="14.3" height="19.42" fill="#fff" fill-opacity="0.72" stroke="#619CFF" stroke-width="1.05"/><path d="M379.04 421.83H393.34" stroke="#2274FF" stroke-width="1.5"/><path d="M405.28 410.73V421.83M405.28 450.12V462.88" stroke="#DB72FB" stroke-width="1.0" fill="none"/><rect x="398.13" y="421.83" width="14.3" height="28.29" fill="#fff" fill-opacity="0.72" stroke="#DB72FB" stroke-width="1.05"/><path d="M398.13 434.86H412.43" stroke="#CE2CFF" stroke-width="1.5"/><path d="M424.37 410.73V424.6M424.37 444.02V448.18" stroke="#FF61C3" stroke-width="1.0" fill="none"/><rect x="417.22" y="424.6" width="14.3" height="19.42" fill="#fff" fill-opacity="0.72" stroke="#FF61C3" stroke-width="1.05"/><path d="M417.22 432.92H431.52" stroke="#FF22AB" stroke-width="1.5"/><path d="M271.65 430.7L275.47 430.77L279.29 430.83L283.1 430.89L286.92 430.96L290.74 431.02L294.56 431.09L298.38 431.15L302.19 431.22L306.01 431.28L309.83 431.35L313.65 431.42L317.47 431.48L321.28 431.55L325.1 431.62L328.92 431.69L332.74 431.77L336.56 431.84L340.37 431.92L344.19 432L348.01 432.09L351.83 432.19L355.65 432.3L359.46 432.44L363.28 432.65L367.1 433.11L370.92 432.87L374.74 432.64L378.55 432.4L382.37 432.17L386.19 431.93L390.01 431.7L393.83 431.08L397.64 430.29L401.46 429.65L405.28 429.06L409.1 428.48L412.92 427.92L416.73 427.36L420.55 426.81L424.37 426.26L424.37 432.92L420.55 432.85L416.73 432.77L412.92 432.68L409.1 432.59L405.28 432.49L401.46 432.36L397.64 432.2L393.83 431.88L390.01 431.74L386.19 431.97L382.37 432.21L378.55 432.44L374.74 432.68L370.92 432.92L367.1 433.15L363.28 434.09L359.46 434.77L355.65 435.38L351.83 435.96L348.01 436.53L344.19 437.09L340.37 437.64L336.56 438.19L332.74 438.74L328.92 439.28L325.1 439.83L321.28 440.37L317.47 440.91L313.65 441.45L309.83 441.98L306.01 442.52L302.19 443.06L298.38 443.6L294.56 444.13L290.74 444.67L286.92 445.21L283.1 445.74L279.29 446.28L275.47 446.81L271.65 447.35Z" fill="#999999" fill-opacity="0.34"/><path d="M271.65 439.02L424.37 429.59" stroke="#000" stroke-width="1.85"/><rect x="256.6" y="394.7" width="182.8" height="90.4" fill="none" stroke="#333" stroke-width="0.9"/><rect x="439.4" y="394.7" width="13.85" height="90.4" fill="#D9D9D9" stroke="#333" stroke-width="0.9"/><text x="446.33" y="439.9" transform="rotate(90 446.33 439.9)" font-size="7.35" fill="#1A1A1A" text-anchor="middle" dy="0.36em">NAH</text><text x="252.4" y="407.7" dy="0.36em" text-anchor="end" font-size="7.15" fill="#2E2E2E" stroke="#2E2E2E" stroke-width="0.12">76</text><text x="252.4" y="420.04" dy="0.36em" text-anchor="end" font-size="7.15" fill="#2E2E2E" stroke="#2E2E2E" stroke-width="0.12">70</text><text x="252.4" y="432.38" dy="0.36em" text-anchor="end" font-size="7.15" fill="#2E2E2E" stroke="#2E2E2E" stroke-width="0.12">64</text><text x="252.4" y="444.73" dy="0.36em" text-anchor="end" font-size="7.15" fill="#2E2E2E" stroke="#2E2E2E" stroke-width="0.12">58</text><text x="252.4" y="457.07" dy="0.36em" text-anchor="end" font-size="7.15" fill="#2E2E2E" stroke="#2E2E2E" stroke-width="0.12">52</text><text x="252.4" y="469.41" dy="0.36em" text-anchor="end" font-size="7.15" fill="#2E2E2E" stroke="#2E2E2E" stroke-width="0.12">46</text><text x="252.4" y="481.75" dy="0.36em" text-anchor="end" font-size="7.15" fill="#2E2E2E" stroke="#2E2E2E" stroke-width="0.12">40</text><path d="M254.1 407.7H256.6M254.1 420.04H256.6M254.1 432.38H256.6M254.1 444.73H256.6M254.1 457.07H256.6M254.1 469.41H256.6M254.1 481.75H256.6" stroke="#333" stroke-width="1.1"/><text x="271.65" y="494.3" text-anchor="middle" font-size="7.15" fill="#2E2E2E" stroke="#2E2E2E" stroke-width="0.12">2014</text><text x="290.74" y="494.3" text-anchor="middle" font-size="7.15" fill="#2E2E2E" stroke="#2E2E2E" stroke-width="0.12">2015</text><text x="309.83" y="494.3" text-anchor="middle" font-size="7.15" fill="#2E2E2E" stroke="#2E2E2E" stroke-width="0.12">2016</text><text x="328.92" y="494.3" text-anchor="middle" font-size="7.15" fill="#2E2E2E" stroke="#2E2E2E" stroke-width="0.12">2017</text><text x="348.01" y="494.3" text-anchor="middle" font-size="7.15" fill="#2E2E2E" stroke="#2E2E2E" stroke-width="0.12">2018</text><text x="367.1" y="494.3" text-anchor="middle" font-size="7.15" fill="#2E2E2E" stroke="#2E2E2E" stroke-width="0.12">2019</text><text x="386.19" y="494.3" text-anchor="middle" font-size="7.15" fill="#2E2E2E" stroke="#2E2E2E" stroke-width="0.12">2020</text><text x="405.28" y="494.3" text-anchor="middle" font-size="7.15" fill="#2E2E2E" stroke="#2E2E2E" stroke-width="0.12">2021</text><text x="424.37" y="494.3" text-anchor="middle" font-size="7.15" fill="#2E2E2E" stroke="#2E2E2E" stroke-width="0.12">2022</text><path d="M271.65 485.1V487.6M290.74 485.1V487.6M309.83 485.1V487.6M328.92 485.1V487.6M348.01 485.1V487.6M367.1 485.1V487.6M386.19 485.1V487.6M405.28 485.1V487.6M424.37 485.1V487.6" stroke="#333" stroke-width="1.1"/><text x="348" y="505" text-anchor="middle" font-size="9.02" fill="#000" stroke="#000" stroke-width="0.1">Year</text><text x="240.3" y="392.15" transform="rotate(-90 240.3 392.15)" text-anchor="middle" font-size="9.02" fill="#000" stroke="#000" stroke-width="0.1">Score (%)</text><text x="485.45" y="274.2" font-size="10.82" fill="#000" xml:space="preserve">Teamwork within units</text><text x="485.45" y="293.1" font-size="9.02" fill="#000" xml:space="preserve">AH (P &lt; 0.001);  NAH (P = 0.38)</text><rect x="485.45" y="299.2" width="182.8" height="90.4" fill="#fff"/><path d="M485.45 302.8H668.25M485.45 315.6H668.25M485.45 328.39H668.25M485.45 341.18H668.25M485.45 353.97H668.25M485.45 366.76H668.25M485.45 379.55H668.25M490.96 299.2V389.6M510.05 299.2V389.6M529.13 299.2V389.6M548.22 299.2V389.6M567.31 299.2V389.6M586.4 299.2V389.6M605.5 299.2V389.6M624.58 299.2V389.6M643.67 299.2V389.6M662.76 299.2V389.6" stroke="#EEEEEE" stroke-width="0.5" fill="none"/><path d="M485.45 309.2H668.25M485.45 321.99H668.25M485.45 334.78H668.25M485.45 347.57H668.25M485.45 360.37H668.25M485.45 373.16H668.25M485.45 385.95H668.25M500.5 299.2V389.6M519.59 299.2V389.6M538.68 299.2V389.6M557.77 299.2V389.6M576.86 299.2V389.6M595.95 299.2V389.6M615.04 299.2V389.6M634.13 299.2V389.6M653.22 299.2V389.6" stroke="#E4E4E4" stroke-width="0.85" fill="none"/><g fill="#F8766D" fill-opacity="0.4" stroke="#F8766D" stroke-opacity="0.7" stroke-width="0.6"><circle cx="502.37" cy="381.6" r="2.35"/><circle cx="496.79" cy="345.54" r="2.35"/><circle cx="496.08" cy="378.62" r="2.35"/><circle cx="502.83" cy="370.5" r="2.35"/><circle cx="501.42" cy="368.99" r="2.35"/><circle cx="498.37" cy="364.38" r="2.35"/><circle cx="504.72" cy="360.45" r="2.35"/><circle cx="501.12" cy="359.77" r="2.35"/><circle cx="506.4" cy="348" r="2.35"/></g><g fill="#D39200" fill-opacity="0.4" stroke="#D39200" stroke-opacity="0.7" stroke-width="0.6"><circle cx="524.64" cy="385.21" r="2.35"/><circle cx="517.5" cy="330.29" r="2.35"/><circle cx="512.75" cy="380.88" r="2.35"/><circle cx="526.46" cy="369.16" r="2.35"/><circle cx="525" cy="361.05" r="2.35"/><circle cx="521.51" cy="359.27" r="2.35"/><circle cx="526.11" cy="353.84" r="2.35"/><circle cx="514.87" cy="350.1" r="2.35"/><circle cx="516.92" cy="347.01" r="2.35"/><circle cx="518.15" cy="343.67" r="2.35"/><circle cx="515" cy="340.2" r="2.35"/><circle cx="515.15" cy="339.22" r="2.35"/><circle cx="524.55" cy="330.54" r="2.35"/></g><g fill="#93AA00" fill-opacity="0.4" stroke="#93AA00" stroke-opacity="0.7" stroke-width="0.6"><circle cx="538.05" cy="373.28" r="2.35"/><circle cx="535.49" cy="327.51" r="2.35"/><circle cx="541.16" cy="370.53" r="2.35"/><circle cx="544.28" cy="366.12" r="2.35"/><circle cx="539.86" cy="361.91" r="2.35"/><circle cx="541.53" cy="357.89" r="2.35"/><circle cx="531.96" cy="356.27" r="2.35"/><circle cx="543.64" cy="354.98" r="2.35"/><circle cx="539.4" cy="353.67" r="2.35"/><circle cx="532.37" cy="351.42" r="2.35"/><circle cx="536.41" cy="349.61" r="2.35"/><circle cx="541.95" cy="348.1" r="2.35"/><circle cx="534.63" cy="346.36" r="2.35"/><circle cx="542.86" cy="344.67" r="2.35"/><circle cx="540.24" cy="343.91" r="2.35"/><circle cx="540.65" cy="343.32" r="2.35"/><circle cx="544.06" cy="341.95" r="2.35"/><circle cx="544.32" cy="336.7" r="2.35"/><circle cx="536.15" cy="332.41" r="2.35"/><circle cx="533.7" cy="330.56" r="2.35"/></g><g fill="#00BA38" fill-opacity="0.4" stroke="#00BA38" stroke-opacity="0.7" stroke-width="0.6"><circle cx="551.44" cy="366.35" r="2.35"/><circle cx="562.87" cy="331.67" r="2.35"/><circle cx="553.43" cy="364.06" r="2.35"/><circle cx="559.98" cy="360.88" r="2.35"/><circle cx="564.54" cy="359.44" r="2.35"/><circle cx="553.94" cy="356.7" r="2.35"/><circle cx="560.44" cy="354.12" r="2.35"/><circle cx="551.87" cy="353.73" r="2.35"/><circle cx="563.57" cy="352.92" r="2.35"/><circle cx="559.98" cy="350.88" r="2.35"/><circle cx="560.64" cy="350.8" r="2.35"/><circle cx="551.47" cy="349.47" r="2.35"/><circle cx="556.17" cy="348.57" r="2.35"/><circle cx="559.08" cy="346.98" r="2.35"/><circle cx="554.41" cy="345.6" r="2.35"/><circle cx="561.27" cy="345.02" r="2.35"/><circle cx="558.69" cy="344.02" r="2.35"/><circle cx="553.81" cy="342.49" r="2.35"/><circle cx="562.8" cy="341.7" r="2.35"/><circle cx="559.77" cy="340.43" r="2.35"/><circle cx="554.32" cy="339.73" r="2.35"/><circle cx="555.7" cy="338.71" r="2.35"/><circle cx="560.08" cy="336.21" r="2.35"/><circle cx="559.69" cy="335.37" r="2.35"/><circle cx="556.84" cy="332.68" r="2.35"/></g><g fill="#00C19F" fill-opacity="0.4" stroke="#00C19F" stroke-opacity="0.7" stroke-width="0.6"><circle cx="581.39" cy="370.51" r="2.35"/><circle cx="574.6" cy="327.51" r="2.35"/><circle cx="572.22" cy="368.35" r="2.35"/><circle cx="574.16" cy="367.13" r="2.35"/><circle cx="582.83" cy="363.8" r="2.35"/><circle cx="577.58" cy="361.61" r="2.35"/><circle cx="576.68" cy="358.37" r="2.35"/><circle cx="577.71" cy="356.98" r="2.35"/><circle cx="571.49" cy="356.13" r="2.35"/><circle cx="577.76" cy="355.11" r="2.35"/><circle cx="579.77" cy="354.32" r="2.35"/><circle cx="570.02" cy="353.03" r="2.35"/><circle cx="572.55" cy="352.01" r="2.35"/><circle cx="582.74" cy="351.21" r="2.35"/><circle cx="576.76" cy="349.25" r="2.35"/><circle cx="573.62" cy="348.78" r="2.35"/><circle cx="578.39" cy="347.1" r="2.35"/><circle cx="575.41" cy="344.95" r="2.35"/><circle cx="570.69" cy="343.31" r="2.35"/><circle cx="583.1" cy="342.97" r="2.35"/><circle cx="574.75" cy="340.55" r="2.35"/><circle cx="576.38" cy="340.26" r="2.35"/><circle cx="574.95" cy="337.89" r="2.35"/><circle cx="581.11" cy="337.55" r="2.35"/><circle cx="574.95" cy="333.26" r="2.35"/><circle cx="574.6" cy="332.51" r="2.35"/><circle cx="576.19" cy="329.77" r="2.35"/></g><g fill="#00B9E3" fill-opacity="0.4" stroke="#00B9E3" stroke-opacity="0.7" stroke-width="0.6"><circle cx="591.87" cy="370.51" r="2.35"/><circle cx="589.91" cy="328.9" r="2.35"/><circle cx="602.54" cy="366.57" r="2.35"/><circle cx="599.79" cy="363.09" r="2.35"/><circle cx="600.18" cy="362.55" r="2.35"/><circle cx="598.06" cy="356.53" r="2.35"/><circle cx="590.04" cy="354.74" r="2.35"/><circle cx="593.98" cy="353.43" r="2.35"/><circle cx="602.62" cy="351.18" r="2.35"/><circle cx="595.65" cy="349.77" r="2.35"/><circle cx="598.85" cy="348.33" r="2.35"/><circle cx="602.26" cy="347.35" r="2.35"/><circle cx="598.88" cy="346.71" r="2.35"/><circle cx="591.57" cy="345.4" r="2.35"/><circle cx="601.61" cy="343.92" r="2.35"/><circle cx="599.24" cy="342.98" r="2.35"/><circle cx="592.37" cy="341.93" r="2.35"/><circle cx="589.65" cy="341.75" r="2.35"/><circle cx="593.52" cy="341.36" r="2.35"/><circle cx="594.93" cy="341.03" r="2.35"/><circle cx="592.5" cy="340.66" r="2.35"/><circle cx="594.3" cy="340.15" r="2.35"/><circle cx="595.38" cy="339.85" r="2.35"/><circle cx="592.02" cy="339.53" r="2.35"/><circle cx="601.31" cy="339.05" r="2.35"/><circle cx="597.89" cy="338.53" r="2.35"/><circle cx="602.18" cy="337.41" r="2.35"/><circle cx="597.59" cy="335.34" r="2.35"/><circle cx="591.67" cy="333" r="2.35"/><circle cx="590.01" cy="332.59" r="2.35"/><circle cx="593.09" cy="329.9" r="2.35"/><circle cx="596.64" cy="319.19" r="2.35"/></g><g fill="#619CFF" fill-opacity="0.4" stroke="#619CFF" stroke-opacity="0.7" stroke-width="0.6"><circle cx="619.83" cy="361.36" r="2.35"/><circle cx="609.62" cy="313.64" r="2.35"/><circle cx="619.74" cy="357.87" r="2.35"/><circle cx="617.37" cy="354.34" r="2.35"/><circle cx="618.44" cy="350.6" r="2.35"/><circle cx="618.31" cy="348.05" r="2.35"/><circle cx="608.6" cy="346.01" r="2.35"/><circle cx="613.82" cy="344.04" r="2.35"/><circle cx="619.64" cy="342.56" r="2.35"/><circle cx="617.78" cy="341.5" r="2.35"/><circle cx="618.56" cy="340.1" r="2.35"/><circle cx="616.66" cy="339.39" r="2.35"/><circle cx="613.4" cy="338.84" r="2.35"/><circle cx="619.63" cy="338.13" r="2.35"/><circle cx="610.03" cy="337.37" r="2.35"/><circle cx="619.89" cy="336.16" r="2.35"/><circle cx="619.58" cy="335.5" r="2.35"/><circle cx="614.81" cy="334.09" r="2.35"/><circle cx="616.31" cy="333.9" r="2.35"/><circle cx="618.01" cy="332.65" r="2.35"/><circle cx="608.44" cy="331.79" r="2.35"/><circle cx="610.36" cy="330.73" r="2.35"/><circle cx="619.21" cy="330.26" r="2.35"/><circle cx="612.12" cy="329.04" r="2.35"/><circle cx="613.77" cy="328.63" r="2.35"/><circle cx="618.75" cy="327.24" r="2.35"/><circle cx="617.58" cy="325.86" r="2.35"/><circle cx="608.94" cy="322.48" r="2.35"/><circle cx="613.63" cy="320.77" r="2.35"/><circle cx="611.29" cy="319.46" r="2.35"/><circle cx="614.31" cy="315.25" r="2.35"/></g><g fill="#DB72FB" fill-opacity="0.4" stroke="#DB72FB" stroke-opacity="0.7" stroke-width="0.6"><circle cx="628.73" cy="363.57" r="2.35"/><circle cx="635.81" cy="313.64" r="2.35"/><circle cx="634.61" cy="362.53" r="2.35"/><circle cx="628.89" cy="360.03" r="2.35"/><circle cx="632.93" cy="356.67" r="2.35"/><circle cx="627.48" cy="355.14" r="2.35"/><circle cx="639.01" cy="352.8" r="2.35"/><circle cx="638.94" cy="351.74" r="2.35"/><circle cx="628.39" cy="349.92" r="2.35"/><circle cx="632.14" cy="348.34" r="2.35"/><circle cx="630.65" cy="347.24" r="2.35"/><circle cx="636.21" cy="346.81" r="2.35"/><circle cx="634.3" cy="345.88" r="2.35"/><circle cx="634.92" cy="345.47" r="2.35"/><circle cx="639.1" cy="344.87" r="2.35"/><circle cx="635.14" cy="344.14" r="2.35"/><circle cx="635.12" cy="343.33" r="2.35"/><circle cx="637.28" cy="342.38" r="2.35"/><circle cx="630.46" cy="341.76" r="2.35"/><circle cx="637.46" cy="341.43" r="2.35"/><circle cx="640.02" cy="340.18" r="2.35"/><circle cx="635.71" cy="339.43" r="2.35"/><circle cx="639.8" cy="338.82" r="2.35"/><circle cx="631.62" cy="338.11" r="2.35"/><circle cx="631.6" cy="337.01" r="2.35"/><circle cx="635.07" cy="336.36" r="2.35"/><circle cx="628.06" cy="335.6" r="2.35"/><circle cx="634.44" cy="335.25" r="2.35"/><circle cx="628.67" cy="334.05" r="2.35"/><circle cx="635.38" cy="333.04" r="2.35"/><circle cx="640.28" cy="332.68" r="2.35"/><circle cx="627.52" cy="330.82" r="2.35"/><circle cx="631.89" cy="330.13" r="2.35"/><circle cx="627.49" cy="328.2" r="2.35"/><circle cx="631.99" cy="325.23" r="2.35"/><circle cx="631.94" cy="323.71" r="2.35"/><circle cx="627.33" cy="321.76" r="2.35"/><circle cx="629.24" cy="317.82" r="2.35"/><circle cx="635.8" cy="316.43" r="2.35"/><circle cx="633.92" cy="302.55" r="2.35"/><circle cx="636.7" cy="303.1" r="2.35"/></g><g fill="#FF61C3" fill-opacity="0.4" stroke="#FF61C3" stroke-opacity="0.7" stroke-width="0.6"><circle cx="648.73" cy="366.35" r="2.35"/><circle cx="651.07" cy="310.87" r="2.35"/><circle cx="651.76" cy="365.55" r="2.35"/><circle cx="648.05" cy="362.61" r="2.35"/><circle cx="654.94" cy="360.7" r="2.35"/><circle cx="653.93" cy="358.49" r="2.35"/><circle cx="648.44" cy="357.51" r="2.35"/><circle cx="658.26" cy="355.41" r="2.35"/><circle cx="647.49" cy="354.44" r="2.35"/><circle cx="651.52" cy="352.52" r="2.35"/><circle cx="649.08" cy="350.9" r="2.35"/><circle cx="656.84" cy="349.35" r="2.35"/><circle cx="648.89" cy="348.33" r="2.35"/><circle cx="647.26" cy="347.77" r="2.35"/><circle cx="657.57" cy="347.53" r="2.35"/><circle cx="651.38" cy="346.94" r="2.35"/><circle cx="656.62" cy="346.14" r="2.35"/><circle cx="656.16" cy="345.45" r="2.35"/><circle cx="658.31" cy="344.83" r="2.35"/><circle cx="651.12" cy="344.57" r="2.35"/><circle cx="657.37" cy="343.99" r="2.35"/><circle cx="653.5" cy="343.14" r="2.35"/><circle cx="657.64" cy="342.69" r="2.35"/><circle cx="650.16" cy="341.89" r="2.35"/><circle cx="647.87" cy="341.53" r="2.35"/><circle cx="655.12" cy="341.1" r="2.35"/><circle cx="658.95" cy="340.36" r="2.35"/><circle cx="650.58" cy="339.65" r="2.35"/><circle cx="654.01" cy="338.93" r="2.35"/><circle cx="654.31" cy="338.52" r="2.35"/><circle cx="647.47" cy="337.53" r="2.35"/><circle cx="654.84" cy="337.42" r="2.35"/><circle cx="657.14" cy="336.64" r="2.35"/><circle cx="650.59" cy="336.14" r="2.35"/><circle cx="646.51" cy="335.54" r="2.35"/><circle cx="651.02" cy="334.49" r="2.35"/><circle cx="652.05" cy="333.84" r="2.35"/><circle cx="654.62" cy="333.19" r="2.35"/><circle cx="648.8" cy="332.81" r="2.35"/><circle cx="647.02" cy="332.51" r="2.35"/><circle cx="658.58" cy="332.04" r="2.35"/><circle cx="653.96" cy="331.12" r="2.35"/><circle cx="652.25" cy="329.13" r="2.35"/><circle cx="657.07" cy="328.6" r="2.35"/><circle cx="647.56" cy="326.09" r="2.35"/><circle cx="655.75" cy="325.34" r="2.35"/><circle cx="657.85" cy="324.14" r="2.35"/><circle cx="651.78" cy="320.7" r="2.35"/><circle cx="651.88" cy="318.68" r="2.35"/><circle cx="659.03" cy="316.76" r="2.35"/><circle cx="648.5" cy="314.47" r="2.35"/><circle cx="655.09" cy="311.63" r="2.35"/></g><path d="M500.5 345.54V359.41M500.5 369.95V381.6" stroke="#F8766D" stroke-width="1.0" fill="none"/><rect x="493.35" y="359.41" width="14.3" height="10.54" fill="#fff" fill-opacity="0.72" stroke="#F8766D" stroke-width="1.05"/><path d="M493.35 363.57H507.65" stroke="#FF3426" stroke-width="1.5"/><path d="M519.59 330.29V341.38M519.59 361.36V385.21" stroke="#D39200" stroke-width="1.0" fill="none"/><rect x="512.44" y="341.38" width="14.3" height="19.97" fill="#fff" fill-opacity="0.72" stroke="#D39200" stroke-width="1.05"/><path d="M512.44 351.09H526.74" stroke="#AD7800" stroke-width="1.5"/><path d="M538.68 327.51V342.77M538.68 356.64V373.28" stroke="#93AA00" stroke-width="1.0" fill="none"/><rect x="531.53" y="342.77" width="14.3" height="13.87" fill="#fff" fill-opacity="0.72" stroke="#93AA00" stroke-width="1.05"/><path d="M531.53 348.32H545.83" stroke="#798B00" stroke-width="1.5"/><path d="M557.77 331.67V340.55M557.77 353.31V366.35" stroke="#00BA38" stroke-width="1.0" fill="none"/><rect x="550.62" y="340.55" width="14.3" height="12.76" fill="#fff" fill-opacity="0.72" stroke="#00BA38" stroke-width="1.05"/><path d="M550.62 346.93H564.92" stroke="#00992E" stroke-width="1.5"/><path d="M576.86 327.51V340.55M576.86 356.64V370.51" stroke="#00C19F" stroke-width="1.0" fill="none"/><rect x="569.71" y="340.55" width="14.3" height="16.09" fill="#fff" fill-opacity="0.72" stroke="#00C19F" stroke-width="1.05"/><path d="M569.71 349.7H584.01" stroke="#009E82" stroke-width="1.5"/><path d="M595.95 328.9V339.44M595.95 350.26V370.51" stroke="#00B9E3" stroke-width="1.0" fill="none"/><rect x="588.8" y="339.44" width="14.3" height="10.82" fill="#fff" fill-opacity="0.72" stroke="#00B9E3" stroke-width="1.05"/><path d="M588.8 341.94H603.1" stroke="#0098BA" stroke-width="1.5"/><path d="M615.04 313.64V328.9M615.04 341.38V361.36" stroke="#619CFF" stroke-width="1.0" fill="none"/><rect x="607.89" y="328.9" width="14.3" height="12.48" fill="#fff" fill-opacity="0.72" stroke="#619CFF" stroke-width="1.05"/><path d="M607.89 335.28H622.19" stroke="#2274FF" stroke-width="1.5"/><path d="M634.13 313.64V333.06M634.13 346.93V363.57" stroke="#DB72FB" stroke-width="1.0" fill="none"/><rect x="626.98" y="333.06" width="14.3" height="13.87" fill="#fff" fill-opacity="0.72" stroke="#DB72FB" stroke-width="1.05"/><path d="M626.98 340.55H641.28" stroke="#CE2CFF" stroke-width="1.5"/><path d="M653.22 310.87V332.23M653.22 347.49V366.35" stroke="#FF61C3" stroke-width="1.0" fill="none"/><rect x="646.07" y="332.23" width="14.3" height="15.26" fill="#fff" fill-opacity="0.72" stroke="#FF61C3" stroke-width="1.05"/><path d="M646.07 340H660.37" stroke="#FF22AB" stroke-width="1.5"/><path d="M500.5 354.42L504.32 354.01L508.14 353.6L511.95 353.19L515.77 352.78L519.59 352.37L523.41 351.96L527.23 351.54L531.04 351.13L534.86 350.71L538.68 350.3L542.5 349.88L546.32 349.46L550.13 349.03L553.95 348.61L557.77 348.18L561.59 347.75L565.41 347.31L569.22 346.87L573.04 346.42L576.86 345.96L580.68 345.49L584.5 345.01L588.31 344.52L592.13 344.02L595.95 343.5L599.77 342.97L603.59 342.42L607.4 341.86L611.22 341.3L615.04 340.72L618.86 340.14L622.68 339.55L626.49 338.96L630.31 338.36L634.13 337.76L637.95 337.16L641.77 336.55L645.58 335.95L649.4 335.34L653.22 334.73L653.22 338.61L649.4 339.02L645.58 339.44L641.77 339.86L637.95 340.28L634.13 340.7L630.31 341.13L626.49 341.56L622.68 341.99L618.86 342.43L615.04 342.88L611.22 343.33L607.4 343.79L603.59 344.26L599.77 344.74L595.95 345.23L592.13 345.74L588.31 346.26L584.5 346.8L580.68 347.34L576.86 347.9L573.04 348.47L569.22 349.05L565.41 349.63L561.59 350.22L557.77 350.81L553.95 351.41L550.13 352.01L546.32 352.62L542.5 353.22L538.68 353.83L534.86 354.44L531.04 355.05L527.23 355.66L523.41 356.27L519.59 356.89L515.77 357.5L511.95 358.12L508.14 358.73L504.32 359.35L500.5 359.97Z" fill="#999999" fill-opacity="0.34"/><path d="M500.5 357.19L653.22 336.67" stroke="#000" stroke-width="1.85"/><rect x="485.45" y="299.2" width="182.8" height="90.4" fill="none" stroke="#333" stroke-width="0.9"/><rect x="668.25" y="299.2" width="13.3" height="90.4" fill="#D9D9D9" stroke="#333" stroke-width="0.9"/><text x="674.9" y="344.4" transform="rotate(90 674.9 344.4)" font-size="7.35" fill="#1A1A1A" text-anchor="middle" dy="0.36em">AH</text><text x="481.25" y="309.2" dy="0.36em" text-anchor="end" font-size="7.15" fill="#2E2E2E" stroke="#2E2E2E" stroke-width="0.12">85</text><text x="481.25" y="321.99" dy="0.36em" text-anchor="end" font-size="7.15" fill="#2E2E2E" stroke="#2E2E2E" stroke-width="0.12">80</text><text x="481.25" y="334.78" dy="0.36em" text-anchor="end" font-size="7.15" fill="#2E2E2E" stroke="#2E2E2E" stroke-width="0.12">75</text><text x="481.25" y="347.57" dy="0.36em" text-anchor="end" font-size="7.15" fill="#2E2E2E" stroke="#2E2E2E" stroke-width="0.12">70</text><text x="481.25" y="360.37" dy="0.36em" text-anchor="end" font-size="7.15" fill="#2E2E2E" stroke="#2E2E2E" stroke-width="0.12">65</text><text x="481.25" y="373.16" dy="0.36em" text-anchor="end" font-size="7.15" fill="#2E2E2E" stroke="#2E2E2E" stroke-width="0.12">60</text><text x="481.25" y="385.95" dy="0.36em" text-anchor="end" font-size="7.15" fill="#2E2E2E" stroke="#2E2E2E" stroke-width="0.12">55</text><path d="M482.95 309.2H485.45M482.95 321.99H485.45M482.95 334.78H485.45M482.95 347.57H485.45M482.95 360.37H485.45M482.95 373.16H485.45M482.95 385.95H485.45" stroke="#333" stroke-width="1.1"/><rect x="485.45" y="394.7" width="182.8" height="90.4" fill="#fff"/><path d="M485.45 398.3H668.25M485.45 411.1H668.25M485.45 423.89H668.25M485.45 436.68H668.25M485.45 449.47H668.25M485.45 462.26H668.25M485.45 475.05H668.25M490.96 394.7V485.1M510.05 394.7V485.1M529.13 394.7V485.1M548.22 394.7V485.1M567.31 394.7V485.1M586.4 394.7V485.1M605.5 394.7V485.1M624.58 394.7V485.1M643.67 394.7V485.1M662.76 394.7V485.1" stroke="#EEEEEE" stroke-width="0.5" fill="none"/><path d="M485.45 404.7H668.25M485.45 417.49H668.25M485.45 430.28H668.25M485.45 443.08H668.25M485.45 455.87H668.25M485.45 468.66H668.25M485.45 481.45H668.25M500.5 394.7V485.1M519.59 394.7V485.1M538.68 394.7V485.1M557.77 394.7V485.1M576.86 394.7V485.1M595.95 394.7V485.1M615.04 394.7V485.1M634.13 394.7V485.1M653.22 394.7V485.1" stroke="#E4E4E4" stroke-width="0.85" fill="none"/><g fill="#F8766D" fill-opacity="0.4" stroke="#F8766D" stroke-opacity="0.7" stroke-width="0.6"><circle cx="500.51" cy="450.12" r="2.35"/><circle cx="502.41" cy="446.79" r="2.35"/><circle cx="501.59" cy="448.47" r="2.35"/></g><g fill="#D39200" fill-opacity="0.4" stroke="#D39200" stroke-opacity="0.7" stroke-width="0.6"><circle cx="523.14" cy="448.18" r="2.35"/><circle cx="518.84" cy="430.98" r="2.35"/><circle cx="516.2" cy="438.23" r="2.35"/><circle cx="514.92" cy="433.2" r="2.35"/></g><g fill="#93AA00" fill-opacity="0.4" stroke="#93AA00" stroke-opacity="0.7" stroke-width="0.6"><circle cx="542.65" cy="444.02" r="2.35"/><circle cx="545.04" cy="427.93" r="2.35"/><circle cx="545.18" cy="439.84" r="2.35"/><circle cx="539.19" cy="433.58" r="2.35"/><circle cx="541.81" cy="429" r="2.35"/></g><g fill="#00BA38" fill-opacity="0.4" stroke="#00BA38" stroke-opacity="0.7" stroke-width="0.6"><circle cx="557.42" cy="446.79" r="2.35"/><circle cx="563.47" cy="416.28" r="2.35"/><circle cx="553.6" cy="446.13" r="2.35"/><circle cx="560.46" cy="440.37" r="2.35"/><circle cx="559.68" cy="434.7" r="2.35"/><circle cx="552.76" cy="425.87" r="2.35"/><circle cx="555.15" cy="416.81" r="2.35"/></g><g fill="#00C19F" fill-opacity="0.4" stroke="#00C19F" stroke-opacity="0.7" stroke-width="0.6"><circle cx="581.44" cy="463.44" r="2.35"/><circle cx="581.75" cy="425.99" r="2.35"/><circle cx="578.88" cy="457.37" r="2.35"/><circle cx="583.63" cy="452.84" r="2.35"/><circle cx="578.76" cy="445.84" r="2.35"/><circle cx="581.97" cy="440.4" r="2.35"/><circle cx="577.28" cy="434.32" r="2.35"/><circle cx="581.21" cy="431.82" r="2.35"/><circle cx="574.91" cy="428.17" r="2.35"/></g><g fill="#00B9E3" fill-opacity="0.4" stroke="#00B9E3" stroke-opacity="0.7" stroke-width="0.6"><circle cx="602.72" cy="455.11" r="2.35"/><circle cx="591.22" cy="414.89" r="2.35"/><circle cx="592.98" cy="452.77" r="2.35"/><circle cx="593.53" cy="448.23" r="2.35"/><circle cx="595.59" cy="441.74" r="2.35"/><circle cx="600.46" cy="435.41" r="2.35"/><circle cx="601.23" cy="426.46" r="2.35"/><circle cx="597.75" cy="422.31" r="2.35"/><circle cx="589.94" cy="415.49" r="2.35"/></g><g fill="#619CFF" fill-opacity="0.4" stroke="#619CFF" stroke-opacity="0.7" stroke-width="0.6"><circle cx="621.84" cy="446.79" r="2.35"/><circle cx="618.28" cy="410.73" r="2.35"/><circle cx="614.2" cy="445.1" r="2.35"/><circle cx="621.68" cy="441.06" r="2.35"/><circle cx="615.31" cy="437.08" r="2.35"/><circle cx="621.53" cy="435.93" r="2.35"/><circle cx="615.96" cy="427.8" r="2.35"/><circle cx="618.83" cy="422.86" r="2.35"/><circle cx="617.82" cy="419.04" r="2.35"/><circle cx="608.49" cy="413.51" r="2.35"/></g><g fill="#DB72FB" fill-opacity="0.4" stroke="#DB72FB" stroke-opacity="0.7" stroke-width="0.6"><circle cx="638.9" cy="456.5" r="2.35"/><circle cx="633.2" cy="424.6" r="2.35"/><circle cx="637.47" cy="455.63" r="2.35"/><circle cx="629.2" cy="446.92" r="2.35"/><circle cx="637.02" cy="446.57" r="2.35"/><circle cx="633.98" cy="440.82" r="2.35"/><circle cx="640.41" cy="436.2" r="2.35"/><circle cx="633.1" cy="430.73" r="2.35"/><circle cx="632.5" cy="429.95" r="2.35"/><circle cx="631.5" cy="427.12" r="2.35"/><circle cx="630.04" cy="402.41" r="2.35"/></g><g fill="#FF61C3" fill-opacity="0.4" stroke="#FF61C3" stroke-opacity="0.7" stroke-width="0.6"><circle cx="647.45" cy="454.56" r="2.35"/><circle cx="650.71" cy="413.5" r="2.35"/><circle cx="648.95" cy="450.34" r="2.35"/><circle cx="647.36" cy="447.32" r="2.35"/><circle cx="650.85" cy="442.87" r="2.35"/><circle cx="651.67" cy="438.52" r="2.35"/><circle cx="656.38" cy="432.97" r="2.35"/><circle cx="659.67" cy="431.94" r="2.35"/><circle cx="649.97" cy="430.06" r="2.35"/><circle cx="649.6" cy="426.41" r="2.35"/><circle cx="649.29" cy="422.68" r="2.35"/><circle cx="648.81" cy="418.34" r="2.35"/></g><path d="M500.5 446.79V447.62M500.5 449.29V450.12" stroke="#F8766D" stroke-width="1.0" fill="none"/><rect x="493.35" y="447.62" width="14.3" height="1.66" fill="#fff" fill-opacity="0.72" stroke="#F8766D" stroke-width="1.05"/><path d="M493.35 448.46H507.65" stroke="#FF3426" stroke-width="1.5"/><path d="M519.59 430.98V432.92M519.59 440.69V448.18" stroke="#D39200" stroke-width="1.0" fill="none"/><rect x="512.44" y="432.92" width="14.3" height="7.77" fill="#fff" fill-opacity="0.72" stroke="#D39200" stroke-width="1.05"/><path d="M512.44 433.48H526.74" stroke="#AD7800" stroke-width="1.5"/><path d="M538.68 427.93V432.37M538.68 439.86V444.02" stroke="#93AA00" stroke-width="1.0" fill="none"/><rect x="531.53" y="432.37" width="14.3" height="7.49" fill="#fff" fill-opacity="0.72" stroke="#93AA00" stroke-width="1.05"/><path d="M531.53 435.14H545.83" stroke="#798B00" stroke-width="1.5"/><path d="M557.77 416.28V425.16M557.77 439.86V446.79" stroke="#00BA38" stroke-width="1.0" fill="none"/><rect x="550.62" y="425.16" width="14.3" height="14.7" fill="#fff" fill-opacity="0.72" stroke="#00BA38" stroke-width="1.05"/><path d="M550.62 432.37H564.92" stroke="#00992E" stroke-width="1.5"/><path d="M576.86 425.99V432.37M576.86 452.34V463.44" stroke="#00C19F" stroke-width="1.0" fill="none"/><rect x="569.71" y="432.37" width="14.3" height="19.97" fill="#fff" fill-opacity="0.72" stroke="#00C19F" stroke-width="1.05"/><path d="M569.71 440.41H584.01" stroke="#009E82" stroke-width="1.5"/><path d="M595.95 414.89V423.21M595.95 448.18V455.11" stroke="#00B9E3" stroke-width="1.0" fill="none"/><rect x="588.8" y="423.21" width="14.3" height="24.97" fill="#fff" fill-opacity="0.72" stroke="#00B9E3" stroke-width="1.05"/><path d="M588.8 438.47H603.1" stroke="#0098BA" stroke-width="1.5"/><path d="M615.04 410.73V421.83M615.04 440.69V446.79" stroke="#619CFF" stroke-width="1.0" fill="none"/><rect x="607.89" y="421.83" width="14.3" height="18.86" fill="#fff" fill-opacity="0.72" stroke="#619CFF" stroke-width="1.05"/><path d="M607.89 432.37H622.19" stroke="#2274FF" stroke-width="1.5"/><path d="M634.13 424.6V430.15M634.13 446.79V456.5" stroke="#DB72FB" stroke-width="1.0" fill="none"/><rect x="626.98" y="430.15" width="14.3" height="16.64" fill="#fff" fill-opacity="0.72" stroke="#DB72FB" stroke-width="1.05"/><path d="M626.98 438.47H641.28" stroke="#CE2CFF" stroke-width="1.5"/><path d="M653.22 413.5V427.37M653.22 442.63V454.56" stroke="#FF61C3" stroke-width="1.0" fill="none"/><rect x="646.07" y="427.37" width="14.3" height="15.26" fill="#fff" fill-opacity="0.72" stroke="#FF61C3" stroke-width="1.05"/><path d="M646.07 432.37H660.37" stroke="#FF22AB" stroke-width="1.5"/><path d="M500.5 430.98L504.32 431.15L508.14 431.31L511.95 431.48L515.77 431.64L519.59 431.81L523.41 431.97L527.23 432.13L531.04 432.3L534.86 432.46L538.68 432.62L542.5 432.77L546.32 432.93L550.13 433.08L553.95 433.23L557.77 433.38L561.59 433.52L565.41 433.66L569.22 433.79L573.04 433.92L576.86 434.03L580.68 434.13L584.5 434.22L588.31 434.29L592.13 434.33L595.95 434.33L599.77 434.29L603.59 434.21L607.4 434.07L611.22 433.89L615.04 433.66L618.86 433.39L622.68 433.09L626.49 432.76L630.31 432.42L634.13 432.06L637.95 431.69L641.77 431.32L645.58 430.93L649.4 430.54L653.22 430.15L653.22 438.47L649.4 438.33L645.58 438.18L641.77 438.05L637.95 437.92L634.13 437.8L630.31 437.7L626.49 437.6L622.68 437.53L618.86 437.48L615.04 437.46L611.22 437.48L607.4 437.54L603.59 437.65L599.77 437.82L595.95 438.03L592.13 438.29L588.31 438.58L584.5 438.89L580.68 439.23L576.86 439.58L573.04 439.94L569.22 440.32L565.41 440.7L561.59 441.09L557.77 441.48L553.95 441.88L550.13 442.28L546.32 442.68L542.5 443.09L538.68 443.49L534.86 443.9L531.04 444.31L527.23 444.72L523.41 445.13L519.59 445.55L515.77 445.96L511.95 446.38L508.14 446.79L504.32 447.21L500.5 447.62Z" fill="#999999" fill-opacity="0.34"/><path d="M500.5 439.3L653.22 434.31" stroke="#000" stroke-width="1.85"/><rect x="485.45" y="394.7" width="182.8" height="90.4" fill="none" stroke="#333" stroke-width="0.9"/><rect x="668.25" y="394.7" width="13.3" height="90.4" fill="#D9D9D9" stroke="#333" stroke-width="0.9"/><text x="674.9" y="439.9" transform="rotate(90 674.9 439.9)" font-size="7.35" fill="#1A1A1A" text-anchor="middle" dy="0.36em">NAH</text><text x="481.25" y="404.7" dy="0.36em" text-anchor="end" font-size="7.15" fill="#2E2E2E" stroke="#2E2E2E" stroke-width="0.12">85</text><text x="481.25" y="417.49" dy="0.36em" text-anchor="end" font-size="7.15" fill="#2E2E2E" stroke="#2E2E2E" stroke-width="0.12">80</text><text x="481.25" y="430.28" dy="0.36em" text-anchor="end" font-size="7.15" fill="#2E2E2E" stroke="#2E2E2E" stroke-width="0.12">75</text><text x="481.25" y="443.08" dy="0.36em" text-anchor="end" font-size="7.15" fill="#2E2E2E" stroke="#2E2E2E" stroke-width="0.12">70</text><text x="481.25" y="455.87" dy="0.36em" text-anchor="end" font-size="7.15" fill="#2E2E2E" stroke="#2E2E2E" stroke-width="0.12">65</text><text x="481.25" y="468.66" dy="0.36em" text-anchor="end" font-size="7.15" fill="#2E2E2E" stroke="#2E2E2E" stroke-width="0.12">60</text><text x="481.25" y="481.45" dy="0.36em" text-anchor="end" font-size="7.15" fill="#2E2E2E" stroke="#2E2E2E" stroke-width="0.12">55</text><path d="M482.95 404.7H485.45M482.95 417.49H485.45M482.95 430.28H485.45M482.95 443.08H485.45M482.95 455.87H485.45M482.95 468.66H485.45M482.95 481.45H485.45" stroke="#333" stroke-width="1.1"/><text x="500.5" y="494.3" text-anchor="middle" font-size="7.15" fill="#2E2E2E" stroke="#2E2E2E" stroke-width="0.12">2014</text><text x="519.59" y="494.3" text-anchor="middle" font-size="7.15" fill="#2E2E2E" stroke="#2E2E2E" stroke-width="0.12">2015</text><text x="538.68" y="494.3" text-anchor="middle" font-size="7.15" fill="#2E2E2E" stroke="#2E2E2E" stroke-width="0.12">2016</text><text x="557.77" y="494.3" text-anchor="middle" font-size="7.15" fill="#2E2E2E" stroke="#2E2E2E" stroke-width="0.12">2017</text><text x="576.86" y="494.3" text-anchor="middle" font-size="7.15" fill="#2E2E2E" stroke="#2E2E2E" stroke-width="0.12">2018</text><text x="595.95" y="494.3" text-anchor="middle" font-size="7.15" fill="#2E2E2E" stroke="#2E2E2E" stroke-width="0.12">2019</text><text x="615.04" y="494.3" text-anchor="middle" font-size="7.15" fill="#2E2E2E" stroke="#2E2E2E" stroke-width="0.12">2020</text><text x="634.13" y="494.3" text-anchor="middle" font-size="7.15" fill="#2E2E2E" stroke="#2E2E2E" stroke-width="0.12">2021</text><text x="653.22" y="494.3" text-anchor="middle" font-size="7.15" fill="#2E2E2E" stroke="#2E2E2E" stroke-width="0.12">2022</text><path d="M500.5 485.1V487.6M519.59 485.1V487.6M538.68 485.1V487.6M557.77 485.1V487.6M576.86 485.1V487.6M595.95 485.1V487.6M615.04 485.1V487.6M634.13 485.1V487.6M653.22 485.1V487.6" stroke="#333" stroke-width="1.1"/><text x="576.85" y="505" text-anchor="middle" font-size="9.02" fill="#000" stroke="#000" stroke-width="0.1">Year</text><text x="469.15" y="392.15" transform="rotate(-90 469.15 392.15)" text-anchor="middle" font-size="9.02" fill="#000" stroke="#000" stroke-width="0.1">Score (%)</text><text x="27.55" y="529.3" font-size="10.82" fill="#000" xml:space="preserve">Internal transfers and shift changes</text><text x="27.55" y="548.2" font-size="9.02" fill="#000" xml:space="preserve">AH (P &lt; 0.001);  NAH (P = 0.89)</text><rect x="27.55" y="554.3" width="182.8" height="90.4" fill="#fff"/><path d="M27.55 567.14H210.35M27.55 580.61H210.35M27.55 594.09H210.35M27.55 607.56H210.35M27.55 621.04H210.35M27.55 634.51H210.35M33.05 554.3V644.7M52.15 554.3V644.7M71.23 554.3V644.7M90.33 554.3V644.7M109.42 554.3V644.7M128.5 554.3V644.7M147.59 554.3V644.7M166.68 554.3V644.7M185.77 554.3V644.7M204.86 554.3V644.7" stroke="#EEEEEE" stroke-width="0.5" fill="none"/><path d="M27.55 560.4H210.35M27.55 573.88H210.35M27.55 587.35H210.35M27.55 600.82H210.35M27.55 614.3H210.35M27.55 627.77H210.35M27.55 641.25H210.35M42.6 554.3V644.7M61.69 554.3V644.7M80.78 554.3V644.7M99.87 554.3V644.7M118.96 554.3V644.7M138.05 554.3V644.7M157.14 554.3V644.7M176.23 554.3V644.7M195.32 554.3V644.7" stroke="#E4E4E4" stroke-width="0.85" fill="none"/><g fill="#F8766D" fill-opacity="0.4" stroke="#F8766D" stroke-opacity="0.7" stroke-width="0.6"><circle cx="47.28" cy="634.66" r="2.35"/><circle cx="46.98" cy="601.93" r="2.35"/><circle cx="42.59" cy="631.17" r="2.35"/><circle cx="46.01" cy="628.5" r="2.35"/><circle cx="49.28" cy="627.42" r="2.35"/><circle cx="48.75" cy="624.83" r="2.35"/><circle cx="42.87" cy="616.34" r="2.35"/><circle cx="47.38" cy="608" r="2.35"/><circle cx="37.74" cy="603.23" r="2.35"/></g><g fill="#D39200" fill-opacity="0.4" stroke="#D39200" stroke-opacity="0.7" stroke-width="0.6"><circle cx="54.82" cy="640.21" r="2.35"/><circle cx="60.88" cy="586.67" r="2.35"/><circle cx="65.83" cy="634.81" r="2.35"/><circle cx="61.96" cy="625.77" r="2.35"/><circle cx="59.53" cy="619.85" r="2.35"/><circle cx="56.27" cy="616.88" r="2.35"/><circle cx="64.19" cy="613.18" r="2.35"/><circle cx="63.21" cy="612.09" r="2.35"/><circle cx="56.61" cy="606.43" r="2.35"/><circle cx="54.83" cy="598.24" r="2.35"/><circle cx="62.05" cy="595.55" r="2.35"/><circle cx="62.45" cy="592.87" r="2.35"/><circle cx="65.39" cy="587.15" r="2.35"/></g><g fill="#93AA00" fill-opacity="0.4" stroke="#93AA00" stroke-opacity="0.7" stroke-width="0.6"><circle cx="82.74" cy="622.74" r="2.35"/><circle cx="76.79" cy="581.13" r="2.35"/><circle cx="81.84" cy="620.32" r="2.35"/><circle cx="81.86" cy="618.69" r="2.35"/><circle cx="86.84" cy="613.41" r="2.35"/><circle cx="84.31" cy="611.91" r="2.35"/><circle cx="85.97" cy="609.87" r="2.35"/><circle cx="81.17" cy="608.1" r="2.35"/><circle cx="81.48" cy="605.99" r="2.35"/><circle cx="74.37" cy="605.11" r="2.35"/><circle cx="80.72" cy="602.97" r="2.35"/><circle cx="80.06" cy="601.46" r="2.35"/><circle cx="74.84" cy="600.31" r="2.35"/><circle cx="79.76" cy="599.33" r="2.35"/><circle cx="80.6" cy="598.53" r="2.35"/><circle cx="80.44" cy="597.26" r="2.35"/><circle cx="87.63" cy="595.48" r="2.35"/><circle cx="75.02" cy="593.16" r="2.35"/><circle cx="81.2" cy="588.04" r="2.35"/><circle cx="78.18" cy="584.41" r="2.35"/></g><g fill="#00BA38" fill-opacity="0.4" stroke="#00BA38" stroke-opacity="0.7" stroke-width="0.6"><circle cx="94.86" cy="617.19" r="2.35"/><circle cx="102.58" cy="579.74" r="2.35"/><circle cx="93.31" cy="616.35" r="2.35"/><circle cx="99.68" cy="613.79" r="2.35"/><circle cx="94.52" cy="610.87" r="2.35"/><circle cx="102.44" cy="609.29" r="2.35"/><circle cx="97.09" cy="608.88" r="2.35"/><circle cx="101.52" cy="607.69" r="2.35"/><circle cx="97.99" cy="606.66" r="2.35"/><circle cx="104.31" cy="605.6" r="2.35"/><circle cx="93.5" cy="604.73" r="2.35"/><circle cx="106.39" cy="604.09" r="2.35"/><circle cx="102.69" cy="602.72" r="2.35"/><circle cx="93.07" cy="601.95" r="2.35"/><circle cx="94.07" cy="600.21" r="2.35"/><circle cx="99.57" cy="597.62" r="2.35"/><circle cx="105.29" cy="596.99" r="2.35"/><circle cx="97.8" cy="594.16" r="2.35"/><circle cx="93.01" cy="592.67" r="2.35"/><circle cx="104.02" cy="591.42" r="2.35"/><circle cx="95.24" cy="590.67" r="2.35"/><circle cx="96.24" cy="589.11" r="2.35"/><circle cx="103.61" cy="586.15" r="2.35"/><circle cx="101.07" cy="583.91" r="2.35"/><circle cx="105.07" cy="582.51" r="2.35"/></g><g fill="#00C19F" fill-opacity="0.4" stroke="#00C19F" stroke-opacity="0.7" stroke-width="0.6"><circle cx="112.37" cy="628.28" r="2.35"/><circle cx="121.52" cy="581.13" r="2.35"/><circle cx="124.47" cy="625.39" r="2.35"/><circle cx="122.29" cy="624.7" r="2.35"/><circle cx="118.51" cy="619.76" r="2.35"/><circle cx="115.38" cy="616.81" r="2.35"/><circle cx="121.1" cy="615.15" r="2.35"/><circle cx="114.3" cy="613.34" r="2.35"/><circle cx="125.15" cy="612.33" r="2.35"/><circle cx="119.43" cy="611.04" r="2.35"/><circle cx="117.45" cy="608.96" r="2.35"/><circle cx="118.36" cy="607.69" r="2.35"/><circle cx="125.37" cy="606.81" r="2.35"/><circle cx="113.64" cy="604.76" r="2.35"/><circle cx="122.02" cy="602.62" r="2.35"/><circle cx="114.05" cy="601.28" r="2.35"/><circle cx="115.63" cy="599.09" r="2.35"/><circle cx="115.48" cy="598.71" r="2.35"/><circle cx="121.34" cy="596.7" r="2.35"/><circle cx="120.76" cy="594.71" r="2.35"/><circle cx="115.95" cy="592.5" r="2.35"/><circle cx="119.27" cy="592.01" r="2.35"/><circle cx="123.33" cy="591.12" r="2.35"/><circle cx="112.82" cy="588.59" r="2.35"/><circle cx="117.93" cy="587.13" r="2.35"/><circle cx="116.96" cy="585.59" r="2.35"/><circle cx="122.59" cy="581.2" r="2.35"/></g><g fill="#00B9E3" fill-opacity="0.4" stroke="#00B9E3" stroke-opacity="0.7" stroke-width="0.6"><circle cx="144.22" cy="625.51" r="2.35"/><circle cx="138.49" cy="574.19" r="2.35"/><circle cx="143.54" cy="622.41" r="2.35"/><circle cx="135.57" cy="619.17" r="2.35"/><circle cx="134.92" cy="617.38" r="2.35"/><circle cx="141.71" cy="613.16" r="2.35"/><circle cx="141.37" cy="611.11" r="2.35"/><circle cx="144.02" cy="609.55" r="2.35"/><circle cx="137.59" cy="607.66" r="2.35"/><circle cx="143.78" cy="607.55" r="2.35"/><circle cx="131.83" cy="605.31" r="2.35"/><circle cx="144.33" cy="602.52" r="2.35"/><circle cx="134.11" cy="600.69" r="2.35"/><circle cx="140.57" cy="598.11" r="2.35"/><circle cx="143.87" cy="596.29" r="2.35"/><circle cx="143.13" cy="594.75" r="2.35"/><circle cx="139.09" cy="593.2" r="2.35"/><circle cx="141.66" cy="592.42" r="2.35"/><circle cx="137.08" cy="591.37" r="2.35"/><circle cx="140.17" cy="591.15" r="2.35"/><circle cx="133.61" cy="590.47" r="2.35"/><circle cx="133.14" cy="589.95" r="2.35"/><circle cx="142.1" cy="589.21" r="2.35"/><circle cx="138.62" cy="588.04" r="2.35"/><circle cx="142.54" cy="587.76" r="2.35"/><circle cx="132.1" cy="586.59" r="2.35"/><circle cx="133.54" cy="584" r="2.35"/><circle cx="141.2" cy="583.42" r="2.35"/><circle cx="138.29" cy="579.81" r="2.35"/><circle cx="133.13" cy="578.65" r="2.35"/><circle cx="140.8" cy="574.62" r="2.35"/></g><g fill="#619CFF" fill-opacity="0.4" stroke="#619CFF" stroke-opacity="0.7" stroke-width="0.6"><circle cx="162.13" cy="622.74" r="2.35"/><circle cx="156.27" cy="558.93" r="2.35"/><circle cx="157.12" cy="620.59" r="2.35"/><circle cx="151.92" cy="617.94" r="2.35"/><circle cx="158.31" cy="614.44" r="2.35"/><circle cx="152.9" cy="610.16" r="2.35"/><circle cx="151.43" cy="606.7" r="2.35"/><circle cx="156.7" cy="605.92" r="2.35"/><circle cx="151.09" cy="604.35" r="2.35"/><circle cx="155.24" cy="602.76" r="2.35"/><circle cx="157.67" cy="601.28" r="2.35"/><circle cx="161.57" cy="599.89" r="2.35"/><circle cx="154.61" cy="598.82" r="2.35"/><circle cx="159.57" cy="596.85" r="2.35"/><circle cx="154.42" cy="596.19" r="2.35"/><circle cx="154.79" cy="593.99" r="2.35"/><circle cx="154.62" cy="592.31" r="2.35"/><circle cx="156.17" cy="590.47" r="2.35"/><circle cx="151.32" cy="589.48" r="2.35"/><circle cx="157.63" cy="588.26" r="2.35"/><circle cx="162.52" cy="585.71" r="2.35"/><circle cx="155.99" cy="585.08" r="2.35"/><circle cx="158.61" cy="582.06" r="2.35"/><circle cx="157.84" cy="581.1" r="2.35"/><circle cx="157.83" cy="578.99" r="2.35"/><circle cx="150.96" cy="578.69" r="2.35"/><circle cx="150.56" cy="574.07" r="2.35"/><circle cx="154.27" cy="572.57" r="2.35"/><circle cx="162.28" cy="569.62" r="2.35"/><circle cx="150.71" cy="564.88" r="2.35"/><circle cx="158.24" cy="558.97" r="2.35"/></g><g fill="#DB72FB" fill-opacity="0.4" stroke="#DB72FB" stroke-opacity="0.7" stroke-width="0.6"><circle cx="181.18" cy="633" r="2.35"/><circle cx="181.1" cy="560.32" r="2.35"/><circle cx="178.32" cy="632.31" r="2.35"/><circle cx="175.58" cy="628.3" r="2.35"/><circle cx="170.95" cy="623.29" r="2.35"/><circle cx="173.36" cy="617.19" r="2.35"/><circle cx="180.89" cy="615.9" r="2.35"/><circle cx="174.47" cy="611.1" r="2.35"/><circle cx="180.1" cy="607.5" r="2.35"/><circle cx="174.9" cy="605.45" r="2.35"/><circle cx="172.08" cy="604.14" r="2.35"/><circle cx="176.07" cy="602.63" r="2.35"/><circle cx="181.92" cy="601.95" r="2.35"/><circle cx="181.61" cy="601.25" r="2.35"/><circle cx="177.33" cy="600.23" r="2.35"/><circle cx="172.12" cy="598.51" r="2.35"/><circle cx="183.07" cy="598.1" r="2.35"/><circle cx="174.76" cy="596.92" r="2.35"/><circle cx="174.09" cy="595.45" r="2.35"/><circle cx="173.15" cy="594.58" r="2.35"/><circle cx="172.74" cy="593.73" r="2.35"/><circle cx="169.86" cy="592.53" r="2.35"/><circle cx="174.7" cy="591.21" r="2.35"/><circle cx="174.82" cy="589.05" r="2.35"/><circle cx="181.53" cy="587.16" r="2.35"/><circle cx="179.18" cy="585.38" r="2.35"/><circle cx="176.78" cy="584.88" r="2.35"/><circle cx="182.51" cy="582.86" r="2.35"/><circle cx="172.22" cy="581.68" r="2.35"/><circle cx="176.55" cy="579.16" r="2.35"/><circle cx="182.72" cy="578.83" r="2.35"/><circle cx="169.64" cy="577.62" r="2.35"/><circle cx="171.73" cy="575.7" r="2.35"/><circle cx="171.41" cy="574.1" r="2.35"/><circle cx="171.71" cy="573.3" r="2.35"/><circle cx="176.06" cy="569.27" r="2.35"/><circle cx="177.87" cy="568.58" r="2.35"/><circle cx="182.9" cy="564.49" r="2.35"/><circle cx="174.4" cy="561.73" r="2.35"/></g><g fill="#FF61C3" fill-opacity="0.4" stroke="#FF61C3" stroke-opacity="0.7" stroke-width="0.6"><circle cx="195.93" cy="625.51" r="2.35"/><circle cx="198.87" cy="563.1" r="2.35"/><circle cx="201.06" cy="622.94" r="2.35"/><circle cx="200.26" cy="622.28" r="2.35"/><circle cx="188.91" cy="619.99" r="2.35"/><circle cx="199.34" cy="616.2" r="2.35"/><circle cx="191" cy="613.54" r="2.35"/><circle cx="198.49" cy="611.88" r="2.35"/><circle cx="189.13" cy="610.47" r="2.35"/><circle cx="190.99" cy="608.29" r="2.35"/><circle cx="193.47" cy="606.03" r="2.35"/><circle cx="191.05" cy="605.44" r="2.35"/><circle cx="197.41" cy="603.52" r="2.35"/><circle cx="196.7" cy="602.92" r="2.35"/><circle cx="196.92" cy="602.56" r="2.35"/><circle cx="201.5" cy="602.01" r="2.35"/><circle cx="189.32" cy="600.99" r="2.35"/><circle cx="195.95" cy="600.26" r="2.35"/><circle cx="190.18" cy="599.59" r="2.35"/><circle cx="192.48" cy="599.11" r="2.35"/><circle cx="194.06" cy="598.28" r="2.35"/><circle cx="198.94" cy="597.37" r="2.35"/><circle cx="198.47" cy="596.84" r="2.35"/><circle cx="195.66" cy="596.4" r="2.35"/><circle cx="199.09" cy="595.27" r="2.35"/><circle cx="193.97" cy="594.89" r="2.35"/><circle cx="192.97" cy="593.68" r="2.35"/><circle cx="194.65" cy="593.23" r="2.35"/><circle cx="200.62" cy="592.01" r="2.35"/><circle cx="198.8" cy="590.73" r="2.35"/><circle cx="195.05" cy="589.88" r="2.35"/><circle cx="193.71" cy="589.29" r="2.35"/><circle cx="194.27" cy="587.85" r="2.35"/><circle cx="192.56" cy="586.33" r="2.35"/><circle cx="195.59" cy="585.82" r="2.35"/><circle cx="188.62" cy="585.18" r="2.35"/><circle cx="201.34" cy="583.29" r="2.35"/><circle cx="191.5" cy="582.51" r="2.35"/><circle cx="191.9" cy="581.8" r="2.35"/><circle cx="200.46" cy="580.46" r="2.35"/><circle cx="189.6" cy="580.33" r="2.35"/><circle cx="195.15" cy="579.28" r="2.35"/><circle cx="191.56" cy="578.72" r="2.35"/><circle cx="190.88" cy="577.74" r="2.35"/><circle cx="191.17" cy="576.52" r="2.35"/><circle cx="191.04" cy="574.65" r="2.35"/><circle cx="193.77" cy="572.85" r="2.35"/><circle cx="200.28" cy="571.9" r="2.35"/><circle cx="201.36" cy="569.13" r="2.35"/><circle cx="197.48" cy="567.97" r="2.35"/><circle cx="192.62" cy="566.19" r="2.35"/><circle cx="193.11" cy="563.88" r="2.35"/></g><path d="M42.6 601.93V608.31M42.6 628.28V634.66" stroke="#F8766D" stroke-width="1.0" fill="none"/><rect x="35.45" y="608.31" width="14.3" height="19.97" fill="#fff" fill-opacity="0.72" stroke="#F8766D" stroke-width="1.05"/><path d="M35.45 624.68H49.75" stroke="#FF3426" stroke-width="1.5"/><path d="M61.69 586.67V595.83M61.69 619.13V640.21" stroke="#D39200" stroke-width="1.0" fill="none"/><rect x="54.54" y="595.83" width="14.3" height="23.3" fill="#fff" fill-opacity="0.72" stroke="#D39200" stroke-width="1.05"/><path d="M54.54 611.64H68.84" stroke="#AD7800" stroke-width="1.5"/><path d="M80.78 581.13V596.94M80.78 610.25V622.74" stroke="#93AA00" stroke-width="1.0" fill="none"/><rect x="73.63" y="596.94" width="14.3" height="13.31" fill="#fff" fill-opacity="0.72" stroke="#93AA00" stroke-width="1.05"/><path d="M73.63 601.93H87.93" stroke="#798B00" stroke-width="1.5"/><path d="M99.87 579.74V591.67M99.87 607.48V617.19" stroke="#00BA38" stroke-width="1.0" fill="none"/><rect x="92.72" y="591.67" width="14.3" height="15.81" fill="#fff" fill-opacity="0.72" stroke="#00BA38" stroke-width="1.05"/><path d="M92.72 601.93H107.02" stroke="#00992E" stroke-width="1.5"/><path d="M118.96 581.13V592.22M118.96 613.03V628.28" stroke="#00C19F" stroke-width="1.0" fill="none"/><rect x="111.81" y="592.22" width="14.3" height="20.8" fill="#fff" fill-opacity="0.72" stroke="#00C19F" stroke-width="1.05"/><path d="M111.81 603.32H126.11" stroke="#009E82" stroke-width="1.5"/><path d="M138.05 574.19V588.06M138.05 607.48V625.51" stroke="#00B9E3" stroke-width="1.0" fill="none"/><rect x="130.9" y="588.06" width="14.3" height="19.42" fill="#fff" fill-opacity="0.72" stroke="#00B9E3" stroke-width="1.05"/><path d="M130.9 593.05H145.2" stroke="#0098BA" stroke-width="1.5"/><path d="M157.14 558.93V580.29M157.14 603.32V622.74" stroke="#619CFF" stroke-width="1.0" fill="none"/><rect x="149.99" y="580.29" width="14.3" height="23.02" fill="#fff" fill-opacity="0.72" stroke="#619CFF" stroke-width="1.05"/><path d="M149.99 593.05H164.29" stroke="#2274FF" stroke-width="1.5"/><path d="M176.23 560.32V579.18M176.23 603.32V633" stroke="#DB72FB" stroke-width="1.0" fill="none"/><rect x="169.08" y="579.18" width="14.3" height="24.13" fill="#fff" fill-opacity="0.72" stroke="#DB72FB" stroke-width="1.05"/><path d="M169.08 593.61H183.38" stroke="#CE2CFF" stroke-width="1.5"/><path d="M195.32 563.1V580.57M195.32 602.49V625.51" stroke="#FF61C3" stroke-width="1.0" fill="none"/><rect x="188.17" y="580.57" width="14.3" height="21.91" fill="#fff" fill-opacity="0.72" stroke="#FF61C3" stroke-width="1.05"/><path d="M188.17 593.61H202.47" stroke="#FF22AB" stroke-width="1.5"/><path d="M42.6 607.48L46.42 607.08L50.24 606.69L54.05 606.29L57.87 605.89L61.69 605.5L65.51 605.1L69.33 604.7L73.14 604.3L76.96 603.9L80.78 603.49L84.6 603.09L88.42 602.68L92.23 602.27L96.05 601.86L99.87 601.45L103.69 601.03L107.51 600.6L111.32 600.18L115.14 599.74L118.96 599.3L122.78 598.84L126.6 598.38L130.41 597.9L134.23 597.41L138.05 596.9L141.87 596.38L145.69 595.85L149.5 595.31L153.32 594.76L157.14 594.2L160.96 593.63L164.78 593.05L168.59 592.47L172.41 591.89L176.23 591.31L180.05 590.72L183.87 590.12L187.68 589.53L191.5 588.94L195.32 588.34L195.32 592.22L191.5 592.62L187.68 593.03L183.87 593.43L180.05 593.84L176.23 594.25L172.41 594.66L168.59 595.08L164.78 595.5L160.96 595.92L157.14 596.35L153.32 596.79L149.5 597.23L145.69 597.69L141.87 598.16L138.05 598.64L134.23 599.13L130.41 599.64L126.6 600.16L122.78 600.69L118.96 601.24L115.14 601.79L111.32 602.35L107.51 602.92L103.69 603.5L99.87 604.08L96.05 604.66L92.23 605.25L88.42 605.84L84.6 606.43L80.78 607.03L76.96 607.62L73.14 608.22L69.33 608.82L65.51 609.42L61.69 610.02L57.87 610.62L54.05 611.22L50.24 611.82L46.42 612.42L42.6 613.03Z" fill="#999999" fill-opacity="0.34"/><path d="M42.6 610.25L195.32 590.28" stroke="#000" stroke-width="1.85"/><rect x="27.55" y="554.3" width="182.8" height="90.4" fill="none" stroke="#333" stroke-width="0.9"/><rect x="210.35" y="554.3" width="14" height="90.4" fill="#D9D9D9" stroke="#333" stroke-width="0.9"/><text x="217.35" y="599.5" transform="rotate(90 217.35 599.5)" font-size="7.35" fill="#1A1A1A" text-anchor="middle" dy="0.36em">AH</text><text x="23.35" y="560.4" dy="0.36em" text-anchor="end" font-size="7.15" fill="#2E2E2E" stroke="#2E2E2E" stroke-width="0.12">73</text><text x="23.35" y="573.88" dy="0.36em" text-anchor="end" font-size="7.15" fill="#2E2E2E" stroke="#2E2E2E" stroke-width="0.12">66</text><text x="23.35" y="587.35" dy="0.36em" text-anchor="end" font-size="7.15" fill="#2E2E2E" stroke="#2E2E2E" stroke-width="0.12">59</text><text x="23.35" y="600.82" dy="0.36em" text-anchor="end" font-size="7.15" fill="#2E2E2E" stroke="#2E2E2E" stroke-width="0.12">52</text><text x="23.35" y="614.3" dy="0.36em" text-anchor="end" font-size="7.15" fill="#2E2E2E" stroke="#2E2E2E" stroke-width="0.12">45</text><text x="23.35" y="627.77" dy="0.36em" text-anchor="end" font-size="7.15" fill="#2E2E2E" stroke="#2E2E2E" stroke-width="0.12">38</text><text x="23.35" y="641.25" dy="0.36em" text-anchor="end" font-size="7.15" fill="#2E2E2E" stroke="#2E2E2E" stroke-width="0.12">31</text><path d="M25.05 560.4H27.55M25.05 573.88H27.55M25.05 587.35H27.55M25.05 600.82H27.55M25.05 614.3H27.55M25.05 627.77H27.55M25.05 641.25H27.55" stroke="#333" stroke-width="1.1"/><rect x="27.55" y="649.8" width="182.8" height="90.4" fill="#fff"/><path d="M27.55 662.64H210.35M27.55 676.11H210.35M27.55 689.59H210.35M27.55 703.06H210.35M27.55 716.54H210.35M27.55 730.01H210.35M33.05 649.8V740.2M52.15 649.8V740.2M71.23 649.8V740.2M90.33 649.8V740.2M109.42 649.8V740.2M128.5 649.8V740.2M147.59 649.8V740.2M166.68 649.8V740.2M185.77 649.8V740.2M204.86 649.8V740.2" stroke="#EEEEEE" stroke-width="0.5" fill="none"/><path d="M27.55 655.9H210.35M27.55 669.38H210.35M27.55 682.85H210.35M27.55 696.32H210.35M27.55 709.8H210.35M27.55 723.27H210.35M27.55 736.75H210.35M42.6 649.8V740.2M61.69 649.8V740.2M80.78 649.8V740.2M99.87 649.8V740.2M118.96 649.8V740.2M138.05 649.8V740.2M157.14 649.8V740.2M176.23 649.8V740.2M195.32 649.8V740.2" stroke="#E4E4E4" stroke-width="0.85" fill="none"/><g fill="#F8766D" fill-opacity="0.4" stroke="#F8766D" stroke-opacity="0.7" stroke-width="0.6"><circle cx="40.54" cy="717.05" r="2.35"/><circle cx="46.87" cy="701.79" r="2.35"/><circle cx="40.31" cy="712.82" r="2.35"/></g><g fill="#D39200" fill-opacity="0.4" stroke="#D39200" stroke-opacity="0.7" stroke-width="0.6"><circle cx="54.99" cy="702.62" r="2.35"/><circle cx="60.74" cy="677.1" r="2.35"/><circle cx="60.94" cy="701.32" r="2.35"/><circle cx="64.31" cy="689.11" r="2.35"/></g><g fill="#93AA00" fill-opacity="0.4" stroke="#93AA00" stroke-opacity="0.7" stroke-width="0.6"><circle cx="84.56" cy="709.56" r="2.35"/><circle cx="74.48" cy="667.12" r="2.35"/><circle cx="85.12" cy="703.57" r="2.35"/><circle cx="81.46" cy="685.38" r="2.35"/><circle cx="83.14" cy="674.65" r="2.35"/></g><g fill="#00BA38" fill-opacity="0.4" stroke="#00BA38" stroke-opacity="0.7" stroke-width="0.6"><circle cx="106.39" cy="705.12" r="2.35"/><circle cx="100.26" cy="662.4" r="2.35"/><circle cx="93.19" cy="703.32" r="2.35"/><circle cx="96.1" cy="695.69" r="2.35"/><circle cx="95.15" cy="683.9" r="2.35"/><circle cx="99.98" cy="669.2" r="2.35"/><circle cx="95.72" cy="663.71" r="2.35"/></g><g fill="#00C19F" fill-opacity="0.4" stroke="#00C19F" stroke-opacity="0.7" stroke-width="0.6"><circle cx="117.76" cy="719.27" r="2.35"/><circle cx="112.45" cy="661.57" r="2.35"/><circle cx="123.48" cy="713.03" r="2.35"/><circle cx="120.97" cy="706.53" r="2.35"/><circle cx="118.62" cy="700.35" r="2.35"/><circle cx="123.27" cy="696.59" r="2.35"/><circle cx="124.92" cy="681.48" r="2.35"/><circle cx="114.51" cy="669.41" r="2.35"/><circle cx="117.91" cy="664.49" r="2.35"/></g><g fill="#00B9E3" fill-opacity="0.4" stroke="#00B9E3" stroke-opacity="0.7" stroke-width="0.6"><circle cx="142.1" cy="719.27" r="2.35"/><circle cx="142.6" cy="653.25" r="2.35"/><circle cx="140.3" cy="711.49" r="2.35"/><circle cx="141.47" cy="707.52" r="2.35"/><circle cx="132.41" cy="697.95" r="2.35"/><circle cx="134.49" cy="685.86" r="2.35"/><circle cx="143.34" cy="680.32" r="2.35"/><circle cx="139.24" cy="665.95" r="2.35"/><circle cx="134.69" cy="656.84" r="2.35"/></g><g fill="#619CFF" fill-opacity="0.4" stroke="#619CFF" stroke-opacity="0.7" stroke-width="0.6"><circle cx="152.69" cy="708.73" r="2.35"/><circle cx="151.31" cy="657.41" r="2.35"/><circle cx="163.73" cy="705.22" r="2.35"/><circle cx="161.65" cy="697.6" r="2.35"/><circle cx="153.39" cy="691.37" r="2.35"/><circle cx="162.34" cy="683.29" r="2.35"/><circle cx="162.15" cy="670.39" r="2.35"/><circle cx="152.97" cy="666.53" r="2.35"/><circle cx="160.86" cy="663.76" r="2.35"/><circle cx="151.59" cy="658.21" r="2.35"/></g><g fill="#DB72FB" fill-opacity="0.4" stroke="#DB72FB" stroke-opacity="0.7" stroke-width="0.6"><circle cx="180.74" cy="715.66" r="2.35"/><circle cx="181.78" cy="664.34" r="2.35"/><circle cx="177.13" cy="713.41" r="2.35"/><circle cx="180.83" cy="712.23" r="2.35"/><circle cx="175.7" cy="709.97" r="2.35"/><circle cx="183.08" cy="699.46" r="2.35"/><circle cx="177.52" cy="696.61" r="2.35"/><circle cx="171.31" cy="689.59" r="2.35"/><circle cx="176.83" cy="685.38" r="2.35"/><circle cx="179.31" cy="666.51" r="2.35"/></g><g fill="#FF61C3" fill-opacity="0.4" stroke="#FF61C3" stroke-opacity="0.7" stroke-width="0.6"><circle cx="191.73" cy="712.89" r="2.35"/><circle cx="193.16" cy="661.57" r="2.35"/><circle cx="195.93" cy="711.32" r="2.35"/><circle cx="191.41" cy="704.23" r="2.35"/><circle cx="196.3" cy="701.71" r="2.35"/><circle cx="189.01" cy="696.72" r="2.35"/><circle cx="191.29" cy="692.69" r="2.35"/><circle cx="191.98" cy="689.65" r="2.35"/><circle cx="189.01" cy="687.19" r="2.35"/><circle cx="188.84" cy="685.23" r="2.35"/><circle cx="195.08" cy="678.73" r="2.35"/><circle cx="196.76" cy="668.88" r="2.35"/></g><path d="M42.6 701.79V704.01M42.6 712.89V717.05" stroke="#F8766D" stroke-width="1.0" fill="none"/><rect x="35.45" y="704.01" width="14.3" height="8.88" fill="#fff" fill-opacity="0.72" stroke="#F8766D" stroke-width="1.05"/><path d="M35.45 708.73H49.75" stroke="#FF3426" stroke-width="1.5"/><path d="M61.69 677.1V689.03M61.69 702.07V702.62" stroke="#D39200" stroke-width="1.0" fill="none"/><rect x="54.54" y="689.03" width="14.3" height="13.04" fill="#fff" fill-opacity="0.72" stroke="#D39200" stroke-width="1.05"/><path d="M54.54 700.68H68.84" stroke="#AD7800" stroke-width="1.5"/><path d="M80.78 667.12V674.05M80.78 696.24V709.56" stroke="#93AA00" stroke-width="1.0" fill="none"/><rect x="73.63" y="674.05" width="14.3" height="22.19" fill="#fff" fill-opacity="0.72" stroke="#93AA00" stroke-width="1.05"/><path d="M73.63 681.54H87.93" stroke="#798B00" stroke-width="1.5"/><path d="M99.87 662.4V667.95M99.87 700.96V705.12" stroke="#00BA38" stroke-width="1.0" fill="none"/><rect x="92.72" y="667.95" width="14.3" height="33.01" fill="#fff" fill-opacity="0.72" stroke="#00BA38" stroke-width="1.05"/><path d="M92.72 686.54H107.02" stroke="#00992E" stroke-width="1.5"/><path d="M118.96 661.57V672.11M118.96 706.79V719.27" stroke="#00C19F" stroke-width="1.0" fill="none"/><rect x="111.81" y="672.11" width="14.3" height="34.67" fill="#fff" fill-opacity="0.72" stroke="#00C19F" stroke-width="1.05"/><path d="M111.81 694.86H126.11" stroke="#009E82" stroke-width="1.5"/><path d="M138.05 653.25V667.12M138.05 703.18V719.27" stroke="#00B9E3" stroke-width="1.0" fill="none"/><rect x="130.9" y="667.12" width="14.3" height="36.06" fill="#fff" fill-opacity="0.72" stroke="#00B9E3" stroke-width="1.05"/><path d="M130.9 690.7H145.2" stroke="#0098BA" stroke-width="1.5"/><path d="M157.14 657.41V663.79M157.14 695.69V708.73" stroke="#619CFF" stroke-width="1.0" fill="none"/><rect x="149.99" y="663.79" width="14.3" height="31.9" fill="#fff" fill-opacity="0.72" stroke="#619CFF" stroke-width="1.05"/><path d="M149.99 672.67H164.29" stroke="#2274FF" stroke-width="1.5"/><path d="M176.23 664.34V687.37M176.23 711.5V715.66" stroke="#DB72FB" stroke-width="1.0" fill="none"/><rect x="169.08" y="687.37" width="14.3" height="24.13" fill="#fff" fill-opacity="0.72" stroke="#DB72FB" stroke-width="1.05"/><path d="M169.08 699.02H183.38" stroke="#CE2CFF" stroke-width="1.5"/><path d="M195.32 661.57V685.15M195.32 702.62V712.89" stroke="#FF61C3" stroke-width="1.0" fill="none"/><rect x="188.17" y="685.15" width="14.3" height="17.48" fill="#fff" fill-opacity="0.72" stroke="#FF61C3" stroke-width="1.05"/><path d="M188.17 690.7H202.47" stroke="#FF22AB" stroke-width="1.5"/><path d="M42.6 679.05L46.42 679.43L50.24 679.82L54.05 680.21L57.87 680.59L61.69 680.98L65.51 681.37L69.33 681.75L73.14 682.14L76.96 682.52L80.78 682.91L84.6 683.29L88.42 683.67L92.23 684.05L96.05 684.43L99.87 684.81L103.69 685.19L107.51 685.57L111.32 685.94L115.14 686.31L118.96 686.67L122.78 687.03L126.6 687.38L130.41 687.72L134.23 688.03L138.05 688.31L141.87 688.54L145.69 688.69L149.5 688.72L153.32 688.62L157.14 688.43L160.96 688.16L164.78 687.85L168.59 687.51L172.41 687.16L176.23 686.79L180.05 686.41L183.87 686.03L187.68 685.65L191.5 685.26L195.32 684.87L195.32 694.86L191.5 694.48L187.68 694.11L183.87 693.74L180.05 693.37L176.23 693.01L172.41 692.65L168.59 692.31L164.78 691.99L160.96 691.69L157.14 691.44L153.32 691.26L149.5 691.18L145.69 691.22L141.87 691.38L138.05 691.62L134.23 691.92L130.41 692.25L126.6 692.6L122.78 692.96L118.96 693.33L115.14 693.71L111.32 694.09L107.51 694.48L103.69 694.87L99.87 695.26L96.05 695.65L92.23 696.05L88.42 696.44L84.6 696.84L80.78 697.24L76.96 697.64L73.14 698.04L69.33 698.43L65.51 698.83L61.69 699.23L57.87 699.63L54.05 700.03L50.24 700.44L46.42 700.84L42.6 701.24Z" fill="#999999" fill-opacity="0.34"/><path d="M42.6 690.14L195.32 689.86" stroke="#000" stroke-width="1.85"/><rect x="27.55" y="649.8" width="182.8" height="90.4" fill="none" stroke="#333" stroke-width="0.9"/><rect x="210.35" y="649.8" width="14" height="90.4" fill="#D9D9D9" stroke="#333" stroke-width="0.9"/><text x="217.35" y="695" transform="rotate(90 217.35 695)" font-size="7.35" fill="#1A1A1A" text-anchor="middle" dy="0.36em">NAH</text><text x="23.35" y="655.9" dy="0.36em" text-anchor="end" font-size="7.15" fill="#2E2E2E" stroke="#2E2E2E" stroke-width="0.12">73</text><text x="23.35" y="669.38" dy="0.36em" text-anchor="end" font-size="7.15" fill="#2E2E2E" stroke="#2E2E2E" stroke-width="0.12">66</text><text x="23.35" y="682.85" dy="0.36em" text-anchor="end" font-size="7.15" fill="#2E2E2E" stroke="#2E2E2E" stroke-width="0.12">59</text><text x="23.35" y="696.32" dy="0.36em" text-anchor="end" font-size="7.15" fill="#2E2E2E" stroke="#2E2E2E" stroke-width="0.12">52</text><text x="23.35" y="709.8" dy="0.36em" text-anchor="end" font-size="7.15" fill="#2E2E2E" stroke="#2E2E2E" stroke-width="0.12">45</text><text x="23.35" y="723.27" dy="0.36em" text-anchor="end" font-size="7.15" fill="#2E2E2E" stroke="#2E2E2E" stroke-width="0.12">38</text><text x="23.35" y="736.75" dy="0.36em" text-anchor="end" font-size="7.15" fill="#2E2E2E" stroke="#2E2E2E" stroke-width="0.12">31</text><path d="M25.05 655.9H27.55M25.05 669.38H27.55M25.05 682.85H27.55M25.05 696.32H27.55M25.05 709.8H27.55M25.05 723.27H27.55M25.05 736.75H27.55" stroke="#333" stroke-width="1.1"/><text x="42.6" y="749.4" text-anchor="middle" font-size="7.15" fill="#2E2E2E" stroke="#2E2E2E" stroke-width="0.12">2014</text><text x="61.69" y="749.4" text-anchor="middle" font-size="7.15" fill="#2E2E2E" stroke="#2E2E2E" stroke-width="0.12">2015</text><text x="80.78" y="749.4" text-anchor="middle" font-size="7.15" fill="#2E2E2E" stroke="#2E2E2E" stroke-width="0.12">2016</text><text x="99.87" y="749.4" text-anchor="middle" font-size="7.15" fill="#2E2E2E" stroke="#2E2E2E" stroke-width="0.12">2017</text><text x="118.96" y="749.4" text-anchor="middle" font-size="7.15" fill="#2E2E2E" stroke="#2E2E2E" stroke-width="0.12">2018</text><text x="138.05" y="749.4" text-anchor="middle" font-size="7.15" fill="#2E2E2E" stroke="#2E2E2E" stroke-width="0.12">2019</text><text x="157.14" y="749.4" text-anchor="middle" font-size="7.15" fill="#2E2E2E" stroke="#2E2E2E" stroke-width="0.12">2020</text><text x="176.23" y="749.4" text-anchor="middle" font-size="7.15" fill="#2E2E2E" stroke="#2E2E2E" stroke-width="0.12">2021</text><text x="195.32" y="749.4" text-anchor="middle" font-size="7.15" fill="#2E2E2E" stroke="#2E2E2E" stroke-width="0.12">2022</text><path d="M42.6 740.2V742.7M61.69 740.2V742.7M80.78 740.2V742.7M99.87 740.2V742.7M118.96 740.2V742.7M138.05 740.2V742.7M157.14 740.2V742.7M176.23 740.2V742.7M195.32 740.2V742.7" stroke="#333" stroke-width="1.1"/><text x="118.95" y="760.1" text-anchor="middle" font-size="9.02" fill="#000" stroke="#000" stroke-width="0.1">Year</text><text x="11.25" y="647.25" transform="rotate(-90 11.25 647.25)" text-anchor="middle" font-size="9.02" fill="#000" stroke="#000" stroke-width="0.1">Score (%)</text><text x="256.6" y="523.6" font-size="10.82" fill="#000" xml:space="preserve"> Organizational learning - continuous</text><text x="256.6" y="535.05" font-size="10.82" fill="#000" xml:space="preserve">improvement</text><text x="256.6" y="548.2" font-size="9.02" fill="#000" xml:space="preserve">AH (P &lt; 0.001);  NAH (P = 0.14)</text><rect x="256.6" y="554.3" width="182.8" height="90.4" fill="#fff"/><path d="M256.6 562.03H439.4M256.6 574.37H439.4M256.6 586.7H439.4M256.6 599.03H439.4M256.6 611.37H439.4M256.6 623.7H439.4M256.6 636.03H439.4M262.11 554.3V644.7M281.2 554.3V644.7M300.29 554.3V644.7M319.38 554.3V644.7M338.47 554.3V644.7M357.56 554.3V644.7M376.65 554.3V644.7M395.74 554.3V644.7M414.83 554.3V644.7M433.92 554.3V644.7" stroke="#EEEEEE" stroke-width="0.5" fill="none"/><path d="M256.6 568.2H439.4M256.6 580.53H439.4M256.6 592.87H439.4M256.6 605.2H439.4M256.6 617.53H439.4M256.6 629.87H439.4M256.6 642.2H439.4M271.65 554.3V644.7M290.74 554.3V644.7M309.83 554.3V644.7M328.92 554.3V644.7M348.01 554.3V644.7M367.1 554.3V644.7M386.19 554.3V644.7M405.28 554.3V644.7M424.37 554.3V644.7" stroke="#E4E4E4" stroke-width="0.85" fill="none"/><g fill="#F8766D" fill-opacity="0.4" stroke="#F8766D" stroke-opacity="0.7" stroke-width="0.6"><circle cx="276.99" cy="640.21" r="2.35"/><circle cx="275.23" cy="590.83" r="2.35"/><circle cx="274.53" cy="629.41" r="2.35"/><circle cx="277.28" cy="617.45" r="2.35"/><circle cx="275.03" cy="614.27" r="2.35"/><circle cx="277.95" cy="606.57" r="2.35"/><circle cx="275.82" cy="604.44" r="2.35"/><circle cx="266.8" cy="599.98" r="2.35"/><circle cx="269.98" cy="597.12" r="2.35"/></g><g fill="#D39200" fill-opacity="0.4" stroke="#D39200" stroke-opacity="0.7" stroke-width="0.6"><circle cx="294.96" cy="629.67" r="2.35"/><circle cx="295.3" cy="571.97" r="2.35"/><circle cx="286.65" cy="623.46" r="2.35"/><circle cx="284.74" cy="608.44" r="2.35"/><circle cx="289.99" cy="599.64" r="2.35"/><circle cx="286.47" cy="596.31" r="2.35"/><circle cx="292.2" cy="593.45" r="2.35"/><circle cx="296.9" cy="588.89" r="2.35"/><circle cx="290.27" cy="585.07" r="2.35"/><circle cx="291.7" cy="584.68" r="2.35"/><circle cx="292.58" cy="581.48" r="2.35"/><circle cx="285.4" cy="578.93" r="2.35"/><circle cx="297.28" cy="575.77" r="2.35"/><circle cx="285.7" cy="626.9" r="2.35"/><circle cx="288.34" cy="628.28" r="2.35"/></g><g fill="#93AA00" fill-opacity="0.4" stroke="#93AA00" stroke-opacity="0.7" stroke-width="0.6"><circle cx="306.87" cy="611.64" r="2.35"/><circle cx="310.06" cy="568.64" r="2.35"/><circle cx="306.49" cy="609.16" r="2.35"/><circle cx="312.05" cy="605.68" r="2.35"/><circle cx="308.03" cy="603.95" r="2.35"/><circle cx="303.55" cy="600.41" r="2.35"/><circle cx="309.72" cy="598.21" r="2.35"/><circle cx="304.65" cy="596.65" r="2.35"/><circle cx="313.17" cy="594.96" r="2.35"/><circle cx="312.87" cy="591.02" r="2.35"/><circle cx="312.96" cy="590.19" r="2.35"/><circle cx="305.63" cy="587.71" r="2.35"/><circle cx="309.43" cy="586.04" r="2.35"/><circle cx="305.47" cy="582.89" r="2.35"/><circle cx="312.65" cy="581.89" r="2.35"/><circle cx="302.96" cy="580.36" r="2.35"/><circle cx="314.06" cy="578.63" r="2.35"/><circle cx="316.41" cy="576.59" r="2.35"/><circle cx="314.24" cy="572.56" r="2.35"/><circle cx="312.52" cy="571.57" r="2.35"/></g><g fill="#00BA38" fill-opacity="0.4" stroke="#00BA38" stroke-opacity="0.7" stroke-width="0.6"><circle cx="334.96" cy="604.7" r="2.35"/><circle cx="326.14" cy="570.03" r="2.35"/><circle cx="325.21" cy="602.86" r="2.35"/><circle cx="333.2" cy="600.48" r="2.35"/><circle cx="330.36" cy="597.69" r="2.35"/><circle cx="326.51" cy="595.68" r="2.35"/><circle cx="325.66" cy="594.19" r="2.35"/><circle cx="334.36" cy="592.86" r="2.35"/><circle cx="324.4" cy="592.37" r="2.35"/><circle cx="322.65" cy="591.37" r="2.35"/><circle cx="327.72" cy="590.07" r="2.35"/><circle cx="331.62" cy="588.31" r="2.35"/><circle cx="331.5" cy="587.61" r="2.35"/><circle cx="323.31" cy="586.37" r="2.35"/><circle cx="328.01" cy="585.79" r="2.35"/><circle cx="329.74" cy="585.03" r="2.35"/><circle cx="331.99" cy="584.5" r="2.35"/><circle cx="331.64" cy="583.7" r="2.35"/><circle cx="328.14" cy="583.4" r="2.35"/><circle cx="332.39" cy="582.62" r="2.35"/><circle cx="328.87" cy="581.91" r="2.35"/><circle cx="323.66" cy="579.58" r="2.35"/><circle cx="324.03" cy="578.3" r="2.35"/><circle cx="323.76" cy="575.5" r="2.35"/><circle cx="331.47" cy="572.84" r="2.35"/></g><g fill="#00C19F" fill-opacity="0.4" stroke="#00C19F" stroke-opacity="0.7" stroke-width="0.6"><circle cx="350.19" cy="608.87" r="2.35"/><circle cx="350.21" cy="573.64" r="2.35"/><circle cx="349.86" cy="608.82" r="2.35"/><circle cx="347.91" cy="605.77" r="2.35"/><circle cx="354.47" cy="601.95" r="2.35"/><circle cx="342.6" cy="600.42" r="2.35"/><circle cx="341.86" cy="599.41" r="2.35"/><circle cx="347.92" cy="598.66" r="2.35"/><circle cx="353.74" cy="597.52" r="2.35"/><circle cx="347.11" cy="595.85" r="2.35"/><circle cx="353.61" cy="593.76" r="2.35"/><circle cx="346.97" cy="591.26" r="2.35"/><circle cx="348.32" cy="588.52" r="2.35"/><circle cx="351.29" cy="588.03" r="2.35"/><circle cx="353.92" cy="585.12" r="2.35"/><circle cx="348.04" cy="584.5" r="2.35"/><circle cx="346.99" cy="583.24" r="2.35"/><circle cx="354.14" cy="581.54" r="2.35"/><circle cx="346.7" cy="579.94" r="2.35"/><circle cx="349.62" cy="579.35" r="2.35"/><circle cx="348.77" cy="577.68" r="2.35"/><circle cx="349.3" cy="577.21" r="2.35"/><circle cx="341.93" cy="576.91" r="2.35"/><circle cx="350.04" cy="576.47" r="2.35"/><circle cx="349.71" cy="575.86" r="2.35"/><circle cx="353.44" cy="574.74" r="2.35"/><circle cx="353" cy="573.94" r="2.35"/></g><g fill="#00B9E3" fill-opacity="0.4" stroke="#00B9E3" stroke-opacity="0.7" stroke-width="0.6"><circle cx="364.31" cy="610.25" r="2.35"/><circle cx="361.22" cy="570.03" r="2.35"/><circle cx="369" cy="607.75" r="2.35"/><circle cx="367.71" cy="604.47" r="2.35"/><circle cx="371.8" cy="600.63" r="2.35"/><circle cx="360.73" cy="599.25" r="2.35"/><circle cx="368.93" cy="597" r="2.35"/><circle cx="362.08" cy="593.28" r="2.35"/><circle cx="373.66" cy="592.16" r="2.35"/><circle cx="362.46" cy="591.2" r="2.35"/><circle cx="363.5" cy="590.28" r="2.35"/><circle cx="373.19" cy="589.01" r="2.35"/><circle cx="372.38" cy="587.34" r="2.35"/><circle cx="371.63" cy="586.3" r="2.35"/><circle cx="360.4" cy="584.41" r="2.35"/><circle cx="360.77" cy="583.67" r="2.35"/><circle cx="360.52" cy="582.75" r="2.35"/><circle cx="367.41" cy="582.13" r="2.35"/><circle cx="373.07" cy="581.82" r="2.35"/><circle cx="362.26" cy="581" r="2.35"/><circle cx="364.59" cy="580.91" r="2.35"/><circle cx="366.92" cy="580.1" r="2.35"/><circle cx="367.9" cy="579.96" r="2.35"/><circle cx="373.12" cy="579.46" r="2.35"/><circle cx="364.13" cy="579.02" r="2.35"/><circle cx="365.06" cy="578.29" r="2.35"/><circle cx="369.72" cy="577.47" r="2.35"/><circle cx="365.39" cy="575.91" r="2.35"/><circle cx="364.59" cy="574.99" r="2.35"/><circle cx="367.79" cy="573.44" r="2.35"/><circle cx="362.96" cy="571.7" r="2.35"/><circle cx="364.98" cy="613.58" r="2.35"/></g><g fill="#619CFF" fill-opacity="0.4" stroke="#619CFF" stroke-opacity="0.7" stroke-width="0.6"><circle cx="381.5" cy="606.09" r="2.35"/><circle cx="381.71" cy="564.48" r="2.35"/><circle cx="389.05" cy="603.1" r="2.35"/><circle cx="387.98" cy="602.77" r="2.35"/><circle cx="391.27" cy="599.69" r="2.35"/><circle cx="389.29" cy="596.23" r="2.35"/><circle cx="383.6" cy="594.82" r="2.35"/><circle cx="387.72" cy="592.64" r="2.35"/><circle cx="387.73" cy="591.16" r="2.35"/><circle cx="392.49" cy="590.86" r="2.35"/><circle cx="392.78" cy="589.36" r="2.35"/><circle cx="386.38" cy="587.66" r="2.35"/><circle cx="385.54" cy="585.26" r="2.35"/><circle cx="388.36" cy="583.83" r="2.35"/><circle cx="386.33" cy="581.6" r="2.35"/><circle cx="385.44" cy="581.04" r="2.35"/><circle cx="381.9" cy="579.19" r="2.35"/><circle cx="381.65" cy="578.77" r="2.35"/><circle cx="386.75" cy="577.67" r="2.35"/><circle cx="384.97" cy="577.23" r="2.35"/><circle cx="386.4" cy="576.65" r="2.35"/><circle cx="389.44" cy="576.31" r="2.35"/><circle cx="381.6" cy="575.32" r="2.35"/><circle cx="382.97" cy="574.73" r="2.35"/><circle cx="390.13" cy="574.62" r="2.35"/><circle cx="383.54" cy="573.89" r="2.35"/><circle cx="384.18" cy="571.85" r="2.35"/><circle cx="391.71" cy="570.87" r="2.35"/><circle cx="379.52" cy="568.86" r="2.35"/><circle cx="384.37" cy="566.66" r="2.35"/><circle cx="381.73" cy="564.95" r="2.35"/></g><g fill="#DB72FB" fill-opacity="0.4" stroke="#DB72FB" stroke-opacity="0.7" stroke-width="0.6"><circle cx="410.67" cy="604.7" r="2.35"/><circle cx="411.66" cy="563.1" r="2.35"/><circle cx="400.78" cy="602.34" r="2.35"/><circle cx="402.34" cy="600.18" r="2.35"/><circle cx="404.87" cy="598.12" r="2.35"/><circle cx="401.54" cy="596.91" r="2.35"/><circle cx="401.32" cy="594.94" r="2.35"/><circle cx="400.93" cy="593.22" r="2.35"/><circle cx="409.5" cy="591.62" r="2.35"/><circle cx="400.32" cy="590.4" r="2.35"/><circle cx="406.65" cy="589.58" r="2.35"/><circle cx="410.2" cy="589.08" r="2.35"/><circle cx="401.43" cy="588.59" r="2.35"/><circle cx="404.29" cy="586.86" r="2.35"/><circle cx="398.64" cy="586.12" r="2.35"/><circle cx="400.01" cy="584.97" r="2.35"/><circle cx="404.36" cy="583.67" r="2.35"/><circle cx="406.9" cy="582.45" r="2.35"/><circle cx="401.22" cy="581.66" r="2.35"/><circle cx="411.04" cy="580.66" r="2.35"/><circle cx="406.28" cy="579.4" r="2.35"/><circle cx="412.13" cy="579.38" r="2.35"/><circle cx="405.16" cy="578.21" r="2.35"/><circle cx="406.5" cy="577.95" r="2.35"/><circle cx="407.67" cy="576.94" r="2.35"/><circle cx="407.22" cy="576.46" r="2.35"/><circle cx="406.38" cy="575.69" r="2.35"/><circle cx="406.86" cy="574.68" r="2.35"/><circle cx="401.95" cy="574.34" r="2.35"/><circle cx="408.41" cy="573.34" r="2.35"/><circle cx="408.7" cy="573.06" r="2.35"/><circle cx="406.72" cy="572.21" r="2.35"/><circle cx="403.19" cy="571.57" r="2.35"/><circle cx="403.34" cy="570.59" r="2.35"/><circle cx="402.2" cy="569.52" r="2.35"/><circle cx="398.97" cy="567.77" r="2.35"/><circle cx="405.93" cy="567.65" r="2.35"/><circle cx="410.38" cy="566.07" r="2.35"/><circle cx="405.91" cy="564.37" r="2.35"/></g><g fill="#FF61C3" fill-opacity="0.4" stroke="#FF61C3" stroke-opacity="0.7" stroke-width="0.6"><circle cx="421.5" cy="610.25" r="2.35"/><circle cx="429.1" cy="558.93" r="2.35"/><circle cx="422.51" cy="607.76" r="2.35"/><circle cx="419.04" cy="606.29" r="2.35"/><circle cx="430.34" cy="605.19" r="2.35"/><circle cx="428.35" cy="601.6" r="2.35"/><circle cx="421.86" cy="600.7" r="2.35"/><circle cx="423.42" cy="597.97" r="2.35"/><circle cx="423.19" cy="594.95" r="2.35"/><circle cx="419.94" cy="593.51" r="2.35"/><circle cx="428.4" cy="592.7" r="2.35"/><circle cx="427.87" cy="591.56" r="2.35"/><circle cx="428.44" cy="590.47" r="2.35"/><circle cx="419.95" cy="589.39" r="2.35"/><circle cx="422.55" cy="588.69" r="2.35"/><circle cx="426.82" cy="587.66" r="2.35"/><circle cx="418.86" cy="587.31" r="2.35"/><circle cx="427.92" cy="586.22" r="2.35"/><circle cx="422.17" cy="585.47" r="2.35"/><circle cx="417.51" cy="584.72" r="2.35"/><circle cx="422.23" cy="584.48" r="2.35"/><circle cx="430.03" cy="583.46" r="2.35"/><circle cx="422.48" cy="582.81" r="2.35"/><circle cx="421.88" cy="582.47" r="2.35"/><circle cx="419.04" cy="581.32" r="2.35"/><circle cx="422.75" cy="580.72" r="2.35"/><circle cx="418.82" cy="580.37" r="2.35"/><circle cx="417.66" cy="579.58" r="2.35"/><circle cx="426.35" cy="579.25" r="2.35"/><circle cx="428.44" cy="578.8" r="2.35"/><circle cx="422.96" cy="578.52" r="2.35"/><circle cx="430.41" cy="578.16" r="2.35"/><circle cx="424.37" cy="577.85" r="2.35"/><circle cx="424.11" cy="577.23" r="2.35"/><circle cx="424.14" cy="576.99" r="2.35"/><circle cx="429.72" cy="576.61" r="2.35"/><circle cx="424.55" cy="576.1" r="2.35"/><circle cx="423.09" cy="575.69" r="2.35"/><circle cx="421.55" cy="575.43" r="2.35"/><circle cx="424.4" cy="574.91" r="2.35"/><circle cx="425.7" cy="574.83" r="2.35"/><circle cx="423.56" cy="574.19" r="2.35"/><circle cx="429.88" cy="572.85" r="2.35"/><circle cx="417.91" cy="572.21" r="2.35"/><circle cx="423.57" cy="571.37" r="2.35"/><circle cx="418.72" cy="569.28" r="2.35"/><circle cx="422.53" cy="568.88" r="2.35"/><circle cx="429.18" cy="566.2" r="2.35"/><circle cx="430.85" cy="565.48" r="2.35"/><circle cx="422.1" cy="563.06" r="2.35"/><circle cx="426.16" cy="561.95" r="2.35"/><circle cx="420.62" cy="559.82" r="2.35"/></g><path d="M271.65 590.83V599.99M271.65 618.57V640.21" stroke="#F8766D" stroke-width="1.0" fill="none"/><rect x="264.5" y="599.99" width="14.3" height="18.59" fill="#fff" fill-opacity="0.72" stroke="#F8766D" stroke-width="1.05"/><path d="M264.5 606.92H278.8" stroke="#FF3426" stroke-width="1.5"/><path d="M290.74 571.97V581.13M290.74 599.71V629.67" stroke="#D39200" stroke-width="1.0" fill="none"/><rect x="283.59" y="581.13" width="14.3" height="18.59" fill="#fff" fill-opacity="0.72" stroke="#D39200" stroke-width="1.05"/><path d="M283.59 589.45H297.89" stroke="#AD7800" stroke-width="1.5"/><path d="M309.83 568.64V580.29M309.83 598.6V611.64" stroke="#93AA00" stroke-width="1.0" fill="none"/><rect x="302.68" y="580.29" width="14.3" height="18.31" fill="#fff" fill-opacity="0.72" stroke="#93AA00" stroke-width="1.05"/><path d="M302.68 588.06H316.98" stroke="#798B00" stroke-width="1.5"/><path d="M328.92 570.03V582.51M328.92 592.78V604.7" stroke="#00BA38" stroke-width="1.0" fill="none"/><rect x="321.77" y="582.51" width="14.3" height="10.26" fill="#fff" fill-opacity="0.72" stroke="#00BA38" stroke-width="1.05"/><path d="M321.77 586.67H336.07" stroke="#00992E" stroke-width="1.5"/><path d="M348.01 573.64V577.52M348.01 597.77V608.87" stroke="#00C19F" stroke-width="1.0" fill="none"/><rect x="340.86" y="577.52" width="14.3" height="20.25" fill="#fff" fill-opacity="0.72" stroke="#00C19F" stroke-width="1.05"/><path d="M340.86 585.29H355.16" stroke="#009E82" stroke-width="1.5"/><path d="M367.1 570.03V579.18M367.1 591.39V610.25" stroke="#00B9E3" stroke-width="1.0" fill="none"/><rect x="359.95" y="579.18" width="14.3" height="12.21" fill="#fff" fill-opacity="0.72" stroke="#00B9E3" stroke-width="1.05"/><path d="M359.95 582.51H374.25" stroke="#0098BA" stroke-width="1.5"/><path d="M386.19 564.48V574.75M386.19 590.83V606.09" stroke="#619CFF" stroke-width="1.0" fill="none"/><rect x="379.04" y="574.75" width="14.3" height="16.09" fill="#fff" fill-opacity="0.72" stroke="#619CFF" stroke-width="1.05"/><path d="M379.04 579.18H393.34" stroke="#2274FF" stroke-width="1.5"/><path d="M405.28 563.1V573.36M405.28 589.45V604.7" stroke="#DB72FB" stroke-width="1.0" fill="none"/><rect x="398.13" y="573.36" width="14.3" height="16.09" fill="#fff" fill-opacity="0.72" stroke="#DB72FB" stroke-width="1.05"/><path d="M398.13 579.74H412.43" stroke="#CE2CFF" stroke-width="1.5"/><path d="M424.37 558.93V575.02M424.37 588.62V610.25" stroke="#FF61C3" stroke-width="1.0" fill="none"/><rect x="417.22" y="575.02" width="14.3" height="13.59" fill="#fff" fill-opacity="0.72" stroke="#FF61C3" stroke-width="1.05"/><path d="M417.22 579.74H431.52" stroke="#FF22AB" stroke-width="1.5"/><path d="M271.65 593.61L275.47 593.3L279.29 592.98L283.1 592.67L286.92 592.36L290.74 592.04L294.56 591.73L298.38 591.41L302.19 591.09L306.01 590.78L309.83 590.46L313.65 590.13L317.47 589.81L321.28 589.48L325.1 589.16L328.92 588.83L332.74 588.49L336.56 588.15L340.37 587.8L344.19 587.45L348.01 587.09L351.83 586.72L355.65 586.34L359.46 585.94L363.28 585.54L367.1 585.11L370.92 584.68L374.74 584.23L378.55 583.77L382.37 583.3L386.19 582.82L390.01 582.34L393.83 581.85L397.64 581.35L401.46 580.85L405.28 580.35L409.1 579.84L412.92 579.33L416.73 578.82L420.55 578.31L424.37 577.8L424.37 581.68L420.55 582L416.73 582.32L412.92 582.64L409.1 582.97L405.28 583.29L401.46 583.62L397.64 583.95L393.83 584.29L390.01 584.63L386.19 584.98L382.37 585.33L378.55 585.69L374.74 586.07L370.92 586.45L367.1 586.85L363.28 587.26L359.46 587.68L355.65 588.12L351.83 588.57L348.01 589.03L344.19 589.5L340.37 589.98L336.56 590.47L332.74 590.96L328.92 591.46L325.1 591.96L321.28 592.46L317.47 592.97L313.65 593.48L309.83 593.99L306.01 594.5L302.19 595.01L298.38 595.53L294.56 596.05L290.74 596.56L286.92 597.08L283.1 597.6L279.29 598.12L275.47 598.64L271.65 599.16Z" fill="#999999" fill-opacity="0.34"/><path d="M271.65 596.38L424.37 579.74" stroke="#000" stroke-width="1.85"/><rect x="256.6" y="554.3" width="182.8" height="90.4" fill="none" stroke="#333" stroke-width="0.9"/><rect x="439.4" y="554.3" width="13.85" height="90.4" fill="#D9D9D9" stroke="#333" stroke-width="0.9"/><text x="446.33" y="599.5" transform="rotate(90 446.33 599.5)" font-size="7.35" fill="#1A1A1A" text-anchor="middle" dy="0.36em">AH</text><text x="252.4" y="568.2" dy="0.36em" text-anchor="end" font-size="7.15" fill="#2E2E2E" stroke="#2E2E2E" stroke-width="0.12">88</text><text x="252.4" y="580.53" dy="0.36em" text-anchor="end" font-size="7.15" fill="#2E2E2E" stroke="#2E2E2E" stroke-width="0.12">83</text><text x="252.4" y="592.87" dy="0.36em" text-anchor="end" font-size="7.15" fill="#2E2E2E" stroke="#2E2E2E" stroke-width="0.12">78</text><text x="252.4" y="605.2" dy="0.36em" text-anchor="end" font-size="7.15" fill="#2E2E2E" stroke="#2E2E2E" stroke-width="0.12">73</text><text x="252.4" y="617.53" dy="0.36em" text-anchor="end" font-size="7.15" fill="#2E2E2E" stroke="#2E2E2E" stroke-width="0.12">68</text><text x="252.4" y="629.87" dy="0.36em" text-anchor="end" font-size="7.15" fill="#2E2E2E" stroke="#2E2E2E" stroke-width="0.12">63</text><text x="252.4" y="642.2" dy="0.36em" text-anchor="end" font-size="7.15" fill="#2E2E2E" stroke="#2E2E2E" stroke-width="0.12">58</text><path d="M254.1 568.2H256.6M254.1 580.53H256.6M254.1 592.87H256.6M254.1 605.2H256.6M254.1 617.53H256.6M254.1 629.87H256.6M254.1 642.2H256.6" stroke="#333" stroke-width="1.1"/><rect x="256.6" y="649.8" width="182.8" height="90.4" fill="#fff"/><path d="M256.6 657.53H439.4M256.6 669.87H439.4M256.6 682.2H439.4M256.6 694.53H439.4M256.6 706.87H439.4M256.6 719.2H439.4M256.6 731.53H439.4M262.11 649.8V740.2M281.2 649.8V740.2M300.29 649.8V740.2M319.38 649.8V740.2M338.47 649.8V740.2M357.56 649.8V740.2M376.65 649.8V740.2M395.74 649.8V740.2M414.83 649.8V740.2M433.92 649.8V740.2" stroke="#EEEEEE" stroke-width="0.5" fill="none"/><path d="M256.6 663.7H439.4M256.6 676.03H439.4M256.6 688.37H439.4M256.6 700.7H439.4M256.6 713.03H439.4M256.6 725.37H439.4M256.6 737.7H439.4M271.65 649.8V740.2M290.74 649.8V740.2M309.83 649.8V740.2M328.92 649.8V740.2M348.01 649.8V740.2M367.1 649.8V740.2M386.19 649.8V740.2M405.28 649.8V740.2M424.37 649.8V740.2" stroke="#E4E4E4" stroke-width="0.85" fill="none"/><g fill="#F8766D" fill-opacity="0.4" stroke="#F8766D" stroke-opacity="0.7" stroke-width="0.6"><circle cx="265.13" cy="703.18" r="2.35"/><circle cx="273.12" cy="699.57" r="2.35"/><circle cx="272.65" cy="702.9" r="2.35"/></g><g fill="#D39200" fill-opacity="0.4" stroke="#D39200" stroke-opacity="0.7" stroke-width="0.6"><circle cx="286.56" cy="707.34" r="2.35"/><circle cx="284.84" cy="677.38" r="2.35"/><circle cx="294.1" cy="692.6" r="2.35"/><circle cx="287.15" cy="680.62" r="2.35"/></g><g fill="#93AA00" fill-opacity="0.4" stroke="#93AA00" stroke-opacity="0.7" stroke-width="0.6"><circle cx="305.36" cy="694.3" r="2.35"/><circle cx="307.87" cy="660.18" r="2.35"/><circle cx="315.19" cy="686.83" r="2.35"/><circle cx="304.53" cy="678.97" r="2.35"/><circle cx="309.91" cy="663.72" r="2.35"/></g><g fill="#00BA38" fill-opacity="0.4" stroke="#00BA38" stroke-opacity="0.7" stroke-width="0.6"><circle cx="328.27" cy="699.02" r="2.35"/><circle cx="326.96" cy="661.02" r="2.35"/><circle cx="324.55" cy="695.81" r="2.35"/><circle cx="332.24" cy="685.52" r="2.35"/><circle cx="328.07" cy="683.12" r="2.35"/><circle cx="332.03" cy="675.3" r="2.35"/><circle cx="334.1" cy="672.26" r="2.35"/></g><g fill="#00C19F" fill-opacity="0.4" stroke="#00C19F" stroke-opacity="0.7" stroke-width="0.6"><circle cx="343.49" cy="704.57" r="2.35"/><circle cx="344.93" cy="668.5" r="2.35"/><circle cx="348.79" cy="703.82" r="2.35"/><circle cx="342.46" cy="696.34" r="2.35"/><circle cx="354.08" cy="692.08" r="2.35"/><circle cx="347.56" cy="690.06" r="2.35"/><circle cx="344.63" cy="687.58" r="2.35"/><circle cx="341.43" cy="682.37" r="2.35"/><circle cx="349.2" cy="677.64" r="2.35"/></g><g fill="#00B9E3" fill-opacity="0.4" stroke="#00B9E3" stroke-opacity="0.7" stroke-width="0.6"><circle cx="362.66" cy="703.18" r="2.35"/><circle cx="371.6" cy="662.4" r="2.35"/><circle cx="369.05" cy="695.31" r="2.35"/><circle cx="369.51" cy="689.67" r="2.35"/><circle cx="366.79" cy="686.28" r="2.35"/><circle cx="365.74" cy="682.12" r="2.35"/><circle cx="370.91" cy="679.49" r="2.35"/><circle cx="370.18" cy="672.42" r="2.35"/><circle cx="367.33" cy="662.5" r="2.35"/></g><g fill="#619CFF" fill-opacity="0.4" stroke="#619CFF" stroke-opacity="0.7" stroke-width="0.6"><circle cx="391.21" cy="687.92" r="2.35"/><circle cx="381.39" cy="661.02" r="2.35"/><circle cx="386.83" cy="687.92" r="2.35"/><circle cx="384.21" cy="686.27" r="2.35"/><circle cx="379.71" cy="684.47" r="2.35"/><circle cx="380.65" cy="679.53" r="2.35"/><circle cx="387.15" cy="673.12" r="2.35"/><circle cx="391.24" cy="671.55" r="2.35"/><circle cx="379.73" cy="667.15" r="2.35"/><circle cx="381.98" cy="665.54" r="2.35"/><circle cx="390.54" cy="710.67" r="2.35"/></g><g fill="#DB72FB" fill-opacity="0.4" stroke="#DB72FB" stroke-opacity="0.7" stroke-width="0.6"><circle cx="398.97" cy="713.44" r="2.35"/><circle cx="405.79" cy="656.85" r="2.35"/><circle cx="399.56" cy="704.87" r="2.35"/><circle cx="402.94" cy="695.23" r="2.35"/><circle cx="408.82" cy="692.38" r="2.35"/><circle cx="404.17" cy="690.23" r="2.35"/><circle cx="407.71" cy="684.28" r="2.35"/><circle cx="401.97" cy="680.24" r="2.35"/><circle cx="411.59" cy="668.63" r="2.35"/><circle cx="399.45" cy="667.37" r="2.35"/></g><g fill="#FF61C3" fill-opacity="0.4" stroke="#FF61C3" stroke-opacity="0.7" stroke-width="0.6"><circle cx="426.57" cy="699.02" r="2.35"/><circle cx="420.08" cy="665.73" r="2.35"/><circle cx="418.53" cy="696.42" r="2.35"/><circle cx="426.99" cy="694.31" r="2.35"/><circle cx="423.18" cy="691.58" r="2.35"/><circle cx="422.41" cy="687.89" r="2.35"/><circle cx="430.13" cy="684.69" r="2.35"/><circle cx="429.31" cy="677.26" r="2.35"/><circle cx="420.26" cy="675.08" r="2.35"/><circle cx="427.8" cy="672.38" r="2.35"/><circle cx="417.78" cy="672.04" r="2.35"/><circle cx="421.48" cy="667" r="2.35"/></g><path d="M271.65 699.57V700.4M271.65 702.07V703.18" stroke="#F8766D" stroke-width="1.0" fill="none"/><rect x="264.5" y="700.4" width="14.3" height="1.66" fill="#fff" fill-opacity="0.72" stroke="#F8766D" stroke-width="1.05"/><path d="M264.5 701.24H278.8" stroke="#FF3426" stroke-width="1.5"/><path d="M290.74 677.38V682.37M290.74 697.08V707.34" stroke="#D39200" stroke-width="1.0" fill="none"/><rect x="283.59" y="682.37" width="14.3" height="14.7" fill="#fff" fill-opacity="0.72" stroke="#D39200" stroke-width="1.05"/><path d="M283.59 690.14H297.89" stroke="#AD7800" stroke-width="1.5"/><path d="M309.83 660.18V670.72M309.83 687.37V694.3" stroke="#93AA00" stroke-width="1.0" fill="none"/><rect x="302.68" y="670.72" width="14.3" height="16.64" fill="#fff" fill-opacity="0.72" stroke="#93AA00" stroke-width="1.05"/><path d="M302.68 679.6H316.98" stroke="#798B00" stroke-width="1.5"/><path d="M328.92 661.02V674.88M328.92 692.08V699.02" stroke="#00BA38" stroke-width="1.0" fill="none"/><rect x="321.77" y="674.88" width="14.3" height="17.2" fill="#fff" fill-opacity="0.72" stroke="#00BA38" stroke-width="1.05"/><path d="M321.77 680.16H336.07" stroke="#00992E" stroke-width="1.5"/><path d="M348.01 668.5V682.37M348.01 697.08V704.57" stroke="#00C19F" stroke-width="1.0" fill="none"/><rect x="340.86" y="682.37" width="14.3" height="14.7" fill="#fff" fill-opacity="0.72" stroke="#00C19F" stroke-width="1.05"/><path d="M340.86 689.86H355.16" stroke="#009E82" stroke-width="1.5"/><path d="M367.1 662.4V672.67M367.1 690.14V703.18" stroke="#00B9E3" stroke-width="1.0" fill="none"/><rect x="359.95" y="672.67" width="14.3" height="17.48" fill="#fff" fill-opacity="0.72" stroke="#00B9E3" stroke-width="1.05"/><path d="M359.95 682.37H374.25" stroke="#0098BA" stroke-width="1.5"/><path d="M386.19 661.02V670.45M386.19 685.98V687.92" stroke="#619CFF" stroke-width="1.0" fill="none"/><rect x="379.04" y="670.45" width="14.3" height="15.53" fill="#fff" fill-opacity="0.72" stroke="#619CFF" stroke-width="1.05"/><path d="M379.04 674.05H393.34" stroke="#2274FF" stroke-width="1.5"/><path d="M405.28 656.85V673.22M405.28 694.02V713.44" stroke="#DB72FB" stroke-width="1.0" fill="none"/><rect x="398.13" y="673.22" width="14.3" height="20.8" fill="#fff" fill-opacity="0.72" stroke="#DB72FB" stroke-width="1.05"/><path d="M398.13 687.92H412.43" stroke="#CE2CFF" stroke-width="1.5"/><path d="M424.37 665.73V672.67M424.37 691.53V699.02" stroke="#FF61C3" stroke-width="1.0" fill="none"/><rect x="417.22" y="672.67" width="14.3" height="18.86" fill="#fff" fill-opacity="0.72" stroke="#FF61C3" stroke-width="1.05"/><path d="M417.22 680.16H431.52" stroke="#FF22AB" stroke-width="1.5"/><path d="M271.65 680.71L275.47 680.78L279.29 680.84L283.1 680.91L286.92 680.97L290.74 681.04L294.56 681.1L298.38 681.16L302.19 681.23L306.01 681.29L309.83 681.35L313.65 681.41L317.47 681.47L321.28 681.52L325.1 681.58L328.92 681.63L332.74 681.67L336.56 681.72L340.37 681.76L344.19 681.79L348.01 681.82L351.83 681.84L355.65 681.84L359.46 681.83L363.28 681.79L367.1 681.73L370.92 681.63L374.74 681.48L378.55 681.28L382.37 681.02L386.19 680.71L390.01 680.36L393.83 679.97L397.64 679.55L401.46 679.11L405.28 678.66L409.1 678.2L412.92 677.73L416.73 677.25L420.55 676.76L424.37 676.27L424.37 684.04L420.55 683.99L416.73 683.95L412.92 683.92L409.1 683.89L405.28 683.87L401.46 683.86L397.64 683.87L393.83 683.89L390.01 683.95L386.19 684.04L382.37 684.17L378.55 684.36L374.74 684.6L370.92 684.9L367.1 685.24L363.28 685.62L359.46 686.03L355.65 686.46L351.83 686.91L348.01 687.37L344.19 687.84L340.37 688.32L336.56 688.8L332.74 689.29L328.92 689.78L325.1 690.28L321.28 690.77L317.47 691.27L313.65 691.77L309.83 692.28L306.01 692.78L302.19 693.29L298.38 693.79L294.56 694.3L290.74 694.81L286.92 695.32L283.1 695.82L279.29 696.33L275.47 696.84L271.65 697.35Z" fill="#999999" fill-opacity="0.34"/><path d="M271.65 689.03L424.37 680.16" stroke="#000" stroke-width="1.85"/><rect x="256.6" y="649.8" width="182.8" height="90.4" fill="none" stroke="#333" stroke-width="0.9"/><rect x="439.4" y="649.8" width="13.85" height="90.4" fill="#D9D9D9" stroke="#333" stroke-width="0.9"/><text x="446.33" y="695" transform="rotate(90 446.33 695)" font-size="7.35" fill="#1A1A1A" text-anchor="middle" dy="0.36em">NAH</text><text x="252.4" y="663.7" dy="0.36em" text-anchor="end" font-size="7.15" fill="#2E2E2E" stroke="#2E2E2E" stroke-width="0.12">88</text><text x="252.4" y="676.03" dy="0.36em" text-anchor="end" font-size="7.15" fill="#2E2E2E" stroke="#2E2E2E" stroke-width="0.12">83</text><text x="252.4" y="688.37" dy="0.36em" text-anchor="end" font-size="7.15" fill="#2E2E2E" stroke="#2E2E2E" stroke-width="0.12">78</text><text x="252.4" y="700.7" dy="0.36em" text-anchor="end" font-size="7.15" fill="#2E2E2E" stroke="#2E2E2E" stroke-width="0.12">73</text><text x="252.4" y="713.03" dy="0.36em" text-anchor="end" font-size="7.15" fill="#2E2E2E" stroke="#2E2E2E" stroke-width="0.12">68</text><text x="252.4" y="725.37" dy="0.36em" text-anchor="end" font-size="7.15" fill="#2E2E2E" stroke="#2E2E2E" stroke-width="0.12">63</text><text x="252.4" y="737.7" dy="0.36em" text-anchor="end" font-size="7.15" fill="#2E2E2E" stroke="#2E2E2E" stroke-width="0.12">58</text><path d="M254.1 663.7H256.6M254.1 676.03H256.6M254.1 688.37H256.6M254.1 700.7H256.6M254.1 713.03H256.6M254.1 725.37H256.6M254.1 737.7H256.6" stroke="#333" stroke-width="1.1"/><text x="271.65" y="749.4" text-anchor="middle" font-size="7.15" fill="#2E2E2E" stroke="#2E2E2E" stroke-width="0.12">2014</text><text x="290.74" y="749.4" text-anchor="middle" font-size="7.15" fill="#2E2E2E" stroke="#2E2E2E" stroke-width="0.12">2015</text><text x="309.83" y="749.4" text-anchor="middle" font-size="7.15" fill="#2E2E2E" stroke="#2E2E2E" stroke-width="0.12">2016</text><text x="328.92" y="749.4" text-anchor="middle" font-size="7.15" fill="#2E2E2E" stroke="#2E2E2E" stroke-width="0.12">2017</text><text x="348.01" y="749.4" text-anchor="middle" font-size="7.15" fill="#2E2E2E" stroke="#2E2E2E" stroke-width="0.12">2018</text><text x="367.1" y="749.4" text-anchor="middle" font-size="7.15" fill="#2E2E2E" stroke="#2E2E2E" stroke-width="0.12">2019</text><text x="386.19" y="749.4" text-anchor="middle" font-size="7.15" fill="#2E2E2E" stroke="#2E2E2E" stroke-width="0.12">2020</text><text x="405.28" y="749.4" text-anchor="middle" font-size="7.15" fill="#2E2E2E" stroke="#2E2E2E" stroke-width="0.12">2021</text><text x="424.37" y="749.4" text-anchor="middle" font-size="7.15" fill="#2E2E2E" stroke="#2E2E2E" stroke-width="0.12">2022</text><path d="M271.65 740.2V742.7M290.74 740.2V742.7M309.83 740.2V742.7M328.92 740.2V742.7M348.01 740.2V742.7M367.1 740.2V742.7M386.19 740.2V742.7M405.28 740.2V742.7M424.37 740.2V742.7" stroke="#333" stroke-width="1.1"/><text x="348" y="760.1" text-anchor="middle" font-size="9.02" fill="#000" stroke="#000" stroke-width="0.1">Year</text><text x="240.3" y="647.25" transform="rotate(-90 240.3 647.25)" text-anchor="middle" font-size="9.02" fill="#000" stroke="#000" stroke-width="0.1">Score (%)</text><text x="485.45" y="523.6" font-size="10.82" fill="#000" xml:space="preserve"> Expectations for promoting safety by</text><text x="485.45" y="535.05" font-size="10.82" fill="#000" xml:space="preserve">supervisors and managers</text><text x="485.45" y="548.2" font-size="9.02" fill="#000" xml:space="preserve">AH (P &lt; 0.001);  NAH (P = 0.35)</text><rect x="485.45" y="554.3" width="182.8" height="90.4" fill="#fff"/><path d="M485.45 554.78H668.25M485.45 568.42H668.25M485.45 582.05H668.25M485.45 595.68H668.25M485.45 609.32H668.25M485.45 622.95H668.25M485.45 636.58H668.25M490.96 554.3V644.7M510.05 554.3V644.7M529.13 554.3V644.7M548.22 554.3V644.7M567.31 554.3V644.7M586.4 554.3V644.7M605.5 554.3V644.7M624.58 554.3V644.7M643.67 554.3V644.7M662.76 554.3V644.7" stroke="#EEEEEE" stroke-width="0.5" fill="none"/><path d="M485.45 561.6H668.25M485.45 575.23H668.25M485.45 588.87H668.25M485.45 602.5H668.25M485.45 616.13H668.25M485.45 629.77H668.25M485.45 643.4H668.25M500.5 554.3V644.7M519.59 554.3V644.7M538.68 554.3V644.7M557.77 554.3V644.7M576.86 554.3V644.7M595.95 554.3V644.7M615.04 554.3V644.7M634.13 554.3V644.7M653.22 554.3V644.7" stroke="#E4E4E4" stroke-width="0.85" fill="none"/><g fill="#F8766D" fill-opacity="0.4" stroke="#F8766D" stroke-opacity="0.7" stroke-width="0.6"><circle cx="496.9" cy="640.21" r="2.35"/><circle cx="502.26" cy="586.67" r="2.35"/><circle cx="501.74" cy="640.17" r="2.35"/><circle cx="506.19" cy="629.22" r="2.35"/><circle cx="496.16" cy="625.2" r="2.35"/><circle cx="495.23" cy="613.58" r="2.35"/><circle cx="503.81" cy="608.23" r="2.35"/><circle cx="498.59" cy="602.09" r="2.35"/><circle cx="504.43" cy="589.78" r="2.35"/></g><g fill="#D39200" fill-opacity="0.4" stroke="#D39200" stroke-opacity="0.7" stroke-width="0.6"><circle cx="522.25" cy="636.6" r="2.35"/><circle cx="515.8" cy="575.58" r="2.35"/><circle cx="522.11" cy="633.53" r="2.35"/><circle cx="517.85" cy="626.29" r="2.35"/><circle cx="525.74" cy="616.04" r="2.35"/><circle cx="524.31" cy="610.07" r="2.35"/><circle cx="514.26" cy="601.45" r="2.35"/><circle cx="520.31" cy="596.28" r="2.35"/><circle cx="514.99" cy="595.69" r="2.35"/><circle cx="524.67" cy="593.03" r="2.35"/><circle cx="525.99" cy="589.49" r="2.35"/><circle cx="522.81" cy="586.33" r="2.35"/><circle cx="523.26" cy="577.17" r="2.35"/></g><g fill="#93AA00" fill-opacity="0.4" stroke="#93AA00" stroke-opacity="0.7" stroke-width="0.6"><circle cx="533.52" cy="631.06" r="2.35"/><circle cx="542.97" cy="575.58" r="2.35"/><circle cx="542.72" cy="629.84" r="2.35"/><circle cx="541.45" cy="622.33" r="2.35"/><circle cx="542.78" cy="614.28" r="2.35"/><circle cx="539.78" cy="612.9" r="2.35"/><circle cx="543.18" cy="609.25" r="2.35"/><circle cx="539.88" cy="607.09" r="2.35"/><circle cx="543.81" cy="602.68" r="2.35"/><circle cx="544.75" cy="599.18" r="2.35"/><circle cx="532.51" cy="596.32" r="2.35"/><circle cx="540.3" cy="594.53" r="2.35"/><circle cx="545.25" cy="593.9" r="2.35"/><circle cx="536.85" cy="592.8" r="2.35"/><circle cx="532.11" cy="590.49" r="2.35"/><circle cx="537.22" cy="589.11" r="2.35"/><circle cx="539.86" cy="588.16" r="2.35"/><circle cx="535.33" cy="585.72" r="2.35"/><circle cx="544.24" cy="581.33" r="2.35"/><circle cx="531.91" cy="575.77" r="2.35"/></g><g fill="#00BA38" fill-opacity="0.4" stroke="#00BA38" stroke-opacity="0.7" stroke-width="0.6"><circle cx="551.19" cy="627.45" r="2.35"/><circle cx="562.38" cy="572.8" r="2.35"/><circle cx="550.94" cy="625.99" r="2.35"/><circle cx="560.31" cy="619.16" r="2.35"/><circle cx="554.83" cy="617.41" r="2.35"/><circle cx="555.1" cy="614.02" r="2.35"/><circle cx="551.58" cy="610.72" r="2.35"/><circle cx="558.7" cy="608.89" r="2.35"/><circle cx="553.62" cy="606.03" r="2.35"/><circle cx="552.88" cy="603.42" r="2.35"/><circle cx="558.25" cy="602.57" r="2.35"/><circle cx="556.12" cy="598.8" r="2.35"/><circle cx="555.31" cy="596.49" r="2.35"/><circle cx="554.33" cy="595.23" r="2.35"/><circle cx="556.85" cy="594.13" r="2.35"/><circle cx="561.12" cy="592.7" r="2.35"/><circle cx="564.18" cy="592.32" r="2.35"/><circle cx="557.93" cy="590.96" r="2.35"/><circle cx="555.38" cy="589.74" r="2.35"/><circle cx="553.45" cy="589.23" r="2.35"/><circle cx="561.05" cy="588.24" r="2.35"/><circle cx="553.64" cy="585.25" r="2.35"/><circle cx="553.13" cy="582.14" r="2.35"/><circle cx="559" cy="578.94" r="2.35"/><circle cx="557.67" cy="576.12" r="2.35"/></g><g fill="#00C19F" fill-opacity="0.4" stroke="#00C19F" stroke-opacity="0.7" stroke-width="0.6"><circle cx="572.93" cy="633.83" r="2.35"/><circle cx="575.66" cy="571.42" r="2.35"/><circle cx="571.69" cy="633.46" r="2.35"/><circle cx="570.09" cy="627.57" r="2.35"/><circle cx="577.31" cy="621.86" r="2.35"/><circle cx="575.57" cy="615.61" r="2.35"/><circle cx="574.79" cy="609.59" r="2.35"/><circle cx="581.44" cy="607.16" r="2.35"/><circle cx="580.68" cy="606.58" r="2.35"/><circle cx="581.74" cy="604.25" r="2.35"/><circle cx="579.23" cy="603.55" r="2.35"/><circle cx="582.72" cy="601.91" r="2.35"/><circle cx="581.53" cy="600.26" r="2.35"/><circle cx="575.65" cy="599.74" r="2.35"/><circle cx="579.98" cy="598.22" r="2.35"/><circle cx="572.81" cy="595.97" r="2.35"/><circle cx="571.01" cy="595.43" r="2.35"/><circle cx="570.01" cy="593.45" r="2.35"/><circle cx="576.02" cy="592.51" r="2.35"/><circle cx="573.66" cy="591.35" r="2.35"/><circle cx="575.08" cy="589.35" r="2.35"/><circle cx="579.64" cy="588.47" r="2.35"/><circle cx="570.45" cy="587.68" r="2.35"/><circle cx="579.37" cy="584.79" r="2.35"/><circle cx="575.29" cy="581.94" r="2.35"/><circle cx="570.52" cy="575.79" r="2.35"/><circle cx="576.76" cy="572.96" r="2.35"/></g><g fill="#00B9E3" fill-opacity="0.4" stroke="#00B9E3" stroke-opacity="0.7" stroke-width="0.6"><circle cx="589.52" cy="629.67" r="2.35"/><circle cx="593.99" cy="575.58" r="2.35"/><circle cx="601.35" cy="625.77" r="2.35"/><circle cx="597.83" cy="623.75" r="2.35"/><circle cx="594.91" cy="616.65" r="2.35"/><circle cx="589.85" cy="611.97" r="2.35"/><circle cx="599.37" cy="610.83" r="2.35"/><circle cx="596.8" cy="605.9" r="2.35"/><circle cx="591.29" cy="605.19" r="2.35"/><circle cx="598.09" cy="603.7" r="2.35"/><circle cx="599.89" cy="601.85" r="2.35"/><circle cx="591.85" cy="601.15" r="2.35"/><circle cx="601.99" cy="599.38" r="2.35"/><circle cx="596.83" cy="597.64" r="2.35"/><circle cx="602.75" cy="596.71" r="2.35"/><circle cx="592.5" cy="595.62" r="2.35"/><circle cx="597.78" cy="593.38" r="2.35"/><circle cx="596.27" cy="592.54" r="2.35"/><circle cx="591.29" cy="592.1" r="2.35"/><circle cx="590.84" cy="591.09" r="2.35"/><circle cx="590.29" cy="590.34" r="2.35"/><circle cx="601.29" cy="589.18" r="2.35"/><circle cx="602.33" cy="588.02" r="2.35"/><circle cx="589.62" cy="587.3" r="2.35"/><circle cx="595.16" cy="586.61" r="2.35"/><circle cx="597.28" cy="585.68" r="2.35"/><circle cx="596.77" cy="584.66" r="2.35"/><circle cx="597.19" cy="583.3" r="2.35"/><circle cx="598.25" cy="581.83" r="2.35"/><circle cx="592" cy="578.58" r="2.35"/><circle cx="589.23" cy="577.13" r="2.35"/></g><g fill="#619CFF" fill-opacity="0.4" stroke="#619CFF" stroke-opacity="0.7" stroke-width="0.6"><circle cx="611.36" cy="614.41" r="2.35"/><circle cx="609.03" cy="563.1" r="2.35"/><circle cx="612.89" cy="612.11" r="2.35"/><circle cx="609.6" cy="608.26" r="2.35"/><circle cx="621.86" cy="605.8" r="2.35"/><circle cx="609.63" cy="603.23" r="2.35"/><circle cx="610.49" cy="602.53" r="2.35"/><circle cx="608.72" cy="599.82" r="2.35"/><circle cx="621.9" cy="598.69" r="2.35"/><circle cx="616.42" cy="598.4" r="2.35"/><circle cx="609.27" cy="596.53" r="2.35"/><circle cx="608.32" cy="595.39" r="2.35"/><circle cx="614.02" cy="593.13" r="2.35"/><circle cx="611.87" cy="592.34" r="2.35"/><circle cx="619.66" cy="590.41" r="2.35"/><circle cx="619.01" cy="588.9" r="2.35"/><circle cx="611.55" cy="587.43" r="2.35"/><circle cx="608.21" cy="586.16" r="2.35"/><circle cx="611.75" cy="585.97" r="2.35"/><circle cx="610.25" cy="584.44" r="2.35"/><circle cx="611.33" cy="583.7" r="2.35"/><circle cx="611.22" cy="583.09" r="2.35"/><circle cx="617.34" cy="581.35" r="2.35"/><circle cx="614.12" cy="580.96" r="2.35"/><circle cx="620.59" cy="579.85" r="2.35"/><circle cx="619.37" cy="578.89" r="2.35"/><circle cx="614.75" cy="577.31" r="2.35"/><circle cx="614.68" cy="573.19" r="2.35"/><circle cx="615.13" cy="572.46" r="2.35"/><circle cx="621.55" cy="567.51" r="2.35"/><circle cx="613.95" cy="563.2" r="2.35"/><circle cx="614.1" cy="632.44" r="2.35"/><circle cx="610.35" cy="633" r="2.35"/></g><g fill="#DB72FB" fill-opacity="0.4" stroke="#DB72FB" stroke-opacity="0.7" stroke-width="0.6"><circle cx="632.3" cy="618.57" r="2.35"/><circle cx="630.88" cy="557.55" r="2.35"/><circle cx="631.7" cy="615.81" r="2.35"/><circle cx="630.62" cy="613.21" r="2.35"/><circle cx="631.19" cy="610.79" r="2.35"/><circle cx="628.73" cy="607.98" r="2.35"/><circle cx="637.76" cy="606.58" r="2.35"/><circle cx="632.38" cy="603.53" r="2.35"/><circle cx="639.05" cy="602.82" r="2.35"/><circle cx="627.38" cy="601.49" r="2.35"/><circle cx="631.44" cy="599.46" r="2.35"/><circle cx="640.46" cy="598.53" r="2.35"/><circle cx="639.21" cy="597.49" r="2.35"/><circle cx="640.93" cy="596.28" r="2.35"/><circle cx="640.6" cy="595.01" r="2.35"/><circle cx="639.47" cy="594.39" r="2.35"/><circle cx="636.12" cy="592.47" r="2.35"/><circle cx="640.53" cy="590.83" r="2.35"/><circle cx="629.25" cy="590.63" r="2.35"/><circle cx="633.57" cy="589.07" r="2.35"/><circle cx="635.1" cy="587.49" r="2.35"/><circle cx="638" cy="586.75" r="2.35"/><circle cx="635.31" cy="585.67" r="2.35"/><circle cx="630" cy="585.28" r="2.35"/><circle cx="639.22" cy="584.05" r="2.35"/><circle cx="634.24" cy="583.31" r="2.35"/><circle cx="636.1" cy="582.23" r="2.35"/><circle cx="627.4" cy="581.51" r="2.35"/><circle cx="640.8" cy="580.63" r="2.35"/><circle cx="627.62" cy="580.13" r="2.35"/><circle cx="640.82" cy="578.75" r="2.35"/><circle cx="635.86" cy="578.13" r="2.35"/><circle cx="633.7" cy="575.91" r="2.35"/><circle cx="636.12" cy="574.39" r="2.35"/><circle cx="633.79" cy="570.65" r="2.35"/><circle cx="640.14" cy="568.2" r="2.35"/><circle cx="638.46" cy="565.67" r="2.35"/><circle cx="627.44" cy="561.28" r="2.35"/><circle cx="633.15" cy="557.86" r="2.35"/></g><g fill="#FF61C3" fill-opacity="0.4" stroke="#FF61C3" stroke-opacity="0.7" stroke-width="0.6"><circle cx="647.45" cy="625.51" r="2.35"/><circle cx="649.08" cy="561.71" r="2.35"/><circle cx="647.55" cy="624.41" r="2.35"/><circle cx="651.39" cy="619.63" r="2.35"/><circle cx="647.21" cy="617.94" r="2.35"/><circle cx="656.49" cy="614.83" r="2.35"/><circle cx="648.71" cy="610.36" r="2.35"/><circle cx="646.53" cy="608.76" r="2.35"/><circle cx="647.04" cy="606.84" r="2.35"/><circle cx="646.86" cy="604.74" r="2.35"/><circle cx="657.69" cy="603.09" r="2.35"/><circle cx="646.87" cy="600.8" r="2.35"/><circle cx="651.47" cy="599.19" r="2.35"/><circle cx="657.93" cy="597.36" r="2.35"/><circle cx="657.73" cy="596.71" r="2.35"/><circle cx="650.17" cy="596.51" r="2.35"/><circle cx="646.54" cy="596.17" r="2.35"/><circle cx="658.03" cy="595.71" r="2.35"/><circle cx="655.31" cy="594.75" r="2.35"/><circle cx="658.93" cy="594.31" r="2.35"/><circle cx="655.86" cy="593.82" r="2.35"/><circle cx="656.75" cy="593.41" r="2.35"/><circle cx="654.85" cy="593.03" r="2.35"/><circle cx="655.65" cy="592.63" r="2.35"/><circle cx="654.89" cy="592.13" r="2.35"/><circle cx="647.98" cy="591.57" r="2.35"/><circle cx="649.76" cy="591.23" r="2.35"/><circle cx="656.32" cy="590.43" r="2.35"/><circle cx="659.19" cy="588.98" r="2.35"/><circle cx="648.53" cy="588.43" r="2.35"/><circle cx="648.94" cy="587.48" r="2.35"/><circle cx="650.66" cy="586.56" r="2.35"/><circle cx="654.08" cy="585.58" r="2.35"/><circle cx="658.47" cy="584.26" r="2.35"/><circle cx="648.52" cy="583.54" r="2.35"/><circle cx="659.44" cy="582.5" r="2.35"/><circle cx="652.99" cy="581.36" r="2.35"/><circle cx="647.07" cy="580.57" r="2.35"/><circle cx="653.47" cy="579.66" r="2.35"/><circle cx="651.22" cy="578.83" r="2.35"/><circle cx="651.85" cy="578.57" r="2.35"/><circle cx="658.7" cy="577.71" r="2.35"/><circle cx="646.77" cy="577.12" r="2.35"/><circle cx="650.39" cy="575.35" r="2.35"/><circle cx="653.87" cy="574.13" r="2.35"/><circle cx="651.2" cy="573.22" r="2.35"/><circle cx="653.13" cy="571.47" r="2.35"/><circle cx="655.77" cy="569.33" r="2.35"/><circle cx="652.68" cy="568.72" r="2.35"/><circle cx="647.59" cy="566.46" r="2.35"/><circle cx="653.95" cy="563.98" r="2.35"/><circle cx="647.14" cy="562.7" r="2.35"/></g><path d="M500.5 586.67V601.93M500.5 629.12V640.21" stroke="#F8766D" stroke-width="1.0" fill="none"/><rect x="493.35" y="601.93" width="14.3" height="27.18" fill="#fff" fill-opacity="0.72" stroke="#F8766D" stroke-width="1.05"/><path d="M493.35 613.58H507.65" stroke="#FF3426" stroke-width="1.5"/><path d="M519.59 575.58V589.45M519.59 617.19V636.6" stroke="#D39200" stroke-width="1.0" fill="none"/><rect x="512.44" y="589.45" width="14.3" height="27.74" fill="#fff" fill-opacity="0.72" stroke="#D39200" stroke-width="1.05"/><path d="M512.44 597.77H526.74" stroke="#AD7800" stroke-width="1.5"/><path d="M538.68 575.58V589.45M538.68 610.25V631.06" stroke="#93AA00" stroke-width="1.0" fill="none"/><rect x="531.53" y="589.45" width="14.3" height="20.8" fill="#fff" fill-opacity="0.72" stroke="#93AA00" stroke-width="1.05"/><path d="M531.53 595.83H545.83" stroke="#798B00" stroke-width="1.5"/><path d="M557.77 572.8V589.45M557.77 608.31V627.45" stroke="#00BA38" stroke-width="1.0" fill="none"/><rect x="550.62" y="589.45" width="14.3" height="18.86" fill="#fff" fill-opacity="0.72" stroke="#00BA38" stroke-width="1.05"/><path d="M550.62 595H564.92" stroke="#00992E" stroke-width="1.5"/><path d="M576.86 571.42V589.45M576.86 606.65V633.83" stroke="#00C19F" stroke-width="1.0" fill="none"/><rect x="569.71" y="589.45" width="14.3" height="17.2" fill="#fff" fill-opacity="0.72" stroke="#00C19F" stroke-width="1.05"/><path d="M569.71 597.77H584.01" stroke="#009E82" stroke-width="1.5"/><path d="M595.95 575.58V587.23M595.95 603.87V629.67" stroke="#00B9E3" stroke-width="1.0" fill="none"/><rect x="588.8" y="587.23" width="14.3" height="16.64" fill="#fff" fill-opacity="0.72" stroke="#00B9E3" stroke-width="1.05"/><path d="M588.8 593.61H603.1" stroke="#0098BA" stroke-width="1.5"/><path d="M615.04 563.1V580.57M615.04 598.32V614.41" stroke="#619CFF" stroke-width="1.0" fill="none"/><rect x="607.89" y="580.57" width="14.3" height="17.75" fill="#fff" fill-opacity="0.72" stroke="#619CFF" stroke-width="1.05"/><path d="M607.89 587.51H622.19" stroke="#2274FF" stroke-width="1.5"/><path d="M634.13 557.55V579.74M634.13 599.16V618.57" stroke="#DB72FB" stroke-width="1.0" fill="none"/><rect x="626.98" y="579.74" width="14.3" height="19.42" fill="#fff" fill-opacity="0.72" stroke="#DB72FB" stroke-width="1.05"/><path d="M626.98 587.51H641.28" stroke="#CE2CFF" stroke-width="1.5"/><path d="M653.22 561.71V578.91M653.22 596.94V625.51" stroke="#FF61C3" stroke-width="1.0" fill="none"/><rect x="646.07" y="578.91" width="14.3" height="18.03" fill="#fff" fill-opacity="0.72" stroke="#FF61C3" stroke-width="1.05"/><path d="M646.07 590.83H660.37" stroke="#FF22AB" stroke-width="1.5"/><path d="M500.5 603.87L504.32 603.53L508.14 603.18L511.95 602.83L515.77 602.48L519.59 602.13L523.41 601.78L527.23 601.43L531.04 601.08L534.86 600.73L538.68 600.37L542.5 600.02L546.32 599.66L550.13 599.3L553.95 598.93L557.77 598.57L561.59 598.2L565.41 597.82L569.22 597.44L573.04 597.06L576.86 596.66L580.68 596.25L584.5 595.84L588.31 595.41L592.13 594.97L595.95 594.51L599.77 594.04L603.59 593.56L607.4 593.06L611.22 592.56L615.04 592.05L618.86 591.53L622.68 591L626.49 590.47L630.31 589.94L634.13 589.4L637.95 588.86L641.77 588.31L645.58 587.77L649.4 587.22L653.22 586.67L653.22 590.56L649.4 590.91L645.58 591.27L641.77 591.62L637.95 591.98L634.13 592.34L630.31 592.7L626.49 593.07L622.68 593.44L618.86 593.82L615.04 594.2L611.22 594.59L607.4 594.99L603.59 595.39L599.77 595.81L595.95 596.24L592.13 596.69L588.31 597.15L584.5 597.62L580.68 598.11L576.86 598.6L573.04 599.11L569.22 599.62L565.41 600.14L561.59 600.67L557.77 601.2L553.95 601.74L550.13 602.28L546.32 602.82L542.5 603.36L538.68 603.91L534.86 604.45L531.04 605L527.23 605.55L523.41 606.1L519.59 606.65L515.77 607.21L511.95 607.76L508.14 608.31L504.32 608.87L500.5 609.42Z" fill="#999999" fill-opacity="0.34"/><path d="M500.5 606.65L653.22 588.62" stroke="#000" stroke-width="1.85"/><rect x="485.45" y="554.3" width="182.8" height="90.4" fill="none" stroke="#333" stroke-width="0.9"/><rect x="668.25" y="554.3" width="13.3" height="90.4" fill="#D9D9D9" stroke="#333" stroke-width="0.9"/><text x="674.9" y="599.5" transform="rotate(90 674.9 599.5)" font-size="7.35" fill="#1A1A1A" text-anchor="middle" dy="0.36em">AH</text><text x="481.25" y="561.6" dy="0.36em" text-anchor="end" font-size="7.15" fill="#2E2E2E" stroke="#2E2E2E" stroke-width="0.12">85</text><text x="481.25" y="575.23" dy="0.36em" text-anchor="end" font-size="7.15" fill="#2E2E2E" stroke="#2E2E2E" stroke-width="0.12">80</text><text x="481.25" y="588.87" dy="0.36em" text-anchor="end" font-size="7.15" fill="#2E2E2E" stroke="#2E2E2E" stroke-width="0.12">75</text><text x="481.25" y="602.5" dy="0.36em" text-anchor="end" font-size="7.15" fill="#2E2E2E" stroke="#2E2E2E" stroke-width="0.12">70</text><text x="481.25" y="616.13" dy="0.36em" text-anchor="end" font-size="7.15" fill="#2E2E2E" stroke="#2E2E2E" stroke-width="0.12">65</text><text x="481.25" y="629.77" dy="0.36em" text-anchor="end" font-size="7.15" fill="#2E2E2E" stroke="#2E2E2E" stroke-width="0.12">60</text><text x="481.25" y="643.4" dy="0.36em" text-anchor="end" font-size="7.15" fill="#2E2E2E" stroke="#2E2E2E" stroke-width="0.12">55</text><path d="M482.95 561.6H485.45M482.95 575.23H485.45M482.95 588.87H485.45M482.95 602.5H485.45M482.95 616.13H485.45M482.95 629.77H485.45M482.95 643.4H485.45" stroke="#333" stroke-width="1.1"/><rect x="485.45" y="649.8" width="182.8" height="90.4" fill="#fff"/><path d="M485.45 650.28H668.25M485.45 663.92H668.25M485.45 677.55H668.25M485.45 691.18H668.25M485.45 704.82H668.25M485.45 718.45H668.25M485.45 732.08H668.25M490.96 649.8V740.2M510.05 649.8V740.2M529.13 649.8V740.2M548.22 649.8V740.2M567.31 649.8V740.2M586.4 649.8V740.2M605.5 649.8V740.2M624.58 649.8V740.2M643.67 649.8V740.2M662.76 649.8V740.2" stroke="#EEEEEE" stroke-width="0.5" fill="none"/><path d="M485.45 657.1H668.25M485.45 670.73H668.25M485.45 684.37H668.25M485.45 698H668.25M485.45 711.63H668.25M485.45 725.27H668.25M485.45 738.9H668.25M500.5 649.8V740.2M519.59 649.8V740.2M538.68 649.8V740.2M557.77 649.8V740.2M576.86 649.8V740.2M595.95 649.8V740.2M615.04 649.8V740.2M634.13 649.8V740.2M653.22 649.8V740.2" stroke="#E4E4E4" stroke-width="0.85" fill="none"/><g fill="#F8766D" fill-opacity="0.4" stroke="#F8766D" stroke-opacity="0.7" stroke-width="0.6"><circle cx="503.97" cy="713.72" r="2.35"/><circle cx="497.08" cy="703.18" r="2.35"/><circle cx="496.79" cy="710.1" r="2.35"/></g><g fill="#D39200" fill-opacity="0.4" stroke="#D39200" stroke-opacity="0.7" stroke-width="0.6"><circle cx="520.65" cy="711.5" r="2.35"/><circle cx="515.22" cy="665.73" r="2.35"/><circle cx="522.77" cy="708.67" r="2.35"/><circle cx="513.66" cy="700.51" r="2.35"/></g><g fill="#93AA00" fill-opacity="0.4" stroke="#93AA00" stroke-opacity="0.7" stroke-width="0.6"><circle cx="535.71" cy="709.56" r="2.35"/><circle cx="533.88" cy="662.12" r="2.35"/><circle cx="543.43" cy="705.68" r="2.35"/><circle cx="540.31" cy="674.27" r="2.35"/><circle cx="538.34" cy="666.33" r="2.35"/></g><g fill="#00BA38" fill-opacity="0.4" stroke="#00BA38" stroke-opacity="0.7" stroke-width="0.6"><circle cx="562.78" cy="705.95" r="2.35"/><circle cx="556.48" cy="665.18" r="2.35"/><circle cx="558.29" cy="703.64" r="2.35"/><circle cx="556.56" cy="690.13" r="2.35"/><circle cx="552.57" cy="674.04" r="2.35"/><circle cx="558.41" cy="671.45" r="2.35"/><circle cx="552.04" cy="666.77" r="2.35"/></g><g fill="#00C19F" fill-opacity="0.4" stroke="#00C19F" stroke-opacity="0.7" stroke-width="0.6"><circle cx="575.96" cy="721.21" r="2.35"/><circle cx="579.56" cy="665.18" r="2.35"/><circle cx="578.7" cy="709.72" r="2.35"/><circle cx="570.96" cy="701.57" r="2.35"/><circle cx="570.65" cy="689.46" r="2.35"/><circle cx="582.38" cy="680.72" r="2.35"/><circle cx="582.4" cy="679.06" r="2.35"/><circle cx="579.88" cy="673.75" r="2.35"/><circle cx="577.2" cy="667.15" r="2.35"/></g><g fill="#00B9E3" fill-opacity="0.4" stroke="#00B9E3" stroke-opacity="0.7" stroke-width="0.6"><circle cx="595.37" cy="705.95" r="2.35"/><circle cx="593.09" cy="660.18" r="2.35"/><circle cx="600.09" cy="703.47" r="2.35"/><circle cx="602.74" cy="699.02" r="2.35"/><circle cx="594.48" cy="684.78" r="2.35"/><circle cx="600.13" cy="671.74" r="2.35"/><circle cx="593.39" cy="670.98" r="2.35"/><circle cx="599.83" cy="668.5" r="2.35"/><circle cx="592.67" cy="664.45" r="2.35"/></g><g fill="#619CFF" fill-opacity="0.4" stroke="#619CFF" stroke-opacity="0.7" stroke-width="0.6"><circle cx="611.16" cy="712.89" r="2.35"/><circle cx="617.63" cy="658.8" r="2.35"/><circle cx="617.52" cy="706.78" r="2.35"/><circle cx="610.17" cy="694.72" r="2.35"/><circle cx="616.4" cy="683.9" r="2.35"/><circle cx="613.22" cy="677.22" r="2.35"/><circle cx="616.52" cy="666.96" r="2.35"/><circle cx="613.98" cy="665.79" r="2.35"/><circle cx="614.89" cy="660.74" r="2.35"/><circle cx="609.54" cy="660.25" r="2.35"/></g><g fill="#DB72FB" fill-opacity="0.4" stroke="#DB72FB" stroke-opacity="0.7" stroke-width="0.6"><circle cx="630.74" cy="731.75" r="2.35"/><circle cx="631.23" cy="657.41" r="2.35"/><circle cx="629.38" cy="729.3" r="2.35"/><circle cx="638.12" cy="695.62" r="2.35"/><circle cx="627.48" cy="694.5" r="2.35"/><circle cx="639.24" cy="690.27" r="2.35"/><circle cx="638.06" cy="686.71" r="2.35"/><circle cx="630.69" cy="672.59" r="2.35"/><circle cx="630.01" cy="668.22" r="2.35"/><circle cx="638.57" cy="661.67" r="2.35"/></g><g fill="#FF61C3" fill-opacity="0.4" stroke="#FF61C3" stroke-opacity="0.7" stroke-width="0.6"><circle cx="653.45" cy="708.73" r="2.35"/><circle cx="647.87" cy="665.73" r="2.35"/><circle cx="650.26" cy="705.3" r="2.35"/><circle cx="650.62" cy="699.95" r="2.35"/><circle cx="653.72" cy="694.72" r="2.35"/><circle cx="646.95" cy="690.1" r="2.35"/><circle cx="649.58" cy="686.98" r="2.35"/><circle cx="646.5" cy="683.83" r="2.35"/><circle cx="658.1" cy="678.8" r="2.35"/><circle cx="659.91" cy="673.82" r="2.35"/><circle cx="656.08" cy="672.44" r="2.35"/><circle cx="646.61" cy="670.03" r="2.35"/></g><path d="M500.5 703.18V704.57M500.5 711.5V713.72" stroke="#F8766D" stroke-width="1.0" fill="none"/><rect x="493.35" y="704.57" width="14.3" height="6.93" fill="#fff" fill-opacity="0.72" stroke="#F8766D" stroke-width="1.05"/><path d="M493.35 707.89H507.65" stroke="#FF3426" stroke-width="1.5"/><path d="M519.59 665.73V684.32M519.59 705.95V711.5" stroke="#D39200" stroke-width="1.0" fill="none"/><rect x="512.44" y="684.32" width="14.3" height="21.64" fill="#fff" fill-opacity="0.72" stroke="#D39200" stroke-width="1.05"/><path d="M512.44 701.24H526.74" stroke="#AD7800" stroke-width="1.5"/><path d="M538.68 662.12V668.5M538.68 692.64V709.56" stroke="#93AA00" stroke-width="1.0" fill="none"/><rect x="531.53" y="668.5" width="14.3" height="24.13" fill="#fff" fill-opacity="0.72" stroke="#93AA00" stroke-width="1.05"/><path d="M531.53 675.44H545.83" stroke="#798B00" stroke-width="1.5"/><path d="M557.77 665.18V668.5M557.77 691.25V705.95" stroke="#00BA38" stroke-width="1.0" fill="none"/><rect x="550.62" y="668.5" width="14.3" height="22.75" fill="#fff" fill-opacity="0.72" stroke="#00BA38" stroke-width="1.05"/><path d="M550.62 674.61H564.92" stroke="#00992E" stroke-width="1.5"/><path d="M576.86 665.18V674.61M576.86 703.73V721.21" stroke="#00C19F" stroke-width="1.0" fill="none"/><rect x="569.71" y="674.61" width="14.3" height="29.13" fill="#fff" fill-opacity="0.72" stroke="#00C19F" stroke-width="1.05"/><path d="M569.71 682.37H584.01" stroke="#009E82" stroke-width="1.5"/><path d="M595.95 660.18V668.5M595.95 701.79V705.95" stroke="#00B9E3" stroke-width="1.0" fill="none"/><rect x="588.8" y="668.5" width="14.3" height="33.29" fill="#fff" fill-opacity="0.72" stroke="#00B9E3" stroke-width="1.05"/><path d="M588.8 672.11H603.1" stroke="#0098BA" stroke-width="1.5"/><path d="M615.04 658.8V661.57M615.04 688.48V712.89" stroke="#619CFF" stroke-width="1.0" fill="none"/><rect x="607.89" y="661.57" width="14.3" height="26.91" fill="#fff" fill-opacity="0.72" stroke="#619CFF" stroke-width="1.05"/><path d="M607.89 671.28H622.19" stroke="#2274FF" stroke-width="1.5"/><path d="M634.13 657.41V669.34M634.13 694.86V731.75" stroke="#DB72FB" stroke-width="1.0" fill="none"/><rect x="626.98" y="669.34" width="14.3" height="25.52" fill="#fff" fill-opacity="0.72" stroke="#DB72FB" stroke-width="1.05"/><path d="M626.98 689.86H641.28" stroke="#CE2CFF" stroke-width="1.5"/><path d="M653.22 665.73V674.05M653.22 694.86V708.73" stroke="#FF61C3" stroke-width="1.0" fill="none"/><rect x="646.07" y="674.05" width="14.3" height="20.8" fill="#fff" fill-opacity="0.72" stroke="#FF61C3" stroke-width="1.05"/><path d="M646.07 686.54H660.37" stroke="#FF22AB" stroke-width="1.5"/><path d="M500.5 680.16L504.32 680.31L508.14 680.46L511.95 680.61L515.77 680.76L519.59 680.9L523.41 681.05L527.23 681.2L531.04 681.34L534.86 681.48L538.68 681.62L542.5 681.76L546.32 681.9L550.13 682.03L553.95 682.16L557.77 682.28L561.59 682.4L565.41 682.51L569.22 682.62L573.04 682.71L576.86 682.79L580.68 682.85L584.5 682.9L588.31 682.92L592.13 682.9L595.95 682.85L599.77 682.75L603.59 682.6L607.4 682.39L611.22 682.13L615.04 681.82L618.86 681.47L622.68 681.09L626.49 680.68L630.31 680.24L634.13 679.79L637.95 679.33L641.77 678.85L645.58 678.37L649.4 677.88L653.22 677.38L653.22 687.37L649.4 687.25L645.58 687.13L641.77 687.02L637.95 686.92L634.13 686.83L630.31 686.75L626.49 686.69L622.68 686.66L618.86 686.65L615.04 686.67L611.22 686.74L607.4 686.85L603.59 687.02L599.77 687.24L595.95 687.52L592.13 687.84L588.31 688.2L584.5 688.59L580.68 689.01L576.86 689.45L573.04 689.9L569.22 690.37L565.41 690.85L561.59 691.34L557.77 691.83L553.95 692.33L550.13 692.83L546.32 693.34L542.5 693.85L538.68 694.36L534.86 694.87L531.04 695.39L527.23 695.91L523.41 696.43L519.59 696.95L515.77 697.47L511.95 698L508.14 698.52L504.32 699.05L500.5 699.57Z" fill="#999999" fill-opacity="0.34"/><path d="M500.5 689.86L653.22 682.37" stroke="#000" stroke-width="1.85"/><rect x="485.45" y="649.8" width="182.8" height="90.4" fill="none" stroke="#333" stroke-width="0.9"/><rect x="668.25" y="649.8" width="13.3" height="90.4" fill="#D9D9D9" stroke="#333" stroke-width="0.9"/><text x="674.9" y="695" transform="rotate(90 674.9 695)" font-size="7.35" fill="#1A1A1A" text-anchor="middle" dy="0.36em">NAH</text><text x="481.25" y="657.1" dy="0.36em" text-anchor="end" font-size="7.15" fill="#2E2E2E" stroke="#2E2E2E" stroke-width="0.12">85</text><text x="481.25" y="670.73" dy="0.36em" text-anchor="end" font-size="7.15" fill="#2E2E2E" stroke="#2E2E2E" stroke-width="0.12">80</text><text x="481.25" y="684.37" dy="0.36em" text-anchor="end" font-size="7.15" fill="#2E2E2E" stroke="#2E2E2E" stroke-width="0.12">75</text><text x="481.25" y="698" dy="0.36em" text-anchor="end" font-size="7.15" fill="#2E2E2E" stroke="#2E2E2E" stroke-width="0.12">70</text><text x="481.25" y="711.63" dy="0.36em" text-anchor="end" font-size="7.15" fill="#2E2E2E" stroke="#2E2E2E" stroke-width="0.12">65</text><text x="481.25" y="725.27" dy="0.36em" text-anchor="end" font-size="7.15" fill="#2E2E2E" stroke="#2E2E2E" stroke-width="0.12">60</text><text x="481.25" y="738.9" dy="0.36em" text-anchor="end" font-size="7.15" fill="#2E2E2E" stroke="#2E2E2E" stroke-width="0.12">55</text><path d="M482.95 657.1H485.45M482.95 670.73H485.45M482.95 684.37H485.45M482.95 698H485.45M482.95 711.63H485.45M482.95 725.27H485.45M482.95 738.9H485.45" stroke="#333" stroke-width="1.1"/><text x="500.5" y="749.4" text-anchor="middle" font-size="7.15" fill="#2E2E2E" stroke="#2E2E2E" stroke-width="0.12">2014</text><text x="519.59" y="749.4" text-anchor="middle" font-size="7.15" fill="#2E2E2E" stroke="#2E2E2E" stroke-width="0.12">2015</text><text x="538.68" y="749.4" text-anchor="middle" font-size="7.15" fill="#2E2E2E" stroke="#2E2E2E" stroke-width="0.12">2016</text><text x="557.77" y="749.4" text-anchor="middle" font-size="7.15" fill="#2E2E2E" stroke="#2E2E2E" stroke-width="0.12">2017</text><text x="576.86" y="749.4" text-anchor="middle" font-size="7.15" fill="#2E2E2E" stroke="#2E2E2E" stroke-width="0.12">2018</text><text x="595.95" y="749.4" text-anchor="middle" font-size="7.15" fill="#2E2E2E" stroke="#2E2E2E" stroke-width="0.12">2019</text><text x="615.04" y="749.4" text-anchor="middle" font-size="7.15" fill="#2E2E2E" stroke="#2E2E2E" stroke-width="0.12">2020</text><text x="634.13" y="749.4" text-anchor="middle" font-size="7.15" fill="#2E2E2E" stroke="#2E2E2E" stroke-width="0.12">2021</text><text x="653.22" y="749.4" text-anchor="middle" font-size="7.15" fill="#2E2E2E" stroke="#2E2E2E" stroke-width="0.12">2022</text><path d="M500.5 740.2V742.7M519.59 740.2V742.7M538.68 740.2V742.7M557.77 740.2V742.7M576.86 740.2V742.7M595.95 740.2V742.7M615.04 740.2V742.7M634.13 740.2V742.7M653.22 740.2V742.7" stroke="#333" stroke-width="1.1"/><text x="576.85" y="760.1" text-anchor="middle" font-size="9.02" fill="#000" stroke="#000" stroke-width="0.1">Year</text><text x="469.15" y="647.25" transform="rotate(-90 469.15 647.25)" text-anchor="middle" font-size="9.02" fill="#000" stroke="#000" stroke-width="0.1">Score (%)</text><text x="27.55" y="778.6" font-size="10.82" fill="#000" xml:space="preserve">General perceptions about safety</text><text x="27.55" y="791.2" font-size="9.02" fill="#000" xml:space="preserve">AH (P &lt; 0.001);  NAH (P = 0.97)</text><rect x="27.55" y="797.8" width="182.8" height="90.4" fill="#fff"/><path d="M27.55 806.41H210.35M27.55 818.39H210.35M27.55 830.36H210.35M27.55 842.34H210.35M27.55 854.31H210.35M27.55 866.29H210.35M27.55 878.26H210.35M33.05 797.8V888.2M52.15 797.8V888.2M71.23 797.8V888.2M90.33 797.8V888.2M109.42 797.8V888.2M128.5 797.8V888.2M147.59 797.8V888.2M166.68 797.8V888.2M185.77 797.8V888.2M204.86 797.8V888.2" stroke="#EEEEEE" stroke-width="0.5" fill="none"/><path d="M27.55 812.4H210.35M27.55 824.38H210.35M27.55 836.35H210.35M27.55 848.32H210.35M27.55 860.3H210.35M27.55 872.27H210.35M27.55 884.25H210.35M42.6 797.8V888.2M61.69 797.8V888.2M80.78 797.8V888.2M99.87 797.8V888.2M118.96 797.8V888.2M138.05 797.8V888.2M157.14 797.8V888.2M176.23 797.8V888.2M195.32 797.8V888.2" stroke="#E4E4E4" stroke-width="0.85" fill="none"/><g fill="#F8766D" fill-opacity="0.4" stroke="#F8766D" stroke-opacity="0.7" stroke-width="0.6"><circle cx="43.85" cy="883.77" r="2.35"/><circle cx="43.53" cy="846.32" r="2.35"/><circle cx="39.42" cy="882.16" r="2.35"/><circle cx="39.66" cy="868.49" r="2.35"/><circle cx="48.89" cy="867.13" r="2.35"/><circle cx="48.43" cy="864.25" r="2.35"/><circle cx="47.46" cy="861.39" r="2.35"/><circle cx="45.7" cy="854.77" r="2.35"/><circle cx="43.56" cy="852.25" r="2.35"/><circle cx="40.14" cy="824.96" r="2.35"/></g><g fill="#D39200" fill-opacity="0.4" stroke="#D39200" stroke-opacity="0.7" stroke-width="0.6"><circle cx="63.44" cy="876" r="2.35"/><circle cx="60.82" cy="818.58" r="2.35"/><circle cx="66.56" cy="875.11" r="2.35"/><circle cx="60.4" cy="862.74" r="2.35"/><circle cx="56.82" cy="860.02" r="2.35"/><circle cx="63.78" cy="857.11" r="2.35"/><circle cx="67.28" cy="847.28" r="2.35"/><circle cx="67.05" cy="843.34" r="2.35"/><circle cx="66.17" cy="842.05" r="2.35"/><circle cx="60.83" cy="838.95" r="2.35"/><circle cx="61.46" cy="836.64" r="2.35"/><circle cx="63.59" cy="829.22" r="2.35"/><circle cx="62.17" cy="820.27" r="2.35"/></g><g fill="#93AA00" fill-opacity="0.4" stroke="#93AA00" stroke-opacity="0.7" stroke-width="0.6"><circle cx="74.59" cy="862.96" r="2.35"/><circle cx="85.17" cy="815.8" r="2.35"/><circle cx="82.18" cy="858.94" r="2.35"/><circle cx="82.15" cy="855.98" r="2.35"/><circle cx="80.07" cy="852.18" r="2.35"/><circle cx="86.14" cy="850.31" r="2.35"/><circle cx="84.59" cy="849.51" r="2.35"/><circle cx="75.89" cy="848.02" r="2.35"/><circle cx="78.68" cy="845.86" r="2.35"/><circle cx="77.36" cy="843.37" r="2.35"/><circle cx="76.96" cy="840.98" r="2.35"/><circle cx="76.74" cy="838.84" r="2.35"/><circle cx="83.13" cy="837.33" r="2.35"/><circle cx="78.96" cy="835.88" r="2.35"/><circle cx="77.32" cy="833.02" r="2.35"/><circle cx="78.41" cy="831.61" r="2.35"/><circle cx="85.51" cy="829.41" r="2.35"/><circle cx="75.92" cy="826.57" r="2.35"/><circle cx="85.87" cy="820.89" r="2.35"/><circle cx="82.17" cy="816.29" r="2.35"/></g><g fill="#00BA38" fill-opacity="0.4" stroke="#00BA38" stroke-opacity="0.7" stroke-width="0.6"><circle cx="104.64" cy="853.25" r="2.35"/><circle cx="98.78" cy="816.64" r="2.35"/><circle cx="101.02" cy="852.07" r="2.35"/><circle cx="105.13" cy="850.46" r="2.35"/><circle cx="105.39" cy="846.76" r="2.35"/><circle cx="104.19" cy="845.42" r="2.35"/><circle cx="104.37" cy="844.39" r="2.35"/><circle cx="102.57" cy="843.61" r="2.35"/><circle cx="104.43" cy="842.59" r="2.35"/><circle cx="104.2" cy="841.72" r="2.35"/><circle cx="96.65" cy="841.02" r="2.35"/><circle cx="100.93" cy="839.73" r="2.35"/><circle cx="93.7" cy="838.45" r="2.35"/><circle cx="95.78" cy="837.6" r="2.35"/><circle cx="105.89" cy="836.43" r="2.35"/><circle cx="95.44" cy="835.98" r="2.35"/><circle cx="98.56" cy="835.23" r="2.35"/><circle cx="95.81" cy="834.63" r="2.35"/><circle cx="96.22" cy="834.22" r="2.35"/><circle cx="98.66" cy="833.51" r="2.35"/><circle cx="94.28" cy="832.64" r="2.35"/><circle cx="103.19" cy="830.69" r="2.35"/><circle cx="96.02" cy="825.72" r="2.35"/><circle cx="95.04" cy="821.43" r="2.35"/><circle cx="99.29" cy="820.03" r="2.35"/></g><g fill="#00C19F" fill-opacity="0.4" stroke="#00C19F" stroke-opacity="0.7" stroke-width="0.6"><circle cx="112.98" cy="876" r="2.35"/><circle cx="123.29" cy="819.41" r="2.35"/><circle cx="124.28" cy="873" r="2.35"/><circle cx="123.61" cy="867.46" r="2.35"/><circle cx="124.35" cy="859.33" r="2.35"/><circle cx="123.6" cy="855.12" r="2.35"/><circle cx="118.89" cy="851.94" r="2.35"/><circle cx="117.52" cy="850.05" r="2.35"/><circle cx="120.27" cy="849.16" r="2.35"/><circle cx="124.92" cy="847.37" r="2.35"/><circle cx="114.8" cy="846.7" r="2.35"/><circle cx="125.19" cy="845.14" r="2.35"/><circle cx="121.94" cy="844.42" r="2.35"/><circle cx="113.97" cy="842.58" r="2.35"/><circle cx="112.48" cy="841.94" r="2.35"/><circle cx="114.14" cy="838.73" r="2.35"/><circle cx="124.23" cy="837.07" r="2.35"/><circle cx="116.2" cy="835.49" r="2.35"/><circle cx="123.14" cy="834.39" r="2.35"/><circle cx="121.79" cy="832.2" r="2.35"/><circle cx="114.76" cy="829.73" r="2.35"/><circle cx="116.73" cy="828.53" r="2.35"/><circle cx="115.45" cy="827.72" r="2.35"/><circle cx="113.67" cy="825.66" r="2.35"/><circle cx="116.68" cy="824.5" r="2.35"/><circle cx="121.69" cy="823.17" r="2.35"/><circle cx="119.02" cy="821.2" r="2.35"/></g><g fill="#00B9E3" fill-opacity="0.4" stroke="#00B9E3" stroke-opacity="0.7" stroke-width="0.6"><circle cx="137.94" cy="859.36" r="2.35"/><circle cx="139.54" cy="816.64" r="2.35"/><circle cx="138.06" cy="857.62" r="2.35"/><circle cx="137.47" cy="854.81" r="2.35"/><circle cx="132.55" cy="851.57" r="2.35"/><circle cx="142.15" cy="849.28" r="2.35"/><circle cx="132.06" cy="847.97" r="2.35"/><circle cx="136.17" cy="846.1" r="2.35"/><circle cx="136.65" cy="844.26" r="2.35"/><circle cx="133.51" cy="843.11" r="2.35"/><circle cx="143.41" cy="842.06" r="2.35"/><circle cx="142.53" cy="841.37" r="2.35"/><circle cx="131.49" cy="840.09" r="2.35"/><circle cx="131.71" cy="839.32" r="2.35"/><circle cx="132" cy="838.22" r="2.35"/><circle cx="134.39" cy="837.44" r="2.35"/><circle cx="133.57" cy="836.17" r="2.35"/><circle cx="137.67" cy="835.67" r="2.35"/><circle cx="132.92" cy="834.6" r="2.35"/><circle cx="131.75" cy="833.01" r="2.35"/><circle cx="144.92" cy="831.86" r="2.35"/><circle cx="143.37" cy="830.81" r="2.35"/><circle cx="132.23" cy="830.01" r="2.35"/><circle cx="135.9" cy="828.29" r="2.35"/><circle cx="133.95" cy="827.77" r="2.35"/><circle cx="133.16" cy="826.95" r="2.35"/><circle cx="138.82" cy="825.48" r="2.35"/><circle cx="137.16" cy="824.3" r="2.35"/><circle cx="135.5" cy="822.32" r="2.35"/><circle cx="137.97" cy="819.04" r="2.35"/><circle cx="137.79" cy="818.64" r="2.35"/></g><g fill="#619CFF" fill-opacity="0.4" stroke="#619CFF" stroke-opacity="0.7" stroke-width="0.6"><circle cx="162.34" cy="858.25" r="2.35"/><circle cx="154.69" cy="810.26" r="2.35"/><circle cx="162.83" cy="858.06" r="2.35"/><circle cx="157.89" cy="853.78" r="2.35"/><circle cx="155.48" cy="848.76" r="2.35"/><circle cx="159.23" cy="844.55" r="2.35"/><circle cx="153.46" cy="841.5" r="2.35"/><circle cx="157" cy="840.12" r="2.35"/><circle cx="156.41" cy="838.9" r="2.35"/><circle cx="153.68" cy="836.78" r="2.35"/><circle cx="150.68" cy="836.61" r="2.35"/><circle cx="152.11" cy="835.28" r="2.35"/><circle cx="161.28" cy="833.86" r="2.35"/><circle cx="150.52" cy="832.91" r="2.35"/><circle cx="154.86" cy="832.07" r="2.35"/><circle cx="153.11" cy="830.63" r="2.35"/><circle cx="151.55" cy="830.03" r="2.35"/><circle cx="157.24" cy="828.23" r="2.35"/><circle cx="162.37" cy="827.91" r="2.35"/><circle cx="156.25" cy="826.76" r="2.35"/><circle cx="163.32" cy="825.29" r="2.35"/><circle cx="153.87" cy="823.59" r="2.35"/><circle cx="161.34" cy="822.38" r="2.35"/><circle cx="150.54" cy="821.31" r="2.35"/><circle cx="152.67" cy="821.05" r="2.35"/><circle cx="160.44" cy="819.54" r="2.35"/><circle cx="150.86" cy="818.93" r="2.35"/><circle cx="156.88" cy="817.2" r="2.35"/><circle cx="156.92" cy="816.02" r="2.35"/><circle cx="161.32" cy="813.25" r="2.35"/><circle cx="158.95" cy="811.91" r="2.35"/></g><g fill="#DB72FB" fill-opacity="0.4" stroke="#DB72FB" stroke-opacity="0.7" stroke-width="0.6"><circle cx="176.37" cy="859.36" r="2.35"/><circle cx="182.75" cy="807.48" r="2.35"/><circle cx="173.9" cy="856.76" r="2.35"/><circle cx="177.45" cy="855.67" r="2.35"/><circle cx="175.16" cy="852.13" r="2.35"/><circle cx="169.72" cy="847.96" r="2.35"/><circle cx="182.24" cy="845.47" r="2.35"/><circle cx="174.35" cy="842.19" r="2.35"/><circle cx="182.92" cy="840.17" r="2.35"/><circle cx="175.96" cy="838.77" r="2.35"/><circle cx="176.74" cy="837.69" r="2.35"/><circle cx="173.44" cy="837.42" r="2.35"/><circle cx="170.16" cy="836.13" r="2.35"/><circle cx="180.03" cy="835.21" r="2.35"/><circle cx="172.93" cy="834.05" r="2.35"/><circle cx="180.64" cy="833.45" r="2.35"/><circle cx="178.06" cy="832.31" r="2.35"/><circle cx="181.84" cy="831.52" r="2.35"/><circle cx="174.04" cy="830.01" r="2.35"/><circle cx="174.01" cy="829.75" r="2.35"/><circle cx="178.56" cy="828.02" r="2.35"/><circle cx="176.43" cy="827.17" r="2.35"/><circle cx="182.26" cy="826.94" r="2.35"/><circle cx="175" cy="825.48" r="2.35"/><circle cx="180.49" cy="825.2" r="2.35"/><circle cx="172.85" cy="823.96" r="2.35"/><circle cx="173.34" cy="823.62" r="2.35"/><circle cx="177.44" cy="822.59" r="2.35"/><circle cx="177.08" cy="821.51" r="2.35"/><circle cx="172.79" cy="820.48" r="2.35"/><circle cx="170.17" cy="820.14" r="2.35"/><circle cx="170.2" cy="819.72" r="2.35"/><circle cx="174.28" cy="818.91" r="2.35"/><circle cx="174.22" cy="816.73" r="2.35"/><circle cx="175.29" cy="816.08" r="2.35"/><circle cx="175.69" cy="814.21" r="2.35"/><circle cx="173.96" cy="812.01" r="2.35"/><circle cx="172.05" cy="810.14" r="2.35"/><circle cx="172.54" cy="809.15" r="2.35"/></g><g fill="#FF61C3" fill-opacity="0.4" stroke="#FF61C3" stroke-opacity="0.7" stroke-width="0.6"><circle cx="192.87" cy="854.64" r="2.35"/><circle cx="191.24" cy="807.48" r="2.35"/><circle cx="194.36" cy="853.74" r="2.35"/><circle cx="196.35" cy="851.22" r="2.35"/><circle cx="201.12" cy="849.58" r="2.35"/><circle cx="196.34" cy="848.07" r="2.35"/><circle cx="190.46" cy="847.49" r="2.35"/><circle cx="188.46" cy="846.02" r="2.35"/><circle cx="195.58" cy="844.79" r="2.35"/><circle cx="189.73" cy="842.83" r="2.35"/><circle cx="192.96" cy="841.92" r="2.35"/><circle cx="189.58" cy="840.79" r="2.35"/><circle cx="189.2" cy="840.63" r="2.35"/><circle cx="199.13" cy="840" r="2.35"/><circle cx="195.93" cy="839.39" r="2.35"/><circle cx="194.12" cy="839" r="2.35"/><circle cx="197.27" cy="838.07" r="2.35"/><circle cx="200.12" cy="837.32" r="2.35"/><circle cx="188.73" cy="836.39" r="2.35"/><circle cx="201.16" cy="836.09" r="2.35"/><circle cx="198.64" cy="835.23" r="2.35"/><circle cx="196.96" cy="834.56" r="2.35"/><circle cx="196.79" cy="833.94" r="2.35"/><circle cx="199.96" cy="833.36" r="2.35"/><circle cx="196.75" cy="832.63" r="2.35"/><circle cx="200.15" cy="831.83" r="2.35"/><circle cx="193.24" cy="831.59" r="2.35"/><circle cx="190.97" cy="831.04" r="2.35"/><circle cx="196.92" cy="830.22" r="2.35"/><circle cx="198.56" cy="830.01" r="2.35"/><circle cx="201.61" cy="829.23" r="2.35"/><circle cx="200.17" cy="828.9" r="2.35"/><circle cx="196.79" cy="828.16" r="2.35"/><circle cx="199.7" cy="827.81" r="2.35"/><circle cx="198.34" cy="827.49" r="2.35"/><circle cx="196.69" cy="827.08" r="2.35"/><circle cx="198.17" cy="826.65" r="2.35"/><circle cx="190.36" cy="826.14" r="2.35"/><circle cx="193.05" cy="825.48" r="2.35"/><circle cx="196.42" cy="824.92" r="2.35"/><circle cx="191.51" cy="824.24" r="2.35"/><circle cx="192.31" cy="823.63" r="2.35"/><circle cx="189.1" cy="822.87" r="2.35"/><circle cx="188.53" cy="821.7" r="2.35"/><circle cx="202.06" cy="820.43" r="2.35"/><circle cx="189.21" cy="819.78" r="2.35"/><circle cx="190.1" cy="817.5" r="2.35"/><circle cx="197.56" cy="816.73" r="2.35"/><circle cx="196.17" cy="814.88" r="2.35"/><circle cx="190.19" cy="811.72" r="2.35"/><circle cx="195.93" cy="810.92" r="2.35"/><circle cx="197.21" cy="808.18" r="2.35"/></g><path d="M42.6 846.32V857.41M42.6 868.51V883.77" stroke="#F8766D" stroke-width="1.0" fill="none"/><rect x="35.45" y="857.41" width="14.3" height="11.1" fill="#fff" fill-opacity="0.72" stroke="#F8766D" stroke-width="1.05"/><path d="M35.45 865.18H49.75" stroke="#FF3426" stroke-width="1.5"/><path d="M61.69 818.58V836.61M61.69 860.19V876" stroke="#D39200" stroke-width="1.0" fill="none"/><rect x="54.54" y="836.61" width="14.3" height="23.58" fill="#fff" fill-opacity="0.72" stroke="#D39200" stroke-width="1.05"/><path d="M54.54 843.54H68.84" stroke="#AD7800" stroke-width="1.5"/><path d="M80.78 815.8V831.06M80.78 849.09V862.96" stroke="#93AA00" stroke-width="1.0" fill="none"/><rect x="73.63" y="831.06" width="14.3" height="18.03" fill="#fff" fill-opacity="0.72" stroke="#93AA00" stroke-width="1.05"/><path d="M73.63 840.77H87.93" stroke="#798B00" stroke-width="1.5"/><path d="M99.87 816.64V833.83M99.87 843.54V853.25" stroke="#00BA38" stroke-width="1.0" fill="none"/><rect x="92.72" y="833.83" width="14.3" height="9.71" fill="#fff" fill-opacity="0.72" stroke="#00BA38" stroke-width="1.05"/><path d="M92.72 837.16H107.02" stroke="#00992E" stroke-width="1.5"/><path d="M118.96 819.41V829.12M118.96 849.09V876" stroke="#00C19F" stroke-width="1.0" fill="none"/><rect x="111.81" y="829.12" width="14.3" height="19.97" fill="#fff" fill-opacity="0.72" stroke="#00C19F" stroke-width="1.05"/><path d="M111.81 841.6H126.11" stroke="#009E82" stroke-width="1.5"/><path d="M138.05 816.64V828.29M138.05 843.54V859.36" stroke="#00B9E3" stroke-width="1.0" fill="none"/><rect x="130.9" y="828.29" width="14.3" height="15.26" fill="#fff" fill-opacity="0.72" stroke="#00B9E3" stroke-width="1.05"/><path d="M130.9 836.61H145.2" stroke="#0098BA" stroke-width="1.5"/><path d="M157.14 810.26V821.35M157.14 837.44V858.25" stroke="#619CFF" stroke-width="1.0" fill="none"/><rect x="149.99" y="821.35" width="14.3" height="16.09" fill="#fff" fill-opacity="0.72" stroke="#619CFF" stroke-width="1.05"/><path d="M149.99 829.67H164.29" stroke="#2274FF" stroke-width="1.5"/><path d="M176.23 807.48V820.52M176.23 837.44V859.36" stroke="#DB72FB" stroke-width="1.0" fill="none"/><rect x="169.08" y="820.52" width="14.3" height="16.92" fill="#fff" fill-opacity="0.72" stroke="#DB72FB" stroke-width="1.05"/><path d="M169.08 828.29H183.38" stroke="#CE2CFF" stroke-width="1.5"/><path d="M195.32 807.48V824.96M195.32 839.38V854.64" stroke="#FF61C3" stroke-width="1.0" fill="none"/><rect x="188.17" y="824.96" width="14.3" height="14.42" fill="#fff" fill-opacity="0.72" stroke="#FF61C3" stroke-width="1.05"/><path d="M188.17 831.06H202.47" stroke="#FF22AB" stroke-width="1.5"/><path d="M42.6 845.76L46.42 845.38L50.24 845L54.05 844.62L57.87 844.23L61.69 843.85L65.51 843.46L69.33 843.08L73.14 842.69L76.96 842.3L80.78 841.92L84.6 841.52L88.42 841.13L92.23 840.74L96.05 840.34L99.87 839.94L103.69 839.53L107.51 839.12L111.32 838.71L115.14 838.29L118.96 837.86L122.78 837.42L126.6 836.97L130.41 836.5L134.23 836.03L138.05 835.53L141.87 835.03L145.69 834.51L149.5 833.98L153.32 833.44L157.14 832.9L160.96 832.34L164.78 831.78L168.59 831.22L172.41 830.65L176.23 830.07L180.05 829.5L183.87 828.92L187.68 828.34L191.5 827.76L195.32 827.18L195.32 831.06L191.5 831.45L187.68 831.84L183.87 832.23L180.05 832.62L176.23 833.02L172.41 833.42L168.59 833.82L164.78 834.22L160.96 834.63L157.14 835.05L153.32 835.47L149.5 835.91L145.69 836.35L141.87 836.8L138.05 837.27L134.23 837.75L130.41 838.24L126.6 838.75L122.78 839.27L118.96 839.8L115.14 840.34L111.32 840.89L107.51 841.44L103.69 842.01L99.87 842.57L96.05 843.14L92.23 843.71L88.42 844.29L84.6 844.87L80.78 845.45L76.96 846.03L73.14 846.61L69.33 847.2L65.51 847.78L61.69 848.37L57.87 848.96L54.05 849.54L50.24 850.13L46.42 850.72L42.6 851.31Z" fill="#999999" fill-opacity="0.34"/><path d="M42.6 848.54L195.32 829.12" stroke="#000" stroke-width="1.85"/><rect x="27.55" y="797.8" width="182.8" height="90.4" fill="none" stroke="#333" stroke-width="0.9"/><rect x="210.35" y="797.8" width="14" height="90.4" fill="#D9D9D9" stroke="#333" stroke-width="0.9"/><text x="217.35" y="843" transform="rotate(90 217.35 843)" font-size="7.35" fill="#1A1A1A" text-anchor="middle" dy="0.36em">AH</text><text x="23.35" y="812.4" dy="0.36em" text-anchor="end" font-size="7.15" fill="#2E2E2E" stroke="#2E2E2E" stroke-width="0.12">73</text><text x="23.35" y="824.38" dy="0.36em" text-anchor="end" font-size="7.15" fill="#2E2E2E" stroke="#2E2E2E" stroke-width="0.12">68</text><text x="23.35" y="836.35" dy="0.36em" text-anchor="end" font-size="7.15" fill="#2E2E2E" stroke="#2E2E2E" stroke-width="0.12">63</text><text x="23.35" y="848.32" dy="0.36em" text-anchor="end" font-size="7.15" fill="#2E2E2E" stroke="#2E2E2E" stroke-width="0.12">58</text><text x="23.35" y="860.3" dy="0.36em" text-anchor="end" font-size="7.15" fill="#2E2E2E" stroke="#2E2E2E" stroke-width="0.12">53</text><text x="23.35" y="872.27" dy="0.36em" text-anchor="end" font-size="7.15" fill="#2E2E2E" stroke="#2E2E2E" stroke-width="0.12">48</text><text x="23.35" y="884.25" dy="0.36em" text-anchor="end" font-size="7.15" fill="#2E2E2E" stroke="#2E2E2E" stroke-width="0.12">43</text><path d="M25.05 812.4H27.55M25.05 824.38H27.55M25.05 836.35H27.55M25.05 848.32H27.55M25.05 860.3H27.55M25.05 872.27H27.55M25.05 884.25H27.55" stroke="#333" stroke-width="1.1"/><rect x="27.55" y="893.3" width="182.8" height="90.4" fill="#fff"/><path d="M27.55 901.91H210.35M27.55 913.89H210.35M27.55 925.86H210.35M27.55 937.84H210.35M27.55 949.81H210.35M27.55 961.79H210.35M27.55 973.76H210.35M33.05 893.3V983.7M52.15 893.3V983.7M71.23 893.3V983.7M90.33 893.3V983.7M109.42 893.3V983.7M128.5 893.3V983.7M147.59 893.3V983.7M166.68 893.3V983.7M185.77 893.3V983.7M204.86 893.3V983.7" stroke="#EEEEEE" stroke-width="0.5" fill="none"/><path d="M27.55 907.9H210.35M27.55 919.88H210.35M27.55 931.85H210.35M27.55 943.82H210.35M27.55 955.8H210.35M27.55 967.77H210.35M27.55 979.75H210.35M42.6 893.3V983.7M61.69 893.3V983.7M80.78 893.3V983.7M99.87 893.3V983.7M118.96 893.3V983.7M138.05 893.3V983.7M157.14 893.3V983.7M176.23 893.3V983.7M195.32 893.3V983.7" stroke="#E4E4E4" stroke-width="0.85" fill="none"/><g fill="#F8766D" fill-opacity="0.4" stroke="#F8766D" stroke-opacity="0.7" stroke-width="0.6"><circle cx="46.13" cy="965.04" r="2.35"/><circle cx="38.27" cy="946.18" r="2.35"/><circle cx="37.19" cy="962.94" r="2.35"/></g><g fill="#D39200" fill-opacity="0.4" stroke="#D39200" stroke-opacity="0.7" stroke-width="0.6"><circle cx="56.53" cy="946.18" r="2.35"/><circle cx="64.23" cy="914.28" r="2.35"/><circle cx="57.73" cy="944.26" r="2.35"/><circle cx="62.14" cy="930.7" r="2.35"/></g><g fill="#93AA00" fill-opacity="0.4" stroke="#93AA00" stroke-opacity="0.7" stroke-width="0.6"><circle cx="78.44" cy="948.95" r="2.35"/><circle cx="75.05" cy="908.18" r="2.35"/><circle cx="83.15" cy="946.89" r="2.35"/><circle cx="78.01" cy="924.83" r="2.35"/><circle cx="85.71" cy="914.12" r="2.35"/></g><g fill="#00BA38" fill-opacity="0.4" stroke="#00BA38" stroke-opacity="0.7" stroke-width="0.6"><circle cx="93.16" cy="950.34" r="2.35"/><circle cx="106.31" cy="903.18" r="2.35"/><circle cx="97.04" cy="946.19" r="2.35"/><circle cx="103.34" cy="945.88" r="2.35"/><circle cx="101.7" cy="938.94" r="2.35"/><circle cx="102.73" cy="928.9" r="2.35"/><circle cx="97.45" cy="918.73" r="2.35"/></g><g fill="#00C19F" fill-opacity="0.4" stroke="#00C19F" stroke-opacity="0.7" stroke-width="0.6"><circle cx="114.81" cy="964.76" r="2.35"/><circle cx="115.98" cy="902.63" r="2.35"/><circle cx="113.58" cy="962.8" r="2.35"/><circle cx="118.13" cy="958.58" r="2.35"/><circle cx="123.21" cy="953.04" r="2.35"/><circle cx="113.35" cy="930.85" r="2.35"/><circle cx="121.29" cy="929.9" r="2.35"/><circle cx="112.6" cy="925.59" r="2.35"/><circle cx="115.44" cy="917.82" r="2.35"/></g><g fill="#00B9E3" fill-opacity="0.4" stroke="#00B9E3" stroke-opacity="0.7" stroke-width="0.6"><circle cx="133.33" cy="963.38" r="2.35"/><circle cx="134.26" cy="900.96" r="2.35"/><circle cx="138.97" cy="959.26" r="2.35"/><circle cx="142.89" cy="947.54" r="2.35"/><circle cx="143.62" cy="937.05" r="2.35"/><circle cx="136.31" cy="934.91" r="2.35"/><circle cx="131.93" cy="928.69" r="2.35"/><circle cx="135.16" cy="926.22" r="2.35"/><circle cx="141.01" cy="915.18" r="2.35"/></g><g fill="#619CFF" fill-opacity="0.4" stroke="#619CFF" stroke-opacity="0.7" stroke-width="0.6"><circle cx="156.55" cy="955.89" r="2.35"/><circle cx="162.39" cy="897.08" r="2.35"/><circle cx="158.52" cy="950.17" r="2.35"/><circle cx="159.55" cy="937.25" r="2.35"/><circle cx="154.94" cy="932.87" r="2.35"/><circle cx="156.47" cy="925.93" r="2.35"/><circle cx="159.53" cy="921.47" r="2.35"/><circle cx="156.93" cy="916.74" r="2.35"/><circle cx="153.96" cy="911.52" r="2.35"/><circle cx="152.36" cy="907.15" r="2.35"/></g><g fill="#DB72FB" fill-opacity="0.4" stroke="#DB72FB" stroke-opacity="0.7" stroke-width="0.6"><circle cx="179.42" cy="962.82" r="2.35"/><circle cx="180.44" cy="922.6" r="2.35"/><circle cx="178.87" cy="959.78" r="2.35"/><circle cx="171.21" cy="951.85" r="2.35"/><circle cx="174.47" cy="947.22" r="2.35"/><circle cx="170.52" cy="945.15" r="2.35"/><circle cx="182.48" cy="939.12" r="2.35"/><circle cx="173.49" cy="937.81" r="2.35"/><circle cx="177.33" cy="932.97" r="2.35"/><circle cx="181.25" cy="925.67" r="2.35"/><circle cx="178.31" cy="897.64" r="2.35"/></g><g fill="#FF61C3" fill-opacity="0.4" stroke="#FF61C3" stroke-opacity="0.7" stroke-width="0.6"><circle cx="194.17" cy="961.44" r="2.35"/><circle cx="189.7" cy="925.37" r="2.35"/><circle cx="197.38" cy="953.09" r="2.35"/><circle cx="189.08" cy="949.24" r="2.35"/><circle cx="190.84" cy="943.65" r="2.35"/><circle cx="202.05" cy="941.12" r="2.35"/><circle cx="189.06" cy="938.68" r="2.35"/><circle cx="201.22" cy="935.45" r="2.35"/><circle cx="195.26" cy="932.13" r="2.35"/><circle cx="193.14" cy="931.08" r="2.35"/><circle cx="190.5" cy="928.61" r="2.35"/><circle cx="200.78" cy="926.67" r="2.35"/><circle cx="191.06" cy="901.24" r="2.35"/></g><path d="M42.6 946.18V951.17M42.6 960.6V965.04" stroke="#F8766D" stroke-width="1.0" fill="none"/><rect x="35.45" y="951.17" width="14.3" height="9.43" fill="#fff" fill-opacity="0.72" stroke="#F8766D" stroke-width="1.05"/><path d="M35.45 955.89H49.75" stroke="#FF3426" stroke-width="1.5"/><path d="M61.69 914.28V928.98M61.69 944.79V946.18" stroke="#D39200" stroke-width="1.0" fill="none"/><rect x="54.54" y="928.98" width="14.3" height="15.81" fill="#fff" fill-opacity="0.72" stroke="#D39200" stroke-width="1.05"/><path d="M54.54 943.96H68.84" stroke="#AD7800" stroke-width="1.5"/><path d="M80.78 908.18V917.61M80.78 938.41V948.95" stroke="#93AA00" stroke-width="1.0" fill="none"/><rect x="73.63" y="917.61" width="14.3" height="20.8" fill="#fff" fill-opacity="0.72" stroke="#93AA00" stroke-width="1.05"/><path d="M73.63 927.32H87.93" stroke="#798B00" stroke-width="1.5"/><path d="M99.87 903.18V920.38M99.87 945.62V950.34" stroke="#00BA38" stroke-width="1.0" fill="none"/><rect x="92.72" y="920.38" width="14.3" height="25.24" fill="#fff" fill-opacity="0.72" stroke="#00BA38" stroke-width="1.05"/><path d="M92.72 935.36H107.02" stroke="#00992E" stroke-width="1.5"/><path d="M118.96 902.63V928.15M118.96 957.27V964.76" stroke="#00C19F" stroke-width="1.0" fill="none"/><rect x="111.81" y="928.15" width="14.3" height="29.13" fill="#fff" fill-opacity="0.72" stroke="#00C19F" stroke-width="1.05"/><path d="M111.81 930.92H126.11" stroke="#009E82" stroke-width="1.5"/><path d="M138.05 900.96V926.76M138.05 945.62V963.38" stroke="#00B9E3" stroke-width="1.0" fill="none"/><rect x="130.9" y="926.76" width="14.3" height="18.86" fill="#fff" fill-opacity="0.72" stroke="#00B9E3" stroke-width="1.05"/><path d="M130.9 930.92H145.2" stroke="#0098BA" stroke-width="1.5"/><path d="M157.14 897.08V913.45M157.14 933.7V955.89" stroke="#619CFF" stroke-width="1.0" fill="none"/><rect x="149.99" y="913.45" width="14.3" height="20.25" fill="#fff" fill-opacity="0.72" stroke="#619CFF" stroke-width="1.05"/><path d="M149.99 925.37H164.29" stroke="#2274FF" stroke-width="1.5"/><path d="M176.23 922.6V935.08M176.23 949.51V962.82" stroke="#DB72FB" stroke-width="1.0" fill="none"/><rect x="169.08" y="935.08" width="14.3" height="14.42" fill="#fff" fill-opacity="0.72" stroke="#DB72FB" stroke-width="1.05"/><path d="M169.08 942.02H183.38" stroke="#CE2CFF" stroke-width="1.5"/><path d="M195.32 925.37V930.09M195.32 944.79V961.44" stroke="#FF61C3" stroke-width="1.0" fill="none"/><rect x="188.17" y="930.09" width="14.3" height="14.7" fill="#fff" fill-opacity="0.72" stroke="#FF61C3" stroke-width="1.05"/><path d="M188.17 936.47H202.47" stroke="#FF22AB" stroke-width="1.5"/><path d="M42.6 923.99L46.42 924.38L50.24 924.78L54.05 925.17L57.87 925.56L61.69 925.96L65.51 926.35L69.33 926.74L73.14 927.13L76.96 927.53L80.78 927.92L84.6 928.31L88.42 928.7L92.23 929.09L96.05 929.47L99.87 929.86L103.69 930.24L107.51 930.63L111.32 931.01L115.14 931.38L118.96 931.75L122.78 932.12L126.6 932.48L130.41 932.82L134.23 933.14L138.05 933.43L141.87 933.66L145.69 933.81L149.5 933.85L153.32 933.77L157.14 933.58L160.96 933.32L164.78 933.01L168.59 932.68L172.41 932.33L176.23 931.97L180.05 931.61L183.87 931.23L187.68 930.85L191.5 930.47L195.32 930.09L195.32 940.08L191.5 939.69L187.68 939.31L183.87 938.93L180.05 938.56L176.23 938.19L172.41 937.83L168.59 937.48L164.78 937.15L160.96 936.85L157.14 936.59L153.32 936.4L149.5 936.31L145.69 936.35L141.87 936.5L138.05 936.74L134.23 937.03L130.41 937.35L126.6 937.69L122.78 938.05L118.96 938.41L115.14 938.78L111.32 939.16L107.51 939.54L103.69 939.92L99.87 940.31L96.05 940.69L92.23 941.08L88.42 941.47L84.6 941.86L80.78 942.25L76.96 942.64L73.14 943.03L69.33 943.42L65.51 943.82L61.69 944.21L57.87 944.6L54.05 945L50.24 945.39L46.42 945.78L42.6 946.18Z" fill="#999999" fill-opacity="0.34"/><path d="M42.6 935.08L195.32 935.08" stroke="#000" stroke-width="1.85"/><rect x="27.55" y="893.3" width="182.8" height="90.4" fill="none" stroke="#333" stroke-width="0.9"/><rect x="210.35" y="893.3" width="14" height="90.4" fill="#D9D9D9" stroke="#333" stroke-width="0.9"/><text x="217.35" y="938.5" transform="rotate(90 217.35 938.5)" font-size="7.35" fill="#1A1A1A" text-anchor="middle" dy="0.36em">NAH</text><text x="23.35" y="907.9" dy="0.36em" text-anchor="end" font-size="7.15" fill="#2E2E2E" stroke="#2E2E2E" stroke-width="0.12">73</text><text x="23.35" y="919.88" dy="0.36em" text-anchor="end" font-size="7.15" fill="#2E2E2E" stroke="#2E2E2E" stroke-width="0.12">68</text><text x="23.35" y="931.85" dy="0.36em" text-anchor="end" font-size="7.15" fill="#2E2E2E" stroke="#2E2E2E" stroke-width="0.12">63</text><text x="23.35" y="943.82" dy="0.36em" text-anchor="end" font-size="7.15" fill="#2E2E2E" stroke="#2E2E2E" stroke-width="0.12">58</text><text x="23.35" y="955.8" dy="0.36em" text-anchor="end" font-size="7.15" fill="#2E2E2E" stroke="#2E2E2E" stroke-width="0.12">53</text><text x="23.35" y="967.77" dy="0.36em" text-anchor="end" font-size="7.15" fill="#2E2E2E" stroke="#2E2E2E" stroke-width="0.12">48</text><text x="23.35" y="979.75" dy="0.36em" text-anchor="end" font-size="7.15" fill="#2E2E2E" stroke="#2E2E2E" stroke-width="0.12">43</text><path d="M25.05 907.9H27.55M25.05 919.88H27.55M25.05 931.85H27.55M25.05 943.82H27.55M25.05 955.8H27.55M25.05 967.77H27.55M25.05 979.75H27.55" stroke="#333" stroke-width="1.1"/><text x="42.6" y="992.9" text-anchor="middle" font-size="7.15" fill="#2E2E2E" stroke="#2E2E2E" stroke-width="0.12">2014</text><text x="61.69" y="992.9" text-anchor="middle" font-size="7.15" fill="#2E2E2E" stroke="#2E2E2E" stroke-width="0.12">2015</text><text x="80.78" y="992.9" text-anchor="middle" font-size="7.15" fill="#2E2E2E" stroke="#2E2E2E" stroke-width="0.12">2016</text><text x="99.87" y="992.9" text-anchor="middle" font-size="7.15" fill="#2E2E2E" stroke="#2E2E2E" stroke-width="0.12">2017</text><text x="118.96" y="992.9" text-anchor="middle" font-size="7.15" fill="#2E2E2E" stroke="#2E2E2E" stroke-width="0.12">2018</text><text x="138.05" y="992.9" text-anchor="middle" font-size="7.15" fill="#2E2E2E" stroke="#2E2E2E" stroke-width="0.12">2019</text><text x="157.14" y="992.9" text-anchor="middle" font-size="7.15" fill="#2E2E2E" stroke="#2E2E2E" stroke-width="0.12">2020</text><text x="176.23" y="992.9" text-anchor="middle" font-size="7.15" fill="#2E2E2E" stroke="#2E2E2E" stroke-width="0.12">2021</text><text x="195.32" y="992.9" text-anchor="middle" font-size="7.15" fill="#2E2E2E" stroke="#2E2E2E" stroke-width="0.12">2022</text><path d="M42.6 983.7V986.2M61.69 983.7V986.2M80.78 983.7V986.2M99.87 983.7V986.2M118.96 983.7V986.2M138.05 983.7V986.2M157.14 983.7V986.2M176.23 983.7V986.2M195.32 983.7V986.2" stroke="#333" stroke-width="1.1"/><text x="118.95" y="1003.6" text-anchor="middle" font-size="9.02" fill="#000" stroke="#000" stroke-width="0.1">Year</text><text x="11.25" y="890.75" transform="rotate(-90 11.25 890.75)" text-anchor="middle" font-size="9.02" fill="#000" stroke="#000" stroke-width="0.1">Score (%)</text><text x="256.6" y="778.6" font-size="10.82" fill="#000" xml:space="preserve">Non-punitive responses to errors</text><text x="256.6" y="791.2" font-size="9.02" fill="#000" xml:space="preserve">AH (P &lt; 0.001);  NAH (P = 0.09)</text><rect x="256.6" y="797.8" width="182.8" height="90.4" fill="#fff"/><path d="M256.6 799.4H439.4M256.6 811H439.4M256.6 822.6H439.4M256.6 834.2H439.4M256.6 845.8H439.4M256.6 857.4H439.4M256.6 869H439.4M256.6 880.6H439.4M262.11 797.8V888.2M281.2 797.8V888.2M300.29 797.8V888.2M319.38 797.8V888.2M338.47 797.8V888.2M357.56 797.8V888.2M376.65 797.8V888.2M395.74 797.8V888.2M414.83 797.8V888.2M433.92 797.8V888.2" stroke="#EEEEEE" stroke-width="0.5" fill="none"/><path d="M256.6 805.2H439.4M256.6 816.8H439.4M256.6 828.4H439.4M256.6 840H439.4M256.6 851.6H439.4M256.6 863.2H439.4M256.6 874.8H439.4M256.6 886.4H439.4M271.65 797.8V888.2M290.74 797.8V888.2M309.83 797.8V888.2M328.92 797.8V888.2M348.01 797.8V888.2M367.1 797.8V888.2M386.19 797.8V888.2M405.28 797.8V888.2M424.37 797.8V888.2" stroke="#E4E4E4" stroke-width="0.85" fill="none"/><g fill="#F8766D" fill-opacity="0.4" stroke="#F8766D" stroke-opacity="0.7" stroke-width="0.6"><circle cx="268.09" cy="875.44" r="2.35"/><circle cx="277.83" cy="852.7" r="2.35"/><circle cx="268.36" cy="872.87" r="2.35"/><circle cx="271.86" cy="870.75" r="2.35"/><circle cx="267.18" cy="869.05" r="2.35"/><circle cx="273.64" cy="865.62" r="2.35"/><circle cx="268.82" cy="862.19" r="2.35"/><circle cx="265.13" cy="859.38" r="2.35"/><circle cx="266.77" cy="852.75" r="2.35"/></g><g fill="#D39200" fill-opacity="0.4" stroke="#D39200" stroke-opacity="0.7" stroke-width="0.6"><circle cx="288.44" cy="879.6" r="2.35"/><circle cx="291.43" cy="833.83" r="2.35"/><circle cx="296.69" cy="876.13" r="2.35"/><circle cx="294.84" cy="871.61" r="2.35"/><circle cx="294.31" cy="866.14" r="2.35"/><circle cx="295.84" cy="862.37" r="2.35"/><circle cx="290.73" cy="858.34" r="2.35"/><circle cx="288.85" cy="856.32" r="2.35"/><circle cx="289.91" cy="851.72" r="2.35"/><circle cx="294.01" cy="848.24" r="2.35"/><circle cx="289.77" cy="845.4" r="2.35"/><circle cx="285.18" cy="840.05" r="2.35"/><circle cx="295.88" cy="834.1" r="2.35"/></g><g fill="#93AA00" fill-opacity="0.4" stroke="#93AA00" stroke-opacity="0.7" stroke-width="0.6"><circle cx="312.74" cy="874.06" r="2.35"/><circle cx="304.66" cy="840.77" r="2.35"/><circle cx="312.98" cy="873.79" r="2.35"/><circle cx="307.9" cy="870.41" r="2.35"/><circle cx="305.12" cy="869.16" r="2.35"/><circle cx="313.78" cy="868.37" r="2.35"/><circle cx="304.03" cy="867.02" r="2.35"/><circle cx="313.72" cy="866.79" r="2.35"/><circle cx="307.76" cy="865.23" r="2.35"/><circle cx="305.81" cy="864.16" r="2.35"/><circle cx="304.02" cy="862.7" r="2.35"/><circle cx="315.01" cy="860.77" r="2.35"/><circle cx="303.9" cy="859.6" r="2.35"/><circle cx="314.59" cy="856.56" r="2.35"/><circle cx="306.08" cy="855.2" r="2.35"/><circle cx="311.2" cy="853.43" r="2.35"/><circle cx="310.29" cy="852.1" r="2.35"/><circle cx="312.22" cy="850.08" r="2.35"/><circle cx="308.47" cy="845.31" r="2.35"/><circle cx="309.19" cy="844.06" r="2.35"/></g><g fill="#00BA38" fill-opacity="0.4" stroke="#00BA38" stroke-opacity="0.7" stroke-width="0.6"><circle cx="334.81" cy="872.67" r="2.35"/><circle cx="332.33" cy="832.45" r="2.35"/><circle cx="334.27" cy="871.96" r="2.35"/><circle cx="329.52" cy="869.98" r="2.35"/><circle cx="329.86" cy="868.42" r="2.35"/><circle cx="324.27" cy="867.64" r="2.35"/><circle cx="327.48" cy="866.15" r="2.35"/><circle cx="331.1" cy="865.57" r="2.35"/><circle cx="335.52" cy="865.14" r="2.35"/><circle cx="332.36" cy="864.35" r="2.35"/><circle cx="324.56" cy="863.49" r="2.35"/><circle cx="333.21" cy="862.85" r="2.35"/><circle cx="334.68" cy="862.09" r="2.35"/><circle cx="324.51" cy="861.92" r="2.35"/><circle cx="334.83" cy="860.29" r="2.35"/><circle cx="334.28" cy="858.46" r="2.35"/><circle cx="332.74" cy="857.51" r="2.35"/><circle cx="322.31" cy="856.06" r="2.35"/><circle cx="334.01" cy="855.56" r="2.35"/><circle cx="334.55" cy="854.28" r="2.35"/><circle cx="323.5" cy="852.79" r="2.35"/><circle cx="334.54" cy="849.66" r="2.35"/><circle cx="333.4" cy="844.2" r="2.35"/><circle cx="324.72" cy="839.35" r="2.35"/><circle cx="325" cy="837.18" r="2.35"/></g><g fill="#00C19F" fill-opacity="0.4" stroke="#00C19F" stroke-opacity="0.7" stroke-width="0.6"><circle cx="351.32" cy="871.28" r="2.35"/><circle cx="348.84" cy="831.06" r="2.35"/><circle cx="352.6" cy="870.7" r="2.35"/><circle cx="344.79" cy="869.05" r="2.35"/><circle cx="351.24" cy="867.79" r="2.35"/><circle cx="353.71" cy="866.97" r="2.35"/><circle cx="344.11" cy="866.14" r="2.35"/><circle cx="351.69" cy="865.54" r="2.35"/><circle cx="346.48" cy="865.21" r="2.35"/><circle cx="352.26" cy="864.24" r="2.35"/><circle cx="345.02" cy="863.65" r="2.35"/><circle cx="352.06" cy="862.89" r="2.35"/><circle cx="344.09" cy="861.91" r="2.35"/><circle cx="349.83" cy="860.98" r="2.35"/><circle cx="349.08" cy="859.26" r="2.35"/><circle cx="343.85" cy="858.17" r="2.35"/><circle cx="341.21" cy="855.72" r="2.35"/><circle cx="347.6" cy="855.05" r="2.35"/><circle cx="353.82" cy="851.85" r="2.35"/><circle cx="350.15" cy="850.33" r="2.35"/><circle cx="353.74" cy="848.72" r="2.35"/><circle cx="351.17" cy="846.59" r="2.35"/><circle cx="346.26" cy="845.56" r="2.35"/><circle cx="353.41" cy="843.64" r="2.35"/><circle cx="350.38" cy="839.12" r="2.35"/><circle cx="348.05" cy="835.23" r="2.35"/><circle cx="349.83" cy="834.62" r="2.35"/></g><g fill="#00B9E3" fill-opacity="0.4" stroke="#00B9E3" stroke-opacity="0.7" stroke-width="0.6"><circle cx="364.68" cy="881.82" r="2.35"/><circle cx="360.98" cy="833.83" r="2.35"/><circle cx="361.07" cy="881.35" r="2.35"/><circle cx="366.6" cy="878.05" r="2.35"/><circle cx="362.02" cy="876.05" r="2.35"/><circle cx="367.16" cy="873.25" r="2.35"/><circle cx="366.78" cy="872.55" r="2.35"/><circle cx="373.36" cy="870.96" r="2.35"/><circle cx="363.05" cy="869.98" r="2.35"/><circle cx="370.18" cy="868.52" r="2.35"/><circle cx="366.59" cy="867.87" r="2.35"/><circle cx="361.02" cy="865.96" r="2.35"/><circle cx="361.1" cy="865.79" r="2.35"/><circle cx="363.71" cy="863.55" r="2.35"/><circle cx="361.98" cy="862.51" r="2.35"/><circle cx="369.44" cy="860.84" r="2.35"/><circle cx="365.49" cy="860.41" r="2.35"/><circle cx="368.66" cy="859.01" r="2.35"/><circle cx="361.88" cy="857.27" r="2.35"/><circle cx="363.5" cy="856.24" r="2.35"/><circle cx="368.98" cy="854.33" r="2.35"/><circle cx="360.47" cy="852.68" r="2.35"/><circle cx="365.49" cy="851.56" r="2.35"/><circle cx="364.43" cy="850.75" r="2.35"/><circle cx="372.44" cy="849.15" r="2.35"/><circle cx="364.78" cy="847.31" r="2.35"/><circle cx="372.5" cy="845.47" r="2.35"/><circle cx="373.89" cy="843.5" r="2.35"/><circle cx="363.64" cy="841.55" r="2.35"/><circle cx="362.32" cy="839.78" r="2.35"/><circle cx="362.97" cy="834.98" r="2.35"/></g><g fill="#619CFF" fill-opacity="0.4" stroke="#619CFF" stroke-opacity="0.7" stroke-width="0.6"><circle cx="379.9" cy="876.83" r="2.35"/><circle cx="386.7" cy="822.74" r="2.35"/><circle cx="382.71" cy="875.31" r="2.35"/><circle cx="379.37" cy="873.58" r="2.35"/><circle cx="387.08" cy="870.88" r="2.35"/><circle cx="392.05" cy="868.01" r="2.35"/><circle cx="388.49" cy="866.59" r="2.35"/><circle cx="379.95" cy="864.71" r="2.35"/><circle cx="390.59" cy="863.36" r="2.35"/><circle cx="380.42" cy="862.06" r="2.35"/><circle cx="384.56" cy="859.38" r="2.35"/><circle cx="391.38" cy="857.74" r="2.35"/><circle cx="382.78" cy="855.05" r="2.35"/><circle cx="385.87" cy="852.92" r="2.35"/><circle cx="386.55" cy="850.21" r="2.35"/><circle cx="388.69" cy="849.45" r="2.35"/><circle cx="385.46" cy="846.88" r="2.35"/><circle cx="391.08" cy="845.27" r="2.35"/><circle cx="379.38" cy="844.92" r="2.35"/><circle cx="388.02" cy="843.55" r="2.35"/><circle cx="385.01" cy="842.66" r="2.35"/><circle cx="388.57" cy="841.94" r="2.35"/><circle cx="381.52" cy="841.29" r="2.35"/><circle cx="389.12" cy="840.4" r="2.35"/><circle cx="389.27" cy="839.71" r="2.35"/><circle cx="380.92" cy="838.79" r="2.35"/><circle cx="389.97" cy="836.28" r="2.35"/><circle cx="390.64" cy="834.31" r="2.35"/><circle cx="389.56" cy="830.64" r="2.35"/><circle cx="380.32" cy="828.22" r="2.35"/><circle cx="382.63" cy="825.6" r="2.35"/></g><g fill="#DB72FB" fill-opacity="0.4" stroke="#DB72FB" stroke-opacity="0.7" stroke-width="0.6"><circle cx="399.78" cy="870.45" r="2.35"/><circle cx="399.72" cy="817.19" r="2.35"/><circle cx="407.65" cy="870.04" r="2.35"/><circle cx="400.12" cy="867.99" r="2.35"/><circle cx="402.77" cy="866.68" r="2.35"/><circle cx="401.02" cy="866.47" r="2.35"/><circle cx="399.5" cy="864.79" r="2.35"/><circle cx="402.06" cy="863.44" r="2.35"/><circle cx="400.59" cy="863.08" r="2.35"/><circle cx="411.12" cy="862.15" r="2.35"/><circle cx="411.28" cy="861.64" r="2.35"/><circle cx="400.17" cy="861.14" r="2.35"/><circle cx="401.15" cy="860.24" r="2.35"/><circle cx="411.2" cy="860" r="2.35"/><circle cx="403.03" cy="858.76" r="2.35"/><circle cx="402.13" cy="858.03" r="2.35"/><circle cx="409.61" cy="857.3" r="2.35"/><circle cx="403.91" cy="855.75" r="2.35"/><circle cx="409.18" cy="854.98" r="2.35"/><circle cx="409.63" cy="853.87" r="2.35"/><circle cx="399.36" cy="853.52" r="2.35"/><circle cx="406.09" cy="852.48" r="2.35"/><circle cx="403.04" cy="851.17" r="2.35"/><circle cx="408.25" cy="850.31" r="2.35"/><circle cx="405.33" cy="849.08" r="2.35"/><circle cx="404.44" cy="848.54" r="2.35"/><circle cx="410.1" cy="847.27" r="2.35"/><circle cx="410.23" cy="846.97" r="2.35"/><circle cx="409.78" cy="845.7" r="2.35"/><circle cx="410.78" cy="844.62" r="2.35"/><circle cx="401.25" cy="844.05" r="2.35"/><circle cx="402.99" cy="841.26" r="2.35"/><circle cx="410.95" cy="839.47" r="2.35"/><circle cx="405.9" cy="835.93" r="2.35"/><circle cx="399.2" cy="833.06" r="2.35"/><circle cx="411.77" cy="832.01" r="2.35"/><circle cx="404" cy="826.07" r="2.35"/><circle cx="404.4" cy="822.63" r="2.35"/><circle cx="407.87" cy="821.13" r="2.35"/><circle cx="412.04" cy="801.1" r="2.35"/></g><g fill="#FF61C3" fill-opacity="0.4" stroke="#FF61C3" stroke-opacity="0.7" stroke-width="0.6"><circle cx="428.51" cy="883.21" r="2.35"/><circle cx="421.65" cy="807.48" r="2.35"/><circle cx="430.79" cy="881.68" r="2.35"/><circle cx="423.35" cy="879.24" r="2.35"/><circle cx="426.44" cy="877.33" r="2.35"/><circle cx="429.6" cy="875.19" r="2.35"/><circle cx="429.69" cy="872.91" r="2.35"/><circle cx="417.94" cy="870.79" r="2.35"/><circle cx="420.23" cy="868.69" r="2.35"/><circle cx="430.96" cy="866.11" r="2.35"/><circle cx="421.72" cy="864.18" r="2.35"/><circle cx="422.89" cy="862.87" r="2.35"/><circle cx="426.93" cy="861.53" r="2.35"/><circle cx="426.06" cy="861.02" r="2.35"/><circle cx="427.24" cy="859.91" r="2.35"/><circle cx="427.76" cy="859.29" r="2.35"/><circle cx="425.42" cy="858.6" r="2.35"/><circle cx="421.58" cy="858.12" r="2.35"/><circle cx="427.68" cy="857.57" r="2.35"/><circle cx="424.48" cy="856.74" r="2.35"/><circle cx="421.57" cy="855.96" r="2.35"/><circle cx="422.58" cy="855.82" r="2.35"/><circle cx="422.92" cy="855.16" r="2.35"/><circle cx="422.95" cy="854.46" r="2.35"/><circle cx="427.57" cy="853.8" r="2.35"/><circle cx="428.05" cy="852.74" r="2.35"/><circle cx="419.4" cy="852.53" r="2.35"/><circle cx="430.89" cy="851.22" r="2.35"/><circle cx="418.25" cy="850.54" r="2.35"/><circle cx="427.54" cy="849.74" r="2.35"/><circle cx="430.41" cy="849.07" r="2.35"/><circle cx="424.32" cy="848.38" r="2.35"/><circle cx="424.48" cy="847.72" r="2.35"/><circle cx="423.07" cy="846.29" r="2.35"/><circle cx="423.03" cy="846.11" r="2.35"/><circle cx="429.81" cy="844.89" r="2.35"/><circle cx="431.17" cy="844.4" r="2.35"/><circle cx="423.02" cy="843.55" r="2.35"/><circle cx="430.95" cy="842.16" r="2.35"/><circle cx="419.79" cy="841.65" r="2.35"/><circle cx="428.28" cy="841.03" r="2.35"/><circle cx="418.38" cy="839" r="2.35"/><circle cx="429.96" cy="838.37" r="2.35"/><circle cx="421.41" cy="835.92" r="2.35"/><circle cx="418.2" cy="832.89" r="2.35"/><circle cx="425.9" cy="830.65" r="2.35"/><circle cx="428.86" cy="827.39" r="2.35"/><circle cx="425.7" cy="823.77" r="2.35"/><circle cx="423.35" cy="821.95" r="2.35"/><circle cx="430.96" cy="816.48" r="2.35"/><circle cx="423.99" cy="814.31" r="2.35"/><circle cx="421.48" cy="809.63" r="2.35"/></g><path d="M271.65 852.7V858.8M271.65 870.45V875.44" stroke="#F8766D" stroke-width="1.0" fill="none"/><rect x="264.5" y="858.8" width="14.3" height="11.65" fill="#fff" fill-opacity="0.72" stroke="#F8766D" stroke-width="1.05"/><path d="M264.5 864.35H278.8" stroke="#FF3426" stroke-width="1.5"/><path d="M290.74 833.83V846.32M290.74 864.35V879.6" stroke="#D39200" stroke-width="1.0" fill="none"/><rect x="283.59" y="846.32" width="14.3" height="18.03" fill="#fff" fill-opacity="0.72" stroke="#D39200" stroke-width="1.05"/><path d="M283.59 855.47H297.89" stroke="#AD7800" stroke-width="1.5"/><path d="M309.83 840.77V853.25M309.83 867.68V874.06" stroke="#93AA00" stroke-width="1.0" fill="none"/><rect x="302.68" y="853.25" width="14.3" height="14.42" fill="#fff" fill-opacity="0.72" stroke="#93AA00" stroke-width="1.05"/><path d="M302.68 861.57H316.98" stroke="#798B00" stroke-width="1.5"/><path d="M328.92 832.45V854.08M328.92 865.74V872.67" stroke="#00BA38" stroke-width="1.0" fill="none"/><rect x="321.77" y="854.08" width="14.3" height="11.65" fill="#fff" fill-opacity="0.72" stroke="#00BA38" stroke-width="1.05"/><path d="M321.77 861.57H336.07" stroke="#00992E" stroke-width="1.5"/><path d="M348.01 831.06V847.7M348.01 865.18V871.28" stroke="#00C19F" stroke-width="1.0" fill="none"/><rect x="340.86" y="847.7" width="14.3" height="17.48" fill="#fff" fill-opacity="0.72" stroke="#00C19F" stroke-width="1.05"/><path d="M340.86 860.19H355.16" stroke="#009E82" stroke-width="1.5"/><path d="M367.1 833.83V849.92M367.1 869.34V881.82" stroke="#00B9E3" stroke-width="1.0" fill="none"/><rect x="359.95" y="849.92" width="14.3" height="19.42" fill="#fff" fill-opacity="0.72" stroke="#00B9E3" stroke-width="1.05"/><path d="M359.95 860.19H374.25" stroke="#0098BA" stroke-width="1.5"/><path d="M386.19 822.74V840.21M386.19 862.41V876.83" stroke="#619CFF" stroke-width="1.0" fill="none"/><rect x="379.04" y="840.21" width="14.3" height="22.19" fill="#fff" fill-opacity="0.72" stroke="#619CFF" stroke-width="1.05"/><path d="M379.04 846.32H393.34" stroke="#2274FF" stroke-width="1.5"/><path d="M405.28 817.19V844.38M405.28 861.57V870.45" stroke="#DB72FB" stroke-width="1.0" fill="none"/><rect x="398.13" y="844.38" width="14.3" height="17.2" fill="#fff" fill-opacity="0.72" stroke="#DB72FB" stroke-width="1.05"/><path d="M398.13 853.25H412.43" stroke="#CE2CFF" stroke-width="1.5"/><path d="M424.37 807.48V841.6M424.37 860.19V883.21" stroke="#FF61C3" stroke-width="1.0" fill="none"/><rect x="417.22" y="841.6" width="14.3" height="18.59" fill="#fff" fill-opacity="0.72" stroke="#FF61C3" stroke-width="1.05"/><path d="M417.22 851.87H431.52" stroke="#FF22AB" stroke-width="1.5"/><path d="M271.65 859.63L275.47 859.42L279.29 859.22L283.1 859.01L286.92 858.8L290.74 858.59L294.56 858.37L298.38 858.16L302.19 857.95L306.01 857.73L309.83 857.52L313.65 857.3L317.47 857.08L321.28 856.86L325.1 856.64L328.92 856.41L332.74 856.18L336.56 855.94L340.37 855.7L344.19 855.45L348.01 855.19L351.83 854.93L355.65 854.65L359.46 854.36L363.28 854.06L367.1 853.74L370.92 853.41L374.74 853.06L378.55 852.71L382.37 852.34L386.19 851.97L390.01 851.59L393.83 851.2L397.64 850.81L401.46 850.41L405.28 850.01L409.1 849.61L412.92 849.21L416.73 848.8L420.55 848.39L424.37 847.98L424.37 851.87L420.55 852.08L416.73 852.3L412.92 852.51L409.1 852.73L405.28 852.96L401.46 853.18L397.64 853.41L393.83 853.64L390.01 853.88L386.19 854.12L382.37 854.37L378.55 854.63L374.74 854.9L370.92 855.18L367.1 855.47L363.28 855.78L359.46 856.1L355.65 856.43L351.83 856.78L348.01 857.14L344.19 857.5L340.37 857.88L336.56 858.26L332.74 858.65L328.92 859.04L325.1 859.44L321.28 859.84L317.47 860.24L313.65 860.65L309.83 861.05L306.01 861.46L302.19 861.87L298.38 862.28L294.56 862.69L290.74 863.11L286.92 863.52L283.1 863.93L279.29 864.35L275.47 864.76L271.65 865.18Z" fill="#999999" fill-opacity="0.34"/><path d="M271.65 862.41L424.37 849.92" stroke="#000" stroke-width="1.85"/><rect x="256.6" y="797.8" width="182.8" height="90.4" fill="none" stroke="#333" stroke-width="0.9"/><rect x="439.4" y="797.8" width="13.85" height="90.4" fill="#D9D9D9" stroke="#333" stroke-width="0.9"/><text x="446.33" y="843" transform="rotate(90 446.33 843)" font-size="7.35" fill="#1A1A1A" text-anchor="middle" dy="0.36em">AH</text><text x="252.4" y="805.2" dy="0.36em" text-anchor="end" font-size="7.15" fill="#2E2E2E" stroke="#2E2E2E" stroke-width="0.12">59</text><text x="252.4" y="816.8" dy="0.36em" text-anchor="end" font-size="7.15" fill="#2E2E2E" stroke="#2E2E2E" stroke-width="0.12">55</text><text x="252.4" y="828.4" dy="0.36em" text-anchor="end" font-size="7.15" fill="#2E2E2E" stroke="#2E2E2E" stroke-width="0.12">51</text><text x="252.4" y="840" dy="0.36em" text-anchor="end" font-size="7.15" fill="#2E2E2E" stroke="#2E2E2E" stroke-width="0.12">47</text><text x="252.4" y="851.6" dy="0.36em" text-anchor="end" font-size="7.15" fill="#2E2E2E" stroke="#2E2E2E" stroke-width="0.12">43</text><text x="252.4" y="863.2" dy="0.36em" text-anchor="end" font-size="7.15" fill="#2E2E2E" stroke="#2E2E2E" stroke-width="0.12">39</text><text x="252.4" y="874.8" dy="0.36em" text-anchor="end" font-size="7.15" fill="#2E2E2E" stroke="#2E2E2E" stroke-width="0.12">35</text><text x="252.4" y="886.4" dy="0.36em" text-anchor="end" font-size="7.15" fill="#2E2E2E" stroke="#2E2E2E" stroke-width="0.12">31</text><path d="M254.1 805.2H256.6M254.1 816.8H256.6M254.1 828.4H256.6M254.1 840H256.6M254.1 851.6H256.6M254.1 863.2H256.6M254.1 874.8H256.6M254.1 886.4H256.6" stroke="#333" stroke-width="1.1"/><rect x="256.6" y="893.3" width="182.8" height="90.4" fill="#fff"/><path d="M256.6 894.9H439.4M256.6 906.5H439.4M256.6 918.1H439.4M256.6 929.7H439.4M256.6 941.3H439.4M256.6 952.9H439.4M256.6 964.5H439.4M256.6 976.1H439.4M262.11 893.3V983.7M281.2 893.3V983.7M300.29 893.3V983.7M319.38 893.3V983.7M338.47 893.3V983.7M357.56 893.3V983.7M376.65 893.3V983.7M395.74 893.3V983.7M414.83 893.3V983.7M433.92 893.3V983.7" stroke="#EEEEEE" stroke-width="0.5" fill="none"/><path d="M256.6 900.7H439.4M256.6 912.3H439.4M256.6 923.9H439.4M256.6 935.5H439.4M256.6 947.1H439.4M256.6 958.7H439.4M256.6 970.3H439.4M256.6 981.9H439.4M271.65 893.3V983.7M290.74 893.3V983.7M309.83 893.3V983.7M328.92 893.3V983.7M348.01 893.3V983.7M367.1 893.3V983.7M386.19 893.3V983.7M405.28 893.3V983.7M424.37 893.3V983.7" stroke="#E4E4E4" stroke-width="0.85" fill="none"/><g fill="#F8766D" fill-opacity="0.4" stroke="#F8766D" stroke-opacity="0.7" stroke-width="0.6"><circle cx="270.88" cy="966.43" r="2.35"/><circle cx="275.59" cy="964.21" r="2.35"/><circle cx="269.41" cy="965.85" r="2.35"/></g><g fill="#D39200" fill-opacity="0.4" stroke="#D39200" stroke-opacity="0.7" stroke-width="0.6"><circle cx="293.23" cy="956.72" r="2.35"/><circle cx="296.66" cy="947.01" r="2.35"/><circle cx="289.97" cy="956.31" r="2.35"/><circle cx="296.84" cy="950.47" r="2.35"/></g><g fill="#93AA00" fill-opacity="0.4" stroke="#93AA00" stroke-opacity="0.7" stroke-width="0.6"><circle cx="303.44" cy="964.76" r="2.35"/><circle cx="309.79" cy="948.4" r="2.35"/><circle cx="310.64" cy="963.24" r="2.35"/><circle cx="305.34" cy="958" r="2.35"/><circle cx="305.9" cy="951.38" r="2.35"/></g><g fill="#00BA38" fill-opacity="0.4" stroke="#00BA38" stroke-opacity="0.7" stroke-width="0.6"><circle cx="335.64" cy="973.92" r="2.35"/><circle cx="331.16" cy="937.3" r="2.35"/><circle cx="329.43" cy="969.22" r="2.35"/><circle cx="329.41" cy="957.01" r="2.35"/><circle cx="323.83" cy="950.34" r="2.35"/><circle cx="326.38" cy="949.72" r="2.35"/><circle cx="327.84" cy="942.98" r="2.35"/></g><g fill="#00C19F" fill-opacity="0.4" stroke="#00C19F" stroke-opacity="0.7" stroke-width="0.6"><circle cx="353.36" cy="973.92" r="2.35"/><circle cx="346.24" cy="937.86" r="2.35"/><circle cx="342.77" cy="973.52" r="2.35"/><circle cx="344.92" cy="968.64" r="2.35"/><circle cx="349.57" cy="967.51" r="2.35"/><circle cx="352.68" cy="961.98" r="2.35"/><circle cx="343.87" cy="952.4" r="2.35"/><circle cx="354.48" cy="948.73" r="2.35"/><circle cx="341.39" cy="940.34" r="2.35"/></g><g fill="#00B9E3" fill-opacity="0.4" stroke="#00B9E3" stroke-opacity="0.7" stroke-width="0.6"><circle cx="363.24" cy="979.47" r="2.35"/><circle cx="366.56" cy="932.31" r="2.35"/><circle cx="367.26" cy="965.65" r="2.35"/><circle cx="362.25" cy="958.75" r="2.35"/><circle cx="373.02" cy="952.58" r="2.35"/><circle cx="364.34" cy="949.6" r="2.35"/><circle cx="362.16" cy="946.38" r="2.35"/><circle cx="363.82" cy="942.24" r="2.35"/><circle cx="361.8" cy="934.43" r="2.35"/><circle cx="362.54" cy="978.91" r="2.35"/><circle cx="373.52" cy="979.74" r="2.35"/></g><g fill="#619CFF" fill-opacity="0.4" stroke="#619CFF" stroke-opacity="0.7" stroke-width="0.6"><circle cx="380.51" cy="966.43" r="2.35"/><circle cx="388.19" cy="917.05" r="2.35"/><circle cx="388.01" cy="962.89" r="2.35"/><circle cx="383" cy="954.82" r="2.35"/><circle cx="381.71" cy="949.59" r="2.35"/><circle cx="380.18" cy="947.39" r="2.35"/><circle cx="381.84" cy="946.48" r="2.35"/><circle cx="385.79" cy="937.74" r="2.35"/><circle cx="379.57" cy="935.09" r="2.35"/><circle cx="380.4" cy="927.15" r="2.35"/></g><g fill="#DB72FB" fill-opacity="0.4" stroke="#DB72FB" stroke-opacity="0.7" stroke-width="0.6"><circle cx="402.06" cy="979.47" r="2.35"/><circle cx="412.15" cy="939.24" r="2.35"/><circle cx="398.53" cy="971.17" r="2.35"/><circle cx="408.35" cy="965.41" r="2.35"/><circle cx="402.72" cy="958.79" r="2.35"/><circle cx="408.61" cy="957.58" r="2.35"/><circle cx="406.68" cy="952.31" r="2.35"/><circle cx="400.54" cy="950.48" r="2.35"/><circle cx="401.79" cy="946.24" r="2.35"/><circle cx="411.35" cy="943.53" r="2.35"/><circle cx="411.78" cy="923.43" r="2.35"/><circle cx="400.29" cy="923.99" r="2.35"/></g><g fill="#FF61C3" fill-opacity="0.4" stroke="#FF61C3" stroke-opacity="0.7" stroke-width="0.6"><circle cx="431.14" cy="976.69" r="2.35"/><circle cx="427.87" cy="921.21" r="2.35"/><circle cx="430.4" cy="971.28" r="2.35"/><circle cx="429.27" cy="965.78" r="2.35"/><circle cx="418.24" cy="961.85" r="2.35"/><circle cx="429.15" cy="954.88" r="2.35"/><circle cx="422.05" cy="953.27" r="2.35"/><circle cx="419.63" cy="945.74" r="2.35"/><circle cx="428.23" cy="943.98" r="2.35"/><circle cx="418.74" cy="938.9" r="2.35"/><circle cx="422.37" cy="935.76" r="2.35"/><circle cx="427.42" cy="928.93" r="2.35"/></g><path d="M271.65 964.21V964.76M271.65 965.87V966.43" stroke="#F8766D" stroke-width="1.0" fill="none"/><rect x="264.5" y="964.76" width="14.3" height="1.11" fill="#fff" fill-opacity="0.72" stroke="#F8766D" stroke-width="1.05"/><path d="M264.5 965.32H278.8" stroke="#FF3426" stroke-width="1.5"/><path d="M290.74 947.01V950.34M290.74 956.72V956.72" stroke="#D39200" stroke-width="1.0" fill="none"/><rect x="283.59" y="950.34" width="14.3" height="6.38" fill="#fff" fill-opacity="0.72" stroke="#D39200" stroke-width="1.05"/><path d="M283.59 953.67H297.89" stroke="#AD7800" stroke-width="1.5"/><path d="M309.83 948.4V952.28M309.83 960.6V964.76" stroke="#93AA00" stroke-width="1.0" fill="none"/><rect x="302.68" y="952.28" width="14.3" height="8.32" fill="#fff" fill-opacity="0.72" stroke="#93AA00" stroke-width="1.05"/><path d="M302.68 955.89H316.98" stroke="#798B00" stroke-width="1.5"/><path d="M328.92 937.3V947.01M328.92 961.44V973.92" stroke="#00BA38" stroke-width="1.0" fill="none"/><rect x="321.77" y="947.01" width="14.3" height="14.42" fill="#fff" fill-opacity="0.72" stroke="#00BA38" stroke-width="1.05"/><path d="M321.77 951.73H336.07" stroke="#00992E" stroke-width="1.5"/><path d="M348.01 937.86V948.95M348.01 968.37V973.92" stroke="#00C19F" stroke-width="1.0" fill="none"/><rect x="340.86" y="948.95" width="14.3" height="19.42" fill="#fff" fill-opacity="0.72" stroke="#00C19F" stroke-width="1.05"/><path d="M340.86 962.82H355.16" stroke="#009E82" stroke-width="1.5"/><path d="M367.1 932.31V945.35M367.1 958.11V979.47" stroke="#00B9E3" stroke-width="1.0" fill="none"/><rect x="359.95" y="945.35" width="14.3" height="12.76" fill="#fff" fill-opacity="0.72" stroke="#00B9E3" stroke-width="1.05"/><path d="M359.95 950.34H374.25" stroke="#0098BA" stroke-width="1.5"/><path d="M386.19 917.05V937.02M386.19 949.79V966.43" stroke="#619CFF" stroke-width="1.0" fill="none"/><rect x="379.04" y="937.02" width="14.3" height="12.76" fill="#fff" fill-opacity="0.72" stroke="#619CFF" stroke-width="1.05"/><path d="M379.04 947.01H393.34" stroke="#2274FF" stroke-width="1.5"/><path d="M405.28 939.24V947.57M405.28 962.82V979.47" stroke="#DB72FB" stroke-width="1.0" fill="none"/><rect x="398.13" y="947.57" width="14.3" height="15.26" fill="#fff" fill-opacity="0.72" stroke="#DB72FB" stroke-width="1.05"/><path d="M398.13 954.5H412.43" stroke="#CE2CFF" stroke-width="1.5"/><path d="M424.37 921.21V937.3M424.37 961.44V976.69" stroke="#FF61C3" stroke-width="1.0" fill="none"/><rect x="417.22" y="937.3" width="14.3" height="24.13" fill="#fff" fill-opacity="0.72" stroke="#FF61C3" stroke-width="1.05"/><path d="M417.22 948.95H431.52" stroke="#FF22AB" stroke-width="1.5"/><path d="M271.65 953.11L275.47 953.08L279.29 953.04L283.1 953L286.92 952.97L290.74 952.93L294.56 952.89L298.38 952.85L302.19 952.8L306.01 952.76L309.83 952.71L313.65 952.66L317.47 952.61L321.28 952.56L325.1 952.5L328.92 952.44L332.74 952.37L336.56 952.29L340.37 952.21L344.19 952.11L348.01 952L351.83 951.88L355.65 951.73L359.46 951.55L363.28 951.34L367.1 951.09L370.92 950.8L374.74 950.47L378.55 950.1L382.37 949.7L386.19 949.27L390.01 948.81L393.83 948.34L397.64 947.86L401.46 947.36L405.28 946.85L409.1 946.34L412.92 945.82L416.73 945.3L420.55 944.77L424.37 944.24L424.37 952.56L420.55 952.61L416.73 952.66L412.92 952.72L409.1 952.79L405.28 952.86L401.46 952.93L397.64 953.02L393.83 953.11L390.01 953.22L386.19 953.35L382.37 953.51L378.55 953.69L374.74 953.9L370.92 954.15L367.1 954.44L363.28 954.78L359.46 955.15L355.65 955.55L351.83 955.99L348.01 956.44L344.19 956.92L340.37 957.4L336.56 957.9L332.74 958.41L328.92 958.92L325.1 959.44L321.28 959.97L317.47 960.49L313.65 961.02L309.83 961.56L306.01 962.1L302.19 962.63L298.38 963.17L294.56 963.71L290.74 964.26L286.92 964.8L283.1 965.35L279.29 965.89L275.47 966.44L271.65 966.98Z" fill="#999999" fill-opacity="0.34"/><path d="M271.65 960.05L424.37 948.4" stroke="#000" stroke-width="1.85"/><rect x="256.6" y="893.3" width="182.8" height="90.4" fill="none" stroke="#333" stroke-width="0.9"/><rect x="439.4" y="893.3" width="13.85" height="90.4" fill="#D9D9D9" stroke="#333" stroke-width="0.9"/><text x="446.33" y="938.5" transform="rotate(90 446.33 938.5)" font-size="7.35" fill="#1A1A1A" text-anchor="middle" dy="0.36em">NAH</text><text x="252.4" y="900.7" dy="0.36em" text-anchor="end" font-size="7.15" fill="#2E2E2E" stroke="#2E2E2E" stroke-width="0.12">59</text><text x="252.4" y="912.3" dy="0.36em" text-anchor="end" font-size="7.15" fill="#2E2E2E" stroke="#2E2E2E" stroke-width="0.12">55</text><text x="252.4" y="923.9" dy="0.36em" text-anchor="end" font-size="7.15" fill="#2E2E2E" stroke="#2E2E2E" stroke-width="0.12">51</text><text x="252.4" y="935.5" dy="0.36em" text-anchor="end" font-size="7.15" fill="#2E2E2E" stroke="#2E2E2E" stroke-width="0.12">47</text><text x="252.4" y="947.1" dy="0.36em" text-anchor="end" font-size="7.15" fill="#2E2E2E" stroke="#2E2E2E" stroke-width="0.12">43</text><text x="252.4" y="958.7" dy="0.36em" text-anchor="end" font-size="7.15" fill="#2E2E2E" stroke="#2E2E2E" stroke-width="0.12">39</text><text x="252.4" y="970.3" dy="0.36em" text-anchor="end" font-size="7.15" fill="#2E2E2E" stroke="#2E2E2E" stroke-width="0.12">35</text><text x="252.4" y="981.9" dy="0.36em" text-anchor="end" font-size="7.15" fill="#2E2E2E" stroke="#2E2E2E" stroke-width="0.12">31</text><path d="M254.1 900.7H256.6M254.1 912.3H256.6M254.1 923.9H256.6M254.1 935.5H256.6M254.1 947.1H256.6M254.1 958.7H256.6M254.1 970.3H256.6M254.1 981.9H256.6" stroke="#333" stroke-width="1.1"/><text x="271.65" y="992.9" text-anchor="middle" font-size="7.15" fill="#2E2E2E" stroke="#2E2E2E" stroke-width="0.12">2014</text><text x="290.74" y="992.9" text-anchor="middle" font-size="7.15" fill="#2E2E2E" stroke="#2E2E2E" stroke-width="0.12">2015</text><text x="309.83" y="992.9" text-anchor="middle" font-size="7.15" fill="#2E2E2E" stroke="#2E2E2E" stroke-width="0.12">2016</text><text x="328.92" y="992.9" text-anchor="middle" font-size="7.15" fill="#2E2E2E" stroke="#2E2E2E" stroke-width="0.12">2017</text><text x="348.01" y="992.9" text-anchor="middle" font-size="7.15" fill="#2E2E2E" stroke="#2E2E2E" stroke-width="0.12">2018</text><text x="367.1" y="992.9" text-anchor="middle" font-size="7.15" fill="#2E2E2E" stroke="#2E2E2E" stroke-width="0.12">2019</text><text x="386.19" y="992.9" text-anchor="middle" font-size="7.15" fill="#2E2E2E" stroke="#2E2E2E" stroke-width="0.12">2020</text><text x="405.28" y="992.9" text-anchor="middle" font-size="7.15" fill="#2E2E2E" stroke="#2E2E2E" stroke-width="0.12">2021</text><text x="424.37" y="992.9" text-anchor="middle" font-size="7.15" fill="#2E2E2E" stroke="#2E2E2E" stroke-width="0.12">2022</text><path d="M271.65 983.7V986.2M290.74 983.7V986.2M309.83 983.7V986.2M328.92 983.7V986.2M348.01 983.7V986.2M367.1 983.7V986.2M386.19 983.7V986.2M405.28 983.7V986.2M424.37 983.7V986.2" stroke="#333" stroke-width="1.1"/><text x="348" y="1003.6" text-anchor="middle" font-size="9.02" fill="#000" stroke="#000" stroke-width="0.1">Year</text><text x="240.3" y="890.75" transform="rotate(-90 240.3 890.75)" text-anchor="middle" font-size="9.02" fill="#000" stroke="#000" stroke-width="0.1">Score (%)</text><text x="485.45" y="778.6" font-size="10.82" fill="#000" xml:space="preserve">Staffing</text><text x="485.45" y="791.2" font-size="9.02" fill="#000" xml:space="preserve">AH (P = 0.001);  NAH (P = 0.13)</text><rect x="485.45" y="797.8" width="182.8" height="90.4" fill="#fff"/><path d="M485.45 804.73H668.25M485.45 817.07H668.25M485.45 829.41H668.25M485.45 841.75H668.25M485.45 854.1H668.25M485.45 866.44H668.25M485.45 878.78H668.25M490.96 797.8V888.2M510.05 797.8V888.2M529.13 797.8V888.2M548.22 797.8V888.2M567.31 797.8V888.2M586.4 797.8V888.2M605.5 797.8V888.2M624.58 797.8V888.2M643.67 797.8V888.2M662.76 797.8V888.2" stroke="#EEEEEE" stroke-width="0.5" fill="none"/><path d="M485.45 810.9H668.25M485.45 823.24H668.25M485.45 835.58H668.25M485.45 847.92H668.25M485.45 860.27H668.25M485.45 872.61H668.25M485.45 884.95H668.25M500.5 797.8V888.2M519.59 797.8V888.2M538.68 797.8V888.2M557.77 797.8V888.2M576.86 797.8V888.2M595.95 797.8V888.2M615.04 797.8V888.2M634.13 797.8V888.2M653.22 797.8V888.2" stroke="#E4E4E4" stroke-width="0.85" fill="none"/><g fill="#F8766D" fill-opacity="0.4" stroke="#F8766D" stroke-opacity="0.7" stroke-width="0.6"><circle cx="501.82" cy="867.68" r="2.35"/><circle cx="502.25" cy="849.09" r="2.35"/><circle cx="499.09" cy="865.63" r="2.35"/><circle cx="505.36" cy="863.46" r="2.35"/><circle cx="495.92" cy="861.47" r="2.35"/><circle cx="496.15" cy="859.85" r="2.35"/><circle cx="502.23" cy="859.15" r="2.35"/><circle cx="506.69" cy="856.12" r="2.35"/><circle cx="495.89" cy="852.8" r="2.35"/><circle cx="502.7" cy="838" r="2.35"/><circle cx="504.14" cy="839.38" r="2.35"/></g><g fill="#D39200" fill-opacity="0.4" stroke="#D39200" stroke-opacity="0.7" stroke-width="0.6"><circle cx="525.1" cy="878.22" r="2.35"/><circle cx="515.42" cy="822.74" r="2.35"/><circle cx="515.6" cy="873.96" r="2.35"/><circle cx="523.68" cy="858.92" r="2.35"/><circle cx="516.38" cy="854.87" r="2.35"/><circle cx="515.26" cy="853.3" r="2.35"/><circle cx="513.4" cy="852.25" r="2.35"/><circle cx="519.66" cy="849.93" r="2.35"/><circle cx="519.85" cy="847.2" r="2.35"/><circle cx="515.43" cy="842.94" r="2.35"/><circle cx="525.67" cy="841.42" r="2.35"/><circle cx="514.51" cy="834.64" r="2.35"/><circle cx="516.87" cy="824.85" r="2.35"/></g><g fill="#93AA00" fill-opacity="0.4" stroke="#93AA00" stroke-opacity="0.7" stroke-width="0.6"><circle cx="539.13" cy="860.19" r="2.35"/><circle cx="536.84" cy="813.03" r="2.35"/><circle cx="543.13" cy="859.59" r="2.35"/><circle cx="536.05" cy="855.8" r="2.35"/><circle cx="544.14" cy="851.88" r="2.35"/><circle cx="540.17" cy="850.15" r="2.35"/><circle cx="535.8" cy="849.9" r="2.35"/><circle cx="533.62" cy="848.41" r="2.35"/><circle cx="538.37" cy="847.29" r="2.35"/><circle cx="536.02" cy="844.82" r="2.35"/><circle cx="534.82" cy="843.32" r="2.35"/><circle cx="532.77" cy="841.58" r="2.35"/><circle cx="533.09" cy="840.45" r="2.35"/><circle cx="544.47" cy="839.39" r="2.35"/><circle cx="545.2" cy="837.65" r="2.35"/><circle cx="541.62" cy="835.07" r="2.35"/><circle cx="536.12" cy="833.97" r="2.35"/><circle cx="532.32" cy="827.74" r="2.35"/><circle cx="543.18" cy="822.14" r="2.35"/><circle cx="537.62" cy="814.41" r="2.35"/></g><g fill="#00BA38" fill-opacity="0.4" stroke="#00BA38" stroke-opacity="0.7" stroke-width="0.6"><circle cx="551.57" cy="860.19" r="2.35"/><circle cx="555.52" cy="813.03" r="2.35"/><circle cx="560.98" cy="858.06" r="2.35"/><circle cx="551.15" cy="856.71" r="2.35"/><circle cx="559.3" cy="854.57" r="2.35"/><circle cx="560.55" cy="853.41" r="2.35"/><circle cx="552.16" cy="851.23" r="2.35"/><circle cx="562.17" cy="850.6" r="2.35"/><circle cx="560.23" cy="850.05" r="2.35"/><circle cx="560.28" cy="847.62" r="2.35"/><circle cx="563.21" cy="845.01" r="2.35"/><circle cx="559.28" cy="844.63" r="2.35"/><circle cx="553.18" cy="842.43" r="2.35"/><circle cx="558.77" cy="840.65" r="2.35"/><circle cx="556.44" cy="839.15" r="2.35"/><circle cx="555.57" cy="838.56" r="2.35"/><circle cx="561.37" cy="836.09" r="2.35"/><circle cx="550.97" cy="835.69" r="2.35"/><circle cx="561.04" cy="833.56" r="2.35"/><circle cx="551.04" cy="832.8" r="2.35"/><circle cx="555.71" cy="830.54" r="2.35"/><circle cx="551.67" cy="829.28" r="2.35"/><circle cx="556.73" cy="824.91" r="2.35"/><circle cx="554.11" cy="821.23" r="2.35"/><circle cx="560.01" cy="817.16" r="2.35"/></g><g fill="#00C19F" fill-opacity="0.4" stroke="#00C19F" stroke-opacity="0.7" stroke-width="0.6"><circle cx="574.5" cy="883.77" r="2.35"/><circle cx="582.25" cy="815.8" r="2.35"/><circle cx="572.24" cy="881.27" r="2.35"/><circle cx="576.66" cy="874.22" r="2.35"/><circle cx="577.13" cy="871.9" r="2.35"/><circle cx="575.58" cy="867.69" r="2.35"/><circle cx="582.54" cy="863.43" r="2.35"/><circle cx="574.87" cy="859.68" r="2.35"/><circle cx="574.6" cy="858.31" r="2.35"/><circle cx="583.54" cy="855.8" r="2.35"/><circle cx="571.13" cy="855.46" r="2.35"/><circle cx="580.23" cy="852.36" r="2.35"/><circle cx="578.63" cy="850.64" r="2.35"/><circle cx="578.5" cy="848.84" r="2.35"/><circle cx="577.11" cy="848.51" r="2.35"/><circle cx="575.69" cy="845.9" r="2.35"/><circle cx="573.3" cy="845.29" r="2.35"/><circle cx="578.18" cy="842.37" r="2.35"/><circle cx="575.21" cy="842.04" r="2.35"/><circle cx="578.85" cy="840.06" r="2.35"/><circle cx="580.28" cy="838.62" r="2.35"/><circle cx="578.41" cy="837.71" r="2.35"/><circle cx="577.55" cy="834.77" r="2.35"/><circle cx="571" cy="831.23" r="2.35"/><circle cx="576.04" cy="829.13" r="2.35"/><circle cx="575.87" cy="825.12" r="2.35"/><circle cx="574.1" cy="820.69" r="2.35"/></g><g fill="#00B9E3" fill-opacity="0.4" stroke="#00B9E3" stroke-opacity="0.7" stroke-width="0.6"><circle cx="599.01" cy="866.57" r="2.35"/><circle cx="595.66" cy="806.1" r="2.35"/><circle cx="593.46" cy="865.66" r="2.35"/><circle cx="595.86" cy="863.29" r="2.35"/><circle cx="599.01" cy="860.77" r="2.35"/><circle cx="598.36" cy="858.73" r="2.35"/><circle cx="595.34" cy="857.1" r="2.35"/><circle cx="602.81" cy="855.87" r="2.35"/><circle cx="590.32" cy="855.45" r="2.35"/><circle cx="595.68" cy="853.81" r="2.35"/><circle cx="593.75" cy="852.63" r="2.35"/><circle cx="602.32" cy="852.01" r="2.35"/><circle cx="601.78" cy="849.73" r="2.35"/><circle cx="595.47" cy="848.48" r="2.35"/><circle cx="602.53" cy="848.04" r="2.35"/><circle cx="600.65" cy="846.83" r="2.35"/><circle cx="594.96" cy="845.51" r="2.35"/><circle cx="597.71" cy="842.89" r="2.35"/><circle cx="600.21" cy="842.56" r="2.35"/><circle cx="592.34" cy="839.9" r="2.35"/><circle cx="597.78" cy="838.92" r="2.35"/><circle cx="590.92" cy="837.33" r="2.35"/><circle cx="599.49" cy="836.06" r="2.35"/><circle cx="598.88" cy="833.95" r="2.35"/><circle cx="593.79" cy="831.88" r="2.35"/><circle cx="597.38" cy="830.29" r="2.35"/><circle cx="597.68" cy="827.57" r="2.35"/><circle cx="596.56" cy="823.54" r="2.35"/><circle cx="595.83" cy="818.97" r="2.35"/><circle cx="591.71" cy="814.09" r="2.35"/><circle cx="602.29" cy="809.92" r="2.35"/></g><g fill="#619CFF" fill-opacity="0.4" stroke="#619CFF" stroke-opacity="0.7" stroke-width="0.6"><circle cx="617.23" cy="875.44" r="2.35"/><circle cx="610.12" cy="801.93" r="2.35"/><circle cx="615.41" cy="870.88" r="2.35"/><circle cx="614.73" cy="867.21" r="2.35"/><circle cx="620.46" cy="864.1" r="2.35"/><circle cx="619.11" cy="860.04" r="2.35"/><circle cx="614.05" cy="853.42" r="2.35"/><circle cx="608.63" cy="850.32" r="2.35"/><circle cx="617.3" cy="848.94" r="2.35"/><circle cx="612.05" cy="848.41" r="2.35"/><circle cx="619.77" cy="846.58" r="2.35"/><circle cx="612.95" cy="844.77" r="2.35"/><circle cx="610.44" cy="843.69" r="2.35"/><circle cx="615.17" cy="842.43" r="2.35"/><circle cx="621.85" cy="839.97" r="2.35"/><circle cx="619.98" cy="838.08" r="2.35"/><circle cx="620.6" cy="837.68" r="2.35"/><circle cx="617.26" cy="836.05" r="2.35"/><circle cx="609.47" cy="834.18" r="2.35"/><circle cx="613.17" cy="833.96" r="2.35"/><circle cx="619.6" cy="832.57" r="2.35"/><circle cx="610.43" cy="831.6" r="2.35"/><circle cx="617.45" cy="829.25" r="2.35"/><circle cx="620.97" cy="828.81" r="2.35"/><circle cx="615.24" cy="828.01" r="2.35"/><circle cx="613.9" cy="825.41" r="2.35"/><circle cx="609.49" cy="822.44" r="2.35"/><circle cx="618.99" cy="816.88" r="2.35"/><circle cx="612.16" cy="815.68" r="2.35"/><circle cx="609.84" cy="810.39" r="2.35"/><circle cx="612.66" cy="806.2" r="2.35"/></g><g fill="#DB72FB" fill-opacity="0.4" stroke="#DB72FB" stroke-opacity="0.7" stroke-width="0.6"><circle cx="636.81" cy="862.96" r="2.35"/><circle cx="631.47" cy="807.48" r="2.35"/><circle cx="637.59" cy="862.36" r="2.35"/><circle cx="628.59" cy="861.08" r="2.35"/><circle cx="634.75" cy="858.15" r="2.35"/><circle cx="631.15" cy="856.66" r="2.35"/><circle cx="627.34" cy="856.12" r="2.35"/><circle cx="629.25" cy="854.33" r="2.35"/><circle cx="633.98" cy="853.8" r="2.35"/><circle cx="628.11" cy="852.88" r="2.35"/><circle cx="640.7" cy="852.33" r="2.35"/><circle cx="640.05" cy="851.17" r="2.35"/><circle cx="629.3" cy="851.01" r="2.35"/><circle cx="628.2" cy="849.65" r="2.35"/><circle cx="627.77" cy="848.13" r="2.35"/><circle cx="639.19" cy="847.14" r="2.35"/><circle cx="629.55" cy="845.71" r="2.35"/><circle cx="635.16" cy="844.69" r="2.35"/><circle cx="631.19" cy="843.94" r="2.35"/><circle cx="632.85" cy="842.21" r="2.35"/><circle cx="640.74" cy="841.43" r="2.35"/><circle cx="637.32" cy="840.27" r="2.35"/><circle cx="638.7" cy="838.64" r="2.35"/><circle cx="635.71" cy="837.77" r="2.35"/><circle cx="635.85" cy="836.65" r="2.35"/><circle cx="632.63" cy="834.51" r="2.35"/><circle cx="639.42" cy="833.81" r="2.35"/><circle cx="636.84" cy="831.66" r="2.35"/><circle cx="635.53" cy="831.4" r="2.35"/><circle cx="628.52" cy="829.74" r="2.35"/><circle cx="638.36" cy="828.33" r="2.35"/><circle cx="638.76" cy="827.86" r="2.35"/><circle cx="635.4" cy="826.09" r="2.35"/><circle cx="631.49" cy="822.93" r="2.35"/><circle cx="634.72" cy="821.09" r="2.35"/><circle cx="630.64" cy="817.68" r="2.35"/><circle cx="637.12" cy="814.55" r="2.35"/><circle cx="635.3" cy="812.52" r="2.35"/><circle cx="634.65" cy="810.47" r="2.35"/></g><g fill="#FF61C3" fill-opacity="0.4" stroke="#FF61C3" stroke-opacity="0.7" stroke-width="0.6"><circle cx="646.91" cy="867.68" r="2.35"/><circle cx="656.2" cy="803.32" r="2.35"/><circle cx="654.77" cy="866.77" r="2.35"/><circle cx="656.79" cy="865.72" r="2.35"/><circle cx="646.91" cy="862.74" r="2.35"/><circle cx="657.66" cy="862.47" r="2.35"/><circle cx="646.6" cy="860.56" r="2.35"/><circle cx="652.21" cy="859.18" r="2.35"/><circle cx="652.44" cy="857.58" r="2.35"/><circle cx="652.12" cy="856.18" r="2.35"/><circle cx="653.71" cy="855.66" r="2.35"/><circle cx="656.24" cy="854.6" r="2.35"/><circle cx="657.41" cy="853.6" r="2.35"/><circle cx="660.08" cy="852.9" r="2.35"/><circle cx="650.29" cy="852.68" r="2.35"/><circle cx="651.97" cy="851.65" r="2.35"/><circle cx="652.77" cy="851.24" r="2.35"/><circle cx="655.12" cy="850.54" r="2.35"/><circle cx="658.75" cy="849.77" r="2.35"/><circle cx="657.42" cy="849.25" r="2.35"/><circle cx="655.1" cy="848.63" r="2.35"/><circle cx="648.75" cy="847.51" r="2.35"/><circle cx="647.89" cy="846.63" r="2.35"/><circle cx="658.98" cy="846.1" r="2.35"/><circle cx="657.46" cy="845.46" r="2.35"/><circle cx="651.65" cy="844.71" r="2.35"/><circle cx="655.23" cy="844.16" r="2.35"/><circle cx="650.18" cy="843.44" r="2.35"/><circle cx="656.92" cy="842.04" r="2.35"/><circle cx="652.38" cy="841.86" r="2.35"/><circle cx="658.72" cy="840.88" r="2.35"/><circle cx="659.21" cy="839.99" r="2.35"/><circle cx="656.05" cy="838.8" r="2.35"/><circle cx="652.82" cy="837.93" r="2.35"/><circle cx="657.51" cy="837.09" r="2.35"/><circle cx="659.78" cy="836.4" r="2.35"/><circle cx="651.29" cy="835.47" r="2.35"/><circle cx="651.83" cy="834.87" r="2.35"/><circle cx="649.05" cy="833.82" r="2.35"/><circle cx="657.33" cy="833.33" r="2.35"/><circle cx="649.37" cy="832.61" r="2.35"/><circle cx="656.98" cy="830.69" r="2.35"/><circle cx="659.34" cy="829.97" r="2.35"/><circle cx="655" cy="828.05" r="2.35"/><circle cx="648.35" cy="826.58" r="2.35"/><circle cx="653.96" cy="822.91" r="2.35"/><circle cx="648.12" cy="819.65" r="2.35"/><circle cx="651.95" cy="818.27" r="2.35"/><circle cx="648.44" cy="814.16" r="2.35"/><circle cx="652.21" cy="810.97" r="2.35"/><circle cx="656.03" cy="807.59" r="2.35"/><circle cx="649.67" cy="805.65" r="2.35"/></g><path d="M500.5 849.09V856.58M500.5 863.52V867.68" stroke="#F8766D" stroke-width="1.0" fill="none"/><rect x="493.35" y="856.58" width="14.3" height="6.93" fill="#fff" fill-opacity="0.72" stroke="#F8766D" stroke-width="1.05"/><path d="M493.35 860.19H507.65" stroke="#FF3426" stroke-width="1.5"/><path d="M519.59 822.74V842.16M519.59 854.64V878.22" stroke="#D39200" stroke-width="1.0" fill="none"/><rect x="512.44" y="842.16" width="14.3" height="12.48" fill="#fff" fill-opacity="0.72" stroke="#D39200" stroke-width="1.05"/><path d="M512.44 849.92H526.74" stroke="#AD7800" stroke-width="1.5"/><path d="M538.68 813.03V835.78M538.68 849.65V860.19" stroke="#93AA00" stroke-width="1.0" fill="none"/><rect x="531.53" y="835.78" width="14.3" height="13.87" fill="#fff" fill-opacity="0.72" stroke="#93AA00" stroke-width="1.05"/><path d="M531.53 842.71H545.83" stroke="#798B00" stroke-width="1.5"/><path d="M557.77 813.03V833M557.77 850.48V860.19" stroke="#00BA38" stroke-width="1.0" fill="none"/><rect x="550.62" y="833" width="14.3" height="17.48" fill="#fff" fill-opacity="0.72" stroke="#00BA38" stroke-width="1.05"/><path d="M550.62 840.77H564.92" stroke="#00992E" stroke-width="1.5"/><path d="M576.86 815.8V838M576.86 858.8V883.77" stroke="#00C19F" stroke-width="1.0" fill="none"/><rect x="569.71" y="838" width="14.3" height="20.8" fill="#fff" fill-opacity="0.72" stroke="#00C19F" stroke-width="1.05"/><path d="M569.71 847.7H584.01" stroke="#009E82" stroke-width="1.5"/><path d="M595.95 806.1V833.83M595.95 854.64V866.57" stroke="#00B9E3" stroke-width="1.0" fill="none"/><rect x="588.8" y="833.83" width="14.3" height="20.8" fill="#fff" fill-opacity="0.72" stroke="#00B9E3" stroke-width="1.05"/><path d="M588.8 844.93H603.1" stroke="#0098BA" stroke-width="1.5"/><path d="M615.04 801.93V828.29M615.04 848.26V875.44" stroke="#619CFF" stroke-width="1.0" fill="none"/><rect x="607.89" y="828.29" width="14.3" height="19.97" fill="#fff" fill-opacity="0.72" stroke="#619CFF" stroke-width="1.05"/><path d="M607.89 837.16H622.19" stroke="#2274FF" stroke-width="1.5"/><path d="M634.13 807.48V829.12M634.13 851.87V862.96" stroke="#DB72FB" stroke-width="1.0" fill="none"/><rect x="626.98" y="829.12" width="14.3" height="22.75" fill="#fff" fill-opacity="0.72" stroke="#DB72FB" stroke-width="1.05"/><path d="M626.98 841.6H641.28" stroke="#CE2CFF" stroke-width="1.5"/><path d="M653.22 803.32V833.28M653.22 852.7V867.68" stroke="#FF61C3" stroke-width="1.0" fill="none"/><rect x="646.07" y="833.28" width="14.3" height="19.42" fill="#fff" fill-opacity="0.72" stroke="#FF61C3" stroke-width="1.05"/><path d="M646.07 843.54H660.37" stroke="#FF22AB" stroke-width="1.5"/><path d="M500.5 844.93L504.32 844.81L508.14 844.69L511.95 844.57L515.77 844.46L519.59 844.33L523.41 844.21L527.23 844.09L531.04 843.97L534.86 843.84L538.68 843.72L542.5 843.59L546.32 843.46L550.13 843.33L553.95 843.2L557.77 843.06L561.59 842.92L565.41 842.77L569.22 842.62L573.04 842.46L576.86 842.3L580.68 842.12L584.5 841.93L588.31 841.73L592.13 841.52L595.95 841.29L599.77 841.05L603.59 840.79L607.4 840.53L611.22 840.25L615.04 839.97L618.86 839.68L622.68 839.38L626.49 839.08L630.31 838.78L634.13 838.47L637.95 838.15L641.77 837.84L645.58 837.52L649.4 837.21L653.22 836.89L653.22 840.77L649.4 840.89L645.58 841.02L641.77 841.15L637.95 841.28L634.13 841.41L630.31 841.54L626.49 841.68L622.68 841.82L618.86 841.97L615.04 842.12L611.22 842.28L607.4 842.45L603.59 842.63L599.77 842.82L595.95 843.02L592.13 843.24L588.31 843.47L584.5 843.71L580.68 843.97L576.86 844.24L573.04 844.51L569.22 844.8L565.41 845.09L561.59 845.39L557.77 845.69L553.95 846L550.13 846.31L546.32 846.62L542.5 846.94L538.68 847.25L534.86 847.57L531.04 847.89L527.23 848.21L523.41 848.53L519.59 848.86L515.77 849.18L511.95 849.5L508.14 849.83L504.32 850.15L500.5 850.48Z" fill="#999999" fill-opacity="0.34"/><path d="M500.5 847.7L653.22 838.83" stroke="#000" stroke-width="1.85"/><rect x="485.45" y="797.8" width="182.8" height="90.4" fill="none" stroke="#333" stroke-width="0.9"/><rect x="668.25" y="797.8" width="13.3" height="90.4" fill="#D9D9D9" stroke="#333" stroke-width="0.9"/><text x="674.9" y="843" transform="rotate(90 674.9 843)" font-size="7.35" fill="#1A1A1A" text-anchor="middle" dy="0.36em">AH</text><text x="481.25" y="810.9" dy="0.36em" text-anchor="end" font-size="7.15" fill="#2E2E2E" stroke="#2E2E2E" stroke-width="0.12">67</text><text x="481.25" y="823.24" dy="0.36em" text-anchor="end" font-size="7.15" fill="#2E2E2E" stroke="#2E2E2E" stroke-width="0.12">61</text><text x="481.25" y="835.58" dy="0.36em" text-anchor="end" font-size="7.15" fill="#2E2E2E" stroke="#2E2E2E" stroke-width="0.12">55</text><text x="481.25" y="847.92" dy="0.36em" text-anchor="end" font-size="7.15" fill="#2E2E2E" stroke="#2E2E2E" stroke-width="0.12">49</text><text x="481.25" y="860.27" dy="0.36em" text-anchor="end" font-size="7.15" fill="#2E2E2E" stroke="#2E2E2E" stroke-width="0.12">43</text><text x="481.25" y="872.61" dy="0.36em" text-anchor="end" font-size="7.15" fill="#2E2E2E" stroke="#2E2E2E" stroke-width="0.12">37</text><text x="481.25" y="884.95" dy="0.36em" text-anchor="end" font-size="7.15" fill="#2E2E2E" stroke="#2E2E2E" stroke-width="0.12">31</text><path d="M482.95 810.9H485.45M482.95 823.24H485.45M482.95 835.58H485.45M482.95 847.92H485.45M482.95 860.27H485.45M482.95 872.61H485.45M482.95 884.95H485.45" stroke="#333" stroke-width="1.1"/><rect x="485.45" y="893.3" width="182.8" height="90.4" fill="#fff"/><path d="M485.45 900.23H668.25M485.45 912.57H668.25M485.45 924.91H668.25M485.45 937.25H668.25M485.45 949.6H668.25M485.45 961.94H668.25M485.45 974.28H668.25M490.96 893.3V983.7M510.05 893.3V983.7M529.13 893.3V983.7M548.22 893.3V983.7M567.31 893.3V983.7M586.4 893.3V983.7M605.5 893.3V983.7M624.58 893.3V983.7M643.67 893.3V983.7M662.76 893.3V983.7" stroke="#EEEEEE" stroke-width="0.5" fill="none"/><path d="M485.45 906.4H668.25M485.45 918.74H668.25M485.45 931.08H668.25M485.45 943.42H668.25M485.45 955.77H668.25M485.45 968.11H668.25M485.45 980.45H668.25M500.5 893.3V983.7M519.59 893.3V983.7M538.68 893.3V983.7M557.77 893.3V983.7M576.86 893.3V983.7M595.95 893.3V983.7M615.04 893.3V983.7M634.13 893.3V983.7M653.22 893.3V983.7" stroke="#E4E4E4" stroke-width="0.85" fill="none"/><g fill="#F8766D" fill-opacity="0.4" stroke="#F8766D" stroke-opacity="0.7" stroke-width="0.6"><circle cx="495.81" cy="953.11" r="2.35"/><circle cx="496.37" cy="946.18" r="2.35"/><circle cx="507.26" cy="949.88" r="2.35"/></g><g fill="#D39200" fill-opacity="0.4" stroke="#D39200" stroke-opacity="0.7" stroke-width="0.6"><circle cx="514.83" cy="933.14" r="2.35"/><circle cx="521" cy="908.73" r="2.35"/><circle cx="520.57" cy="916.37" r="2.35"/><circle cx="521.08" cy="911.02" r="2.35"/></g><g fill="#93AA00" fill-opacity="0.4" stroke="#93AA00" stroke-opacity="0.7" stroke-width="0.6"><circle cx="538.32" cy="944.79" r="2.35"/><circle cx="534.2" cy="912.89" r="2.35"/><circle cx="541.26" cy="937.04" r="2.35"/><circle cx="535.74" cy="935.55" r="2.35"/><circle cx="531.92" cy="921.9" r="2.35"/></g><g fill="#00BA38" fill-opacity="0.4" stroke="#00BA38" stroke-opacity="0.7" stroke-width="0.6"><circle cx="562.35" cy="944.79" r="2.35"/><circle cx="562.1" cy="908.18" r="2.35"/><circle cx="555.69" cy="939.7" r="2.35"/><circle cx="560.86" cy="922.88" r="2.35"/><circle cx="563.25" cy="914.85" r="2.35"/><circle cx="559.53" cy="911.07" r="2.35"/><circle cx="563.75" cy="909.33" r="2.35"/></g><g fill="#00C19F" fill-opacity="0.4" stroke="#00C19F" stroke-opacity="0.7" stroke-width="0.6"><circle cx="575.67" cy="961.99" r="2.35"/><circle cx="576.78" cy="908.18" r="2.35"/><circle cx="583.53" cy="954.09" r="2.35"/><circle cx="578.37" cy="943.51" r="2.35"/><circle cx="580.64" cy="939.84" r="2.35"/><circle cx="579.3" cy="934.23" r="2.35"/><circle cx="575.85" cy="932.46" r="2.35"/><circle cx="579.06" cy="928.34" r="2.35"/><circle cx="581.38" cy="918.84" r="2.35"/></g><g fill="#00B9E3" fill-opacity="0.4" stroke="#00B9E3" stroke-opacity="0.7" stroke-width="0.6"><circle cx="589.88" cy="950.89" r="2.35"/><circle cx="601.42" cy="897.64" r="2.35"/><circle cx="597.3" cy="950.56" r="2.35"/><circle cx="594.82" cy="949.23" r="2.35"/><circle cx="597.64" cy="941.29" r="2.35"/><circle cx="589.33" cy="937.22" r="2.35"/><circle cx="594.76" cy="932.84" r="2.35"/><circle cx="596.05" cy="925.82" r="2.35"/><circle cx="597.47" cy="899.76" r="2.35"/></g><g fill="#619CFF" fill-opacity="0.4" stroke="#619CFF" stroke-opacity="0.7" stroke-width="0.6"><circle cx="615.45" cy="953.11" r="2.35"/><circle cx="609.76" cy="898.47" r="2.35"/><circle cx="619.91" cy="943.43" r="2.35"/><circle cx="609.02" cy="937.13" r="2.35"/><circle cx="618.6" cy="932.04" r="2.35"/><circle cx="613.48" cy="929.69" r="2.35"/><circle cx="618.13" cy="919.84" r="2.35"/><circle cx="610.47" cy="917.16" r="2.35"/><circle cx="618" cy="911.94" r="2.35"/><circle cx="621.32" cy="898.9" r="2.35"/></g><g fill="#DB72FB" fill-opacity="0.4" stroke="#DB72FB" stroke-opacity="0.7" stroke-width="0.6"><circle cx="627.33" cy="964.21" r="2.35"/><circle cx="628.83" cy="923.99" r="2.35"/><circle cx="640.28" cy="961.54" r="2.35"/><circle cx="632.02" cy="954.22" r="2.35"/><circle cx="632.74" cy="948.88" r="2.35"/><circle cx="631.94" cy="946.24" r="2.35"/><circle cx="639.53" cy="940.67" r="2.35"/><circle cx="638.52" cy="936.86" r="2.35"/><circle cx="631.12" cy="930.77" r="2.35"/><circle cx="636.86" cy="924.38" r="2.35"/><circle cx="628.91" cy="903.18" r="2.35"/></g><g fill="#FF61C3" fill-opacity="0.4" stroke="#FF61C3" stroke-opacity="0.7" stroke-width="0.6"><circle cx="652.89" cy="962.82" r="2.35"/><circle cx="657.81" cy="925.37" r="2.35"/><circle cx="652.74" cy="958.75" r="2.35"/><circle cx="653.67" cy="950.1" r="2.35"/><circle cx="657.48" cy="947.53" r="2.35"/><circle cx="650.78" cy="943.91" r="2.35"/><circle cx="656.01" cy="940.62" r="2.35"/><circle cx="650.61" cy="936.63" r="2.35"/><circle cx="659.95" cy="935.43" r="2.35"/><circle cx="657.53" cy="932.32" r="2.35"/><circle cx="652.83" cy="929.31" r="2.35"/><circle cx="655.72" cy="927.07" r="2.35"/><circle cx="649.93" cy="903.18" r="2.35"/></g><path d="M500.5 946.18V947.01M500.5 950.89V953.11" stroke="#F8766D" stroke-width="1.0" fill="none"/><rect x="493.35" y="947.01" width="14.3" height="3.88" fill="#fff" fill-opacity="0.72" stroke="#F8766D" stroke-width="1.05"/><path d="M493.35 948.95H507.65" stroke="#FF3426" stroke-width="1.5"/><path d="M519.59 908.73V912.34M519.59 923.99V933.14" stroke="#D39200" stroke-width="1.0" fill="none"/><rect x="512.44" y="912.34" width="14.3" height="11.65" fill="#fff" fill-opacity="0.72" stroke="#D39200" stroke-width="1.05"/><path d="M512.44 914.28H526.74" stroke="#AD7800" stroke-width="1.5"/><path d="M538.68 912.89V922.05M538.68 938.69V944.79" stroke="#93AA00" stroke-width="1.0" fill="none"/><rect x="531.53" y="922.05" width="14.3" height="16.64" fill="#fff" fill-opacity="0.72" stroke="#93AA00" stroke-width="1.05"/><path d="M531.53 932.31H545.83" stroke="#798B00" stroke-width="1.5"/><path d="M557.77 908.18V910.12M557.77 924.54V944.79" stroke="#00BA38" stroke-width="1.0" fill="none"/><rect x="550.62" y="910.12" width="14.3" height="14.42" fill="#fff" fill-opacity="0.72" stroke="#00BA38" stroke-width="1.05"/><path d="M550.62 917.05H564.92" stroke="#00992E" stroke-width="1.5"/><path d="M576.86 908.18V928.15M576.86 943.4V961.99" stroke="#00C19F" stroke-width="1.0" fill="none"/><rect x="569.71" y="928.15" width="14.3" height="15.26" fill="#fff" fill-opacity="0.72" stroke="#00C19F" stroke-width="1.05"/><path d="M569.71 935.08H584.01" stroke="#009E82" stroke-width="1.5"/><path d="M595.95 897.64V927.59M595.95 948.95V950.89" stroke="#00B9E3" stroke-width="1.0" fill="none"/><rect x="588.8" y="927.59" width="14.3" height="21.36" fill="#fff" fill-opacity="0.72" stroke="#00B9E3" stroke-width="1.05"/><path d="M588.8 935.92H603.1" stroke="#0098BA" stroke-width="1.5"/><path d="M615.04 898.47V912.06M615.04 937.02V953.11" stroke="#619CFF" stroke-width="1.0" fill="none"/><rect x="607.89" y="912.06" width="14.3" height="24.97" fill="#fff" fill-opacity="0.72" stroke="#619CFF" stroke-width="1.05"/><path d="M607.89 925.93H622.19" stroke="#2274FF" stroke-width="1.5"/><path d="M634.13 923.99V932.31M634.13 950.34V964.21" stroke="#DB72FB" stroke-width="1.0" fill="none"/><rect x="626.98" y="932.31" width="14.3" height="18.03" fill="#fff" fill-opacity="0.72" stroke="#DB72FB" stroke-width="1.05"/><path d="M626.98 944.79H641.28" stroke="#CE2CFF" stroke-width="1.5"/><path d="M653.22 925.37V930.92M653.22 947.57V962.82" stroke="#FF61C3" stroke-width="1.0" fill="none"/><rect x="646.07" y="930.92" width="14.3" height="16.64" fill="#fff" fill-opacity="0.72" stroke="#FF61C3" stroke-width="1.05"/><path d="M646.07 938.69H660.37" stroke="#FF22AB" stroke-width="1.5"/><path d="M500.5 913.72L504.32 914.42L508.14 915.12L511.95 915.82L515.77 916.52L519.59 917.22L523.41 917.92L527.23 918.61L531.04 919.31L534.86 920.01L538.68 920.7L542.5 921.4L546.32 922.09L550.13 922.79L553.95 923.48L557.77 924.17L561.59 924.86L565.41 925.55L569.22 926.24L573.04 926.92L576.86 927.59L580.68 928.26L584.5 928.92L588.31 929.57L592.13 930.2L595.95 930.79L599.77 931.33L603.59 931.79L607.4 932.13L611.22 932.35L615.04 932.47L618.86 932.51L622.68 932.51L626.49 932.49L630.31 932.45L634.13 932.39L637.95 932.33L641.77 932.26L645.58 932.19L649.4 932.11L653.22 932.03L653.22 942.02L649.4 941.33L645.58 940.64L641.77 939.96L637.95 939.28L634.13 938.61L630.31 937.94L626.49 937.29L622.68 936.65L618.86 936.05L615.04 935.48L611.22 934.99L607.4 934.59L603.59 934.33L599.77 934.17L595.95 934.1L592.13 934.09L588.31 934.1L584.5 934.14L580.68 934.19L576.86 934.25L573.04 934.32L569.22 934.39L565.41 934.46L561.59 934.54L557.77 934.62L553.95 934.7L550.13 934.78L546.32 934.87L542.5 934.95L538.68 935.04L534.86 935.12L531.04 935.21L527.23 935.3L523.41 935.38L519.59 935.47L515.77 935.56L511.95 935.65L508.14 935.74L504.32 935.83L500.5 935.92Z" fill="#999999" fill-opacity="0.34"/><path d="M500.5 924.82L653.22 937.02" stroke="#000" stroke-width="1.85"/><rect x="485.45" y="893.3" width="182.8" height="90.4" fill="none" stroke="#333" stroke-width="0.9"/><rect x="668.25" y="893.3" width="13.3" height="90.4" fill="#D9D9D9" stroke="#333" stroke-width="0.9"/><text x="674.9" y="938.5" transform="rotate(90 674.9 938.5)" font-size="7.35" fill="#1A1A1A" text-anchor="middle" dy="0.36em">NAH</text><text x="481.25" y="906.4" dy="0.36em" text-anchor="end" font-size="7.15" fill="#2E2E2E" stroke="#2E2E2E" stroke-width="0.12">67</text><text x="481.25" y="918.74" dy="0.36em" text-anchor="end" font-size="7.15" fill="#2E2E2E" stroke="#2E2E2E" stroke-width="0.12">61</text><text x="481.25" y="931.08" dy="0.36em" text-anchor="end" font-size="7.15" fill="#2E2E2E" stroke="#2E2E2E" stroke-width="0.12">55</text><text x="481.25" y="943.42" dy="0.36em" text-anchor="end" font-size="7.15" fill="#2E2E2E" stroke="#2E2E2E" stroke-width="0.12">49</text><text x="481.25" y="955.77" dy="0.36em" text-anchor="end" font-size="7.15" fill="#2E2E2E" stroke="#2E2E2E" stroke-width="0.12">43</text><text x="481.25" y="968.11" dy="0.36em" text-anchor="end" font-size="7.15" fill="#2E2E2E" stroke="#2E2E2E" stroke-width="0.12">37</text><text x="481.25" y="980.45" dy="0.36em" text-anchor="end" font-size="7.15" fill="#2E2E2E" stroke="#2E2E2E" stroke-width="0.12">31</text><path d="M482.95 906.4H485.45M482.95 918.74H485.45M482.95 931.08H485.45M482.95 943.42H485.45M482.95 955.77H485.45M482.95 968.11H485.45M482.95 980.45H485.45" stroke="#333" stroke-width="1.1"/><text x="500.5" y="992.9" text-anchor="middle" font-size="7.15" fill="#2E2E2E" stroke="#2E2E2E" stroke-width="0.12">2014</text><text x="519.59" y="992.9" text-anchor="middle" font-size="7.15" fill="#2E2E2E" stroke="#2E2E2E" stroke-width="0.12">2015</text><text x="538.68" y="992.9" text-anchor="middle" font-size="7.15" fill="#2E2E2E" stroke="#2E2E2E" stroke-width="0.12">2016</text><text x="557.77" y="992.9" text-anchor="middle" font-size="7.15" fill="#2E2E2E" stroke="#2E2E2E" stroke-width="0.12">2017</text><text x="576.86" y="992.9" text-anchor="middle" font-size="7.15" fill="#2E2E2E" stroke="#2E2E2E" stroke-width="0.12">2018</text><text x="595.95" y="992.9" text-anchor="middle" font-size="7.15" fill="#2E2E2E" stroke="#2E2E2E" stroke-width="0.12">2019</text><text x="615.04" y="992.9" text-anchor="middle" font-size="7.15" fill="#2E2E2E" stroke="#2E2E2E" stroke-width="0.12">2020</text><text x="634.13" y="992.9" text-anchor="middle" font-size="7.15" fill="#2E2E2E" stroke="#2E2E2E" stroke-width="0.12">2021</text><text x="653.22" y="992.9" text-anchor="middle" font-size="7.15" fill="#2E2E2E" stroke="#2E2E2E" stroke-width="0.12">2022</text><path d="M500.5 983.7V986.2M519.59 983.7V986.2M538.68 983.7V986.2M557.77 983.7V986.2M576.86 983.7V986.2M595.95 983.7V986.2M615.04 983.7V986.2M634.13 983.7V986.2M653.22 983.7V986.2" stroke="#333" stroke-width="1.1"/><text x="576.85" y="1003.6" text-anchor="middle" font-size="9.02" fill="#000" stroke="#000" stroke-width="0.1">Year</text><text x="469.15" y="890.75" transform="rotate(-90 469.15 890.75)" text-anchor="middle" font-size="9.02" fill="#000" stroke="#000" stroke-width="0.1">Score (%)</text></svg></body></html>
